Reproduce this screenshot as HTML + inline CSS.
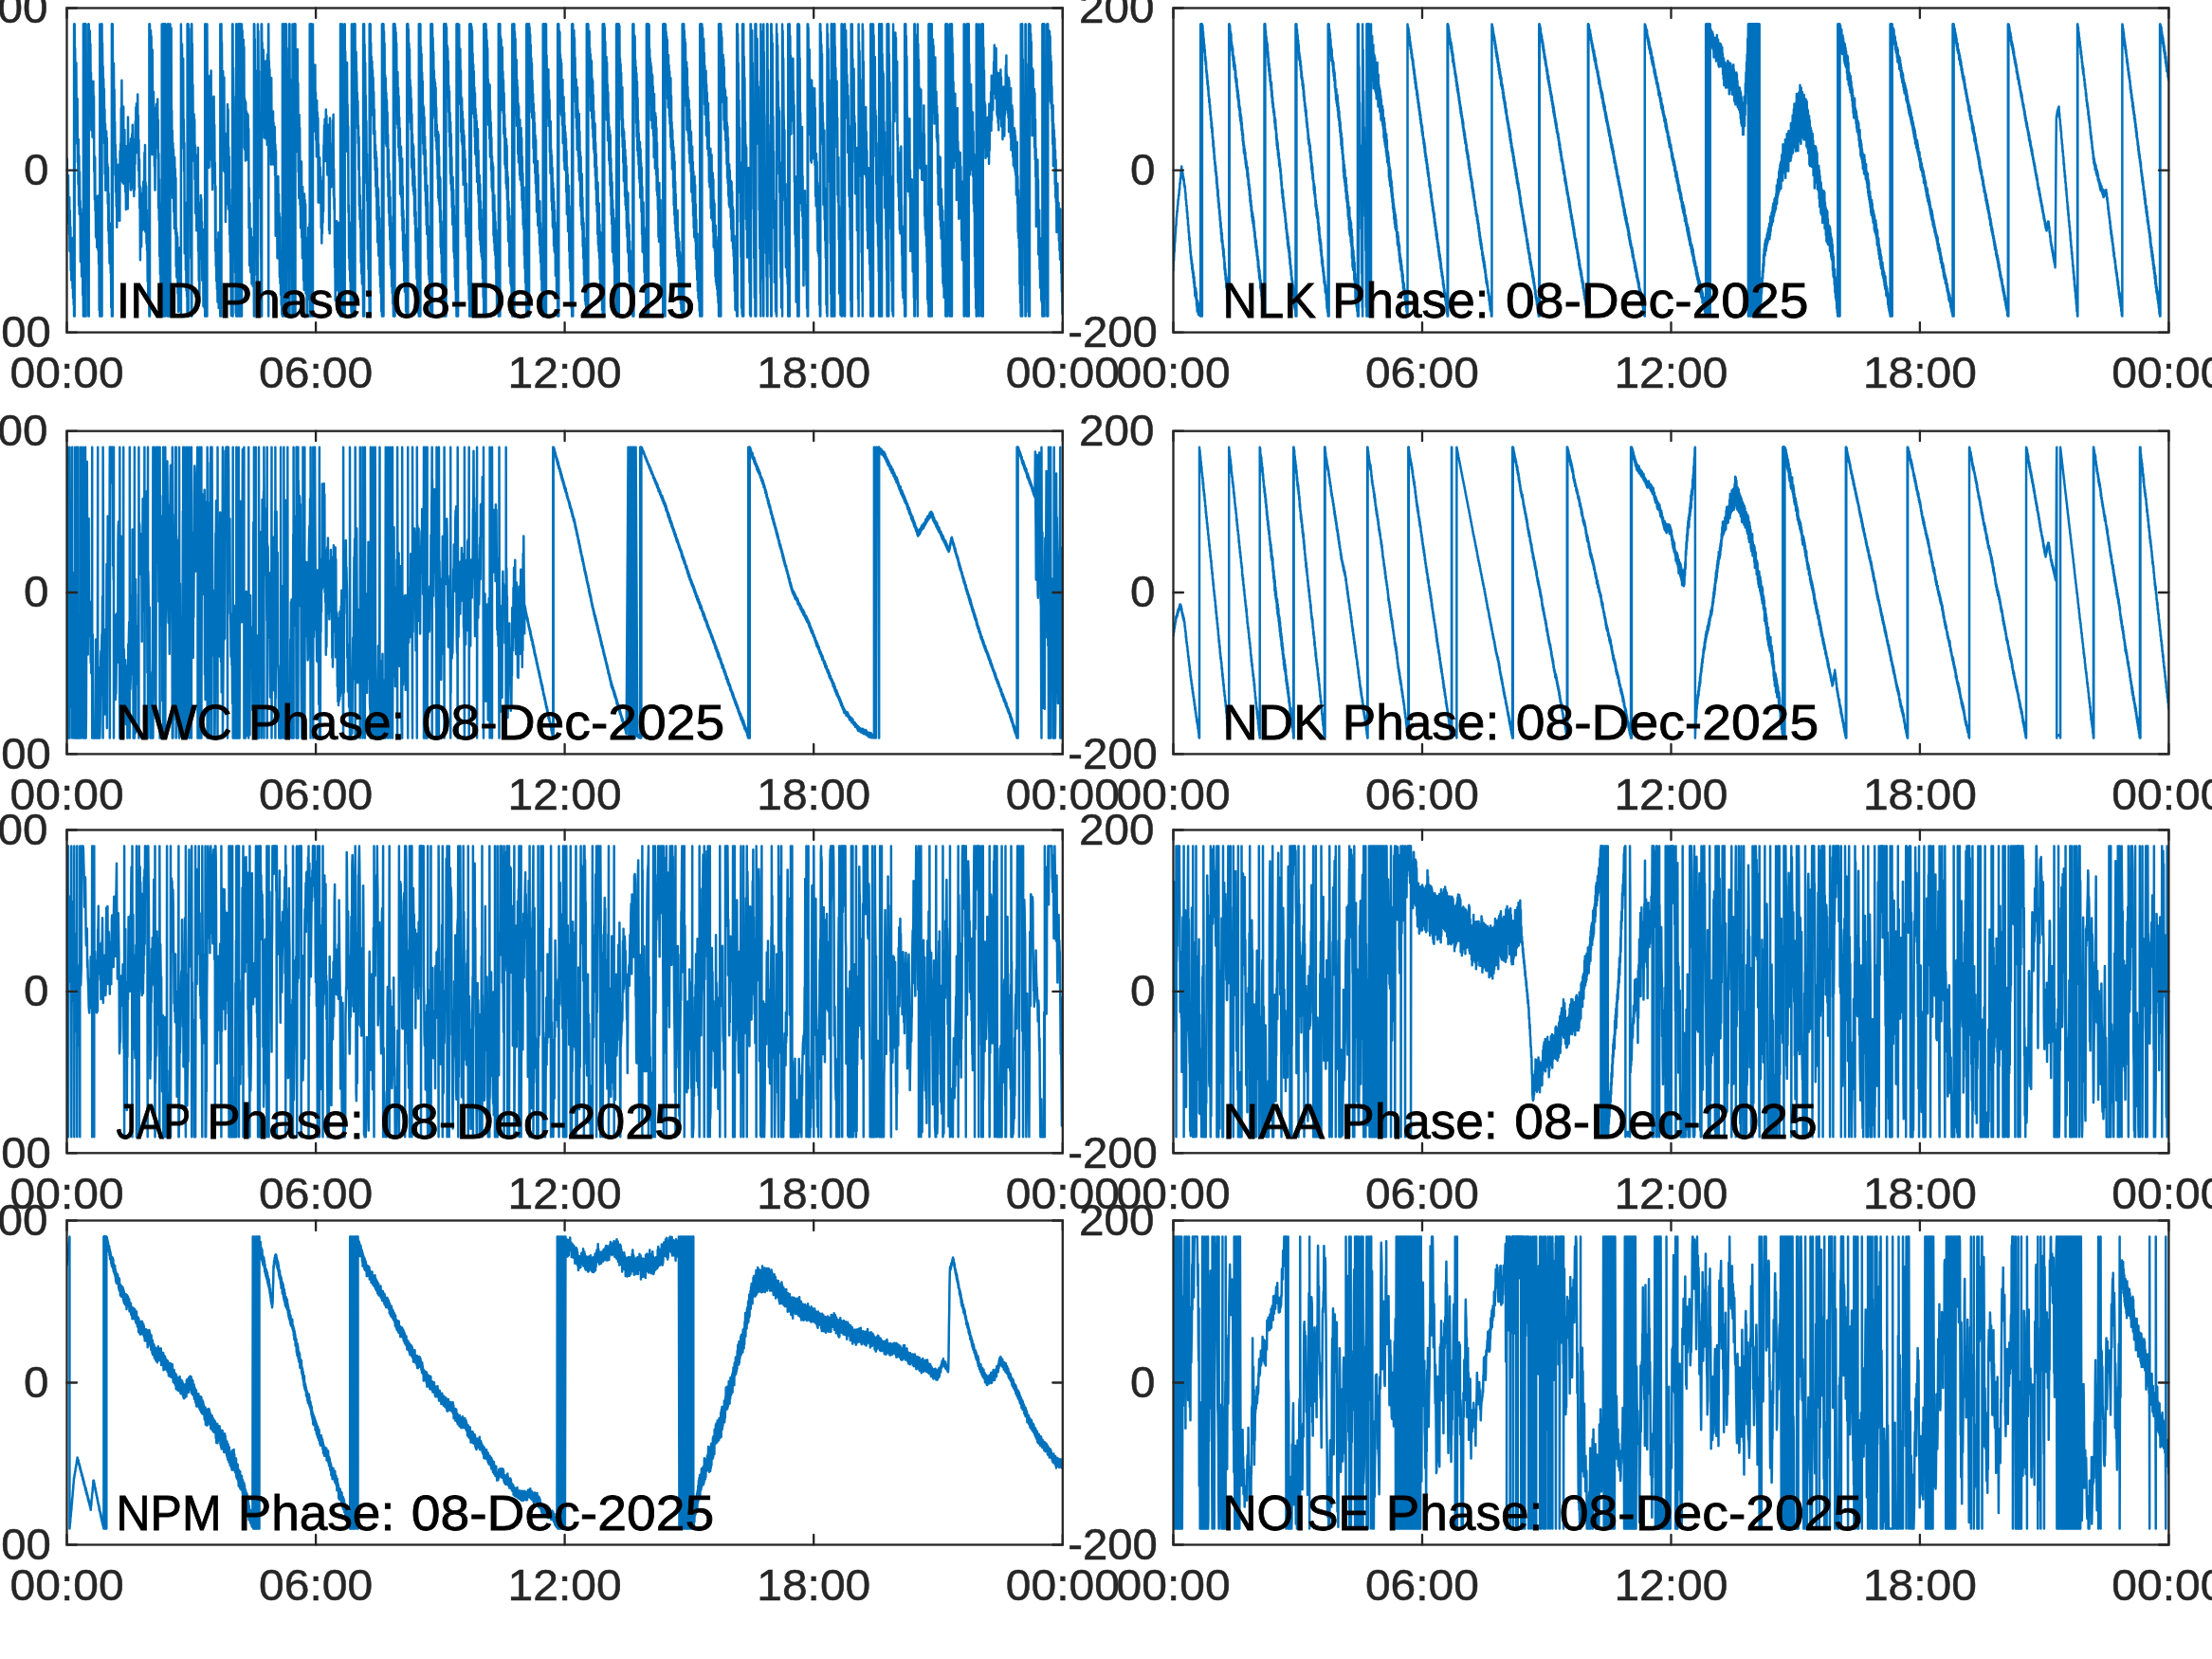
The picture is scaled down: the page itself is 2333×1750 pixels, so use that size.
<!DOCTYPE html>
<html><head><meta charset="utf-8"><title>VLF Phase 08-Dec-2025</title>
<style>
html,body{margin:0;padding:0;background:#fff;}
body{width:2333px;height:1750px;overflow:hidden;}
svg{display:block;font-family:"Liberation Sans", sans-serif;}
.ax{fill:none;stroke:#262626;stroke-width:2.3;stroke-linecap:square;stroke-linejoin:miter;}
.tk{fill:none;stroke:#262626;stroke-width:2.3;stroke-linecap:round;}
.d{fill:none;stroke:#0072bd;stroke-width:2.5;stroke-linejoin:round;stroke-linecap:round;}
.tl{fill:#262626;font-size:46.0px;stroke:#262626;stroke-width:0.5px;}
.lb{fill:#000;font-size:52.6px;stroke:#000;stroke-width:0.8px;}
</style></head><body>
<svg width="2333" height="1750" viewBox="0 0 2333 1750">
<rect x="0" y="0" width="2333" height="1750" fill="#fff"/>
<defs>
<filter id="g" filterUnits="userSpaceOnUse" x="0" y="0" width="2333" height="1750"><feOffset dx="0" dy="0"/></filter>
<clipPath id="c0"><rect x="70.5" y="8.5" width="1050.3" height="342.1"/></clipPath>
<clipPath id="c1"><rect x="1237.5" y="8.5" width="1049.9" height="342.1"/></clipPath>
<clipPath id="c2"><rect x="70.5" y="454.7" width="1050.3" height="340.7"/></clipPath>
<clipPath id="c3"><rect x="1237.5" y="454.7" width="1049.9" height="340.7"/></clipPath>
<clipPath id="c4"><rect x="70.5" y="875.5" width="1050.3" height="340.8"/></clipPath>
<clipPath id="c5"><rect x="1237.5" y="875.5" width="1049.9" height="340.8"/></clipPath>
<clipPath id="c6"><rect x="70.5" y="1287.5" width="1050.3" height="342"/></clipPath>
<clipPath id="c7"><rect x="1237.5" y="1287.5" width="1049.9" height="342"/></clipPath>
</defs>
<g id="ax-IND">
<path class="d" clip-path="url(#c0)" d="M70.5 204.9l.3-37.3 .3 40.6 .3-22.4 .3 39 .3-39.9 .3 51.1 .3-26.1 .3 37 .3-38.8 .3 56.6 .3-42.4 .3 43.4 .3-26.1 .3 45.8 .3-33.8 .3 43.9 .3-36.3 .3 36.7 .3-39.8 .3 48 .3-53 .3 63.3 .3-51.7 .3 58.8 .3-16.9 .1 28.9 0-307.9 .2 37.2 .2-37.2 0 307.9 .1-18.7 .1 18.7 0-307.9 .2 54.7 .3-29.2 .3 41.4 .3-25.1 .3 64.4 .3-65.6 .3 54.9 .3-17.2 .3 47.9 .3-47.7 .3 66.9 .3-22.9 .3 46.2 .3-47.2 .3 69.7 .3-52.5 .3 61.7 .3-44.5 .3 45 .3-14.5 .3 63.9 .3-55.6 .3 51.9 .3-47.2 .3 66.5 .3-50.9 .3 44.7 .3-45.1 .3 71.3 .3-33.7 .3 55.7 0-307.9 0 9.9 .1-9.9 0 307.9 .2-25.3 .2 25.3 0-307.9 .1 20.2 .1-20.2 0 307.9 .2-22.5 .1 22.5 0-307.9 .2 29.4 .2-29.4 0 307.9 .1-16.1 .1 16.1 0-307.9 .2 38.5 .2-38.5 0 307.9 .1-21.9 .1 21.9 0-307.9 .2 40.5 .2-40.5 0 307.9 .1-12.9 0 12.9 0-307.9 .3 75.2 .3-17 .3 68.2 .3 1.8 .3 64.3 .3-18.6 .3 75.6 .3-18.3 .3 76.7 0-307.9 0 12.7 .1-12.7 0 307.9 .2-19.3 .1 19.3 0-307.9 .2 45 .3-38.7 .3 55.9 .3-55.4 .3 60.2 .3-46.1 .3 65.1 .3-34.5 .3 60.1 .3-46.1 .3 44 .3-47.3 .3 56.8 .3-30.9 .3 31.3 .3-59.3 .3 53.4 .3-37.9 .3 79.8 .3-16.5 .3 46 .3-44.5 .3 56.3 .3-15.5 .3 43 .3-33 .3 34.8 .3-39.8 .3 49.2 .3-47.4 .3 47.2 .3-54.2 .3 57.3 .3-55.5 .3 69.8 .3-35.5 .3 84.5 .3-49.7 .3 56 0-307.9 0 9.4 0-9.4 0 307.9 .3-66.5 .3 47.5 .3-34.1 .3 24.1 .3-25.7 .3 54.7 0-307.9 0 9.7 .1-9.7 0 307.9 .2-30 .1 30 0-307.9 .2 41.7 .3-21.8 .3 43.5 .3-19.1 .3 42.5 .3-29.1 .3 45.2 .3-34.8 .3 57.5 .3-35.8 .3 68 .3-53 .3 70.4 .3-35.8 .3 20.8 .3-47.6 .3 56.2 .3-48.6 .3 52.1 .3-24.8 .3 42.2 .3-38.7 .3 66.8 .3-39.1 .3 52.6 .3-21.1 .3 41.6 .3-41.9 .3 43.1 .3-38 .3 47.1 .3-12.8 .3 49.3 .3-38.2 .3 47.5 0-307.9 0 6.6 .1-6.6 0 307.9 .2-21.7 .1 21.7 0-307.9 .2 29.7 .2-29.7 0 307.9 .1-9.3 0 9.3 0-307.9 .3 75.2 .3-21.5 .3 47.1 .3-59.7 .3 64.9 .3-37 .3 57.1 .3-23 .3 56 .3-31.6 .3 49.3 .3-35 .3 50.4 .3-23.9 .3 45.8 .3-47 .3 35.3 .3-52.8 .3 27.4 .3-28.9 .3 58.7 .3-34.4 .3 24.8 .3-43.9 .3 53.8 .3-73.5 .3 31.7 .3-38.8 .3 18.4 .3-56.6 .3 36.8 .3-65.9 .3 52.6 .3-1.1 .3 56.3 .3-65.7 .3 50.6 .3-65.1 .3 81.6 .3-25.1 .3-10.3 .3-21.5 .3 56.5 .3-22.6 .3 31.5 .3-27.3 .3 45.8 .3-56.6 .3 48.8 .3-59.3 .3 58.3 .3-47.1 .3 55.1 .3-96.7 .3 41 .3-11.4 .3 25 .3-21.7 .3 35.1 .3-40 .3 35.7 .3 1.6 .3 11.3 .3-53.8 .3 54.3 .3-31.1 .3 17.1 .3-45 .3 35.4 .3-45.2 .3 45.4 .3-19.4 .3 40.7 .3-51.3 .3 59.7 .3-54.3 .3 47.6 .3-42 .3 14.9 .3-44.5 .3 32 .3-47.3 .3 43.9 .3-48.2 .3 52 .3-49.9 .3 35.3 .3-47 .3 61.3 .3-38.8 .3 58.1 .3-32.2 .3 49.7 .3-29.3 .3 51.4 .3-23.4 .3 78 .3-64.9 .3 34.4 .3-38.9 .3 55.4 .3-56.1 .3 39.5 .3-18.2 .3 14.2 .3-41.3 .3 37.4 .3-43.9 .3 50.1 .3-51.2 .3 14.1 .3-43.7 .3 57.7 .3-65.9 .3 91.5 .3-51.8 .3 48.8 .3-44.8 .3 60.1 .3-35.3 .3 43.1 .3-14.8 .3 47.4 .3-45.4 .3 66.6 .3-67 .3 62.7 .3-33.3 .2 52.8 0-307.9 .1 25.2 .1-25.2 0 307.9 .2-27.6 .2 27.6 0-307.9 .1 27.1 .3-21.3 .3 25.7 .3-24.9 .3 34.2 .3-28.1 .3 56.8 .3-5.5 .3 73.5 .3-110.7 .3 91.1 .3-30.1 .3 27.5 .3-44.2 .3 66 .3-30.6 .3 43.3 .3-24.6 .3 49.8 .3-50.8 .3 17.4 .3-53.4 .3 33.8 .3-37.9 .3 45.8 .3-37.9 .3 28.7 .3-41.7 .3 52 .3-30.1 .3 92.8 .3-57.3 .3 70.6 .3-43.3 .3 80.9 .3-55.1 .3 74.1 .3-49.7 .3 61.3 .3-44.4 .3 55.2 .3-38.7 .3 60.6 0-307.9 0 3.5 0-3.5 0 307.9 .3-79.9 .3 69.9 .3-38.6 .2 48.6 0-307.9 .1 24.2 .1-24.2 0 307.9 .2-59.3 .3 59.3 0-307.9 0 9.1 .1-9.1 0 307.9 .2-30.8 .2 30.8 0-307.9 .1 24.4 .2-24.4 0 307.9 .1-24.3 .2 24.3 0-307.9 .1 16.1 .1-16.1 0 307.9 .2-32.2 .2 32.2 0-307.9 .1 28.4 .1-28.4 0 307.9 .2-52.4 .3 37.2 .3-47.1 .3 29 .3-29.3 .3 45 .3-30.6 .3 48.2 0-307.9 0 1.8 0-1.8 0 307.9 .3-12 .1 12 0-307.9 .2 28.5 .2-28.5 0 307.9 .1-24.8 .1 24.8 0-307.9 .2 25 .3-21.5 .3 53.1 .3-45.4 .3 44.4 .2-55.6 0 307.9 .1-22.3 .1 22.3 0-307.9 .2 72.8 .3-35.6 .3 16.3 .3-49.5 .3 113.4 .3-26.6 .3 87.8 .3-66.2 .3 70.7 .3-57.6 .3 55.7 .3-49 .3 65.8 .3-38.6 .3 56 .3-75.2 .3 52 .3-39.5 .3 68.5 .3-59.1 .3 93.3 .3-40 .3 51.5 .3-46.9 .3 36.2 .3-31.8 .3 59.6 .3-18.6 .3 37.8 .3-54.5 .3 49 .3-45.6 .3 49.2 .3-65.7 .3 51.2 .3-40.3 .3 53.9 .3-10 .1 17.5 0-307.9 .2 29 .3-7.5 .3 42.1 .3-42.8 .3 52.1 .3-34.3 .3 51.3 .3-53.7 .3 95 .3-30.7 .3 54.7 .3-30.1 .3 116.6 .3-51.7 .3 13.9 .3-15.7 .3 71 .3-29.8 .3 51.4 .3-24.5 .3 30.8 .3-23 .2 43.8 0-307.9 .1 40.2 .1-40.2 0 307.9 .2-46.8 .2 46.8 0-307.9 .1 20.7 .3-20.7 0 307.9 0-.3 0 .3 0-307.9 .3 43.2 .3-38.3 .3 53.2 .3-15.9 .3 90.4 .3-38.3 .3 99.5 .3-22.6 .3 75.6 .3-43.8 .3 104.9 0-307.9 0 4.3 .1-4.3 0 307.9 .2-17 .1 17 0-307.9 .2 63.3 .3-42.6 .3 113.7 .3-70.4 .3 66.7 .3-35 .3 48.1 .3-48.9 .3 29.5 .3-23.7 .3 62.8 .3-35.8 .3 71.8 .3-61.6 .3 54.2 .3-42.7 .3 68.2 .3-65 .3 61.2 .3-74 .3 54.4 .3-64.1 .3 109.2 .3-39 .3 70.2 .3-38.3 .3 61.7 .3-51.7 .3-21 .3-32.5 .3 34.8 .3-43.1 .3 28.3 .3-24.4 .3 63 .3-39 .3 61.8 .3-45.7 .3 43.3 .3-51.4 .3 81.2 .3-39.4 .3 20.6 .3-21.1 .3 41.9 .3-41.5 .2 49.9 0-307.9 .1 21.2 .3-21.2 0 307.9 0-4.1 0 4.1 0-307.9 .3 49.7 .3-37.7 .3 41.8 .3-53.8 0 307.9 0-2.2 0 2.2 0-307.9 .3 80.2 .3-80.2 0 307.9 0-6.5 0 6.5 0-307.9 .3 65.6 .3-12.7 .3 56.3 .3-39.5 .3 36.7 .3-37.8 .3 82.5 .3-96.3 .3 41.8 .3-37.8 .3 58.9 .3-52.7 .3 44.6 .3-60.6 .3 94.1 .3-34.4 .3 41.6 .3-3.1 .3 27.1 .3-46.6 .3 39.4 .3-90.1 .3 44.5 .3-45.3 .3 70.5 .3-40.6 .3 58.3 .3-18 .3 92.7 .3-68.1 .3 84.2 .3-28.2 .3 43.9 .3-43.2 .3 51.8 .3-15.6 .3 29.1 .3-46.4 .3 24 .3-50.9 .3 79.6 .3-78.2 .3 64.1 .3-46.5 .3 61 .3-6.2 .1 14.4 0-307.9 .2 59.4 .3-29.3 .3 40.6 .2-70.7 0 307.9 .1-15.5 .1 15.5 0-307.9 .2 53.3 .3-34.2 .3 69.9 .3-2.7 .3 38 .3-75 .3 72.9 .3-46.2 .3 78.6 .3-98.8 .3 98 .3-37.4 .3 40.3 .3-19.4 .3 71.2 .3-93 .3 61.9 .3-47 .3 59.3 .3-46.8 .3 27.6 .3-86.2 .3 44.1 .3-38.4 .3 105 .3-65.4 .3 48.5 .3-38.3 .3 81.9 .3-47.3 .3 65.9 .3-48.9 .3 82.6 .3-15.2 .3 48.4 .3-96.1 .3 73.1 .3-25.5 .3 49.2 0-307.9 0 5.3 0-5.3 0 307.9 .3-29.6 .1 29.6 0-307.9 .2 80.9 .3-35 .3 38.4 .3-8.2 .3 75.4 .3-25.2 .3 76.4 .3-7.5 .3 66.7 .3-43.2 .3 86.3 .3-40.5 .2 43.4 0-307.9 .1 14.2 .2-14.2 0 307.9 .1-10.5 0 10.5 0-307.9 .3 69 .3-40.1 .3 64.8 .3-68.5 .3 38 .3-63.2 0 307.9 0-1.2 0 1.2 0-307.9 .3 39.5 .2-39.5 0 307.9 .1-26 .1 26 0-307.9 .2 34.8 .3-31.9 .3 45.1 .2-48 0 307.9 .1-12.8 0 12.8 0-307.9 .3 68.2 .2-68.2 0 307.9 .1-26.2 .1 26.2 0-307.9 .2 61.5 .3-50.6 .3 42.1 .3-53 0 307.9 0-5.7 0 5.7 0-307.9 .3 49.9 .3-43.3 .3 44.1 .3-24.3 .3 32.2 .3-42.5 .3 44.7 .3-36.6 .3 106.3 .3-52.3 .3 54.5 .3-52 .3 63.1 .3-61.3 .3 51.5 .3-42.4 .3 42.3 .3-38.6 .3 47.6 .3-48.8 .3 41.8 .3-40.1 .3 43.1 .3-28.6 .3 104.5 .3-41.8 .3 81.3 .3-65.7 .3 62.2 .3-27.1 .3 38 .3-46.4 .3 16.3 .3-5 .3 47.2 .3-49.2 .3 33.6 .3-1.1 .3 19 .3-35.7 .3 34.1 .3-43.4 .3 76.8 0-307.9 0 7.8 .1-7.8 0 307.9 .2-30.3 .1 30.3 0-307.9 .2 37.7 .3-22.1 .3 66.4 .3-33.4 .3 85.5 .3-14.2 .3 91.4 .3-26.5 .3 79.9 .3-18.2 .3 53.8 .3-16.1 .1 23.7 0-307.9 .2 54 .3-46.8 .3 57.8 .3-15.5 .3 86.5 .3-41.4 .3 47.4 .3-9.9 .3 51.9 .3-27.7 .3 84.8 .3 7.3 .3 59.5 0-307.9 0 2.4 0-2.4 0 307.9 .3-32.5 .1 32.5 0-307.9 .2 44.2 .3-24.6 .3 91.5 .3-64.6 .3 41.2 .3-60.7 .3 48.7 .3-22.7 .3 66.7 .3-61.5 .3 30.1 .3-34.5 .3 53.6 .3-68.5 .3 82 .3-33.6 .3 27.5 .3-44.9 .3 57.3 .3-95.3 .3 57.9 .3-55.5 .3 5.3 .2-39.6 0 307.9 .1-9.7 0 9.7 0-307.9 .3 53.5 .3-14.8 .3 43.6 .3-34.8 .3 46.8 .3-.1 .3 44.9 .3-11.1 .3 20 .3-91.4 .3 55.1 .3-18.1 .3 48.2 .3-42.3 .3 43.1 .3-50.8 .3 56 .3-43.8 .3 44.1 .3-32.9 .3 27.3 .3-34.4 .3 51.4 .3-32.6 .3 96.2 .3-89.9 .3 70.9 .3-31.6 .3 50.7 .3-45.3 .3 68.8 .3-40.9 .3 31.4 .3-76.8 .3 62.9 .3-43.9 .3 68.2 .3-48.2 .3 67 .3-63.1 .3 70.1 .3-34.3 .3 46.4 .3-43.7 .3 54 .3-39.1 .3 49.3 .3-65.4 .3 67.3 0-307.9 0 6.2 .1-6.2 0 307.9 .2-20.7 .1 20.7 0-307.9 .2 44.3 .3-26.9 .3 48.1 .3-40.8 .3 15.1 .2-39.8 0 307.9 .1-10.4 .1 10.4 0-307.9 .2 42.9 .3-42.9 0 307.9 0-6.2 .1 6.2 0-307.9 .2 20 .1-20 0 307.9 .2-24.7 .1 24.7 0-307.9 .2 57.2 .3-57.2 0 307.9 0-1.4 0 1.4 0-307.9 .3 60.9 .3-35.4 .3 81.6 .3-26.6 .3 110.1 .3-47.5 .3 107.5 .3-29.7 .3 85.7 .3-40.5 .2 41.8 0-307.9 .1 12.1 .1-12.1 0 307.9 .2-31.1 .1 31.1 0-307.9 .2 73.5 .3-15.6 .3 61.1 .3-34.1 .3 88.1 .3-43.7 .3 75.2 .3-22.1 .3 97.8 .3 6.4 .1 21.3 0-307.9 .2 66.4 .3-55 .3 51.2 .3-61.2 .3 41.9 .2-43.3 0 307.9 .1-23.2 .1 23.2 0-307.9 .2 42 .2-42 0 307.9 .1-35 .2 35 0-307.9 .1 18.5 .1-18.5 0 307.9 .2-19.8 .1 19.8 0-307.9 .2 58.8 .3-27 .3 30.4 .3-22 .3 43 .3-21.3 .3 72.5 .3-107.9 .3 85.3 .3-49.7 .3 93.8 .3-15.9 .3 43.5 .3-88.2 .3 57 .3-43 .3 81.2 .3-14.6 .3 38.9 .3-51.6 .3 35.2 .3-53.6 .3 80.2 .3-49.9 .3 71.5 .3-75.3 .3 49.5 .3-31.8 .3 81.1 .3-75.5 .3 85.5 .3-101.2 .3 63.1 .3-56.5 .3 71.1 .3-66.8 .3 94 .3-48.3 .3 40.7 .3-27.5 .3 58.7 .3-63.7 .3 43.5 .3-61.7 .3 47.8 .3-59 .3 44.6 .3-26.9 .3 58.5 .3-80.1 .3 97.5 0-307.9 0 5.8 0-5.8 0 307.9 .3-63.9 .2 63.9 0-307.9 .1 21.5 .2-21.5 0 307.9 .1-15.6 .1 15.6 0-307.9 .2 30 .2-30 0 307.9 .1-10.5 .1 10.5 0-307.9 .2 20.7 .3-14.5 .3 53.2 .3-39.9 .3 37.1 .3-56.6 0 307.9 0-.9 0 .9 0-307.9 .3 98.7 .3-42.4 .3 56.2 .3-39.5 .3 36.3 .3-51.2 .3 42.7 .3-58 .3 70.9 .3-41.6 .3 49.9 .3-31.4 .3 49.1 .3-59.2 .3 43.5 .3-31.2 .3 46.8 .3-40.6 .3 88.8 .3-61 .3 60.6 .3-47 .3 33.1 .3-32.9 .3 47.5 .3-37.2 .3 27.5 .3-18.1 .3 54.6 .3-47 .3 62.9 .3-25.1 .3 15 .3-54 .3 42.4 .3-43.9 .3 32.1 .3-69.5 .3 2.5 .3-23.7 .3 20 .3-26.8 .3 44.6 .3-28.9 .3 16.5 .3-42 .3 50.1 .3-43.6 .3 32.8 .3-13.8 .3 43.5 .3-33.7 .3 12.6 .3-31.7 .3 36.2 .3 2.2 .3 72.6 .3-74.6 .3 78.1 .3-121.9 .3 74 .3-25.1 .3 22.8 .3-32 .3 32.9 .3-29.1 .3 16.2 .3-32.6 .3 31.5 .3-55.9 .3 37.9 .3-44.3 .3 85.8 .3-28.3 .3 42.5 .3-11.4 .3 72.7 .3-21.1 .3 56 .3-66.1 .3 23 .3-22.3 .3 23.7 .3-41.9 .3 63.6 .3-50.7 .3 60 .3-65.2 .3 41.3 .3-47.2 .3 80.1 .3-27.2 .3 30.9 .3-34.1 .3 20.5 .3-28.3 .2 56.5 0-307.9 .1 18.9 .1-18.9 0 307.9 .2-19.4 .1 19.4 0-307.9 .2 36.9 .3-36.9 0 307.9 0-1.6 0 1.6 0-307.9 .3 59.3 .3-42.2 .3 42.6 .3-59.7 0 307.9 0-1.9 0 1.9 0-307.9 .3 42 .3-30 .3 94.6 .3-72.8 .3 48.2 .3-69.7 .3 40 .2-52.3 0 307.9 .1-18 .1 18 0-307.9 .2 63.3 .3-34.7 .3 60 .3-22.9 .3 55.7 .3-33.3 .3 45.7 .3-93.4 .3 62.8 .3-18.5 .3 42.3 .3-19.4 .3 90.8 .3-7.4 .3 56 .3-38.1 .3 50.3 .3-28.7 .3 40.7 .3-20.7 .3 42 .3-30.5 .3 41.4 .3-23.3 .1 27.8 0-307.9 .2 48.8 .3-47.3 .3 44.6 .3-46.1 0 307.9 0-7.5 0 7.5 0-307.9 .3 44 .3-25.8 .3 26.7 .3-44.9 0 307.9 0-8.6 .1 8.6 0-307.9 .2 13.9 .1-13.9 0 307.9 .2-32.9 .2 32.9 0-307.9 .1 19.7 .2-19.7 0 307.9 .1-15.9 .1 15.9 0-307.9 .2 45.3 .3-7.1 .3 50.9 .3-60 .3 38.5 .3-17.1 .3 33.4 .3-11.5 .3 37.2 .3-28.6 .3 44.6 .3-18.8 .3 46.5 .3-34.3 .3 72.5 .3-30.7 .3 45 .3-25.4 .3 34 .3-18.4 .3 55.5 .3-31.5 .3 43.2 .3-39.4 .3 49.8 .3-43.3 .3 44.7 .3-13.7 .3 46.6 0-307.9 0 6 0-6 0 307.9 .3-32.3 .2 32.3 0-307.9 .1 32.1 .2-32.1 0 307.9 .1-19.4 .1 19.4 0-307.9 .2 46 .3-24.6 .3 65.7 .3-46.5 .3 62.8 .3-27.9 .3 70.4 .3-44.1 .3 66 .3-31 .3 49.6 .3-15.8 .3 67 .3-36.3 .3 57.1 .3-27.2 .3 56.4 .3-45.3 .3 65.6 0-307.9 0 12.2 .1-12.2 0 307.9 .2-33.6 .2 33.6 0-307.9 .1 29.9 .2-29.9 0 307.9 .1-16.2 .1 16.2 0-307.9 .2 57.6 .3-38 .3 50.2 .3-35.5 .3 46.8 .3-42 .3 56.6 .3-47.4 .3 43.7 .3-35.6 .3 58.9 .3-44.2 .3 44.1 .3-25.4 .3 51.7 .3-29.2 .3 41.6 .3-26.5 .3 43.7 .3-36.6 .3 47.6 .3-41.4 .3 65.4 .3-54.1 .3 78 .3-57.7 .3 44.1 .3-42.5 .3 70.2 .3-51.5 .3 51.3 .3-39.6 .3 60.4 .3-47.8 .3 60.1 .3-41.1 .3 48.1 .3-34.4 .3 53.2 .3-44.9 .3 50 0-307.9 0 3.6 0-3.6 0 307.9 .3-38.9 .2 38.9 0-307.9 .1 11.7 .1-11.7 0 307.9 .2-34.4 .2 34.4 0-307.9 .1 22.6 .2-22.6 0 307.9 .1-10.2 .1 10.2 0-307.9 .2 47.3 .3-39.6 .3 63.3 .3-50.8 .3 74.8 .3-41.4 .3 42.4 .3-39.1 .3 69.2 .3-53.6 .3 56.1 .3-48.8 .3 49.1 .3-36 .3 68.6 .3-45.4 .3 65.6 .3-49.6 .3 66.7 .3-41.5 .3 55.2 .3-47.2 .3 61.9 .3-44.9 .3 71.5 .3-51.2 .3 55 .3-47.2 .3 65.9 .3-40.7 .3 48.1 .3-45.5 .3 56.8 .3-34 .3 46.9 0-307.9 0 8.8 .1-8.8 0 307.9 .2-31.1 .2 31.1 0-307.9 .1 20.6 .2-20.6 0 307.9 .1-18.1 .1 18.1 0-307.9 .2 34.1 .2-34.1 0 307.9 .1-8.3 .1 8.3 0-307.9 .2 35.6 .3-31.9 .3 56.9 .3-52 .3 71.7 .3-60.3 .3 62.7 .3-27.8 .3 50.5 .3-55.1 .3 59.1 .3-42.3 .3 62.7 .3-53.9 .3 62.8 .3-40.5 .3 46.8 .3-35 .3 69.2 .3-50.7 .3 35.5 .3-34.6 .3 53.1 .3-29 .3 48.7 .3-60.6 .3 76 .3-46.5 .3 67.4 .3-42 .3 53.3 .3-44.5 .3 65.3 .3-43.2 .3 54.6 .3-59.8 .3 60.6 .3-36.1 .3 55.8 .3-48.3 .3 51.7 .3-28.4 .2 30.4 0-307.9 .1 13.3 .1-13.3 0 307.9 .2-29.8 .1 29.8 0-307.9 .2 30.4 .2-30.4 0 307.9 .1-16.3 .1 16.3 0-307.9 .2 58.7 .3-53.3 .3 60.1 .3-45.4 .3 50.6 .3-44.2 .3 67.1 .3-34.9 .3 45 .3-37.5 .3 45 .3-32.6 .3 72.2 .3-56 .3 58.4 .3-37.4 .3 54.3 .3-43.6 .3 49.5 .3-47.3 .3 51.2 .3-37.9 .3 60.4 .3-42.1 .3 50.8 .3-37.5 .3 55.5 .3-31 .3 59.1 .3-41.1 .3 52.4 .3-52.8 .3 67.3 .3-58.5 .3 62.6 .3-46.4 .3 64.2 .3-48.4 .2 51.4 0-307.9 .1 18.6 .2-18.6 0 307.9 .1-17.7 .1 17.7 0-307.9 .2 33.4 .2-33.4 0 307.9 .1-9.6 0 9.6 0-307.9 .3 52.5 .3-52.5 0 307.9 0-.1 0 .1 0-307.9 .3 75.8 .3-51.9 .3 49.1 .3-41.6 .3 72.6 .3-53 .3 52.7 .3-43.5 .3 65.8 .3-40.4 .3 51.3 .3-49.1 .3 49.6 .3-39.4 .3 60.1 .3-39.8 .3 57.5 .3-43.1 .3 58.5 .3-40.3 .3 61.1 .3-37 .3 46.3 .3-51.4 .3 50.9 .3-32.9 .3 59.7 .3-34.9 .3 51.4 .3-49.1 .3 54.1 .3-45 .3 72.2 .3-41.7 .3 45.7 .3-31.2 .2 38.8 0-307.9 .1 18.5 .1-18.5 0 307.9 .2-31.6 .2 31.6 0-307.9 .1 23.6 .1-23.6 0 307.9 .2-31.5 .1 31.5 0-307.9 .2 41.7 .3-41.7 0 307.9 0-4.2 0 4.2 0-307.9 .3 47.3 .3-32.7 .3 45.1 .3-30.5 .3 54.8 .3-35.2 .3 46.6 .3-37.2 .3 40.9 .3-37.5 .3 56.5 .3-51.2 .3 56.4 .3-35.5 .3 44.1 .3-26 .3 41.4 .3-34.1 .3 49.9 .3-49.4 .3 69.4 .3-66.6 .3 70.1 .3-47.1 .3 51.1 .3-29.6 .3 47.9 .3-46.3 .3 72.4 .3-38.4 .3 45.3 .3-33.9 .3 54 .3-42.1 .3 56.5 .3-40.5 .3 34.8 .3-24.9 .3 56.9 .3-35.5 .2 40.7 0-307.9 .1 12.4 .1-12.4 0 307.9 .2-41.6 .2 41.6 0-307.9 .1 18.4 .1-18.4 0 307.9 .2-36.5 .2 36.5 0-307.9 .1 25.1 .1-25.1 0 307.9 .2-30.2 .1 30.2 0-307.9 .2 40.2 .2-40.2 0 307.9 .1-10.2 0 10.2 0-307.9 .3 53.8 .3-50.6 .3 65.9 .3-46.7 .3 49.1 .3-46.3 .3 51.7 .3-37.9 .3 53.5 .3-27.7 .3 48.8 .3-42.9 .3 58.4 .3-35.8 .3 64.4 .3-54.9 .3 65.3 .3-52.3 .3 59.3 .3-35.2 .3 53.3 .3-31.6 .3 49.7 .3-50.2 .3 50 .3-36.7 .3 65.5 .3-48.2 .3 54.8 .3-44 .3 64.2 .3-43.2 .3 56.7 .3-47.6 .3 60.8 .3-42 .3 56.5 0-307.9 0 3.3 0-3.3 0 307.9 .3-40.5 .2 40.5 0-307.9 .1 18.3 .1-18.3 0 307.9 .2-30.3 .2 30.3 0-307.9 .1 29.1 .2-29.1 0 307.9 .1-23.1 .1 23.1 0-307.9 .2 40.1 .3-34.2 .3 45.1 .3-50.5 .3 63.8 .3-38 .3 57.6 .3-57.9 .3 55.4 .3-32.7 .3 65.2 .3-37.1 .3 46.8 .3-45.4 .3 48.8 .3-35.1 .3 62.3 .3-54.2 .3 69.1 .3-57.3 .3 51.6 .3-45.9 .3 52.2 .3-36.7 .3 54.3 .3-45.2 .3 68.3 .3-43 .3 56.2 .3-55.1 .3 54.3 .3-28.3 .3 43.9 .3-34.4 .3 54.3 .3-33.7 .3 50.4 .3-38.8 .3 54.3 .3-29.4 .2 46.8 0-307.9 .1 10.7 .1-10.7 0 307.9 .2-37.8 .3 34.9 .3-25.7 .2 28.6 0-307.9 .1 20.2 .2-20.2 0 307.9 .1-18.2 .1 18.2 0-307.9 .2 36.5 .3-33.9 .3 46.4 .3-42.2 .3 58.1 .3-33.9 .3 63 .3-51.5 .3 49.6 .3-42.4 .3 49 .3-32 .3 52 .3-46 .3 64.3 .3-47.9 .3 48.8 .3-42.6 .3 54.5 .3-47.3 .3 63.6 .3-52 .3 47.2 .3-50.8 .3 68.5 .3-45.9 .3 54.7 .3-25.4 .3 53.8 .3-56.7 .3 67.8 .3-58.6 .3 63.6 .3-45.7 .3 53.9 .3-45.1 .3 49.6 .3-39.4 .3 42.2 .3-25.5 .3 45.7 .3-42.1 .3 62.1 .3-46.6 .3 66.5 0-307.9 0 4.1 0-4.1 0 307.9 .3-47.8 .3 47.8 0-307.9 0 4.5 0-4.5 0 307.9 .3-33.4 .2 33.4 0-307.9 .1 16.3 .1-16.3 0 307.9 .2-26.7 .1 26.7 0-307.9 .2 29.2 .2-29.2 0 307.9 .1-21.3 .1 21.3 0-307.9 .2 49.4 .3-43.7 .3 38.8 .3-27.6 .3 49.1 .3-40.6 .3 65.8 .3-33 .3 48 .3-43.7 .3 42.6 .3-34.5 .3 50.2 .3-56.9 .3 76 .3-48.8 .3 42.1 .3-29.6 .3 50.5 .3-34.6 .3 52.9 .3-33 .3 36.8 .3-30.1 .3 51.3 .3-47.4 .3 72.7 .3-37.9 .3 45.3 .3-49.9 .3 58.6 .3-40.2 .3 44.7 .3-35 .3 49.9 .3-41.3 .3 60.4 .3-37.4 .3 60.5 .3-57.2 .3 47.8 .3-43.4 .3 47 .3-38 .2 51.3 0-307.9 .1 13.8 .1-13.8 0 307.9 .2-32.5 .2 32.5 0-307.9 .1 7.8 .1-7.8 0 307.9 .2-26.1 .1 26.1 0-307.9 .2 31.8 .2-31.8 0 307.9 .1-9.5 0 9.5 0-307.9 .3 55.6 .3-42.5 .3 48 .3-45.1 .3 54.1 .3-44.8 .3 65.1 .3-66.2 .3 53.5 .3-27.7 .3 44 .3-34.9 .3 56.2 .3-42.7 .3 47 .3-24.2 .3 52.6 .3-38 .3 42 .3-31.4 .3 47.6 .3-47.3 .3 52.3 .3-45.2 .3 57 .3-29.4 .3 51.1 .3-45.4 .3 67.6 .3-41.9 .3 41.2 .3-34.4 .3 61.4 .3-53.1 .3 49 .3-29.8 .3 52.2 .3-56.1 .3 58.7 .3-42.3 .3 67.1 .3-45.2 .3 52.2 0-307.9 0 8.4 0-8.4 0 307.9 .3-46.6 .3 41.8 .3-43.1 .2 47.9 0-307.9 .1 11.4 .1-11.4 0 307.9 .2-15.6 .1 15.6 0-307.9 .2 48.6 .3-48.6 0 307.9 0-7.1 0 7.1 0-307.9 .3 48.8 .3-40.7 .3 59.9 .3-52.8 .3 58.5 .3-37 .3 58.9 .3-58 .3 69.5 .3-48.2 .3 38.3 .3-30.7 .3 70.2 .3-53.4 .3 62.3 .3-58.9 .3 52.6 .3-33.6 .3 53.2 .3-58.2 .3 63.2 .3-54.6 .3 55.7 .3-55.5 .3 60.5 .3-50.2 .3 65.8 .3-45.7 .3 54.2 .3-36.6 .3 54.1 .3-30.6 .3 35.2 .3-44.3 .3 71.6 .3-38 .3 52.2 .3-43.6 .3 58.4 .3-51.5 .3 63.3 .3-32 .3 55.6 0-307.9 0 .2 0-.2 0 307.9 .3-40.5 .3 40.5 0-307.9 0 7.5 .1-7.5 0 307.9 .2-26.3 .2 26.3 0-307.9 .1 19 .1-19 0 307.9 .2-30 .2 30 0-307.9 .1 29 .2-29 0 307.9 .1-13 .1 13 0-307.9 .2 27.3 .2-27.3 0 307.9 .1-20.8 .1 20.8 0-307.9 .2 44.4 .3-41 .3 41.2 .3-33.6 .3 54.2 .3-43.4 .3 52.5 .3-38.6 .3 57.3 .3-51.7 .3 57 .3-38.8 .3 40.5 .3-26.4 .3 57 .3-46.7 .3 62.1 .3-53 .3 51.6 .3-40.2 .3 52.4 .3-39.5 .3 50.5 .3-45.8 .3 55.8 .3-30.4 .3 50.6 .3-47.9 .3 36.3 .3-42 .3 67.7 .3-53.4 .3 54.2 .3-24.9 .3 32.4 .3-31.1 .3 43.7 .3-46.3 .3 55.1 .3-32.3 .3 41.7 .3-34.4 .3 52.5 .3-51.4 .3 62.7 .3-38.9 .3 51.4 .3-35.6 .3 50.4 0-307.9 0 3.5 0-3.5 0 307.9 .3-42.6 .2 42.6 0-307.9 .1 22.5 .1-22.5 0 307.9 .2-28.6 .2 28.6 0-307.9 .1 28.1 .2-28.1 0 307.9 .1-24.8 .1 24.8 0-307.9 .2 27.3 .2-27.3 0 307.9 .1-14.2 .1 14.2 0-307.9 .2 32.6 .3-32.6 0 307.9 0-3.3 0 3.3 0-307.9 .3 45.8 .3-45.8 0 307.9 0-.3 0 .3 0-307.9 .3 70.4 .3-37.2 .3 54.7 .3-38.4 .3 42.4 .3-43.5 .3 50.2 .3-51 .3 59.7 .3-37.5 .3 37.9 .3-27.7 .3 55 .3-29.4 .3 51.6 .3-54.9 .3 48.2 .3-17.8 .3 54.3 .3-48.7 .3 57.9 .3-44.8 .3 62.1 .3-46.3 .3 48.5 .3-42.1 .3 60 .3-46.8 .3 52.7 .3-43.3 .3 45 .3-32.1 .3 56.1 .3-48.4 .3 48.2 .3-36.9 .3 58.9 .3-61 .3 63.9 .3-25.8 .2 43.8 0-307.9 .1 15.6 .1-15.6 0 307.9 .2-20.7 .1 20.7 0-307.9 .2 30.6 .2-30.6 0 307.9 .1-17 .1 17 0-307.9 .2 49.9 .3-43 .3 42.7 .3-41.2 .3 60.8 .3-37.4 .3 58.9 .3-53.8 .3 58 .3-53.8 .3 55.7 .3-33.2 .3 42.7 .3-47.8 .3 66.9 .3-37.1 .3 33.1 .3-44.7 .3 68.1 .3-51.3 .3 59.3 .3-45.4 .3 46.2 .3-39.6 .3 40.7 .3-34.1 .3 56.3 .3-43.3 .3 66.7 .3-49.7 .3 44.7 .3-36.6 .3 59.8 .3-46 .3 42.6 .3-45 .3 69.4 .3-47.7 .3 65.9 .3-46.7 .3 59.8 .3-26.8 .3 50.7 .3-56.2 .3 60.6 .3-42.3 .2 51.1 0-307.9 .1 12 .1-12 0 307.9 .2-18.8 .1 18.8 0-307.9 .2 32.2 .2-32.2 0 307.9 .1-16.9 .1 16.9 0-307.9 .2 39.4 .3-32.8 .3 36 .3-36.3 .3 54.7 .3-46.3 .3 49.1 .3-28.7 .3 46.8 .3-24.8 .3 41.4 .3-40.1 .3 51.6 .3-40.2 .3 62.5 .3-65.6 .3 48.9 .3-25.2 .3 48.9 .3-43.7 .3 60 .3-61.2 .3 69.8 .3-50.7 .3 52.2 .3-31.1 .3 57.2 .3-52.2 .3 57.2 .3-30.6 .3 45.4 .3-53.8 .3 58.7 .3-33.5 .3 51.5 .3-30 .3 42.3 .3-37.3 .3 54.8 .3-38.8 .3 52.2 .3-43.7 .3 57.8 .3-52.5 .3 56.3 .3-42.3 .3 51.5 .3-30.8 .2 33.9 0-307.9 .1 21 .2-21 0 307.9 .1-19.5 .1 19.5 0-307.9 .2 26.9 .2-26.9 0 307.9 .1-15.1 .1 15.1 0-307.9 .2 45 .3-45 0 307.9 0-5.3 0 5.3 0-307.9 .3 40.3 .3-30.5 .3 49.2 .3-51.8 .3 53.9 .3-35.6 .3 50 .3-43.8 .3 59.5 .3-53.5 .3 48.7 .3-47.2 .3 59.9 .3-41.9 .3 52.8 .3-50 .3 59.1 .3-44.4 .3 57 .3-40.1 .3 43.8 .3-31.5 .3 46.6 .3-45.5 .3 55.1 .3-35.2 .3 49.3 .3-37.3 .3 53.3 .3-39.5 .3 47.3 .3-19.7 .3 43.2 .3-54.6 .3 65.6 .3-35.5 .3 42.3 .3-50.3 .3 57.7 .3-35.5 .3 57.5 .3-49.6 .3 57.4 .3-56.3 .3 61.9 .3-52.4 .3 59.6 .3-38.2 .3 50.2 .3-39.9 .3 46.5 0-307.9 0 5.4 0-5.4 0 307.9 .3-32.3 .2 32.3 0-307.9 .1 15.1 .1-15.1 0 307.9 .2-32.4 .2 32.4 0-307.9 .1 24.9 .2-24.9 0 307.9 .1-10 .1 10 0-307.9 .2 35.7 .3-32.1 .3 52.5 .3-37.7 .3 57.5 .3-38.6 .3 46.2 .3-49.1 .3 66.4 .3-60.5 .3 59.6 .3-36.2 .3 59 .3-51.1 .3 50.1 .3-27.1 .3 49.1 .3-35.6 .3 39.5 .3-35.5 .3 57.9 .3-53.2 .3 64.1 .3-39.5 .3 59.8 .3-43.7 .3 53.1 .3-43.9 .3 73.5 .3-54.5 .3 53.4 .3-43.8 .3 55.1 .3-46.1 .3 49.3 .3-46 .3 68.6 .3-53.5 .3 59.8 .3-46.7 .3 48.8 .3-31.2 .3 54.5 0-307.9 0 5.8 0-5.8 0 307.9 .3-30.3 .2 30.3 0-307.9 .1 13.9 .1-13.9 0 307.9 .2-31.8 .2 31.8 0-307.9 .1 24 .2-24 0 307.9 .1-15.9 .1 15.9 0-307.9 .2 49.4 .3-49.4 0 307.9 0-8.1 .1 8.1 0-307.9 .2 38.8 .3-38.8 0 307.9 0-3.8 0 3.8 0-307.9 .3 53.5 .3-51.5 .3 67.6 .3-33.7 .3 51.1 .3-45.1 .3 46.5 .3-37 .3 49.5 .3-31.7 .3 49 .3-51.9 .3 63 .3-29.1 .3 45.9 .3-35.4 .3 54.5 .3-51.9 .3 52.8 .3-43.1 .3 58.3 .3-49.2 .3 58.6 .3-50.6 .3 55.9 .3-46.6 .3 66.1 .3-40 .3 48.4 .3-32.5 .3 48.6 .3-62 .3 63.6 .3-32.5 .3 51.8 .3-49.6 .3 60.3 .3-42.6 .3 40.1 .3-30.3 .3 46.7 .3-30.9 .3 48.3 .3-49.6 .3 40.8 .3-43.9 .3 56 .3-35.7 .2 37.4 0-307.9 .1 20.5 .2-20.5 0 307.9 .1-20.1 .1 20.1 0-307.9 .2 30.2 .3-30.2 0 307.9 0-3.1 0 3.1 0-307.9 .3 61 .3-49.7 .3 58.1 .3-56.4 .3 55.2 .3-30.3 .3 40.8 .3-33.3 .3 58.8 .3-52.6 .3 67.1 .3-58.2 .3 72.9 .3-55.5 .3 61.1 .3-37.4 .3 46.3 .3-32.4 .3 47.2 .3-37.3 .3 41.5 .3-42.7 .3 58.6 .3-50.9 .3 50.9 .3-36.9 .3 52.1 .3-46.6 .3 70.1 .3-50 .3 68.5 .3-46.5 .3 39.3 .3-44.8 .3 53.8 .3-27.6 .3 47.1 .3-44.7 .3 56 .3-40.3 .3 47.7 .3-43.6 .3 61.2 .3-42.9 .3 53.2 0-307.9 0 4.7 0-4.7 0 307.9 .3-42.6 .2 42.6 0-307.9 .1 11.3 .1-11.3 0 307.9 .2-19.1 .1 19.1 0-307.9 .2 33.9 .2-33.9 0 307.9 .1-13.3 .1 13.3 0-307.9 .2 37.5 .2-37.5 0 307.9 .1-9.6 0 9.6 0-307.9 .3 55.8 .3-55.1 .3 61.7 .3-36.3 .3 52.8 .3-42.7 .3 47.9 .3-43.1 .3 60.1 .3-56.2 .3 43.4 .3-35.8 .3 57.2 .3-55.5 .3 50 .3-38.6 .3 51.7 .3-38.9 .3 61.9 .3-66.9 .3 50.8 .3-26.8 .3 54.5 .3-58.2 .3 57.5 .3-53.6 .3 61.1 .3-49.2 .3 66.1 .3-50.7 .3 55.8 .3-28.5 .3 43.5 .3-27.9 .3 56.5 .3-47.5 .3 52.7 .3-62 .3 51.5 .3-24.5 .3 32.4 .3-41.5 .3 69.4 .3-39.8 .3 65.7 .3-45.4 .3 49.8 .3-57.8 .3 59.8 .3-34.4 .3 55.2 0-307.9 0 307.9 .3-56.2 .3 56.2 0-307.9 0 3.8 0-3.8 0 307.9 .3-47.2 .2 47.2 0-307.9 .1 11.6 .1-11.6 0 307.9 .2-31 .2 31 0-307.9 .1 28.2 .2-28.2 0 307.9 .1-13.6 .1 13.6 0-307.9 .2 31.5 .3-31.3 .3 40.9 .3-32.9 .3 41.4 .3-36.5 .3 49.9 .3-46.7 .3 62.4 .3-38.4 .3 47.4 .3-55.3 .3 55.9 .3-45 .3 53.6 .3-47.2 .3 55.3 .3-47.7 .3 61.5 .3-62.2 .3 73.2 .3-54.1 .3 56.7 .3-29 .3 49.2 .3-41.5 .3 41.1 .3-29.2 .3 49 .3-42.4 .3 61.2 .3-54 .3 64.4 .3-56.5 .3 65.6 .3-44.1 .3 51.7 .3-38.6 .3 46.1 .3-27.7 .3 38.6 .3-35.8 .3 43.8 .3-48 .3 53.9 .3-30.9 .3 36.1 .3-29.5 .3 60.4 .3-56.9 .3 41 .3-30 .3 42 .3-39 .3 50.9 .3-47.3 .3 54.5 .3-55 .3 55.3 .3-49.1 .3 55.2 0-307.9 0 10.2 0-10.2 0 307.9 .3-52.5 .2 52.5 0-307.9 .1 19.4 .1-19.4 0 307.9 .2-29.4 .1 29.4 0-307.9 .2 36.9 .2-36.9 0 307.9 .1-11.1 .1 11.1 0-307.9 .2 47.8 .3-40.8 .3 57.1 .3-48.8 .3 65 .3-60.6 .3 51.9 .3-24.8 .3 39.6 .3-46.5 .3 71.4 .3-65 .3 65.8 .3-46.3 .3 49.3 .3-37.2 .3 44.7 .3-42.1 .3 55.9 .3-46.5 .3 56 .3-44.6 .3 45.5 .3-34.3 .3 43 .3-41.6 .3 62.9 .3-48.5 .3 43 .3-42.2 .3 58 .3-41.9 .3 56.7 .3-46.7 .3 59.8 .3-52.8 .3 62.4 .3-64.2 .3 51.6 .3-42.3 .3 59.3 .3-39.1 .3 57.6 .3-41.5 .3 52.5 .3-26.7 .3 37.7 .3-48.7 .3 60.7 .3-34 .3 41.5 .3-35.3 .3 38.5 .3-35 .3 44.9 .3-42.2 .3 48 0-307.9 0 4.8 0-4.8 0 307.9 .3-26.3 .2 26.3 0-307.9 .1 23 .1-23 0 307.9 .2-30.7 .1 30.7 0-307.9 .2 35.5 .3-35.5 0 307.9 0-7 0 7 0-307.9 .3 51 .3-51 0 307.9 0-.5 0 .5 0-307.9 .3 57.3 .3-53.3 .3 45.3 .3-29.9 .3 39.4 .3-43.7 .3 50.3 .3-34.9 .3 53.8 .3-40.3 .3 51.2 .3-44.8 .3 39.8 .3-41 .3 67.9 .3-53.7 .3 48.9 .3-40.1 .3 59.1 .3-45.5 .3 40 .3-42.6 .3 55.7 .3-35.8 .3 63.5 .3-34.6 .3 39.6 .3-35.4 .3 34.6 .3-39.7 .3 63.1 .3-52.3 .3 62.5 .3-66.7 .3 59.9 .3-40.9 .3 50.4 .3-50.1 .3 62 .3-55.3 .3 71.5 .3-49.9 .3 47.3 .3-43.4 .3 49.9 .3-23.8 .3 50.7 .3-53.8 .3 59.7 .3-47.6 .3 51.2 .3-38.3 .3 42.2 .3-51.2 .3 57.9 .3-34.5 .3 42.1 .3-43.6 .3 57.8 0-307.9 0 7.9 0-7.9 0 307.9 .3-47.3 .3 47.3 0-307.9 0 8.2 .1-8.2 0 307.9 .2-36.4 .2 36.4 0-307.9 .1 20.9 .1-20.9 0 307.9 .2-32 .2 32 0-307.9 .1 27.6 .2-27.6 0 307.9 .1-9 .1 9 0-307.9 .2 42.2 .3-34.6 .3 42.6 .3-36.3 .3 63.1 .3-41.2 .3 46.1 .3-49.8 .3 44.5 .3-39.8 .3 64.3 .3-55.6 .3 65.2 .3-43.2 .3 45.1 .3-43 .3 52.9 .3-44.1 .3 55.3 .3-56.8 .3 70.7 .3-43.7 .3 58.3 .3-54.2 .3 59.8 .3-47.8 .3 61.1 .3-27.5 .3 36.8 .3-42.7 .3 45.1 .3-38.3 .3 38.5 .3-27 .3 37.7 .3-38.6 .3 51.1 .3-49.7 .3 61.9 .3-51.9 .3 49.6 .3-33.1 .3 43.7 .3-40.8 .3 48.4 .3-18.5 .3 37 .3-39.6 .3 58.2 .3-45.5 .3 65.2 .3-62.2 .3 54.5 .3-37.3 .3 46.2 .3-31.7 .2 37.3 0-307.9 .1 14.1 .1-14.1 0 307.9 .2-32.7 .2 32.7 0-307.9 .1 26.9 .3-17.3 .3 59.2 .3-27.3 .3 80.2 .3-41.5 .3 72.9 .3-43.6 .3 68.4 .3-32.5 .3 63.1 .3-16.7 .3 53.7 .3-15.4 .3 69.1 .3-48 .3 54.4 .3-23.2 .1 25.5 0-307.9 .2 61 .3-53.6 .3 18.3 .2-25.7 0 307.9 .1-7.3 0 7.3 0-307.9 .3 87.9 .3-53.5 .3 65.4 .3-43.1 .3 57.7 .3-11.6 .3 49.2 .3-25.1 .3 78.8 .3-75.8 .3 86.6 .3-63 .3 92.3 .3-64.4 .3 29.3 .3-20 .3 28.4 .3-67.7 .3 65.3 .3-4.1 .3 60 .3-48.4 .3 81.9 .3-31.9 .2 33.7 0-307.9 .1 23.4 .3-23.4 0 307.9 0-2.3 0 2.3 0-307.9 .3 71.9 .3-31 .3 16.4 .3-50.8 .3 80.5 .3-46.2 .3 63.5 .3-9.8 .3 100.5 .3-15.7 .3 67.4 .3-11.1 .3 52.9 .3-43 .3 62.4 0-307.9 0 11.3 .1-11.3 0 307.9 .2-25.2 .2 25.2 0-307.9 .1 20.8 .2-20.8 0 307.9 .1-11.7 0 11.7 0-307.9 .3 73.3 .3-48.3 .3 35.3 .3-45.2 .3 53.3 .3-8.5 .3 66 .3-60 .3 52.5 .3-21.8 .3 99.3 .3-14.9 .3 55.6 .3-40.5 .3 87.8 .3-38.1 .2 62.1 0-307.9 .1 19.7 .3-12.4 .3 82.6 .3-22.4 .3 78.9 .3-9.6 .3 72.2 .3-6.6 .3 65.3 .3 5.3 .1 34.9 0-307.9 .2 41.2 .3-11.7 .3 62.4 .3 6.4 .3 95.7 .3-42.6 .3 57.2 .3-53 .3 85.9 .3-51.6 .3 75.4 .3 1.5 .3 41.1 0-307.9 0 6.7 .1-6.7 0 307.9 .2-30.2 .1 30.2 0-307.9 .2 84.2 .3-35.9 .3 101.1 .3-43.2 .3 72.9 .3-53.4 .3 95.8 .3-17 .3 48.1 .3-46.3 .3 60.7 .3-28.3 .3 69.2 0-307.9 0 12.4 .1-12.4 0 307.9 .2-17.2 .1 17.2 0-307.9 .2 64.8 .3-54.1 .3 53.2 .3-43.8 .3 100.7 .3-23.4 .3 58.1 .3-21.3 .3 81.3 .3-29.5 .3 86.3 .3-63.1 .3 63.5 .3-26.7 .3 56.9 .3-52.4 .3 55.4 .3-27.4 .1 29.4 0-307.9 .2 78.8 .3-68.9 .3 63.5 .3-51 .3 66.4 .3-28.5 .3 64.7 .3-37.4 .3 70.4 .3-66.5 .3 85.8 .3-31.7 .3 94.3 .3-22.3 .3 49.6 .3-39 .3 70.8 .3-33.4 .3 32.6 .3-30.4 .1 40.1 0-307.9 .2 41.5 .3-34.7 .3 52.2 .3-22.9 .3 57.1 .3 9.5 .3 78.6 .3-70 .3 74.5 .3-12.6 .3 38.9 .3-43.8 .3 88.2 .3-72.5 .3 52.9 .3-44.4 .3 73.3 .3-43 .3 51.1 .3-16.9 .3 50.9 0-307.9 0 .9 0-.9 0 307.9 .3-59.8 .3 56.9 .3-45.6 .2 48.5 0-307.9 .1 30.1 .3-30.1 0 307.9 0-2.2 0 2.2 0-307.9 .3 69.7 .3-57.2 .3 66.7 .3-45.8 .3 82.4 .3-60.5 .3 43.8 .3-63 .3 65.5 .3-54.8 .3 42.8 .3-53.4 .3 51 .3-16.6 .3 44.9 .3-30.4 .3 81.3 .3-3 .3 58.2 .3-61.2 .3 74.1 .3-42.8 .3 101.1 .3-76.3 .3 76.5 .3-76.9 .3 59.1 .3 17.2 .1 15.5 0-307.9 .2 29 .3-19 .3 23.9 .1-33.9 0 307.9 .2-34 .2 34 0-307.9 .1 32.4 .3-31.4 .3 54.1 .3-19.1 .3 73.1 .3-15.4 .3 53.3 .3-16.6 .3 58.8 .3-43.8 .3 51.3 .3-88.2 .3 93.9 .3-42.1 .3 65.7 .3-48.9 .3 98.5 .3-70.2 .3 53.7 .3-63.7 .3 35.9 .3-55.6 .3 56.7 .3-34.5 .3 57.8 .3-65.3 .3 84.5 .3-43.6 .3 68.4 .3-50.5 .3 58.7 0-307.9 0 4.5 0-4.5 0 307.9 .3-39.4 .2 39.4 0-307.9 .1 13.2 .3-9.6 .3 65.2 .3-13.7 .3 38.7 .3-67.1 .3 75.9 .3-44.6 .3 58.6 .3-46.3 .3 73.8 .3-51.4 .3 53.1 .3-86.7 .3 45.7 .3-38.4 .3 75.3 .3-55.9 .3 55.2 .3-45.6 .3 46 .3-58.1 .3 58.3 .3-73.9 .3 81 .3-60.4 .3 93.2 .3-43 .3 53.1 .3-55.2 .3 36.5 .3-27.7 .3 63 .3-41.2 .3 72.1 .3-37.7 .3 40 .3-70.7 .3 74.3 .3-16.7 .3 67.7 .3-66.7 .3 78.6 0-307.9 0 9.2 .1-9.2 0 307.9 .2-25.3 .1 25.3 0-307.9 .2 37.6 .3-29.2 .3 45.7 .3-32.5 .3 75.3 .3-65.6 .3 90.7 .3-39.1 .3 43.7 .3-22.7 .3 86.6 .3-77.7 .3 65.4 .3-66.4 .3 94.1 .3-33.1 .3 55.4 .3-30.1 .3 48.5 .3-26.9 .3 75.9 .3-40.3 .3 49.7 .3-19.8 .1 22.7 0-307.9 .2 55.7 .3-45.7 .3 50.7 .3-34.7 .3 57.9 .3-25.3 .3 92.8 .3-51.2 .3 66.5 .3-20.9 .3 85.3 .3-21.1 .3 74.3 .3-48.3 .2 71.9 0-307.9 .1 15.3 .1-15.3 0 307.9 .2-69.5 .3 69.5 0-307.9 0 13.1 .2-13.1 0 307.9 .1-9.9 0 9.9 0-307.9 .3 73.3 .3-62.5 .3 63 .3-52.5 .3 15.9 .2-37.2 0 307.9 .1-25.1 .1 25.1 0-307.9 .2 26.3 .2-26.3 0 307.9 .1-14.6 .1 14.6 0-307.9 .2 34.8 .3-10.8 .3 58.2 .3-36.1 .3 58.5 .3-26.9 .3 30.5 .3-48.4 .3 70.2 .3-31.3 .3 81.1 .3-37.1 .3 45 .3-47.2 .3 86.4 .3-35.1 .3 92.1 .3-46.9 .3 30.1 .3-19.8 .3 59.3 .3-25.4 .3 21.3 .3-37.2 .2 42.6 0-307.9 .1 22 .2-22 0 307.9 .1-21.7 .1 21.7 0-307.9 .2 40.1 .3-35.6 .3 65.9 .3 1.5 .3 86 .3 11.1 .3 69.7 .3-3.5 .2 72.7 0-307.9 .1 30.4 .2-30.4 0 307.9 .1-21.3 .1 21.3 0-307.9 .2 69 .3-49.8 .3 43.7 .3-56.6 .3 60.9 .3-41 .3 48.6 .3-21.3 .3 45.8 .3-35.8 .3 71.8 .3-59.9 .3 50.5 .3-18.7 .3 74.3 .3-47.5 .3 58.5 .3-44 .3 78.7 .3-37.4 .3 101.4 .3-.4 .1 17.1 0-307.9 .2 40.7 .3-38.4 .3 31.5 .3-33.8 0 307.9 0-1 0 1 0-307.9 .3 57.1 .3-20.3 .3 81.5 .3-64.5 .3 44.8 .3-51.6 .3 74.4 .3-24.7 .3 48.6 .3-41 .3 74.3 .3-45.8 .3 43.9 .3-41.8 .3 33.9 .3-38.5 .3 87 .3-69.9 .3 58 .3-15.6 .3 100.4 .3-37.6 .2 55.3 0-307.9 .1 29.8 .3-11.2 .3 61.5 .3-51.9 .3 55 .3-24.8 .3 100.4 .3-58.9 .3 60.4 .3-6.7 .3 87.1 .3-35.1 .3 76.5 .3-26.7 .2 52.5 0-307.9 .1 12.2 .3-6 .3 79.2 .3-46 .3 74.2 .3-13.9 .3 58.1 .3-57.4 .3 47.3 .3-40.3 .3 50.5 .3-70.5 .3 74 .3-48 .3 80 .3-60.3 .3 84.5 .3-40.2 .3 58.7 .3-61.9 .3 42.2 .3-64.7 .3 80.5 .3-49.9 .3 70.5 .3-42.6 .3 59.5 .3-52.5 .3 90.7 0-307.9 0 9.6 .1-9.6 0 307.9 .2-41.8 .2 41.8 0-307.9 .1 11.7 .1-11.7 0 307.9 .2-52.2 .3 34.1 .3-49.9 .3 44.2 .3-17.7 .2 41.5 0-307.9 .1 17.3 .3-17.3 0 307.9 0-2.1 0 2.1 0-307.9 .3 24.6 .3-12.9 .3 94.7 .3-53.9 .3 39.1 .3-57.2 .3 71 .3-14.7 .3 48.8 .3-42.9 .3 71.8 .3-43.3 .3 82.7 .3-49.8 .3 52.5 .3-29 .3 52.4 .3-59.8 .3 86.9 .3-29.3 .2 76.2 0-307.9 .1 19.8 .2-19.8 0 307.9 .1-16.1 .1 16.1 0-307.9 .2 53.8 .3-53.8 0 307.9 0-3.1 0 3.1 0-307.9 .3 79.3 .3-65.7 .3 3.4 .3-17 0 307.9 0-3.1 0 3.1 0-307.9 .3 45.4 .2-45.4 0 307.9 .1-12 .1 12 0-307.9 .2 43.9 .3-12.6 .3 46.5 .3-28.4 .3 33.3 .3-30.2 .3 79.1 .3-28.6 .3 56.4 .3-45.7 .3 79.9 .3-56.5 .3 33 .3-8.4 .3 64.6 .3-39.8 .3 72.7 .3-16.2 .2 64.9 0-307.9 .1 18.6 .1-18.6 0 307.9 .2-48.8 .3 28.3 .3-22.7 .2 43.2 0-307.9 .1 23.3 .1-23.3 0 307.9 .2-38.7 .1 38.7 0-307.9 .2 49 .3-17.3 .3 62.8 .3-33 .3 44.9 .3-3.5 .3 87.7 .3-30.5 .3 55.8 .3-13 .3 67.9 .3-41.2 .3 73.1 .3-32.8 .3 36.6 .3-19.7 .1 21.1 0-307.9 .2 26.9 .3 3.6 .3 47.1 .3-41.8 .3 66.6 .3-85.9 .3 53 .3-60.7 .3 43.1 .3-37.6 .3 78.2 .3-38.9 .3 36.2 .3-50.6 .3 83.2 .3-5.6 .3 49.8 .3-36.3 .3 51.7 .3-46.6 .3 60.9 .3-41.2 .3 61.4 .3-40.2 .3 44.3 .3-47.8 .3 41.4 .3-85.4 .3 60.9 .3 2.1 .3 51.6 .3-7.9 .3 45.3 .3-35.8 .3 43.3 .3-74.9 .3 72.8 .3-35.6 .3 44.3 .3-44.3 .2 57.3 0-307.9 .1 16.4 .2-16.4 0 307.9 .1-5.4 .1 5.4 0-307.9 .2 24.9 .2-24.9 0 307.9 .1-23.4 .1 23.4 0-307.9 .2 78.6 .3-66.1 .3 70.7 .3-49.4 .3 65.8 .3-3.3 .3 59.9 .3-47.6 .3 67.7 .3-56 .3 36.8 .3-34.3 .3 12 .3-35.1 .3 82.1 .3-28 .3 85.5 .3-30.8 .3 23.2 .3-53.1 .3 47.5 .3-62.4 .3 56.9 .3 1.1 .3 39.3 .3-50.8 .3 49.8 .3-24.3 .3 52.7 .3-23.3 .2 42.8 0-307.9 .1 16.5 .1-16.5 0 307.9 .2-24.8 .1 24.8 0-307.9 .2 47.2 .3-36.2 .3 95.8 .3-40.6 .3 58 .3 28.3 .3 69.7 .3-26.1 .3 94.3 .3-.7 .1 18.2 0-307.9 .2 69 .3-48.1 .3 60.7 .3-44.2 .3 76.3 .3-47.4 .3 57.9 .3-29.9 .3 57.7 .3-51.1 .3 26.6 .3-58.5 .3 81.3 .3-29.2 .3 42.8 .3-39.3 .3 35.9 .3-45.7 .3 49.6 .3-46.5 .3 42.5 .3-74.7 .3 78.4 .3-48 .3 86 .3-21.1 .3 35.7 .3-35 .3 40.7 .3-73.2 .3 84.6 .3-41.1 .3 58.1 .3-44.4 .3 83.7 .3-68.3 .3 73.2 .3-42.8 .3 55.7 0-307.9 0 5.9 .1-5.9 0 307.9 .2-7.5 0 7.5 0-307.9 .3 48.4 .3-37 .3 45.5 .2-56.9 0 307.9 .1-25.3 .1 25.3 0-307.9 .2 36.2 .3-31.6 .3 32 .2-36.6 0 307.9 .1-21.4 .1 21.4 0-307.9 .2 42.9 .3-42.9 0 307.9 0-6.1 0 6.1 0-307.9 .3 93.7 .3-68.4 .3 55 .3-64.3 .3 74.1 .3-67.7 .3 64.4 .3-52.2 .3 70.4 .3-68.2 .3 40.3 .3-42.3 .3 65.4 .3-26.7 .3 26.7 .3-29 .3 48.8 .3-33.7 .3 37.7 .3-28.7 .3 62.3 .3-41.2 .3 73.8 .3-38.3 .3 37.9 .3-50.6 .3 44 .3-36.8 .3 59.6 .3-65.6 .3 72.8 .3-23.4 .3 36.2 .3-52 .3 47.4 .3-29.6 .3 63.8 .3-59.1 .3 76.6 .3-64.6 .3 68.2 .3-44.7 .3 56.1 .3-60.7 .3 54.3 .3-24.4 .3 25.5 .3-30.3 .2 55.4 0-307.9 .1 12.5 .1-12.5 0 307.9 .2-22.5 .1 22.5 0-307.9 .2 47.4 .2-47.4 0 307.9 .1-35.7 .2 35.7 0-307.9 .1 33.7 .2-33.7 0 307.9 .1-9.4 .1 9.4 0-307.9 .2 34.8 .3-14.3 .3 87.4 .3-18.7 .3 99.3 .3-22.8 .3 118.1 .3 3.5 .3 20.6 0-307.9 0 2.2 0-2.2 0 307.9 .3-55.3 .3-2.6 .3-21.9 .3 79.8 0-307.9 0 7.1 .1-7.1 0 307.9 .2-33.6 .1 33.6 0-307.9 .2 55.5 .2-55.5 0 307.9 .1-46.1 .2 46.1 0-307.9 .1 32.2 .3-18.1 .3 67.3 .3-50.2 .3 91.2 .3-61.4 .3 90.5 .3-58.6 .3 29 .3-33.5 .3 28.1 .3-43.4 .3 62.1 .3-42.9 .3 52.4 .3-47.7 .3 88.3 .3-75.2 .3 46.5 .3-68.1 .3 83.7 .3-48.4 .3 52.2 .3-42.5 .3 71.7 .3-69.1 .3 51.3 .3-50.6 .3 50.6 .3-52 .3 54.1 .3-39.4 .3 55 .3-5.7 .3 28.8 .3-62.4 .3 82.9 .3-73.4 .3 54.9 .3-42.4 .3 60 .3-27.7 .3 87.8 0-307.9 0 2.8 0-2.8 0 307.9 .3-48.5 .3 48.5 0-307.9 0 9 0-9 0 307.9 .3-55 .3 35.2 .3-68.1 .3 48.9 .3 12.8 .3 25.5 .3-50.2 .3 50.9 0-307.9 0 .5 0-.5 0 307.9 .3-42.3 .2 42.3 0-307.9 .1 32.9 .2-32.9 0 307.9 .1-20.3 .1 20.3 0-307.9 .2 24.1 .1-24.1 0 307.9 .2-45.4 .2 45.4 0-307.9 .1 23.5 .2-23.5 0 307.9 .1-12.7 0 12.7 0-307.9 .3 91.9 .3-49.8 .3 62.2 .3-26.2 .3 80.5 .3-47.6 .3 38.3 .3-85.8 .3 50.1 .3-21.7 .3 54.8 .3-40.9 .3 47.8 .3-60.6 .3 67.4 .3-47.2 .3 76 .3-52.4 .3 60.8 .3-58.3 .3 105.7 .3-28 .3 60.8 .3-55.2 .3 77.1 .3-19.4 .2 27.6 0-307.9 .1 7.3 .3-7.3 0 307.9 0-.2 0 .2 0-307.9 .3 108.4 .3-33.9 .3 81.8 .3-30.2 .3 100.8 .3-46.5 .3 83.4 .3 1.4 .1 42.7 0-307.9 .2 48.8 .3-42.5 .3 60.6 .3 11.8 .3 60.7 .3-9.8 .3 81.7 .3 1.2 .3 95.4 0-307.9 0 3.6 .1-3.6 0 307.9 .2-17.6 .3 16.7 .3-45.9 .2 46.8 0-307.9 .1 23.4 .2-23.4 0 307.9 .1-9.3 0 9.3 0-307.9 .3 48.2 .3-23.6 .3 52.1 .3-28.1 .3 73.3 .3-39.9 .3 47.9 .3-45.1 .3 56.3 .3-42.8 .3 35 .3-34.2 .3 40.2 .3-29 .3 20.2 .3-32.2 .3 40.7 .3-41 .3 36.9 .3-29.2 .3 41.4 .3-63.2 .3 49.2 .3-36 .3 13.2 .3-18.9 .3 18.9 .3-38.6 .3 40.5 .3-58 .3 47.3 .3-33 .3 22 .3-30.6 .3 30.4 .3-34.6 .3 16.5 .3-32.3 .3 33.2 .3-51.1 .3 47.6 .3-38.1 .3 31.5 .3-28.1 .3 43.5 .3-53.2 .3 50.1 .3-24.6 .3 44.8 .3-44.6 .3 47.1 .3-26.2 .3 32.3 .3-39.4 .3 47 .3-50 .3 37.2 .3-47.4 .3 45.9 .3-34.4 .3 36.2 .3-51.4 .3 49.5 .3-41.2 .3 51.2 .3-16.3 .3 17.7 .3-35.8 .3 48.4 .3-48.6 .3 32.8 .3-39.7 .3 33.5 .3-29 .3 47.7 .3-30.1 .3 8.4 .3-29.9 .3 23.7 .3-46.4 .3 40.7 .3-51.5 .3 45.3 .3-24.8 .3 31 .3-26.2 .3 35.4 .3-35.4 .3 40.2 .3-41.9 .3 57 .3-53.8 .3 37.5 .3-19.5 .3 32 .3-28.1 .3 37.9 .3-52.2 .3 65.4 .3-38 .3 26.2 .3-35.3 .3 36.3 .3-31.8 .3 49.9 .3-27.4 .3 36.3 .3-23 .3 12.9 .3-29.1 .3 41.9 .3-39.4 .3 43 .3-37.4 .3 41.3 .3-20.7 .3 41.5 .3-45 .3 37.9 .3-48.5 .3 64.9 .3-28.8 .3 58.8 .3-44.4 .3 50.7 .3-41.9 .3 51.8 .3-26.1 .3 64.6 .3-26.9 .3 46.7 .3-53.4 .3 67.6 0-307.9 0 4.9 0-4.9 0 307.9 .3-58.3 .3 30.3 .3-30.2 .3 58.2 0-307.9 0 1.6 .1-1.6 0 307.9 .2-4.7 0 4.7 0-307.9 .3 74.1 .3-37.3 .3 65.4 .3-19.7 .3 59.5 .3-25.7 .3 78.8 .3 7.7 .3 72.5 .3-41.3 .3 73.9 0-307.9 0 2.1 0-2.1 0 307.9 .3-10.8 0 10.8 0-307.9 .3 63.3 .3-21.5 .3 91.2 .3-16.8 .3 72.3 .3-22.1 .3 94.6 .3-20.5 .3 62.9 .3-36.1 .2 40.6 0-307.9 .1 19 .2-19 0 307.9 .1-11.6 .1 11.6 0-307.9 .2 38.6 .2-38.6 0 307.9 .1-8.8 0 8.8 0-307.9 .3 52 .3-51.4 .3 57.8 .3-48.5 .3 68.1 .3-59.3 .3 75.5 .3-42.2 .3 65.5 .3-70.9 .3 27.1 .3-25.2 .3 51.5 .3-21.9 .3 38.8 .3-48.6 .3 61.3 .3-56.9 .3 69.8 .3-42 .3 60.5 .3-29.8 .3 82.1 .3-45.5 .3 34.7 .3-36.1 .3 19.6 .3-43 .3 59.2 .3-38.1 .3 78.7 .3-44.8 .3 43.6 .3-45.8 .3 62.7 .3-28.8 .3 48.1 .3-52.2 .3 50.4 .3-38.3 .3 53.5 .3-53.7 .3 56.2 .3-24.4 .2 38.6 0-307.9 .1 16.8 .1-16.8 0 307.9 .2-23.8 .1 23.8 0-307.9 .2 24.5 .1-24.5 0 307.9 .2-25.8 .1 25.8 0-307.9 .2 26 .2-26 0 307.9 .1-21.5 .1 21.5 0-307.9 .2 43.6 .3-43.6 0 307.9 0-6.2 0 6.2 0-307.9 .3 71.7 .3-17.3 .3 70.7 .3-13.1 .3 78.6 .3 10.1 .3 88.1 .3-35.8 .3 54.9 0-307.9 0 4.7 .1-4.7 0 307.9 .2-17.6 .1 17.6 0-307.9 .2 29.9 .2-29.9 0 307.9 .1-20.7 .1 20.7 0-307.9 .2 22.1 .3-15.6 .3 48.3 .3-36.1 .3 48.6 .3-60 .3 49.8 .3-44.4 .3 68.6 .3-48.1 .3 50.4 .3-43.9 .3 49.1 .3-23.5 .3 37.1 .3-3.5 .3 27.6 .3-41.2 .3 64 .3-44.1 .3 16.5 .3-9.8 .3 37.3 .3-28.7 .3 48.5 .3-36.1 .3 50.1 .3-40.2 .3 44.7 .3-2.1 .3 34.1 .3-45.1 .3 32.7 .3-39.1 .3 43.1 .3-23.5 .3 27.1 .3-26.2 .3 39.9 .3-27.2 .3 37.5 .3-35.3 .3 44.7 .3-53.2 .3 52.6 .3-16.1 .3 30.9 .3-18.7 .3 38.8 .3-30.5 .3 53.8 .3-9.8"/>
<rect class="ax" x="70.5" y="8.5" width="1050.3" height="342.1"/>
<path class="tk" d="M333.1 350.6v-10.5M333.1 8.5v10.5M595.6 350.6v-10.5M595.6 8.5v10.5M858.2 350.6v-10.5M858.2 8.5v10.5M70.5 179.6h10.5M1120.8 179.6h-10.5M70.5 8.5h10.5M70.5 350.6h10.5M1120.8 8.5h-10.5M1120.8 350.6h-10.5M70.5 8.5v10.5M70.5 350.6v-10.5M1120.8 8.5v10.5M1120.8 350.6v-10.5"/>
</g>
<g id="ax-NLK">
<path class="d" clip-path="url(#c1)" d="M1237.5 284.9l.3-9.2 .3-.9 .3-8.4 .3-1.2 .3-9.6 .3 .1 .3-7.8 .3-1.8 .3-7.9 .3-.1 .3-8.4 .3-1 .3-6.3 .3 1.1 .3-6.5 .3-.7 .3-5.9 .3 .3 .3-5.2 .3 .8 .3-6.9 .3 1 .3-7.2 .3 .4 .3-5.9 .3 1.4 .3-7.9 .3 2 .3-7.8 .3 5.1 .3-1.6 .3 4.4 .3-1.2 .3 5.4 .3-1.6 .3 4.6 .3-2 .3 6.8 .3-1.5 .3 4 .3-1.5 .3 6.5 .3 .3 .3 7.8 .3-.6 .3 6.7 .3-.5 .3 7.7 .3-1.6 .3 8.2 .3-1.1 .3 8.2 .3-.6 .3 8.2 .3-1.1 .3 8.9 .3-2.6 .3 8.1 .3-1.1 .3 9.3 .3-2 .3 8.1 .3-2.5 .3 7.8 .3-3.6 .3 9.4 .3-5.4 .3 9 .3-3.3 .3 8.5 .3-5.4 .3 10.9 .3-6.6 .3 11.3 .3-5.8 .3 14.2 .3-8.4 .3 10 .3-8.9 .3 11.1 .3-7.2 .3 14.6 .3-6.7 .3 12.3 .3-11.5 .3 12.2 .3-9.8 .3 12.4 .3-10.4 .3 10 .3-9.6 .3 11.1 .3-6.3 .3 6.1 .3-7.2 .2 8.1 0-307.9 .1 2.2 .1-2.2 0 307.9 .2-6 .2 6 0-307.9 .1 3 .1-3 0 307.9 .2-5.4 .2 5.4 0-307.9 .1 3.3 .1-3.3 0 307.9 .2-5.1 .1 5.1 0-307.9 .2 5.4 .3-4 .3 10.2 .3-3.7 .3 8.8 .3-2 .3 10.7 .3-4.1 .3 8.5 .3-2.8 .3 11.4 .3-4 .3 8.2 .3-3.3 .3 11.3 .3-1.9 .3 7.6 .3-3.2 .3 10.5 .3-3.9 .3 9.4 .3-3.4 .3 10.2 .3-1.5 .3 7.9 .3-3.3 .3 9.2 .3-3.1 .3 10.3 .3-3.5 .3 9.5 .3-2.9 .3 10.9 .3-6.1 .3 10.8 .3-4.9 .3 11.4 .3-1.9 .3 10.4 .3-6 .3 11.7 .3-4.3 .3 11.8 .3-3.5 .3 9.4 .3-2.8 .3 9.9 .3-5.6 .3 9.3 .3-3.1 .3 12.2 .3-7.1 .3 12.6 .3-3.9 .3 11.3 .3-6.5 .3 13.3 .3-4.8 .3 10.9 .3-5 .3 11.2 .3-3.8 .3 10.9 .3-4.1 .3 11.1 .3-5 .3 12.5 .3-5.9 .3 13.4 .3-8.9 .3 10.8 .3-3.2 .3 9.6 .3-3.8 .3 11 .3-7.6 .3 10.6 .3-2.7 .3 13.6 .3-6.6 .3 12.2 .3-6.1 .3 11.4 .3-6 .3 14.1 .3-10.6 .3 12.8 .3-1.6 .3 12.7 .3-7.4 .3 13.2 .3-4.8 .3 10.7 .3-4 .2 9.3 0-307.9 .1 3.8 .2-3.8 0 307.9 .1-3.2 .1 3.2 0-307.9 .2 8.1 .3-6.5 .3 12.8 .3-6.6 .3 10.8 .3-8.5 .3 12.6 .3-3.9 .3 8.7 .3-4.9 .3 10.4 .3-7.6 .3 12.6 .3-4.8 .3 11.1 .3-9.6 .3 12.8 .3-7.4 .3 8.2 .3-5.2 .3 14.1 .3-8.4 .3 12.4 .3-4.8 .3 9.8 .3-8.2 .3 13.2 .3-5.3 .3 11.5 .3-7.7 .3 11 .3-6.4 .3 13.2 .3-7.7 .3 10.6 .3-4 .3 11.3 .3-9 .3 13.5 .3-7.4 .3 11.1 .3-7.7 .3 13.7 .3-8.1 .3 12.9 .3-5.6 .3 12.3 .3-7.9 .3 12.3 .3-4.2 .3 11.8 .3-7.4 .3 9.1 .3-5.4 .3 10.5 .3-7.1 .3 12.3 .3-5.8 .3 9.6 .3-6.5 .3 8.9 .3-3.7 .3 10.8 .3-9.5 .3 11.9 .3-5.6 .3 12.4 .3-6.2 .3 10.3 .3-4.8 .3 11.1 .3-7.1 .3 14.2 .3-7.3 .3 11.6 .3-5.9 .3 11.3 .3-5.5 .3 11.6 .3-5.8 .3 9.6 .3-7.4 .3 10.5 .3-6.6 .3 10.7 .3-7.1 .3 11.6 .3-3.9 .3 9.8 .3-5.7 .3 11.8 .3-5 .3 9.9 .3-7.3 .3 11.5 .3-5.7 .3 10.3 .3-5.9 .3 10.4 .3-4.2 .3 12 .3-8 .3 12.3 .3-5 .3 11.5 .3-8.2 .3 10.7 .3-4.8 .3 13.4 .3-8.8 .3 11.2 .3-6.1 .3 11.8 .3-8 .3 12.4 .3-7.1 .3 11 .3-7.8 .3 10.8 .3-4 .3 11 .3-6.9 .3 9.8 0-307.9 0 .9 .1-.9 0 307.9 .2-2 .1 2 0-307.9 .2 6.8 .2-6.8 0 307.9 .1-2.4 0 2.4 0-307.9 .3 13 .3-6.2 .3 11.2 .3-4.5 .3 11.8 .3-6.9 .3 12 .3-9.4 .3 13.9 .3-5.8 .3 14.5 .3-7.7 .3 13.4 .3-7.6 .3 12.6 .3-7.5 .3 13.2 .3-6.6 .3 10.9 .3-3.3 .3 9 .3-8.9 .3 15.6 .3-6.6 .3 12.9 .3-5.8 .3 10.4 .3-4.5 .3 9.5 .3-3.9 .3 7.5 .3-4.3 .3 11.6 .3-5.3 .3 11.3 .3-8.8 .3 11.2 .3-3.1 .3 12.3 .3-5.7 .3 12.6 .3-6.2 .3 10.4 .3-7 .3 13.2 .3-6.1 .3 9.3 .3-5.6 .3 13.1 .3-6.8 .3 8.6 .3-4.3 .3 8.9 .3-3.3 .3 11.4 .3-4.9 .3 11.5 .3-4.1 .3 12.3 .3-4.8 .3 9.7 .3-7.9 .3 12 .3-4.5 .3 11.3 .3-6 .3 9.8 .3-3.3 .3 7.8 .3-4.6 .3 10.9 .3-3.9 .3 10.9 .3-5.7 .3 9.7 .3-3.4 .3 10 .3-5.6 .3 12.4 .3-9 .3 12.4 .3-6.2 .3 9.6 .3-5.4 .3 11.9 .3-6.9 .3 13.6 .3-6 .3 10.5 .3-3.2 .3 10.4 .3-5.1 .3 10.1 .3-2.8 .3 8.2 .3-4.3 .3 10.1 .3-5.7 .3 10 .3-5.7 .3 12.2 .3-6.3 .3 13.2 .3-6.1 .3 8.5 .3-1.4 .3 8.1 0-307.9 0 .3 0-.3 0 307.9 .3-3.5 .1 3.5 0-307.9 .2 5.8 .3-5.8 0 307.9 0-.1 0 .1 0-307.9 .3 10.7 .3-5.3 .3 12.4 .3-6.4 .3 8.7 .3-3.2 .3 11.2 .3-5.9 .3 14.7 .3-6.7 .3 8.4 .3-4.4 .3 9.6 .3-5.1 .3 10.1 .3-4.9 .3 12.5 .3-6.4 .3 8.6 .3-2.6 .3 8.6 .3-4.9 .3 8.7 .3-5 .3 12.7 .3-6.3 .3 10.8 .3-4 .3 9.8 .3-3.2 .3 8.9 .3-4.8 .3 9.2 .3-5.7 .3 12.9 .3-4.7 .3 9.7 .3-4.6 .3 9.3 .3-2.9 .3 11.4 .3-5.4 .3 9.5 .3-4.9 .3 7.2 .3-3.1 .3 9.6 .3-6.8 .3 12.8 .3-6.5 .3 11.3 .3-6 .3 13.3 .3-6.1 .3 10.5 .3-7.2 .3 13.2 .3-5.3 .3 8.2 .3-1.6 .3 10.5 .3-6.8 .3 10.7 .3-7.6 .3 11.7 .3-4 .3 12.9 .3-6.4 .3 9.8 .3-4.9 .3 11 .3-6.8 .3 9.7 .3-6.1 .3 11.1 .3-6.7 .3 14.5 .3-7.3 .3 12 .3-7.9 .3 15 .3-6.6 .3 9.5 .3-4.9 .3 12.3 .3-8.9 .3 13.6 .3-5.5 .3 13.5 .3-6.5 .3 10.2 .3-6.9 .3 12.4 .3-4.7 .3 8.8 .3-4.5 .3 11.7 .3-6.3 .3 8.7 .3-3.8 .3 11.3 .3-7.3 .3 9.1 .3-4.8 .3 11.8 .3-2.7 .3 11 .3-8.8 .3 12.7 .3-7.3 .3 11.8 0-307.9 0 .6 0-.6 0 307.9 .3-4.6 .1 4.6 0-307.9 .2 7.7 .3-7.7 0 307.9 0-.2 0 .2 0-307.9 .3 12.5 .3-7 .3 11.3 .3-7.1 .3 14.6 .3-8.4 .3 15.6 .3-7.6 .3 14.4 .3-11.8 .3 12.6 .3-4.2 .3 8.2 .3-4.7 .3 11.7 .3-9.8 .3 14.6 .3-7.1 .3 11.6 .3-8.4 .3 16.1 .3-8.7 .3 13.1 .3-3.6 .3 11.8 .3-11.3 .3 14.7 .3-7.6 .3 11.2 .3-12.1 .3 16.5 .3-8.4 .3 15.4 .3-11 .3 14.3 .3-9.4 .3 15.5 .3-8.5 .3 14.5 .3-10.1 .3 15.6 .3-7.3 .3 15.6 .3-12.4 .3 16.4 .3-11.1 .3 16.3 .3-6.9 .3 13.2 .3-5.2 .3 18 .3-12 .3 18.8 .3-14.1 .3 17.8 .3-13.3 .3 17.9 .3-8.3 .3 14.5 .3-14.9 .3 21.9 .3-14.4 .3 17.7 .3-10.5 .3 16.7 .3-12.3 .3 21.3 .3-15.1 .3 18.7 .3-12.9 .3 23.8 .3-24.1 .3 29.1 .3-18.1 .3 19.9 .3-16.8 .3 22.9 .3-20.4 .3 24.4 .3-17.5 .3 30.3 .3-22.5 .3 31.8 .3-20.4 .3 23.7 .3-20.6 .3 18.2 .3-11.2 .3 24.1 .3-18.4 .3 22.8 .3-11.1 .3 25.8 .3-20.3 .3 26.7 .3-23.4 .3 26.3 .3-22.6 .3 27.1 .3-24.8 .3 30.1 0-307.9 0 3.6 0-3.6 0 307.9 .3-19.5 .2 19.5 0-307.9 .1 5.5 .1-5.5 0 307.9 .2-7.6 0 7.6 0-307.9 .3 50.5 .3-5.5 .3 48.3 .3-10.4 .3 53.1 .3-8.7 .3 49.1 .3-15 .3 54.6 .3-13 .3 60.2 .3-11.8 .3 47.2 .3-8.6 .1 17.9 0-307.9 .2 40 .3-13 .3 45.4 .3-1.9 .3 48.5 .3-10 .3 52.6 .3-4.9 .3 45.6 .3-6.2 .3 42.7 .3-7.6 .3 67.2 .3-16.9 .2 26.4 0-307.9 .1 19.2 .2-19.2 0 307.9 .1-14 .1 14 0-307.9 .2 25.8 .2-25.8 0 307.9 .1-17.1 .1 17.1 0-307.9 .2 28.6 .2-28.6 0 307.9 .1-8.9 .1 8.9 0-307.9 .2 34.2 .3-34.2 0 307.9 0-2.4 0 2.4 0-307.9 .3 44.8 .3-44.8 0 307.9 0-.5 0 .5 0-307.9 .3 39.8 .3-33.4 .3 33 .3-26.1 .3 39.4 .3-52.7 0 307.9 0-307.9 .3 54.1 .3-41.9 .3 35.9 .3-35.6 .3 39.2 .3-27.4 .3 35 .3-37.7 .3 46 .3-36.1 .3 33.4 .3-31.9 .3 32.7 .3-30 .3 34.8 .3-30.4 .3 32.7 .3-24.3 .3 30.2 .3-29.2 .3 28.4 .3-37.4 .3 29.4 .3-15.5 .3 32.4 .3-33.7 .3 30.7 .3-19.5 .3 20.7 .3-17.7 .3 24.8 .3-22.3 .3 20 .3-14.3 .3 25.5 .3-21.8 .3 20.7 .3-12.2 .3 15.1 .3-16.7 .3 20.6 .3-16.7 .3 20.3 .3-10.6 .3 19.8 .3-20.6 .3 24.2 .3-19.1 .3 23.2 .3-16.9 .3 19.6 .3-14.7 .3 20 .3-19.3 .3 23.6 .3-17.3 .3 23.5 .3-12.4 .3 12.1 .3-10.2 .3 14.5 .3-9.9 .3 21.6 .3-14.6 .3 18.1 .3-13.8 .3 19.3 .3-16.5 .3 17.4 .3-9.3 .3 15 .3-11.5 .3 16.9 .3-10.8 .3 15.7 .3-8.7 .3 15.9 .3-10.2 .3 13.8 .3-8.3 .3 15.7 .3-11.4 .3 16.3 .3-12 .3 16.5 .3-13.7 .3 15.4 .3-10.6 .3 12.6 .3-6.2 .3 12.2 .3-5.4 .3 13.4 .3-13.2 .3 13.9 .3-9.7 .3 14.7 .3-8 .3 13.6 .3-10.4 .3 16.9 .3-7.9 .3 10.6 .3-6.9 .3 12.9 .3-9.9 .3 10.8 .3-5.5 .3 12.2 .3-6.7 .3 12.3 .3-8.4 .3 14.4 .3-6.7 .3 10 .3-7.9 .3 11.3 .3-5.8 .3 10.9 .3-5.8 .3 10.5 .3-5 .3 8.7 .3-4.4 .3 8.8 .3-3.1 .3 7.9 .3-3 .1 3.2 0-307.9 .2 4.8 .3-2.4 .3 8.2 .3-5.9 .3 8.7 .3-4.2 .3 7.6 .3-3.5 .3 9.5 .3-4.4 .3 8.3 .3-4.5 .3 8.4 .3-3.9 .3 8.9 .3-4.4 .3 6.8 .3-2.4 .3 7.5 .3-5.5 .3 10.5 .3-3.9 .3 8.1 .3-4.6 .3 9.7 .3-4.2 .3 8.8 .3-5.2 .3 10.2 .3-6 .3 8 .3-2.7 .3 8.5 .3-4.9 .3 8.7 .3-5.2 .3 9.5 .3-3.7 .3 8.5 .3-4.7 .3 8 .3-3.7 .3 8.3 .3-3.8 .3 8.9 .3-5.4 .3 9.6 .3-4.5 .3 7.6 .3-2.8 .3 8.6 .3-6.3 .3 9.6 .3-3.8 .3 8.1 .3-2.2 .3 7 .3-4.6 .3 8.4 .3-4.8 .3 10.2 .3-6.3 .3 10.4 .3-3.3 .3 8 .3-5.1 .3 8 .3-4.2 .3 9.7 .3-5.2 .3 9.6 .3-5.6 .3 9 .3-4 .3 8.3 .3-2.5 .3 8.7 .3-4.3 .3 6.2 .3-3.4 .3 8.9 .3-3.2 .3 7.4 .3-4.5 .3 9.9 .3-4 .3 7.5 .3-3.8 .3 8.8 .3-4.1 .3 7.3 .3-3 .3 7.2 .3-4.6 .3 10.5 .3-4.6 .3 8.2 .3-4 .3 7.7 .3-3.5 .3 9.5 .3-5.3 .3 8.9 .3-5.6 .3 9.4 .3-3.2 .3 8.1 .3-4.4 .3 8.6 .3-5.1 .3 10.1 .3-4.9 .3 8.7 .3-5.4 .3 8.2 .3-4.3 .3 10.8 .3-5.6 .3 9.1 .3-3.1 .3 7.7 .3-4.3 .3 6.7 .3-2.4 .3 9.1 .3-4.4 .3 7.3 .3-3 .3 9.3 .3-4.3 .3 7.8 .3-4.3 .3 8.2 .3-4.8 .3 9 .3-5 .3 8.5 .3-2.5 .3 8.7 .3-3.8 .2 6.4 0-307.9 .1 1.6 .1-1.6 0 307.9 .2-3.1 .1 3.1 0-307.9 .2 4.4 .3-2.8 .3 7.3 .3-3.3 .3 8.1 .3-4 .3 6.7 .3-1.9 .3 7.1 .3-3.4 .3 7.7 .3-6.3 .3 10 .3-6.2 .3 9.4 .3-4.2 .3 10.7 .3-7.9 .3 9.4 .3-4 .3 7.9 .3-3.8 .3 6.7 .3-2.2 .3 7.5 .3-3.4 .3 6.4 .3-3.3 .3 8.1 .3-5.2 .3 9.5 .3-4.2 .3 8.8 .3-5.8 .3 8.6 .3-4.6 .3 8.4 .3-3.8 .3 8.1 .3-3.8 .3 7.3 .3-3.1 .3 8.2 .3-4.2 .3 8.9 .3-5.8 .3 8.9 .3-4.6 .3 7.2 .3-3.1 .3 8.2 .3-4.6 .3 8.8 .3-5.8 .3 9.9 .3-2.7 .3 7.1 .3-5.2 .3 8.9 .3-5.6 .3 9.9 .3-4.3 .3 5.8 .3-2.8 .3 9.5 .3-6.1 .3 9.2 .3-4.4 .3 8.5 .3-5.4 .3 7.9 .3-4.7 .3 10.7 .3-5.5 .3 9.1 .3-5.5 .3 9.5 .3-4.9 .3 8.4 .3-4 .3 7.9 .3-3.6 .3 6.1 .3-3.3 .3 9.4 .3-6 .3 9.2 .3-3.8 .3 7.8 .3-5.1 .3 8.1 .3-3.4 .3 7.6 .3-2.1 .3 6.4 .3-4.2 .3 8.3 .3-3 .3 7.5 .3-3.7 .3 6.2 .3-2.2 .3 6.8 .3-5.3 .3 8.5 .3-3.4 .3 8.3 .3-5.1 .3 9 .3-4.5 .3 9.2 .3-4.6 .3 9.4 .3-4.7 .3 8.4 .3-5 .3 9.3 .3-5.7 .3 7.2 .3-2.8 .3 8.4 .3-3.5 .3 8.1 .3-4.7 .3 7.3 .3-4.4 .3 9.3 .3-6.1 .3 8.4 .3-4.4 .3 8.3 .3-3.4 .3 8.8 .3-3.7 .3 8.9 .3-4.5 .3 6.5 .3-3.9 .3 6.5 .3-2 .3 8.3 .3-3.8 .3 6.1 .3-2.2 .3 8 .3-4.8 .3 9.3 .3-6.2 .3 11.2 .3-6.2 .3 7.5 .3-3.4 .3 8.8 .3-4.6 .2 4.6 0-307.9 .1 4.4 .3-4 .3 6.3 .3-3.3 .3 7.5 .3-3.3 .3 7 .3-3.5 .3 6.3 .3-3.4 .3 7.1 .3-3.1 .3 7.3 .3-4 .3 8.6 .3-5.2 .3 8.8 .3-4.5 .3 7.7 .3-4.8 .3 8.4 .3-4.7 .3 8.8 .3-4.2 .3 8.2 .3-5.7 .3 9.6 .3-5.3 .3 9 .3-5.6 .3 7.5 .3-3.4 .3 9.5 .3-7.6 .3 9.4 .3-3.5 .3 6.1 .3-3.9 .3 8.3 .3-4.7 .3 10.1 .3-6.1 .3 8.6 .3-4.6 .3 8 .3-3.6 .3 7.6 .3-5.7 .3 10.1 .3-4.4 .3 6.7 .3-4.5 .3 9.5 .3-3.4 .3 6.8 .3-4.2 .3 7.2 .3-3.6 .3 7.5 .3-4.1 .3 7.6 .3-3.6 .3 8.3 .3-6.3 .3 10.4 .3-7 .3 10 .3-4.1 .3 8.6 .3-4.5 .3 8.1 .3-4 .3 6.4 .3-3.9 .3 7.6 .3-3.9 .3 8.5 .3-4.9 .3 7.7 .3-4.1 .3 8.6 .3-4.5 .3 7.9 .3-4.2 .3 8.3 .3-6.1 .3 9.1 .3-4.9 .3 10.3 .3-5.8 .3 7.7 .3-3.9 .3 7.7 .3-5.3 .3 7.7 .3-3 .3 7 .3-3.9 .3 8.5 .3-3.7 .3 9 .3-6.2 .3 9.1 .3-3.6 .3 6.9 .3-3.6 .3 6.7 .3-3.6 .3 7.8 .3-3 .3 6.1 .3-3.9 .3 8.5 .3-3.7 .3 7.3 .3-4.6 .3 8.7 .3-5.7 .3 8 .3-4.8 .3 7.9 .3-2.3 .3 7.4 .3-2.8 .3 6.7 .3-5 .3 9.1 .3-5.3 .3 8.9 .3-4.6 .3 7.1 .3-2.3 .3 6.7 .3-5.6 .3 9.8 .3-3.9 .3 6.6 .3-3.8 .3 8.1 .3-4.4 .3 7.1 .3-3.8 .3 8.7 .3-5.6 .3 8.4 .3-4.2 .3 7.8 .3-4.8 .3 7.8 .3-3.1 .3 6.9 .3-2.6 .3 7.8 .3-4.2 .3 8.4 .3-3.5 .3 6 .3-3.1 .3 7.7 .3-3.8 .3 7.1 .3-3.4 .3 8.8 .3-4.3 .3 7.7 .3-4.3 .2 4.3 0-307.9 .1 2.3 .2-2.3 0 307.9 .1-2.1 .1 2.1 0-307.9 .2 6.7 .3-5.1 .3 7.6 .3-4.9 .3 9.4 .3-4.1 .3 7.2 .3-4.8 .3 7.3 .3-3.2 .3 7.4 .3-4.6 .3 8.6 .3-4.9 .3 7.5 .3-3.5 .3 8.7 .3-4.1 .3 6.6 .3-3.6 .3 7.9 .3-4.6 .3 7.1 .3-2.6 .3 7.4 .3-4 .3 7.4 .3-4.6 .3 9.1 .3-3.9 .3 7.2 .3-5.7 .3 8.8 .3-3.5 .3 6.5 .3-3.4 .3 7.4 .3-3.9 .3 7.1 .3-3 .3 6.3 .3-3.5 .3 7.4 .3-5 .3 8.3 .3-3.4 .3 7 .3-4 .3 8.9 .3-5.6 .3 8.6 .3-4.8 .3 7.5 .3-3.4 .3 7.9 .3-4.3 .3 7.5 .3-4.4 .3 8 .3-5 .3 8.9 .3-4 .3 5.7 .3-1.9 .3 5.7 .3-3.8 .3 7.2 .3-3.1 .3 8 .3-3.7 .3 7.4 .3-4.8 .3 8.6 .3-3.5 .3 6.8 .3-4.3 .3 9.5 .3-4.7 .3 6.3 .3-2.5 .3 5.4 .3-3 .3 8.2 .3-4.5 .3 8.3 .3-4 .3 5.8 .3-3.7 .3 9.9 .3-4.8 .3 7.4 .3-4.8 .3 7.7 .3-3.9 .3 8.2 .3-4.2 .3 7.8 .3-4.1 .3 6.2 .3-3 .3 7.6 .3-3.8 .3 7 .3-4.6 .3 8.8 .3-5.4 .3 8.3 .3-4.1 .3 7.1 .3-2.7 .3 7.8 .3-4 .3 6.7 .3-4.3 .3 8.2 .3-4.4 .3 7.6 .3-4.3 .3 8.1 .3-4 .3 8 .3-4.9 .3 8.8 .3-4.4 .3 6.9 .3-2 .3 5.7 .3-4.8 .3 9 .3-4.9 .3 7 .3-3.3 .3 7.4 .3-3.6 .3 8.1 .3-5.1 .3 7.5 .3-3.7 .3 9.1 .3-5.3 .3 8.6 .3-4.6 .3 7.1 .3-2.7 .3 7.1 .3-5.2 .3 8.1 .3-4.9 .3 9.2 .3-4.6 .3 7.1 .3-3.9 .3 8.3 .3-5.5 .3 8.9 .3-3 .3 7 .3-4.4 .3 8.4 .3-5.1 .3 7.5 .3-3.8 .3 7.6 .3-4.3 .3 7.4 .3-3.9 .3 7.1 .3-2.7 .3 6.2 .3-1.7 .2 3.9 0-307.9 .1 1.1 .1-1.1 0 307.9 .2-1.9 .1 1.9 0-307.9 .2 5.3 .3-4.7 .3 7.8 .3-2.7 .3 6.1 .3-5.6 .3 8.1 .3-3.8 .3 6.3 .3-2.9 .3 6.5 .3-2.8 .3 6.2 .3-3.4 .3 6.9 .3-4.3 .3 7.1 .3-3.6 .3 7.1 .3-5.8 .3 9.7 .3-5.4 .3 7.3 .3-4.5 .3 7.8 .3-5.9 .3 9.2 .3-3.6 .3 5.4 .3-3 .3 6.2 .3-2.3 .3 5.8 .3-4.7 .3 8 .3-3.3 .3 8.1 .3-5.8 .3 6.8 .3-4.2 .3 7.6 .3-2.5 .3 6.4 .3-3.7 .3 6.4 .3-3.6 .3 7.3 .3-5.7 .3 7.2 .3-4.9 .3 9.4 .3-4.8 .3 8.4 .3-4.9 .3 7.6 .3-4.9 .3 7 .3-5 .3 8.7 .3-3.7 .3 7.2 .3-5.2 .3 8.3 .3-5.1 .3 7.2 .3-3.4 .3 6.4 .3-3.9 .3 7.3 .3-4 .3 7.3 .3-4.4 .3 7.9 .3-5.7 .3 7.3 .3-2.6 .3 7 .3-4.4 .3 7.5 .3-5.3 .3 9.1 .3-4.6 .3 6.7 .3-5 .3 7.7 .3-4.5 .3 7.2 .3-4.3 .3 8 .3-3.4 .3 7.9 .3-5.3 .3 5.7 .3-2.3 .3 7.5 .3-5 .3 6.9 .3-3.7 .3 7.4 .3-4.5 .3 8 .3-3.4 .3 5.3 .3-2.5 .3 6 .3-5.3 .3 8.7 .3-3.5 .3 6 .3-3.8 .3 7.1 .3-3.6 .3 7.1 .3-4.4 .3 7.7 .3-5.5 .3 7.5 .3-2.9 .3 6.4 .3-4.7 .3 8.8 .3-4.2 .3 6.2 .3-3.9 .3 8.3 .3-4.6 .3 7.9 .3-5.9 .3 9.4 .3-5.3 .3 7.7 .3-5.3 .3 8.2 .3-6 .3 8.3 .3-3.6 .3 6.1 .3-4.3 .3 7.5 .3-4.4 .3 9.1 .3-5.7 .3 8.9 .3-5.5 .3 8.7 .3-4.6 .3 8.1 .3-4.6 .3 6.4 .3-3.4 .3 6 .3-2.5 .3 6.1 .3-5 .3 9.2 .3-5.8 .3 6.9 .3-2.9 .3 6.5 .3-2.4 .3 5.5 .3-3 .3 7.4 .3-5.5 .3 8.4 .3-5.1 .3 6.5 .3-3.5 .3 8.4 .3-5.4 .3 7.3 .3-3.8 .3 6.8 .3-3.6 .3 6.6 .3-3.7 .3 7 .3-4.9 .3 8.3 .3-2.7 .3 5.9 .3-4.3 .3 6.6 .3-4.4 .3 7.3 .3-3.9 .3 6.5 .3-3.2 .3 6.4 .3-3 .3 6.1 .3-2.3 .3 6.5 .3-4.5 .3 7.2 .3-3.9 .3 6.4 .3-3 .1 3.3 0-307.9 .2 4 .3-3.6 .3 6.5 .3-4.2 .3 6.1 .3-3.6 .3 7.1 .3-5.9 .3 8.4 .3-3.1 .3 6.3 .3-4.2 .3 7.9 .3-5.6 .3 8.9 .3-6.4 .3 8.5 .3-4.5 .3 8.1 .3-5.7 .3 6.7 .3-4.7 .3 9.3 .3-6.4 .3 9.7 .3-5.6 .3 8 .3-7.1 .3 8.8 .3-4.8 .3 6.9 .3-3.8 .3 8.7 .3-4.1 .3 6.5 .3-5.3 .3 8.4 .3-5 .3 6.8 .3-3.1 .3 7.1 .3-5.8 .3 7.5 .3-2.7 .3 5.7 .3-4.7 .3 7.7 .3-4.8 .3 9.8 .3-5.7 .3 6 .3-3.9 .3 7.1 .3-5.7 .3 9.2 .3-3.9 .3 7.3 .3-7.1 .3 10.7 .3-5.6 .3 7.1 .3-5.2 .3 8 .3-6.2 .3 9 .3-4.4 .3 6.8 .3-3.2 .3 7.1 .3-5.2 .3 6.8 .3-4.4 .3 8.7 .3-7.7 .3 10.2 .3-5.8 .3 8.7 .3-5.7 .3 6.9 .3-2.4 .3 7.2 .3-5.7 .3 8.6 .3-4.2 .3 7.6 .3-6.9 .3 10.5 .3-6.8 .3 7 .3-3.3 .3 6 .3-4.9 .3 7.6 .3-3.8 .3 9.1 .3-5.3 .3 8 .3-6.2 .3 7.8 .3-3.5 .3 7.3 .3-5.6 .3 6.7 .3-4.6 .3 9.2 .3-5.8 .3 7.7 .3-4.9 .3 9.8 .3-5.8 .3 7.2 .3-6.9 .3 10.2 .3-6.8 .3 8.7 .3-4.9 .3 8.1 .3-5.2 .3 10.3 .3-6.7 .3 7.5 .3-6.1 .3 8.8 .3-4.8 .3 9.1 .3-6.5 .3 8.2 .3-6.3 .3 8.7 .3-4.7 .3 9.4 .3-4.6 .3 7.2 .3-7.2 .3 10.3 .3-7.5 .3 9.4 .3-7.7 .3 10.1 .3-6.7 .3 11.9 .3-6.7 .3 6.1 .3-5 .3 9.6 .3-6.6 .3 8.6 .3-4.2 .3 8.5 .3-6.3 .3 9.3 .3-7.1 .3 10 .3-8.2 .3 11 .3-7.3 .3 9.7 .3-5.8 .3 9.7 .3-6.9 .3 7.5 .3-3.7 .3 7.1 .3-3.6 .3 6.8 .3-7 .3 9.9 .3-6.8 .3 8.5 .3-6.7 .3 11.4 .3-6.3 .3 8.6 .3-5.9 .3 8.7 .3-5.3 .3 7 .3-4.7 .3 7.9 .3-3.7 .3 8 .3-7.8 .3 10.1 .3-5.4 .3 8 .3-6 .3 8 .3-4.9 .3 8.5 .3-6.2 .3 9.1 .3-6.8 .3 8.3 .3-6.5 .3 11.2 .3-8.9 .3 10.4 .3-9.5 .3 12.4 .3-8 .3 9.5 .3-7.4 .3 12.1 .3-10 .3 10.4 .3-4.8 .3 7.8 .3-7.6 .3 9.1 .3-10.4 .3 14.5 .3-8.4 .3 12.6 .3-10.9 .3 11.8 0-307.9 0 1 0-1 0 307.9 .3-10.6 .2 10.6 0-307.9 .1 4.3 .1-4.3 0 307.9 .2-5.1 .2 5.1 0-307.9 .1 4.7 .2-4.7 0 307.9 .1-4 .1 4 0-307.9 .2 8.1 .2-8.1 0 307.9 .1-2.8 .1 2.8 0-307.9 .2 5.7 .2-5.7 0 307.9 .1-4.6 .1 4.6 0-307.9 .2 10.3 .3-10.3 0 307.9 0-1.6 0 1.6 0-307.9 .3 8.4 .3-8.4 0 307.9 0-.6 0 .6 0-307.9 .3 14.1 .3-14.1 0 307.9 0-.1 0 .1 0-307.9 .3 15 .3-9.5 .3 13.1 .3-12 .3 16.2 .3-12.4 .3 13 .3-15.3 .3 17.4 .3-15.1 .3 16.7 .3-7.4 .3 15.3 .3-16.9 .3 14 .3-18 .3 17.5 .3-14.4 .3 15.4 .3-13.6 .3 19.9 .3-22 .3 14.7 .3-20.3 .3 23 .3-18.3 .3 21.1 .3-20.9 .3 27 .3-19.6 .3 21.3 .3-19.9 .3 11.7 .3-16.5 .3 13.3 .3-9.5 .3 18.7 .3-21.5 .3 23.5 .3-19.2 .3 16.8 .3-18.1 .3 19.8 .3-12.8 .3 21.4 .3-16.7 .3 22 .3-22 .3 28.4 .3-22.5 .3 21.5 .3-23.3 .3 23.7 .3-18.2 .3 21.5 .3-23.5 .3 19.2 .3-18.3 .3 22.3 .3-25.2 .3 25.2 .3-28.4 .3 22 .3-19.1 .3 25.9 .3-27 .3 33.5 .3-29.8 .3 18.2 .3-18.9 .3 24.6 .3-26.3 .3 23.2 .3-17.6 .3 22.3 .3-24 .3 28.5 .3-25.5 .3 18.4 .3-22.7 .3 25.4 .3-26.8 .3 32.2 .3-26.6 .3 33 .3-29.1 .3 26.7 .3-24.3 .3 30.2 .3-22.7 .3 19.8 .3-30.8 .3 24.9 .3-23.3 .3 32.2 .3-24.9 .3 27.6 .3-21.5 .3 16.9 .3-15.8 .3 22.7 .3-22.3 .3 20.4 .3-20.9 .3 26.5 .3-23.2 .3 29.1 .3-27.1 .3 32.2 .3-27.5 .3 30 .3-22.5 .3 22.1 .3-18.4 .3 28.3 .3-33.8 .3 33.8 .3-33.7 .3 17.2 .3-23.9 .3 31.3 .3-29.2 .3 17.5 .3-33.1 .3 21.3 .3-33 .3 20.8 .3-31.5 .3 18 .3-26.6 .3 17.6 .3-33.7 .3 28.4 .3-43.9 0 307.9 0-307.9 .3 24.8 .2-24.8 0 307.9 .1-8.9 .1 8.9 0-307.9 .2 10.7 .1-10.7 0 307.9 .2-15.7 .2 15.7 0-307.9 .1 12.3 .1-12.3 0 307.9 .2-16.4 .2 16.4 0-307.9 .1 6.9 .1-6.9 0 307.9 .2-20.9 .1 20.9 0-307.9 .2 21 .2-21 0 307.9 .1-9.2 .1 9.2 0-307.9 .2 15.1 .1-15.1 0 307.9 .2-21.2 .2 21.2 0-307.9 .1 15.5 .1-15.5 0 307.9 .2-21.4 .2 21.4 0-307.9 .1 15.7 .2-15.7 0 307.9 .1-15.6 .1 15.6 0-307.9 .2 16.4 .1-16.4 0 307.9 .2-17 .2 17 0-307.9 .1 16.4 .2-16.4 0 307.9 .1-12.9 .1 12.9 0-307.9 .2 18.3 .2-18.3 0 307.9 .1-17.1 .1 17.1 0-307.9 .2 19.3 .2-19.3 0 307.9 .1-15.6 .1 15.6 0-307.9 .2 18.8 .2-18.8 0 307.9 .1-10.7 .1 10.7 0-307.9 .2 15.3 .1-15.3 0 307.9 .2-17.6 .1 17.6 0-307.9 .2 22 .2-22 0 307.9 .1-11.3 .1 11.3 0-307.9 .2 13.9 .2-13.9 0 307.9 .1-13.2 .1 13.2 0-307.9 .2 16.3 .2-16.3 0 307.9 .1-7.8 .1 7.8 0-307.9 .2 16.4 .2-16.4 0 307.9 .1-11.8 .1 11.8 0-307.9 .2 16.2 .1-16.2 0 307.9 .2-19.5 .2 19.5 0-307.9 .1 5.8 .1-5.8 0 307.9 .2-15.5 .3 14.1 .3-19.1 .3 12.4 .3-17.4 .3 10.2 .3-15.6 .3 6.9 .3-16.6 .3 10.7 .3-17.9 .3 8.1 .3-15.6 .3 8.9 .3-18.5 .3 11.9 .3-17.9 .3 6.3 .3-11.7 .3 12.4 .3-15.6 .3 11 .3-13 .3 11.9 .3-12.3 .3 7.8 .3-12.2 .3 9.7 .3-11.6 .3 9.6 .3-13.1 .3 9.2 .3-10.9 .3 8.7 .3-12.7 .3 16.1 .3-16.7 .3 12.8 .3-20 .3 15.5 .3-14.1 .3 8.9 .3-14.1 .3 12.7 .3-13.6 .3 10.6 .3-16 .3 15.5 .3-19.2 .3 14.2 .3-13.4 .3 11.6 .3-16.7 .3 13.8 .3-15.3 .3 13.2 .3-13.5 .3 12.1 .3-15.8 .3 9.5 .3-18.7 .3 19.6 .3-19 .3 12.2 .3-18.8 .3 16.3 .3-16.9 .3 14.5 .3-22.1 .3 20.2 .3-23.2 .3 15.4 .3-20 .3 20.9 .3-23.2 .3 27.6 .3-29 .3 16.8 .3-23.5 .3 25.9 .3-26.4 .3 27.7 .3-38.2 .3 29.5 .3-28.4 .3 28.9 .3-25.6 .3 22.1 .3-24 .3 21.4 .3-29 .3 40.5 .3-34.8 .3 26.1 .3-28.2 .3 29.4 .3-38.9 .3 28 .3-23.1 .3 24.2 .3-30 .3 40.1 .3-42.4 .3 29.6 .3-28.2 .3 30.4 .3-28.9 .3 23.4 .3-20.8 .3 26 .3-39.7 .3 36.7 .3-31.6 .3 26 .3-31.5 .3 32.4 .3-40.5 .3 39.7 .3-35.3 .3 26.2 .3-36.7 .3 40 .3-45.7 .3 44.4 .3-39.6 .3 37.1 .3-37.7 .3 45.6 .3-50.9 .3 43.3 .3-52.8 .3 46 .3-33.5 .3 45.8 .3-45.3 .3 47.3 .3-40.8 .3 30.8 .3-51.8 .3 50.3 .3-38.2 .3 30.4 .3-50.3 .3 55.1 .3-50.8 .3 57.7 .3-59.3 .3 52.6 .3-43.4 .3 30.2 .3-34.8 .3 39.5 .3-34.6 .3 42.6 .3-39.3 .3 41.8 .3-47 .3 47.4 .3-38.1 .3 33.6 .3-31.9 .3 27.6 .3-34.1 .3 35.6 .3-34.2 .3 48.6 .3-47.3 .3 43.1 .3-35.1 .3 41.8 .3-40.3 .3 45 .3-31.2 .3 25.8 .3-34.1 .3 51.4 .3-46.5 .3 48 .3-40.9 .3 34 .3-32.9 .3 33.7 .3-30.9 .3 37.6 .3-29.2 .3 26.8 .3-32.2 .3 34.2 .3-27 .3 36.7 .3-31.4 .3 30.9 .3-28.7 .3 42.8 .3-35.1 .3 28.7 .3-38 .3 38.4 .3-37.1 .3 36.3 .3-32.3 .3 26.7 .3-24.6 .3 37.9 .3-25.7 .3 25 .3-23.8 .3 26.6 .3-26.5 .3 34.5 .3-29.7 .3 38.1 .3-32.5 .3 31.5 .3-25.5 .3 33.1 .3-31.6 .3 33.3 .3-27.4 .3 21 .3-18.8 .3 33.8 .3-29.9 .3 28.1 .3-31.6 .3 30.1 .3-30 .3 31.4 .3-29.9 .3 38 .3-27.5 .3 25.4 .3-20.6 .3 29.5 .3-27.4 .3 34.1 .3-32.5 .3 26.6 .3-25.8 .3 33.9 .3-25.8 .3 27.1 .3-20.8 .3 18.3 .3-17.4 .3 20.6 .3-20 .3 26 .3-23.9 .3 24.3 .3-18.7 .3 24 .3-20.3 .3 23 .3-20.6 .3 22.1 .3-16.7 .3 27 .3-17.6 .3 24.2 .3-20.6 .3 22 .3-9.7 .3 17.3 .3-16.6 .3 24.5 .3-16.6 .3 22.1 .3-15.7 .3 18.8 .3-16.1 .3 24.5 .3-14.1 .3 18.3 .3-8.3 .2 12.1 0-307.9 .1 9 .1-9 0 307.9 .2-11.9 .2 11.9 0-307.9 .1 7.5 .2-7.5 0 307.9 .1-6.4 .1 6.4 0-307.9 .2 12.7 .2-12.7 0 307.9 .1-5.1 .1 5.1 0-307.9 .2 16 .3-16 0 307.9 0-.3 0 .3 0-307.9 .3 18.7 .3-17.1 .3 15.4 .3-11.6 .3 19.4 .3-19.1 .3 24.1 .3-15.2 .3 16.9 .3-19.9 .3 18.2 .3-15 .3 13.9 .3-9.5 .3 18.9 .3-18.1 .3 20.8 .3-19.4 .3 21.4 .3-18 .3 20.2 .3-16.6 .3 15.5 .3-11 .3 18.5 .3-18.5 .3 25.5 .3-23.9 .3 19.6 .3-13.4 .3 23.3 .3-13.6 .3 14.5 .3-13.3 .3 17.1 .3-14.6 .3 17.9 .3-17.4 .3 16.5 .3-10.7 .3 15.4 .3-10 .3 14.9 .3-12 .3 18.1 .3-11.9 .3 18.6 .3-12.3 .3 17.5 .3-18.5 .3 18.3 .3-20.3 .3 18.8 .3-8.7 .3 11.4 .3-9.4 .3 14.2 .3-12 .3 17 .3-12.3 .3 16.3 .3-12.4 .3 11.7 .3-10.1 .3 14.4 .3-12.5 .3 18.3 .3-9.5 .3 15.3 .3-17.3 .3 19.3 .3-9.9 .3 17.5 .3-15.4 .3 17.6 .3-14 .3 15.8 .3-10.7 .3 14.3 .3-10.2 .3 16.7 .3-12.3 .3 12.1 .3-9.7 .3 14.5 .3-19 .3 20.4 .3-15.2 .3 15.4 .3-6.2 .3 10.6 .3-15.5 .3 16.6 .3-9 .3 12.6 .3-6.8 .3 11.7 .3-15.3 .3 20.6 .3-13.9 .3 17.3 .3-14.3 .3 17.9 .3-8.8 .3 12.1 .3-11.8 .3 16.6 .3-10.8 .3 16.3 .3-12.8 .3 15.8 .3-16 .3 14.7 .3-11.1 .3 15.5 .3-9.1 .3 13.7 .3-12.3 .3 12.9 .3-9.6 .3 16.4 .3-14.1 .3 16.3 .3-10.2 .3 11.8 .3-13.7 .3 15.7 .3-11.6 .3 15.1 .3-10 .3 16.9 .3-15.5 .3 16.2 .3-8.4 .3 13.6 .3-12.9 .3 16.9 .3-10 .3 14.6 .3-11.1 .3 9.6 .3-7.5 .3 15.7 .3-11 .3 14.3 .3-12 .3 13 .3-7.1 .3 12.3 .3-12.2 .3 14 .3-8.7 .3 11.3 .3-7.8 .3 10.9 .3-9 .3 13.5 .3-10 .3 13.4 .3-13 .3 14.2 .3-7.9 .3 14 .3-10 .3 9.6 .3-7.2 .3 10 .3-5.5 .3 12.2 .3-9.7 .3 13.3 .3-10.1 .3 13.4 .3-9.9 .3 12.2 .3-10.2 .3 13.6 0-307.9 0 .7 0-.7 0 307.9 .3-10 .2 10 0-307.9 .1 3 .1-3 0 307.9 .2-5.6 .2 5.6 0-307.9 .1 4.9 .1-4.9 0 307.9 .2-5.4 .1 5.4 0-307.9 .2 8.2 .3-8.2 0 307.9 0-.6 0 .6 0-307.9 .3 12.3 .3-8.5 .3 9.3 .3-8.9 .3 12 .3-10.1 .3 13.9 .3-8.3 .3 10 .3-8.4 .3 13.1 .3-8.5 .3 11.3 .3-9.4 .3 10.8 .3-6.1 .3 10.3 .3-10.1 .3 15 .3-12.6 .3 12.5 .3-7 .3 8.8 .3-7.5 .3 13.3 .3-12.4 .3 11.2 .3-8.4 .3 11.7 .3-7.4 .3 12.7 .3-9 .3 11.6 .3-7.9 .3 11.8 .3-9.9 .3 10.9 .3-9.1 .3 12.8 .3-7.5 .3 11 .3-7.7 .3 11 .3-10.7 .3 9.8 .3-7.1 .3 10.3 .3-7.5 .3 12.4 .3-10.2 .3 12 .3-8.1 .3 9.9 .3-7.1 .3 10.9 .3-7.1 .3 10.3 .3-7.2 .3 10.4 .3-8.3 .3 10.6 .3-8.6 .3 10.4 .3-7.4 .3 10.4 .3-7.5 .3 10.7 .3-7.2 .3 9.2 .3-7.4 .3 9.7 .3-6.4 .3 10 .3-7.5 .3 10.9 .3-7.6 .3 11.2 .3-8.9 .3 11.3 .3-9.1 .3 13.7 .3-9.7 .3 9.3 .3-4.3 .3 9 .3-8.4 .3 10 .3-8.7 .3 11.3 .3-7.4 .3 10.3 .3-6.6 .3 9 .3-5.1 .3 8.4 .3-8 .3 10.1 .3-3.8 .3 9.3 .3-8.9 .3 11.9 .3-7.9 .3 6.9 .3-5.4 .3 8.8 .3-4.6 .3 8.5 .3-6.7 .3 7.9 .3-6 .3 12.1 .3-8.4 .3 9.1 .3-6.4 .3 8.6 .3-5.6 .3 9.5 .3-7.2 .3 10.2 .3-5 .3 9 .3-8.6 .3 10.7 .3-8.6 .3 11.9 .3-7 .3 8.6 .3-6.9 .3 9.3 .3-5.8 .3 8.6 .3-6.1 .3 9.6 .3-5.6 .3 9.1 .3-6 .3 8.7 .3-7.5 .3 10.6 .3-8.6 .3 10.3 .3-6.6 .3 10.7 .3-6.1 .3 7.8 .3-6.3 .3 8.3 .3-4.7 .3 8.5 .3-5.2 .3 6.9 .3-4.5 .3 7.4 .3-4.3 .3 6.3 .3-4 .3 7.4 .3-5.9 .3 9 .3-6.9 .3 11.2 .3-5.4 .3 7.9 .3-7 .3 8 .3-4.5 .3 7.6 .3-6 .3 10.4 .3-6.3 .3 10.1 .3-6.7 .3 7.3 .3-5.1 .3 9.5 .3-5.2 .3 6.6 .3-5.7 .3 9.1 .3-6.6 .3 11.1 .3-7.4 .3 9.9 .3-5.7 .3 6.4 .3-4.4 .3 8.6 .3-6.2 .3 7.2 .3-4.9 .3 8.1 .3-4.1 .3 8 .3-6.7 .3 8.6 .3-4.2 .3 7.5 .3-4.7 .3 8.8 .3-6.8 .3 8.6 .3-6.8 .3 7.4 .3-4.4 .3 9.3 .3-5.9 .3 8.1 .3-5.1 .3 8.2 .3-5.6 .3 8.1 .3-5.9 .2 8.2 0-307.9 .1 1.8 .1-1.8 0 307.9 .2-5 .2 5 0-307.9 .1 2.5 .2-2.5 0 307.9 .1-2 .1 2 0-307.9 .2 8 .3-5.3 .3 7.2 .3-4.8 .3 8 .3-4.6 .3 8.1 .3-5.4 .3 8.8 .3-5.4 .3 8.7 .3-3.6 .3 7.6 .3-7 .3 9.8 .3-4.3 .3 5 .3-3.2 .3 9.5 .3-6.4 .3 7.3 .3-4.8 .3 9.2 .3-5.2 .3 6.9 .3-4.7 .3 8.9 .3-4.2 .3 7.3 .3-4.5 .3 8.4 .3-4.3 .3 6.9 .3-3.7 .3 6.1 .3-5 .3 8.4 .3-5 .3 8.8 .3-4.8 .3 7.4 .3-3 .3 6.6 .3-4.6 .3 7.2 .3-3.5 .3 7.7 .3-4.3 .3 6.7 .3-3.6 .3 6.6 .3-3.4 .3 8.7 .3-5.8 .3 7.1 .3-5.8 .3 9.8 .3-5.5 .3 9 .3-3.8 .3 5.2 .3-4.7 .3 7.5 .3-3 .3 9.2 .3-6.8 .3 9.4 .3-6.6 .3 8.8 .3-6.7 .3 8.6 .3-4.1 .3 9.8 .3-7.4 .3 8.9 .3-5.5 .3 8.4 .3-5.5 .3 10.1 .3-5.3 .3 7.1 .3-5 .3 7.9 .3-3.6 .3 7.1 .3-4.9 .3 8.1 .3-3.7 .3 7.8 .3-6.3 .3 10.3 .3-6.6 .3 9.6 .3-4.3 .3 7.1 .3-4.3 .3 5.8 .3-3.7 .3 7.7 .3-2.8 .3 5.3 .3-3.8 .3 8.6 .3-5.5 .3 7.5 .3-3 .3 7.9 .3-5 .3 5.7 .3-2.4 .3 7 .3-4.3 .3 8 .3-6 .3 8.2 .3-3.8 .3 7.1 .3-5.3 .3 8.7 .3-4.9 .3 7.2 .3-4.6 .3 7.2 .3-2.8 .3 7.6 .3-5 .3 7 .3-2.7 .3 8.2 .3-6.4 .3 7.4 .3-3.6 .3 8.4 .3-4.4 .3 6.8 .3-4.5 .3 7.3 .3-3.8 .3 6.8 .3-3 .3 6.1 .3-3 .3 7.1 .3-4.2 .3 8.5 .3-5.7 .3 6.3 .3-2.5 .3 7.5 .3-4.9 .3 7.3 .3-3.3 .3 5.9 .3-4.2 .3 7.5 .3-4.3 .3 8.5 .3-5.1 .3 7.6 .3-4.6 .3 6.9 .3-2.5 .3 7.8 .3-4.5 .3 6.7 .3-3.3 .3 6.2 .3-3.1 .3 6 .3-4.5 .3 7.9 .3-2.3 .3 6.3 .3-4.8 .3 7.5 .3-4.5 .3 7.3 .3-4 .3 7.9 .3-4.5 .3 6.9 .3-4.1 .3 7.9 .3-2.6 .3 5.9 .3-3.8 .3 6.1 .3-2.8 .3 7.6 .3-4.9 .3 5.8 0-307.9 0 .2 0-.2 0 307.9 .3-4.4 .2 4.4 0-307.9 .1 3.2 .3-2.7 .3 7.3 .3-4.9 .3 8.8 .3-4.5 .3 7.3 .3-5 .3 8.3 .3-4.6 .3 8.3 .3-3.7 .3 5.7 .3-3.6 .3 6.7 .3-4.3 .3 8 .3-4.6 .3 7.4 .3-4.2 .3 7.8 .3-2.6 .3 6.3 .3-4.2 .3 6.8 .3-3.6 .3 5.9 .3-3 .3 8.1 .3-4.2 .3 6.7 .3-2.8 .3 7.5 .3-4.8 .3 6 .3-2.7 .3 6.4 .3-3.5 .3 5.8 .3-1.1 .3 5.2 .3-3 .3 6.3 .3-2.4 .3 6.3 .3-4 .3 6.1 .3-3.7 .3 7.2 .3-2.2 .3 5.5 .3-1.8 .3 4.9 .3-3.3 .3 6.3 .3-1.8 .3 6 .3-3.7 .3 7.6 .3-3.2 .3 6 .3-2.8 .3 6.3 .3-3.1 .3 6.3 .3-4.3 .3 6.5 .3-2.2 .3 5.4 .3-2.2 .3 5.8 .3-3.5 .3 7.8 .3-5.1 .3 7 .3-2.6 .3 6.6 .3-4.5 .3 6.6 .3-2.1 .3 5.7 .3-2.9 .3 6.4 .3-4.5 .3 6.7 .3-1.9 .3 5.3 .3-1.7 .3 4.8 .3-1.8 .3 5.1 .3-2.4 .3 6 .3-3 .3 6.4 .3-2.2 .3 5.4 .3-2.2 .3 5.7 .3-3.3 .3 5.7 .3-2.4 .3 6.5 .3-1.6 .3 5.8 .3-2.2 .3 3.8 .3-2.4 .3 6.9 .3-3.1 .3 5.6 .3-2.8 .3 6.8 .3-2.9 .3 5.5 .3-2.7 .3 6.1 .3-2.5 .3 5.4 .3-3.1 .3 6.5 .3-2.3 .3 4.9 .3-1.6 .3 5.9 .3-2.8 .3 4.7 .3-1.6 .3 5.7 .3-2.9 .3 6 .3-2.4 .3 4.8 .3-2.1 .3 3.2 .3-4.7 .3 2.3 .3-5.4 .3 3.7 .3-5.8 .3 2.5 .3-2.1 .3 5.5 .3-.5 .3 6.2 .3-.7 .3 5.9 .3-2 .3 7.2 .3-1.3 .3 4.9 .3-1.6 .3 5.4 .3-2.4 .3 5.7 .3-2.1 .3 5.4 .3-2.5 .3 6.1 .3-3.3 .3 6.4 .3-2.4 .3 5.3 .3-1.8 .3 4.8 .3-35.1 .3-42.4 .3-49.6 .3-29.1 .3-4.4 .3 1.8 .3-5.7 .3 4.2 .3-6.1 .3 2.5 .3-4.9 .3 3.2 .3-4.2 .3 7.3 .3-.2 .3 6.2 .3 .4 .3 6.6 .3-.4 .3 6.5 .3-.4 .3 7.9 .3 .3 .3 6 .3-.2 .3 7.8 .3-1.5 .3 7.1 .3-.4 .3 8.2 .3-1.6 .3 8.6 .3-1 .3 7.6 .3-2.1 .3 7.9 .3-.4 .3 8.1 .3-2.3 .3 8 .3 .3 .3 6.5 .3 0 .3 7.9 .3-3.4 .3 9.7 .3-1.8 .3 8.4 .3-1 .3 6.8 .3-1.6 .3 8.4 .3-1.8 .3 9.5 .3-1.5 .3 7.8 .3-.7 .3 8 .3-2.2 .3 7.7 .3 .2 .3 7.4 .3-1.3 .3 8.5 .3-2.2 .3 8.9 .3-2.6 .3 9.3 .3-.7 .3 6.7 .3-1.3 .3 7.8 .3-.4 .3 7.6 .3-1.4 .3 8.3 .3-1.1 .3 6.4 0-307.9 0 1.3 .2-1.3 0 307.9 .1-1 0 1 0-307.9 .3 7 .3-3.7 .3 8.7 .3-3.4 .3 6.7 .3-1.3 .3 7.9 .3-3.6 .3 6.3 .3-1 .3 7.7 .3-3.1 .3 7.1 .3-1.8 .3 7.1 .3-1.5 .3 7.4 .3-2.6 .3 8 .3-5.6 .3 7.9 .3-1 .3 6.1 .3-1.7 .3 7.8 .3-2.6 .3 6.1 .3-.5 .3 7.2 .3-2.9 .3 8.3 .3-1.8 .3 7.2 .3-3.8 .3 6.7 .3-2.4 .3 8.4 .3-3.4 .3 8.5 .3-3.4 .3 6.8 .3-2.3 .3 7.5 .3-.9 .3 8.3 .3-2.8 .3 7.5 .3-3.3 .3 7.8 .3-2.1 .3 7.8 .3-1.9 .3 6.8 .3-2.5 .3 8.7 .3-3.4 .3 7.9 .3-5.1 .3 6.7 .3-3.3 .3 8.1 .3-5.6 .3 6 .3-4.8 .3 8.3 .3-4.9 .3 6.7 .3-4.8 .3 6.2 .3-4.2 .3 7.7 .3-4.7 .3 6.4 .3-2.5 .3 4.4 .3-3.3 .3 6.3 .3-3.7 .3 6.7 .3-5.5 .3 7.4 .3-5.4 .3 4.8 .3-3.9 .3 6.2 .3-3.7 .3 5.4 .3-4.6 .3 6.3 .3-4.9 .3 6.9 .3-7.4 .3 6.2 .3-4.6 .3 3.3 .3-4.8 .3 4.1 .3-4.4 .3 5.2 .3-5.5 .3 6.4 .3-2.6 .3 6.7 .3-2.2 .3 6.2 .3-1.1 .3 7.4 .3-2.3 .3 7.4 .3-2.3 .3 6.2 .3-1.5 .3 7.2 .3-2.4 .3 8.1 .3-2.8 .3 8.3 .3-3.9 .3 7.9 .3-3.3 .3 7.4 .3-3.5 .3 7 .3-1.6 .3 8.1 .3-3.8 .3 9 .3-4 .3 6.8 .3-1.3 .3 5.6 .3-2.8 .3 9 .3-3 .3 7.3 .3-3.3 .3 6.5 .3-2.9 .3 8.3 .3-2.8 .3 7.4 .3-4.2 .3 7.8 .3-2 .3 8.4 .3-3.6 .3 7.4 .3-5.2 .3 9.4 .3-2.9 .3 6.9 .3-4.1 .3 9.1 .3-3.3 .3 8 .3-3.4 .2 4.2 0-307.9 .1 2.2 .3-1.4 .3 6.6 .3-2.7 .3 6.4 .3-2.5 .3 7.5 .3-1.5 .3 7.9 .3-4.1 .3 7.7 .3-3.7 .3 8.3 .3-3.8 .3 7.1 .3-1.6 .3 8 .3-3.6 .3 7 .3-2.9 .3 7.9 .3-2.6 .3 7.6 .3-3.4 .3 6.9 .3-2.8 .3 6.6 .3-1.8 .3 9.4 .3-3.7 .3 7.4 .3-3 .3 8.1 .3-3.5 .3 7 .3-2.6 .3 8.7 .3-5 .3 8.4 .3-3.9 .3 8.3 .3-2.9 .3 7.9 .3-4.6 .3 8.3 .3-3.8 .3 8.7 .3-3.4 .3 8.5 .3-4.2 .3 9.4 .3-4.8 .3 8.1 .3-1.7 .3 7.1 .3-3 .3 8.6 .3-4.1 .3 8.7 .3-3.6 .3 7.3 .3-3.5 .3 8 .3-3 .3 7.1 .3-4.1 .3 10.3 .3-2.6 .3 6.8 .3-3.1 .3 8.7 .3-4.3 .3 7.6 .3-3.6 .3 9.2 .3-2.9 .3 7.5 .3-4.1 .3 9.4 .3-4.9 .3 9.5 .3-5.5 .3 10 .3-3 .3 8.2 .3-6.7 .3 9.9 .3-4.8 .3 10.6 .3-5 .3 8.1 .3-3.8 .3 8.4 .3-3.6 .3 7.6 .3-3.2 .3 7.9 .3-4.6 .3 11.3 .3-6.5 .3 11 .3-3.7 .3 8 .3-4.9 .3 10.2 .3-6 .3 9.3 .3-5.4 .3 10.3 .3-5.3 .3 10.2 .3-4.8 .3 9.3 .3-6.4 .3 11.7 .3-5.8 .3 11.5 .3-8.5 .3 12.7 .3-4.6 .3 9.4 .3-5.6 .3 7.8 .3-3.9 .3 9.4 .3-7.4 .3 10.9 .3-4.3 .3 9.2 .3-3.8 .3 9.8 .3-6.7 .3 9.6 0-307.9 0 .1 0-.1 0 307.9 .3-4.7 .1 4.7 0-307.9 .2 5.2 .3-3.6 .3 9.8 .3-8.3 .3 8.5 .3-3.8 .3 9.4 .3-5.2 .3 8.4 .3-5.9 .3 9 .3-4.9 .3 9.4 .3-5.4 .3 8.5 .3-4 .3 8.8 .3-5.9 .3 10.8 .3-6.5 .3 10.3 .3-4.9 .3 9.9 .3-7.3 .3 7.4 .3-2.9 .3 8.6 .3-4 .3 7.3 .3-4.7"/>
<rect class="ax" x="1237.5" y="8.5" width="1049.9" height="342.1"/>
<path class="tk" d="M1500 350.6v-10.5M1500 8.5v10.5M1762.5 350.6v-10.5M1762.5 8.5v10.5M2024.9 350.6v-10.5M2024.9 8.5v10.5M1237.5 179.6h10.5M2287.4 179.6h-10.5M1237.5 8.5h10.5M1237.5 350.6h10.5M2287.4 8.5h-10.5M2287.4 350.6h-10.5M1237.5 8.5v10.5M1237.5 350.6v-10.5M2287.4 8.5v10.5M2287.4 350.6v-10.5"/>
</g>
<g id="ax-NWC">
<path class="d" clip-path="url(#c2)" d="M70.5 552.2l.3 82.9 .3 143.3 0-306.7 .3 125.4 .3 15.4 .3 6 .3 159.9 .3-51.1 .3-40.4 .3-81.8 .3 173.3 0-306.7 .3 274.7 .3-104.9 .3 4.6 .3-11.9 .3 21.7 .3-100.9 .3 50.2 .3 8 .3-141.5 0 306.7 .3-142.4 .3-32.3 .3 61.9 .3-52.7 .3 104.1 .3 7.9 .3 53.5 .3 0 .3 0 .3 0 0-306.7 .3 306.7 .3 0 .3 0 .3 0 .3-70.4 .3 70.4 0-306.7 .3 306.7 .3 0 .3 0 .3 0 .3 0 0-306.7 .3 306.7 .3 0 .3 0 .3 0 .3 0 .3-25 .3 25 .3-42.3 .3 42.3 0-306.7 .3 298.3 .3-7.2 .3-86.4 .3-77 .3 73.7 .3-11.9 .3 29.8 .3 87.4 0-306.7 .3 244.6 .3 17 .3-99.6 .3 123.1 .3 17 .3 4.6 .3-54.4 .3-252.3 0 306.7 .3 0 .3 0 .3-23.8 .3-96.5 .3-165.4 .3-5.6 .3 84.7 .3 55.1 .3 63.7 .3-93 .3 13.8 .3-64.3 .3 107.6 .3 16.1 .3-36.3 .3 20.2 .3 4.9 .3 6.4 .3 33.2 .3-49.8 .3 60.9 .3-52.4 .3 32.7 .3-218.9 0 306.7 .3-71.7 .3-37.2 .3 96.1 .3 12.8 .3-12.7 .3 12.7 .3-3.5 .3 3.5 .3 0 .3 0 .3-6.2 .3-31.1 .3-66.7 .3 104 .3-25.3 .3-3.6 .3-28.2 .3 38.2 .3-61.2 .3-226.6 0 306.7 .3-26.6 .3-47.9 .3 59.6 .3-54.7 .3 69.6 .3 0 .3 0 .3-12.7 .3-36 .3-34.5 .3-8.4 .3 46.1 .3-45 .3-18.6 .3 19.1 .3-59.2 .3 13.8 .3 135.4 0-306.7 .3 81.4 .3 148.3 .3 27.1 .3-13.3 .3-33.6 .3 71.9 .3-89.3 .3 15.8 .3-11.3 .3 49.2 .3-29 .3 27.5 .3-121.4 .3 172.9 .3-63.5 .3-72.5 .3-87.5 .3 39.6 .3 5.3 .3 29.1 .3-48.2 .3 40.8 .3-42.1 .3-97.2 0 306.7 .3-306.7 .3 0 .3 37.9 .3-37.9 .3 0 .3 0 .3 0 .3 0 .3 0 .3 0 .3 125.1 .3-53.5 .3 68.2 .3-139.8 0 306.7 .3-123.9 .3 80.3 .3-86 .3 62 .3-43.2 .3 70.4 .3-9 .3 2.9 .3-34.2 .3-50.1 .3 27.3 .3-6.8 .3-10.3 .3 40.9 .3-126.9 .3-17 .3-4.6 .3 28.1 .3 62.4 .3 49.6 .3 88.1 0-306.7 .3 179.4 .3 48.2 .3-27.4 .3-76.5 .3-29.7 .3 117.3 .3-72.1 .3 152.2 .3-100.2 .3 44.3 .3 21.7 .3 49.3 .3-306.5 0 306.7 .3-67.5 .3-26 .3 23.2 .3 20.3 .3-29.1 .3 45.9 .3-49 .3 45.3 .3 22.6 .3-24.4 .3-37.4 .3 10.8 .3 31.9 .3 33.4 .3 0 .3-2.9 .3-95.9 .3 29.7 .3-37.3 .3-15.7 .3 32.6 .3 89.5 0-306.7 .3 201.4 .3 54.2 .3-11 .3-88.3 .3 .6 .3 35.6 .3 46.8 .3-46.3 .3 46.3 .3-152.6 .3 48.8 .3 83.6 .3 87.6 .3-63.3 .3 23 .3-46 .3-220.4 0 306.7 .3-90.5 .3 3.9 .3 81.6 .3-162.5 .3 68.2 .3 26.3 .3 16.1 .3-32.5 .3 29 .3-31.2 .3-8.5 .3-18.1 .3 102.9 .3-136.4 .3 151.7 0-306.7 .3 120.7 .3-40.6 .3 3.4 .3 37.9 .3 12.7 .3-35.7 .3 22.8 .3-29.4 .3 39.2 .3-6.9 .3 81 .3-100.2 .3 33.7 .3-84.3 .3 38.8 .3 45.7 .3 34.3 .3-23.5 .3 9.8 .3-159.4 0 306.7 .3-139.9 .3-72.8 .3 25.9 .3 34.2 .3 4.2 .3-8.4 .3-103 .3 61.8 .3-.6 .3 129.7 .3-54.6 .3-183.2 0 306.7 .3-175.9 .3 15.1 .3 64.2 .3-11.8 .3 45.7 .3-75.1 .3 101.6 .3-33.2 .3 69.4 .3-2.8 .3 2.8 .3 0 .3 0 .3 0 .3 0 .3-52.2 .3-29.3 .3-225.2 0 306.7 .3-88.1 .3-79.4 .3-35 .3 13.6 .3-117.8 .3 133 .3 36.9 .3 48.5 .3 47.2 .3 6.9 .3-163.8 .3 14.4 .3-123.1 .3 0 .3 0 .3 0 .3 0 .3 33.4 .3 37.9 .3 91.4 .3-100.1 .3 83.8 .3-98 .3 258.3 0-306.7 .3 162.4 .3-111.1 .3 136.2 .3-35.4 .3 9.8 .3-89.3 .3 11.6 .3 9.7 .3 173.6 .3-11.5 .3-11.3 .3 62 0-306.7 .3 199.7 .3 56.9 .3-99.1 .3 1.5 .3-13.4 .3 133.3 .3-278.9 0 306.7 .3-114.1 .3-29.7 .3-28.3 .3 28.7 .3-96.7 .3 56.9 .3-108.7 .3 45.3 .3 .4 .3 108 .3 16.9 .3-77.5 .3 30 .3 23.1 .3 57.1 .3-49 .3-91.9 .3-44.4 .3-13.8 .3 28.5 .3 33.3 .3 1.6 .3 8.5 .3 17.4 .3 198.4 0-306.7 .3 271.5 .3 35.2 .3-61.6 .3 42.7 .3-25.3 .3-13.3 .3-131.3 .3-7.8 .3-39 .3 20 .3-91.1 .3 110.8 .3-110.8 0 306.7 .3-213 .3 54 .3-49.7 .3 75.7 .3 19.7 .3-20 .3-14.5 .3 113.5 .3 9 .3 19.3 .3 6 0-306.7 .3 183.8 .3 37.3 .3-77.1 .3 78.1 .3-1.8 .3 73.7 .3-97 .3 44.1 .3 36 .3-42.1 .3-29.7 .3-30 .3-107.8 .3 239.2 0-306.7 .3 14.8 .3-2 .3 28.6 .3 4.6 .3-46 0 306.7 .3-275.7 .3 47.4 .3 102.9 .3-20.5 .3 52.7 .3-80.3 .3 78.2 .3-211.4 0 306.7 .3-108.7 .3-21.3 .3-84.8 .3-57.2 .3 5.2 .3 95.2 .3 .1 .3-135.2 0 306.7 .3-95.2 .3-15 .3 3.9 .3-7.5 .3 14.5 .3-17.2 .3 77 .3 39.5 0-306.7 .3 207.3 .3-72.2 .3-45.1 .3 31 .3 40.1 .3 60.9 .3-88.2 .3 45.6 .3-61.2 .3-63.7 .3-34.6 .3 13.8 .3 40.5 .3 56.9 .3-4.6 .3-22.2 .3-24.8 .3-24 .3 30.6 .3-57.4 .3-28.7 .3 0 0 306.7 .3-232.4 .3 82.7 .3 149.7 .3-9.6 .3-3.2 .3-16.6 .3 29.4 .3 0 0-306.7 .3 300.5 .3-66.6 .3 5.9 .3 49.8 .3-289.6 0 306.7 .3-148.6 .3-26.4 .3 15.6 .3 8.1 .3-105.7 .3 44.6 .3 22 .3-4.9 .3-7.8 .3 5.1 .3-63.6 .3 194.6 .3-44.1 .3 70.8 .3-128.5 .3-79.8 .3 117.8 .3-13.3 .3-39.6 .3 53.7 .3-176.7 0 306.7 .3-201.5 .3 38.6 .3-85.1 .3 169.1 .3 8.3 .3 70.6 .3-65.7 .3-66.5 .3-93.4 .3-64.5 .3 3.1 .3-19.7 .3 0 .3 0 .3 306.7 0-306.7 .3 0 .3 80.3 .3 54.1 .3 85.2 .3-55.6 .3 38.9 .3-51.9 .3 62.6 .3-11.1 .3 104.2 .3 0 .3-28.3 .3-107.3 .3-80.1 .3 7.6 .3-42 .3 71.8 .3 41.9 .3 10.2 .3-3.6 .3 129.8 0-306.7 .3 181.6 .3-58.3 .3-24.7 .3 76.1 .3-39.1 .3 55 .3 30.2 .3-72.1 .3-79.8 .3 54.1 .3-19.4 .3 122.8 .3-44.8 .3 76.9 .3-124.7 .3 56.4 .3-65.2 .3-125 0 306.7 .3-35.5 .3-40.3 .3-43.1 .3 12.7 .3 2.6 .3-108.6 .3 107.2 .3-117 .3-80.7 .3 39.4 .3-30.3 .3-13.1 .3 0 .3 0 .3 6.4 .3-6.4 .3 306.7 0-306.7 .3 0 .3 0 .3 0 .3 23.3 .3 88.5 .3-10.6 .3 51.3 .3-76.9 .3 99.9 .3-.1 .3 10.8 .3 34.7 .3 .4 .3-14.5 .3 23.3 .3-2.2 .3 42.3 .3-27.2 .3-243 0 306.7 .3-85.3 .3-29.3 .3-2.2 .3-22.9 .3 57.5 .3 82.2 .3-29.9 .3-28.7 .3 3.1 .3-14.7 .3 40.3 .3 29.9 0-306.7 .3 252.4 .3 25.2 .3 2.8 .3 26.3 .3 0 .3-6.6 .3-121.1 .3-179 0 306.7 .3 0 .3 0 .3 0 .3-122.4 .3-72.4 .3-34.9 .3-20 .3 77.3 .3-66.7 .3 2 .3 115 .3-63.2 .3-28.5 .3-90.6 .3 74.1 .3-58.3 .3 52.4 .3 67.9 .3-138.4 0 306.7 .3-78.6 .3 56.9 .3 21.7 .3-60.8 .3 60.8 .3-65.2 .3 40.6 .3-129.9 .3 60.3 .3 43.3 .3 48.5 .3-42.6 .3-47.2 .3-39.5 .3 25.2 .3 106.5 0-306.7 .3 178.5 .3 40.1 .3 71.2 .3 13.8 .3-59.7 .3-87.6 .3 41.8 .3 34.3 .3-42.5 .3 8.2 .3 12.5 .3-17.8 .3-2.5 .3 86.9 .3-1.5 .3-24.7 .3-171.6 .3 62.4 .3 164.9 0-306.7 .3 167.7 .3 72.4 .3-89 .3 58.1 .3 15.4 .3-224.6 0 306.7 .3-32.2 .3-17.9 .3 21.5 .3 28.6 .3 0 .3-63.5 .3-18.8 .3-25.9 .3 34.9 .3 31.6 .3 41.7 0-306.7 .3 191.5 .3-79.9 .3 38 .3-60.3 .3 38.3 .3 5.5 .3 57.5 .3 6.7 .3 109.4 .3-50.6 .3-96.1 .3-104.7 .3 29.4 .3 .2 .3 1.7 .3-17.4 .3-22.7 .3 260.2 0-306.7 .3 57.8 .3 71.8 .3-34.7 .3-17.8 .3 4.7 .3 21.2 .3 31.7 .3-69.9 .3 76.4 .3 41.6 .3-182.8 0 306.7 .3-205.2 .3 45.5 .3-42.3 .3 32.1 .3 36.7 .3 22.6 .3-63.9 .3 69.2 .3-22.6 .3 57.2 .3 27.9 .3-25.3 .3-44.7 .3-59.7 .3 56 .3-190.2 0 306.7 .3-89.1 .3-15.6 .3 37.2 .3-108.3 .3 3.3 .3-39.2 .3 79.6 .3 63.6 .3 18.7 .3-4.2 .3-62.4 .3-122.4 .3 238.8 0-306.7 .3 265 .3-50.1 .3-121.6 .3-25.4 .3 55 .3-4.8 .3 101.6 .3-108.5 .3 118.1 .3 .8 .3 6 .3 39.2 .3 31.4 .3-22.5 .3 22.5 .3 0 .3 0 .3 0 .3 0 0-306.7 .3 306.7 .3 0 .3 0 .3-40.6 .3-22.5 .3-54.7 .3-9.6 .3-33.1 .3 48.9 .3-37.8 .3 149.4 0-306.7 .3 222.4 .3 44 .3 40.3 .3-115.1 .3-27.9 .3-107.6 .3 13.8 .3 52.9 .3 75.1 .3-93.3 .3 145.4 .3 36.1 .3 20.6 0-306.7 .3 306.7 .3 0 .3 0 .3-27.6 .3 27.6 .3 0 .3 0 .3 0 .3-42.7 .3-61.3 .3 14.1 .3-53.2 .3 16.8 .3-19.7 .3 146 .3 0 .3-58.7 .3 20.9 .3-87.2 .3-89.8 .3 214.8 0-306.7 .3 158.7 .3 29 .3-20.6 .3-86.5 .3 38.8 .3-3.2 .3 37.4 .3-80.7 .3 95.5 .3 138.3 0-306.7 .3 88.9 .3-88.9 .3 0 .3 20.9 .3 9.2 .3-30.1 0 306.7 .3-271.6 .3 21 .3-4.8 .3 22.6 .3-22.6 .3 1.7 .3 114.4 .3-107 .3 88.8 .3-24.8 .3 117.6 .3 40.3 .3 24.4 .3-41.2 .3 41.2 .3-14.4 .3 14.4 0-306.7 .3 223.2 .3-17.7 .3-47.2 .3 76.4 .3 6.3 .3-241 0 306.7 .3-119.7 .3-50.3 .3 22.2 .3 13.1 .3-50.6 .3 77.9 .3-25 .3 18.8 .3-71.4 .3 72.4 .3 30.6 .3-2.2 .3-42.6 .3 40.2 .3-113.1 .3-13.4 .3-10.5 .3 70.8 .3-99.4 .3 70.2 .3 182 0-306.7 .3 119.4 .3-20.2 .3 89.2 .3-7 .3-26.2 .3-20.2 .3 12.2 .3 14 .3 145.5 0-306.7 .3 189.3 .3 11.1 .3-71.1 .3 63.6 .3-192.9 .3 0 .3 80.8 .3 47.5 .3 38.4 .3 19.4 .3-.7 .3 17.6 .3 22.6 .3-95.1 .3-.6 .3 33.5 .3 63.5 .3-23.9 .3 0 .3 68.3 .3-2.7 .3-268.6 0 306.7 .3-58.9 .3-6 .3 64.9 .3-130.4 .3 18.7 .3-77.3 .3 56 .3-55.7 .3 32.1 .3-111.3 .3 45.3 .3-30.4 .3 30.1 .3-18.7 .3 82.1 .3-108.9 .3 48.8 .3-37.4 .3 103.4 .3-45.1 .3 55.8 .3-29.8 .3 85 .3-64.1 .3 55.8 .3-53.2 .3-6.5 .3-45.4 .3 55.8 .3-65.5 .3 79.7 .3-55.8 .3 48.6 .3-26.1 .3 39.2 .3-24.5 .3 16.6 .3-33.5 .3 13.7 .3-45.4 .3 33 .3-25.6 .3 39.7 .3 8 .3 58.6 .3-63.8 .3 73.6 .3-71.2 .3 34.3 .3-91.5 .3 29.9 .3-6.5 .3 41.7 .3-45.5 .3 54.2 .3-71.6 .3 115.8 .3-103.2 .3 97.7 .3-42.4 .3 25.4 .3-23.7 .3 77.2 .3-72.4 .3 88.1 .3-76.3 .3 80.4 .3-14.4 .3 10.2 .3-52.7 .3 50.6 .3-92.7 .3 89.3 .3-85.9 .3 60.6 .3-69.6 .3 91.1 .3-107.8 .3 88.1 .3-63.2 .3 58.6 .3-12.4 .3 51.2 .3 33.4 0-306.7 .3 232.4 .3 26.4 .3-87.3 .3 4.4 .3-48.7 .3 31.3 .3-41.9 .3 26.5 .3-44.9 .3 41.2 .3-12.6 .3 14.8 .3 11 .3 69.8 .3-7.8 .3 42.9 .3-47.1 .3 48.3 .3-35.4 .3 50.8 .3-65.9 .3 8 .3 90.5 0-306.7 .3 222.7 .3 43.1 .3 15.8 .3 25.1 .3-60.8 .3 40.4 .3 14.4 .3 1.3 .3-42.7 .3-37.2 .3-21.1 .3 43.3 .3-39.7 .3-42.8 .3-45.7 .3 16.4 .3-35.7 .3 40.8 .3 169.1 0-306.7 .3 96.4 .3 45.1 .3-46.8 .3 30.1 .3-39.3 .3 69.2 .3 37.2 .3 56.6 .3-9.4 .3 9.1 .3-70.4 .3 65 .3-71.8 .3 49.2 .3-27.1 .3 25.3 .3 88.3 0-306.7 .3 191.8 .3 9.8 .3-25.1 .3 35.7 .3-91.5 .3 41.9 .3 12.7 .3 34 .3 97.4 0-306.7 .3 150.4 .3 112.2 .3-79.5 .3 44 .3-61.2 .3 30.9 .3-60.8 .3 170.7 0-306.7 .3 151.8 .3 32.2 .3 41.7 .3 27.6 .3-10.3 .3-88.2 .3 104.3 .3-58.7 .3-30.1 .3 15.2 .3-.3 .3-85.2 .3 59.9 .3 21.1 .3 63.2 .3-30.1 .3 54.7 .3 7.4 .3 .7 .3 29.8 0-306.7 .3 195.6 .3 15.2 .3 35.6 .3-24.8 .3-87.8 .3 30.4 .3-27.8 .3 170.3 0-306.7 .3 145 .3-62.3 .3 51.9 .3 18 .3 112.7 .3-49.4 .3 47 .3 43.8 0-306.7 .3 228.6 .3 39.2 .3 1 .3 37.9 .3-8.2 .3 8.2 .3-20.6 .3 20.6 .3-36.2 .3-29.1 .3-31.8 .3 28.2 .3-16.8 .3 49.1 .3 1.9 .3-272 0 306.7 .3 0 .3 0 .3 0 .3-2.3 .3 2.3 .3-81.3 .3 64.3 .3 1.2 .3-14.5 .3-58.3 .3 88.6 .3-13.9 .3 13.9 .3-60.8 .3 36.8 .3 8.6 .3-40.8 .3 34 .3 22.2 .3-73.8 .3-232.9 0 306.7 .3-47.9 .3-8.3 .3-32.7 .3-53 .3 62.5 .3-73.6 .3 41.7 .3-195.4 0 306.7 .3-161.8 .3 64.5 .3-112.4 .3 90.5 .3-42.3 .3 27.6 .3 1 .3-173.8 0 306.7 .3-24.8 .3-50.2 .3-74 .3 10.3 .3 23.4 .3-86.5 .3 154 .3-258.9 0 306.7 .3-63.3 .3-1.4 .3-50.4 .3-31.2 .3-75.8 .3 95.8 .3-32.7 .3 44.9 .3-31.1 .3 90.7 .3-31 .3-12.4 .3-47.8 .3 43.2 .3-85.4 .3 80 .3 107.9 0-306.7 .3 130.5 .3 21.6 .3-22.5 .3 40.3 .3-58.2 .3 113.4 .3-49.3 .3 55.3 .3-39 .3 8.4 .3-2.6 .3-5.7 .3-67 .3 151.5 .3 20 .3 10 .3 0 0-306.7 .3 248.6 .3-16.6 .3 18.5 .3-8.2 .3-66 .3 64.6 .3-83.7 .3 70 .3-23.9 .3 13.2 .3-60.1 .3 99.6 .3-70.7 .3 27.4 .3-47.1 .3 75.3 .3-57.6 .3 28.1 .3-56.1 .3 151.4 0-306.7 .3 197.5 .3-9.3 .3 17.8 .3-58.1 .3 11.8 .3 .6 .3 40.3 .3-26.9 .3 15.9 .3-77.1 .3 42.5 .3-19 .3 28.5 .3-32.1 .3 60.5 .3 113.8 0-306.7 .3 103.7 .3 91.2 .3-55 .3 28.1 .3-53.5 .3 18.8 .3-47.6 .3 57.7 .3-53.6 .3 59.4 .3 25.4 .3 40 .3-73.4 .3 39.9 .3-41.6 .3 167.2 0-306.7 .3 146.5 .3-64 .3 68.4 .3-40.5 .3 16.6 .3-41.1 .3 97.2 .3-51 .3 38.9 .3-54.6 .3 80.4 .3-62.7 .3-4.7 .3-24.6 .3-.5 .3-16.1 .3 44.4 .3-67.3 .3 49.1 .3-45.5 .3 86.1 .3-8.4 .3 4.3 .3-150.9 0 306.7 .3-191.8 .3 12.7 .3-1.5 .3 87.3 .3-76.1 .3-137.3 0 306.7 .3-48.7 .3-39.3 .3-20.3 .3-55.5 .3 19.7 .3-162.6 0 306.7 .3-137.3 .3 33.3 .3-50.4 .3 1.5 .3-3.6 .3 44.7 .3-9.4 .3 8.4 .3-47.1 .3 19.9 .3-6.1 .3 5.1 .3-73 .3 44.5 .3-67.7 .3-19.7 .3-49.8 0 306.7 .3-272.1 .3 72.2 .3 7.8 .3 42.4 .3-58 .3 24.2 .3-62 .3 34.3 .3-51.1 .3 74.8 .3-49.5 .3 61.8 .3 1.2 .3 36.5 .3 1 .3 136.5 0-306.7 .3 225.1 .3-43.3 .3 3.1 .3-20.9 .3 7.6 .3-30.8 .3 13.2 .3 152.7 0-306.7 .3 122.9 .3-2.6 .3 27.5 .3 25.1 .3 2 .3 63.5 .3-57.2 .3 64.1 .3-52.3 .3 25.7 .3-80.1 .3 20.6 .3-65.1 .3 46.9 .3-41.7 .3 21.4 .3 26.6 .3-.9 .3 160.3 0-306.7 .3 85.5 .3 56.2 .3-62 .3 44.1 .3-17.1 .3 37.6 .3-34.2 .3 24.9 .3-59.4 .3 18 .3 47.9 .3 27.5 .3-33.2 .3 74.9 .3-16.7 .3 8.2 .3-45.7 .3-9 .3-7.7 .3 51.7 .3 26.6 .3 88.6 0-306.7 .3 259 .3-77.1 .3 35.5 .3-3.9 .3 9.2 .3-62.7 .3 57.5 .3-23.5 .3-31 .3-34.3 .3 15.4 .3-41.4 .3 36.7 .3-15.2 .3 27.7 .3-33.7 .3-42 .3-9.4 .3 6.1 .3-10.3 .3 112.6 .3 29.8 .3 11.9 .3-65.7 .3 155.5 0-306.7 .3 141.5 .3 13 .3 45.6 .3-43.2 .3 5 .3-11 .3-10.1 .3-19.7 .3 54.7 .3-53.7 .3 40.8 .3-29 .3-1.3 .3-26.3 .3 45.6 .3-32.5 .3-1.3 .3-5.6 .3 49.9 .3-25.2 .3 52.8 .3 .9 .3 17.6 .3 98.2 0-306.7 .3 201.1 .3-32.6 .3-2.6 .3 42.1 .3-68.5 .3-17.8 .3-2.7 .3 45.2 .3-35.4 .3 64.4 .3-93.7 .3 44.1 .3-46.4 .3 30.9 .3 10.8 .3-138.9 0 306.7 .3-134 .3 17.8 .3-7.1 .3-39.7 .3 65.8 .3-75.3 .3 24.5 .3-40 .3 22.1 .3 18.1 .3-23.3 .3 2.7 .3-18.5 .3-54.7 .3 4.5 .3-65.6 .3 65.6 .3-16.2 .3 49.3 .3 51.4 .3 45.1 .3-42.9 .3-36.4 .3 5.5 .3 2.7 .3-58.6 .3 59.8 .3-129.3 0 306.7 .3-204 .3 34.1 .3 2.8 .3 40.4 .3-60.9 .3 37.9 .3 8.7 .3-16 .3-30.3 .3 15.9 .3-39.9 .3 43.9 .3-78.7 .3-.4 .3 15.8 .3-3.7 .3 21.8 .3-2.3 .3-60.6 .3 34.9 .3 13.4 .3 97.3 .3 129.9 0-306.7 .3 226.9 .3 31.5 .3-46.7 .3 40.7 .3-97.6 .3 91.8 .3-34.5 .3 55.9 .3-37.9 .3 11.6 .3-53.3 .3 1.4 .3-24.1 .3 38.3 .3-13.4 .3 97.2 .3-75 .3 13.1 .3-66.4 .3 10.1 .3 8.3 .3 128.8 0-306.7 .3 160.3 .3-13.3 .3 36.5 .3-31.2 .3-19.1 .3 2.4 .3 15.2 .3 155.9 0-306.7 .3 131.4 .3 1.3 .3-30.7 .3 23.2 .3-20.3 .3-35.8 .3-2.7 .3 65.1 .3-27.7 .3 16 .3-21.9 .3 43.4 .3-80.8 .3 49.9 .3-44.3 .3 49.8 .3 1.2 .3 75.5 .3-40.8 .3 46.3 .3-42.7 .3 54.4 .3-70.9 .3 54.8 .3 113 0-306.7 .3 200.6 .3 27.8 .3 49.8 .3 1.2 .3-111.8 .3 6.6 .3-2.9 .3 50.1 .3 14 .3 29 .3-85.1 .3-26.6 .3-21.6 .3 26.2 .3-13 .3 12.7 .3-4.4 .3 16.9 .3-18.2 .3 55.2 .3-.7 .3-49.5 .3-10.5 .3 160.9 0-306.7 .3 196.9 .3-69.1 .3 35.8 .3-6 .3 84.2 .3 43.5 .3-21.2 .3-12.5 .3-40.3 .3 .9 .3 32.4 .3-58.7 .3 56 .3-27.6 .3-2.8 .3 15 .3 51.5 .3-28.5 .3 23.5 .3-44.7 .3 12.8 .3-71.8 .3 35.6 .3-.7 .3 10 .3-66 .3 25.8 .3-46.9 .3 20.5 .3 2 .3 26.3 .3-56.9 .3 81.7 .3-7.8 .3 25.3 .3-21.1 .3-54.4 .3 26.6 .3 21.2 .3-34.5 .3 86.2 .3-28.6 .3 29.7 .3-36.7 .3-32.2 .3-27.3 .3 43.7 .3-31.1 .3 58.4 .3-55.4 .3-3.5 .3-30.1 .3 28.1 .3-.4 .3 31.8 .3-18.3 .3 61.7 .3-72.7 .3 55 .3-102 .3 26.7 .3-45.1 .3 45.7 .3 15.8 .3 41.1 .1-27.1 .3-2 .3 5.7 .3-3.2 .3 5.2 .3-1.6 .3 4.4 .3-1.7 .3 4.7 .3-1.7 .3 4.3 .3-2.6 .3 5.2 .3-1.6 .3 4.7 .3-1.7 .3 4.2 .3-1.7 .3 4.3 .3-2 .3 5.1 .3-3 .3 5.9 .3-2 .3 5.2 .3-2.7 .3 4 .3-1.9 .3 5.5 .3-3.1 .3 5.7 .3-2.1 .3 4.3 .3-2.4 .3 6.1 .3-2.4 .3 5 .3-1.9 .3 4.1 .3-2 .3 4.4 .3-1.7 .3 5.3 .3-1.6 .3 4 .3-1.8 .3 4.7 .3-1.7 .3 4.1 .3-1.3 .3 4.1 .3-1.8 .3 4.8 .3-2.7 .3 5.1 .3-1.5 .3 4.6 .3-1.8 .3 4.8 .3-2.4 .3 4.7 .3-2 .3 5.4 .3-3.5 .3 4.9 .3-1.8 .3 6 .3-1.9 .3 3.6 .3-1.5 .3 4.6 .3-2 .3 4.5 .3-1.8 .3 4.9 .3-1.9 .3 5 .3-1.9 .3 4.1 .3-2.3 .3 5 .3-1.9 .3 5.3 .3-2.5 .3 5.6 .3-1.8 .3 3.9 .3-2.6 .3 4.4 .3-.3 .3 4.5 .3-2.8 .3 4.3 .3-1.4 .3 4.5 .3-1.5 .3 4.6 .3-1.9 .3 4.1 .3-1.7 .3 4.5 0-306.7 0 .1 0-.1 0 306.7 .3-2.4 .1 2.4 0-306.7 .2 3.3 .3-2.8 .3 4.1 .3-2.4 .3 4.8 .3-2.1 .3 3.5 .3-1.6 .3 3.9 .3-1.5 .3 4.3 .3-2.3 .3 4.4 .3-2.7 .3 5 .3-3.2 .3 5 .3-3.1 .3 5.6 .3-2.3 .3 3.1 .3-1.2 .3 4.1 .3-2.6 .3 4.9 .3-2.7 .3 4.7 .3-2.5 .3 4.9 .3-2.9 .3 5.2 .3-2.4 .3 4 .3-2.1 .3 4.4 .3-2.8 .3 5.1 .3-2.8 .3 5 .3-2.3 .3 4.3 .3-2.7 .3 4.6 .3-3.5 .3 4.6 .3-1 .3 4.1 .3-2.8 .3 4.8 .3-1.6 .3 3.4 .3-1.4 .3 3.1 .3-.9 .3 3.3 .3-2 .3 4.6 .3-2.9 .3 5.2 .3-2.3 .3 3.3 .3-1.1 .3 3.9 .3-2.4 .3 4.4 .3-2.2 .3 5.2 .3-2.5 .3 3.6 .3-1.4 .3 4.5 .3-2.4 .3 3.9 .3-2.3 .3 4.6 .3-1.9 .3 5.3 .3-2 .3 4.4 .3-1.9 .3 4.6 .3-2.2 .3 5.4 .3-2.1 .3 4.2 .3-1.9 .3 4.7 .3-1.1 .3 4.4 .3-2.4 .3 4.8 .3-1.7 .3 4.9 .3-2.4 .3 6 .3-2.4 .3 4.6 .3-2.1 .3 4.6 .3-1 .3 4.7 .3-3 .3 5.1 .3-2.5 .3 5.1 .3-1.6 .3 4.4 .3-1.7 .3 5.4 .3-2.2 .3 4.4 .3-1.7 .3 4.5 .3-2.4 .3 5 .3-2 .3 5.4 .3-2.8 .3 5 .3-1.1 .3 3.8 .3-1.8 .3 4.4 .3-1.9 .3 6 .3-3.1 .3 5.8 .3-2.4 .3 4.5 .3-2.3 .3 4.7 .3-2.1 .3 5.6 .3-2.2 .3 4.8 .3-1.6 .3 4.7 .3-2.1 .3 4.2 .3-1.3 .3 4 .3-2 .3 4.9 .3-2.1 .3 4.2 .3-1.7 .3 4.6 .3-3.2 .3 5.4 .3-2.7 .3 5.1 .3-2.7 .3 4.9 .3-2.1 .3 5 .3-2.7 .3 5.1 .3-2.4 .3 4.6 .3-1.8 .3 4.1 .3-1.5 .3 4 .3-2.2 .3 5 .3-2.7 .3 5.5 .3-2.4 .3 4.9 .3-2.8 .3 4.9 .3-1.6 .3 3.4 .3-2.3 .3 5.4 .3-2.1 .3 4.6 .3-2.1 .3 4.3 .3-1.7 .3 4.4 .3-1.9 .3 4.2 .3-2.4 .3 4.5 .3-1.3 .3 4 .3-1.9 .3 4.4 .3-2.3 .3 4.5 .3-1.8 .3 5.6 .3-2.9 .3 4.3 .3-1.5 .3 4.2 .3-2.3 .3 4.7 .3-2.1 .3 4.5 .3-1.6 .3 5.1 .3-3.2 .3 5.1 .3-3.1 .3 4.5 .3-2.1 .3 3.9 .3-2.6 .3 4 .3-1.6 .3 4.3 .3-3.2 .3 5.3 .3-3.3 .3 5.3 .3-3.1 .3 4.1 .3-2 .3 4.5 .3-2.6 .3 5.5 .3-3.4 .3 3.6 .3-1.5 .3 4 .3-2.2 .3 4.5 .3-3.1 .3 5.5 .3-2.6 .3 4.3 .3-2.8 .3 4.6 .3-2.2 .3 3.6 .3-1.4 .3 3.7 .3-1.7 .3 4.4 .3-2.5 .3 3.7 .3-2.3 .3 4.2 .3-2.2 .3 4.9 .3-3.6 .3 5.4 .3-2.2 .3 3.4 .3-3.2 .3 4.6 .3-1.3 .3 4.4 .3-3.3 .3 4.5 1.9-302.5 .8 306.7 .8-306.7 .8 306.7 .8-306.7 .8 306.7 .8-306.7 .8 306.7 .8-306.7 .8 306.7 .8-306.7 1.7 305 .3-1.7 .3 2.4 .3-1.4 .3 1.5 .3-2 .3 2.7 .3-2.1 .3 2 .3-1.1 .2 1.4 0-306.7 .1 .5 .1-.5 0 306.7 .2-1.4 .3 1.4 0-306.7 0 .2 .1-.2 0 306.7 .2-.8 .2 .8 0-306.7 .1 .5 .3-.3 .3 1.7 .3-.7 .3 2.4 .3-.7 .3 2.1 .3-.7 .3 2.4 .3-1.1 .3 2.3 .3-.6 .3 2.4 .3-.8 .3 2.5 .3-1.2 .3 2.4 .3-1 .3 2.9 .3-1 .3 2 .3-1.1 .3 2.9 .3-.9 .3 2.1 .3-.9 .3 2.6 .3-1.4 .3 3.1 .3-1.6 .3 2.9 .3-1.5 .3 3.1 .3-1.9 .3 3.2 .3-1.1 .3 2.8 .3-1.9 .3 2.6 .3-.7 .3 2.4 .3-1.1 .3 3.4 .3-1.8 .3 2.6 .3-1.4 .3 3.4 .3-1.9 .3 3 .3-1.7 .3 3.8 .3-2.2 .3 3 .3-1.9 .3 3.6 .3-2.3 .3 4.1 .3-2.9 .3 3.9 .3-1.2 .3 3.8 .3-3.1 .3 3.4 .3-1.4 .3 3.2 .3-2.6 .3 4.2 .3-2.3 .3 3.5 .3-1.3 .3 3.1 .3-2.4 .3 3.5 .3-3 .3 4.9 .3-3.1 .3 4.2 .3-2.3 .3 4.6 .3-3 .3 3.4 .3-2 .3 4.3 .3-3 .3 4.1 .3-2.8 .3 5.6 .3-3.7 .3 5.2 .3-2.9 .3 3.8 .3-1.9 .3 4.3 .3-2.4 .3 4.6 .3-3.5 .3 4.7 .3-2.9 .3 4.9 .3-2.8 .3 5.1 .3-3.7 .3 4.7 .3-2.2 .3 3.7 .3-2.5 .3 4.9 .3-3.4 .3 4.6 .3-2.3 .3 4 .3-1.8 .3 3.5 .3-2.4 .3 4.1 .3-2.5 .3 4.5 .3-2.6 .3 4.6 .3-2.6 .3 3.7 .3-2.5 .3 4.6 .3-1.9 .3 4 .3-2.2 .3 3.8 .3-2.9 .3 3.5 .3-1.5 .3 4 .3-1.7 .3 3.8 .3-2.6 .3 4 .3-2.1 .3 3.6 .3-1.7 .3 3 .3-1.8 .3 3.8 .3-2.3 .3 5.4 .3-3.3 .3 4.6 .3-2.4 .3 4.1 .3-2.6 .3 4.2 .3-2.9 .3 4.9 .3-2.6 .3 4 .3-2.8 .3 3.8 .3-1.4 .3 4.2 .3-2.2 .3 3.7 .3-3.2 .3 4.3 .3-1.5 .3 4.9 .3-3.2 .3 3.7 .3-2.3 .3 5.1 .3-2.8 .3 4.1 .3-2.7 .3 4.8 .3-2.6 .3 2.8 .3-1 .3 4.1 .3-2.9 .3 4.1 .3-2.3 .3 4.4 .3-2.6 .3 3.2 .3-2 .3 3.8 .3-2.3 .3 4 .3-2.6 .3 4.6 .3-2.7 .3 4 .3-2.4 .3 4.1 .3-2 .3 4.4 .3-3 .3 4 .3-1.9 .3 4 .3-3.5 .3 4.8 .3-2.4 .3 4.1 .3-3.4 .3 4.4 .3-2.2 .3 3.7 .3-2.9 .3 5.7 .3-3.5 .3 4.4 .3-3.3 .3 4.2 .3-2.6 .3 4.3 .3-2.1 .3 3.3 .3-.9 .3 3.8 .3-3.3 .3 4.7 .3-3.3 .3 4.2 .3-2.7 .3 5.3 .3-3.3 .3 4.3 .3-2.5 .3 3.7 .3-1.9 .3 3.4 .3-2.7 .3 4.9 .3-3 .3 4.7 .3-2.6 .3 4.3 .3-2.6 .3 3.7 .3-2.1 .3 3.7 .3-1.6 .3 3.3 .3-2.7 .3 3.7 .3-1.9 .3 4.2 .3-2.1 .3 3.9 .3-2.7 .3 4.1 .3-2.5 .3 3.8 .3-2.5 .3 4.4 .3-2.4 .3 3.9 .3-2.3 .3 3.7 .3-2.4 .3 4.1 .3-2.1 .3 4.7 .3-2.8 .3 3.6 .3-2.7 .3 4.8 .3-2.2 .3 3.4 .3-2.5 .3 4.9 .3-2.4 .3 4.5 .3-4 .3 4.7 .3-3 .3 4.6 .3-1.9 .3 2.9 .3-1.7 .3 3.9 .3-2.9 .3 4.6 .3-2.3 .3 3.6 .3-1.5 .3 4.6 .3-3.2 .3 4 .3-3.3 .3 4.1 .3-1.4 .3 4.2 .3-2.4 .3 3.4 .3-2.5 .3 4.6 .3-2.7 .3 4 .3-2.3 .3 5.2 .3-2.4 .3 2.7 .3-2.5 .3 4.9 .3-2.6 .3 4.4 .3-3.4 .3 5 .3-2.2 .3 3.6 .3-1.9 .3 2.9 .3-2.2 .3 5.2 .3-3.5 .3 4.6 .3-1.9 .3 3.3 .3-1.8 .3 3.6 .3-1.7 .3 3.7 .3-3.2 .3 4.3 .3-2.4 .3 4.6 .3-2.5 .3 3.8 .3-1.6 .3 3.6 .3-3.1 .3 4.7 .3-2.2 .3 4.2 .3-3.5 .3 4.2 .3-1.9 .3 4.3 .3-2.9 .3 3.6 .3-2.3 .3 4.6 .3-2.4 .3 4.2 .3-2.3 .3 3.9 .3-2.5 .3 4 .3-2.4 .3 3.8 .3-3.2 .3 5.5 .3-3.2 .3 4.3 .3-3.1 .3 4.5 .3-3.5 .3 5.1 .3-3.1 .3 5 .3-4.5 .3 5.2 .3-2.5 .3 5.3 .3-3.5 .3 4.6 .3-2.9 .3 3.6 .3-2.5 .3 4.3 .3-2.4 .3 3 .3-1.3 .3 4.2 .3-3.3 .3 5.2 .3-2.7 .3 4 0-306.7 0 .2 0-.2 0 306.7 .3-3.7 .3 3.7 0-306.7 0 .7 .1-.7 0 306.7 .2-3.1 .1 3.1 0-306.7 .2 3.4 .3-3.4 0 306.7 0-.7 0 .7 0-306.7 .3 4 .3-3.2 .3 5.5 .3-3.5 .3 4.1 .3-1.7 .3 3.5 .3-2.8 .3 5.5 .3-4.9 .3 5.9 .3-2.6 .3 2.7 .3-1.7 .3 4.3 .3-3.9 .3 5.7 .3-3.4 .3 4.5 .3-2.1 .3 3.8 .3-2.6 .3 3.9 .3-2.8 .3 5 .3-3.2 .3 4.8 .3-4.1 .3 5.3 .3-3.3 .3 4.3 .3-2.9 .3 4.1 .3-2.3 .3 3.3 .3-2.2 .3 4.9 .3-2.2 .3 2.7 .3-1.1 .3 3.9 .3-3.1 .3 4.1 .3-2.2 .3 4.3 .3-3.5 .3 4.6 .3-2.4 .3 5.3 .3-2.9 .3 3.1 .3-1.6 .3 4.3 .3-1.6 .3 4.5 .3-3.1 .3 4.1 .3-1.9 .3 5.3 .3-2.6 .3 3.8 .3-.7 .3 3.9 .3-2.4 .3 5 .3-3.4 .3 5.6 .3-2.7 .3 4.7 .3-2.6 .3 3.8 .3-2.3 .3 5.8 .3-2.3 .3 4.4 .3-2.8 .3 4.1 .3-1.5 .3 4.8 .3-2.5 .3 4.3 .3-2.1 .3 4.4 .3-3.1 .3 5.3 .3-2.1 .3 3.8 .3-2.4 .3 4.4 .3-1.4 .3 3.9 .3-2.2 .3 4.7 .3-2.5 .3 5 .3-2.8 .3 4.9 .3-3.1 .3 4.9 .3-2.2 .3 4.4 .3-1.5 .3 4.5 .3-2.7 .3 5 .3-1.9 .3 4.1 .3-3.4 .3 4.7 .3-1.7 .3 4.1 .3-2 .3 4.3 .3-2.3 .3 5 .3-2.5 .3 5.1 .3-3.1 .3 5.3 .3-2.7 .3 4.7 .3-2.4 .3 4.9 .3-2.2 .3 3.9 .3-1.6 .3 3.5 .3-2.4 .3 4.9 .3-1.7 .3 3.6 .3-1.9 .3 3.9 .3-1.4 .3 4.4 .3-2.4 .3 4.4 .3-2.1 .3 4.5 .3-2.7 .3 5.1 .3-1.7 .3 4.2 .3-3.1 .3 4.8 .3-2.3 .3 4.4 .3-2.2 .3 4.2 .3-2 .3 4 .3-2.7 .3 3.3 .3-2.9 .3 4.3 .3-3.1 .3 4.6 .3-3.2 .3 4.8 .3-3.5 .3 4.5 .3-3.2 .3 3.4 .3-1.7 .3 2.8 .3-2.6 .3 3.9 .3-3.3 .3 5.7 .3-3.5 .3 4 .3-1.9 .3 3 .3-2.5 .3 3.4 .3-2.4 .3 4.3 .3-2.5 .3 4 .3-3.7 .3 4.2 .3-2.4 .3 4 .3-2.7 .3 3.9 .3-3.4 .3 3.6 .3-2.9 .3 5.1 .3-3.4 .3 3.5 .3-2.6 .3 4.4 .3-1.6 .3 2.8 .3-2.7 .3 3.9 .3-3.4 .3 4.6 .3-3.3 .3 4.7 .3-3.2 .3 3.7 .3-2.6 .3 4 .3-2.6 .3 4 .3-2.6 .3 4.7 .3-3.7 .3 4.5 .3-2.2 .3 4 .3-2.3 .3 4.3 .3-3.3 .3 4.7 .3-2 .3 3.1 .3-3.1 .3 4 .3-2.5 .3 4.4 .3-1.6 .3 2.7 .3-2.1 .3 3.7 .3-1.5 .3 3.4 .3-2.8 .3 4.5 .3-1.6 .3 3.3 .3-3.1 .3 5.3 .3-3.6 .3 4.5 .3-3.3 .3 4.5 .3-2.2 .3 3.4 .3-2.5 .3 4.1 .3-2.7 .3 4.6 .3-2.2 .3 4 .3-2.5 .3 3.5 .3-2.6 .3 4.4 .3-2.6 .3 3.3 .3-2.2 .3 4.8 .3-3.6 .3 3.9 .3-1.7 .3 3.2 .3-1.1 .3 3.4 .3-2.9 .3 4 .3-2.8 .3 5.3 .3-3.6 .3 4.2 .3-2.2 .3 3.7 .3-2.9 .3 4.1 .3-1.4 .3 3.5 .3-2.6 .3 3.7 .3-3 .3 4.2 .3-2.3 .3 4.7 .3-3.6 .3 5 .3-2.6 .3 3.6 .3-2.9 .3 4 .3-1.6 .3 3 .3-2.2 .3 3.7 .3-2.4 .3 3.7 .3-2.1 .3 4.7 .3-3.7 .3 4.2 .3-3.1 .3 4.9 .3-2.4 .3 4.3 .3-3.6 .3 5.1 .3-2.2 .3 3.3 .3-2.9 .3 5 .3-4 .3 5.1 .3-3 .3 3.7 .3-2.3 .3 3.6 .3-1.8 .3 3.1 .3-2.3 .3 4.1 .3-2.7 .3 4 .3-2.4 .3 4.1 .3-2.7 .3 4.7 .3-3.1 .3 3.7 .3-2.5 .3 4.1 .3-1.7 .3 3.5 .3-2.8 .3 3.7 .3-1.6 .3 4.1 .3-3.6 .3 4.3 .3-3 .3 2.6 .3-1.5 .3 2.6 .3-2.1 .3 4.1 .3-3.2 .3 2.4 .3-2.5 .3 3.5 .3-3.6 .3 4.5 .3-2.8 .3 3.1 .3-1.8 .3 3.5 .3-2.4 .3 4 .3-2.9 .3 2.7 .3-2.9 .3 3.9 .3-2.9 .3 3.3 .3-3.2 .3 4.8 .3-3.7 .3 3.2 .3-3.1 .3 3.7 .3-1.5 .3 3.2 .3-2.7 .3 3.6 .3-3.1 .3 3.3 .3-2.9 .3 4.4 .3-3.3 .3 3.3 .3-2.7 .3 3.1 .3-2.2 .3 3.6 .3-2.9 .3 4 .3-3.5 .3 4.6 .3-3.4 .3 3.8 .3-3.9 .3 3.4 .3-2.3 .3 3.3 .3-3.3 .3 2.8 .3-2.7 .3 4.2 .3-3.5 .3 2.7 .3-2.9 .3 3.2 .3-3.3 .3 4.2 .3-3.2 .3 4 .3-4.3 .3 4.6 .3-3.8 .3 3.1 .3-2.6 .3 3.6 .3-2.9 .3 2.6 .3-4.1 .3 4.6 .3-3.7 .3 4.4 .3-3.2 .3 3.5 .3-3 .3 3.5 .3-2.6 .3 3.7 .3-3.5 .3 3.5 .3-4.4 .3 4.2 .3-2.8 .3 3.6 .3-3.2 .3 2.5 .3-3.9 .3 4.9 .3-3.5 .3 3.6 .3-2.9 .3 2.3 .3-2.4 .3 3 .3-2.5 .3 2.1 .3-1.5 .3 2.1 0-306.7 0 .1 1-.1 .9 306.7 .9-306.7 1.5 2.4 .3-2.3 .3 4 .2-4.1 0 306.7 .1-1 .1 1 0-306.7 .2 4.6 .3-3.5 .3 5.3 .3-3.8 .3 3.4 .3-4.2 .3 3.6 .3-3.4 .3 5.4 .3-4.2 .3 4.7 .3-3.8 .3 3.8 .3-3.2 .3 4.1 .3-3.9 .3 4.9 .3-4.7 .3 4.4 .3-2.8 .3 5 .3-4.2 .3 4.6 .3-2.4 .3 4.5 .3-3.5 .3 4.4 .3-3.3 .3 5 .3-3.5 .3 5.1 .3-4.4 .3 5.2 .3-3.5 .3 4.6 .3-3.6 .3 4 .3-2.2 .3 4.8 .3-3.4 .3 4.2 .3-4.1 .3 5.3 .3-4.3 .3 6 .3-3.8 .3 3.9 .3-3.9 .3 5.1 .3-3.5 .3 5.4 .3-3.6 .3 4.1 .3-3.4 .3 4.8 .3-2.9 .3 4.8 .3-3.5 .3 3.9 .3-2.3 .3 4.8 .3-5.1 .3 5.4 .3-3.6 .3 5.1 .3-3.2 .3 5.1 .3-3.4 .3 4.9 .3-2.6 .3 4.5 .3-2.9 .3 4 .3-3.7 .3 5 .3-4.5 .3 6.8 .3-3.4 .3 4 .3-3.8 .3 5.5 .3-4.5 .3 4.9 .3-2.7 .3 4.7 .3-3.7 .3 4.4 .3-2.8 .3 5.3 .3-4.2 .3 5.2 .3-3.3 .3 4.7 .3-3.3 .3 3.6 .3-1.9 .3 3.6 .3-1.9 .3 4.2 .3-3.6 .3 5.5 .3-3.3 .3 3.6 .3-2.2 .3 5 .3-3.9 .3 5.6 .3-3.9 .3 4.8 .3-2.8 .3 4.1 .3-2.1 .3 4.8 .3-3.9 .3 5.2 .3-3.2 .3 4.9 .3-4.8 .3 5.5 .3-2.8 .3 4.7 .3-3.3 .3 5.5 .3-3.4 .3 4.7 .3-4.1 .3 5.1 .3-2.5 .3 4.3 .3-2.6 .3 4.5 .3-3.5 .3 4.9 .3-3.1 .3 5.4 .3-4.7 .3 6.1 .3-4.8 .3 4.2 .3-5.1 .3 3.3 .3-4.5 .3 4.8 .3-4.7 .3 3.7 .3-4.9 .3 3 .3-4.2 .3 3.3 .3-5.1 .3 3.9 .3-3.6 .3 3.2 .3-4.6 .3 4.3 .3-4.6 .3 3.9 .3-5.3 .3 3.7 .3-3.9 .3 2.5 .3-3.6 .3 3.2 .3-5.3 .3 4 .3-4.7 .3 3.2 .3-3.8 .3 3.3 .3-5.2 .3 4.3 .3-4.8 .3 2.6 .3-3.3 .3 3.7 .3-4 .3 2.7 .3-4.7 .3 4.6 .3-5.7 .3 3 .3-2.9 .3 3.6 .3-4.5 .3 5.3 .3-2.9 .3 3.7 .3-4.2 .3 5.9 .3-4.3 .3 6 .3-3.6 .3 4.9 .3-4.1 .3 5.1 .3-2.8 .3 3.8 .3-3.1 .3 4.3 .3-3.7 .3 5.5 .3-3.8 .3 4 .3-4.2 .3 6.3 .3-3.7 .3 4.4 .3-3.1 .3 4.4 .3-3.6 .3 4.9 .3-4.1 .3 4.7 .3-2.4 .3 3.4 .3-1.8 .3 3.4 .3-3.4 .3 5 .3-2.9 .3 4.4 .3-3.4 .3 5 .3-3.7 .3 3.6 .3-3.1 .3 4.7 .3-2.2 .3 3.9 .3-2.9 .3 3.7 .3-3.1 .3 4.4 .3-3.5 .3 4.7 .3-3 .3 4.5 .3-3.2 .3 4.6 .3-2.8 .3 4.3 .3-3.1 .3 3.1 .3-2.5 .3 4.7 .3-3.4 .3 2.3 .3-4.4 .3 1.8 .3-4.6 .3 1.5 .3-4.8 .3 2.4 .3-5.2 .3 2.3 .3-3.2 .3 4 .3-2.2 .3 3.9 .3-1.4 .3 3.8 .3-2.1 .3 3.8 .3-2.1 .3 4.4 .3-1.6 .3 4.3 .3-3 .3 4.5 .3-1.8 .3 3.8 .3-1.4 .3 4 .3-2.3 .3 3.5 .3-1.8 .3 3.9 .3-2.3 .3 4.7 .3-1.4 .3 4.4 .3-2.9 .3 4.6 .3-2.4 .3 5.1 .3-2.8 .3 3.9 .3-2.1 .3 3.9 .3-1.3 .3 3.6 .3-2.3 .3 4.6 .3-1.7 .3 3.8 .3-2 .3 4.4 .3-2.7 .3 4.8 .3-2.9 .3 4.5 .3-2.6 .3 4.3 .3-1.8 .3 4.4 .3-3.3 .3 5.4 .3-2.1 .3 4.1 .3-2.9 .3 4.8 .3-2.5 .3 3.7 .3-1.4 .3 4 .3-3.2 .3 5.2 .3-2.9 .3 4.9 .3-3.1 .3 5.4 .3-4.2 .3 5.4 .3-2.4 .3 4.6 .3-2.3 .3 4.6 .3-2.7 .3 4.7 .3-2.5 .3 4 .3-2.9 .3 5.2 .3-2.8 .3 4.8 .3-3 .3 5 .3-3.3 .3 4.8 .3-2.4 .3 4 .3-2.7 .3 5.9 .3-3.4 .3 4.9 .3-2.3 .3 4.5 .3-2.5 .3 3.4 .3-2.1 .3 4.9 .3-3.1 .3 4.3 .3-1.9 .3 3.6 .3-2.3 .3 4.9 .3-2.5 .3 4.5 .3-2.6 .3 3.8 .3-2.9 .3 4.6 .3-1.9 .3 3.7 .3-3 .3 4.5 .3-2.6 .3 4.3 .3-1.8 .3 3.7 .3-2.4 .3 3.8 .3-3 .3 4.9 .3-2.4 .3 3.7 .3-2 .3 2.9 .3-1.8 .3 3.8 .3-2.4 .3 4.1 .3-2.6 .3 4.4 .3-2.5 .3 4.2 .3-2.5 .3 3.8 .3-2.2 .3 4.7 .3-3.4 .3 3.6 .3-1.3 .3 4.2 .3-2.6 .3 3.6 .3-2.2 .3 4 .3-1.6 .3 3.5 .3-1.6 .3 2.6 .3-1.8 .3 4.1 .3-1.9 .3 3.8 .3-3.1 .3 4.7 .3-2.9 .3 4.7 .3-2.2 .3 3.3 .3-1.2 .3 3.1 .3-2.7 .3 4.6 .3-2.6 .3 2.9 .3-2 .3 4.6 .3-2.4 .3 3.3 .3-1.3 .3 3.3 .3-1.6 .3 3.6 .3-2.8 .3 3.9 .3-2.6 .3 5.2 .3-2.5 .3 4 .3-2.4 .3 3.5 .3-2.9 .3 4.5 .3-2.5 .3 5 .3-3.2 .3 4.3 .3-2.9 .3 3.4 .3-2 .3 4.3 .3-1.9 .3 3.9 .3-3.7 .3 4.8 .3-1.6 .3 3.2 .3-2.1 .3 4.2 .3-2.9 .3 4.3 .3-2.7 .3 4 .3-1.8 .3 3 .3-1.7 .3 4.3 .3-3.4 .3 5.1 .3-2.4 .3 4.3 .3-2.8 .3 4.6 .3-3.2 .3 4.3 .3-1.7 .3 4.3 .3-2.1 .3 4 .3-2.9 .3 5.1 .3-3.6 .3 5.4 .3-3.3 .3 4.8 .3-2.7 .3 4.3 .3-2.8 .3 4.7 .3-2.5 .3 4.3 0-306.7 0 .4 0-.4 0 306.7 .3-3.3 .2 3.3 0-306.7 .1 2.1 .2-2.1 0 306.7 .1-1.5 .1 1.5 0-306.7 .2 3.6 .3-3.2 .3 5.1 .3-3 .3 4.1 .3-2.5 .3 4.3 .3-3 .3 4 .3-2.3 .3 4.3 .3-2.1 .3 4 .3-3 .3 5.9 .3-3 .3 4.4 .3-3.3 .3 4.7 .3-3.6 .3 5 .3-3 .3 5 .3-3.2 .3 4.9 .3-2.4 .3 3.8 .3-3.4 .3 4.7 .3-3.4 .3 5.2 .3-2.1 .3 5.2 .3-4.2 .3 4.3 .3-3.2 .3 5.7 .3-3.5 .3 4.5 .3-2.6 .3 4.9 .3-3.4 .3 4.8 .3-3 .3 4.3 .3-2.6 .3 4.1 .3-2.4 .3 4.1 .3-2.3 .3 4.6 .3-2.7 .3 4.1 .3-3.4 .3 5.7 .3-3.8 .3 5.1 .3-3.4 .3 4.9 .3-2.3 .4-45.2 .3 49.9 .3 30.2 .3 54.8 .3-130.7 .3 65.4 .3-66.1 .3 31.8 .3 75.6 .3 39.2 .3 4.1 .3-83.4 .3-4.9 .3 25.6 .3-90.4 .3 57.2 .3 .3 .3 63.6 .3-.1 .3 36.3 .3 4 .3 92.1 .3 47.4 0-306.7 .3 134.3 .3-22.3 .3-22.3 .3 98.7 .3-1.1 .3 87.7 .3-44.2 .3 35.6 .3-88.3 .3 24.3 .3 73.7 .3-151.7 .3-28.7 .3 77.6 .3-68 .3-10.8 .3-69.1 .3 63.8 .3 20.6 .3 91 .3-99.7 .3 5.4 .3 102.9 .3-68.3 .3 165.6 0-306.7 .3 242 .3-64.8 .3 129.5 .3 0 .3 0 .3 0 .3 0 0-306.7 .3 188 .3-29.7 .3 33.6 .3-11.4 .3-28.2 .3-13.3 .3 30.8 .3 49.9 .3 87 .3 0 .3 0 .3-306.7 0 306.7 .3 0 .3-7.1 .3-.3 .3 7.4 .3-20.8 .3-161.7 .3 96.3 .3-192.8 .3 164.1 .3-117.7 .3 58.6 .3-1.6 .3 117.2 .3 22 .3-100.6 .3-53.9 .3 106.8 .3 18.9 .3-123.5 .3-22.1 .3-31.1 .3-64.8 0 306.7 .3-194.2 .3 60.8 .3-53.4 .3-13.9 .3 167 .3 33.7 .3-54.8 .3-59.8"/>
<rect class="ax" x="70.5" y="454.7" width="1050.3" height="340.7"/>
<path class="tk" d="M333.1 795.4v-10.5M333.1 454.7v10.5M595.6 795.4v-10.5M595.6 454.7v10.5M858.2 795.4v-10.5M858.2 454.7v10.5M70.5 625h10.5M1120.8 625h-10.5M70.5 454.7h10.5M70.5 795.4h10.5M1120.8 454.7h-10.5M1120.8 795.4h-10.5M70.5 454.7v10.5M70.5 795.4v-10.5M1120.8 454.7v10.5M1120.8 795.4v-10.5"/>
</g>
<g id="ax-NDK">
<path class="d" clip-path="url(#c3)" d="M1237.6 670.6l.3-5.2 .3 1.6 .3-5.1 .3 .9 .3-4.9 .3 1.4 .3-3.5 .3 .3 .3-5.7 .3 2.1 .3-3 .3 1.5 .3-3.9 .3 2.3 .3-5.1 .3 2.5 .3-3.7 .3 2.1 .3-3.5 .3 1.4 .3-3.6 .3 2 .3-4.1 .3 1.9 .3-1.6 .3 4.3 .3-2.8 .3 4.8 .3-2.3 .3 5.2 .3-1.4 .3 4.1 .3-2.1 .3 4.7 .3-2.4 .3 4.5 .3-2.1 .3 4.2 .3-.9 .3 6 .3-.6 .3 5.6 .3-.9 .3 7.2 .3-1.6 .3 6.7 .3-.9 .3 4.9 .3-.4 .3 5.6 .3 0 .3 6.1 .3-1.2 .3 5.8 .3-.5 .3 5.4 .3-.8 .3 6.6 .3-1.1 .3 6.1 .3-.6 .3 5 .3-.9 .3 5.2 .3-1.1 .3 5.5 .3-1.1 .3 5.7 .3-1.6 .3 5.4 .3-.9 .3 5.3 .3-1.6 .3 6.1 .3-1.8 .3 6.7 .3-2.5 .3 6 .3-1.3 .3 5.5 .3-.9 .3 5.7 .3-2.8 .3 5.8 .3-.9 .3 4.9 .3-1 .3 5.3 .3-.8 .3 6.2 .3-2.6 .1 3 0-306.7 .2 4.5 .3-1.2 .3 7.2 .3-1.4 .3 7.6 .3-1.6 .3 6.4 .3-1 .3 6.6 .3 0 .3 5.7 .3-.9 .3 7.9 .3-2.4 .3 8.5 .3-1.1 .3 6.7 .3-2.5 .3 7.4 .3-1.1 .3 7.5 .3-1 .3 8 .3-1.7 .3 7 .3-1.5 .3 7.5 .3-1.4 .3 6.7 .3-1.6 .3 7.5 .3-.5 .3 6.3 .3-.7 .3 7.3 .3-2.2 .3 7.6 .3-1.5 .3 7.3 .3-1.6 .3 6.6 .3-1.3 .3 8.3 .3-1.3 .3 7.1 .3-1.7 .3 7.7 .3-.7 .3 7.1 .3-2.3 .3 8.2 .3-1.1 .3 6 .3-.5 .3 5.8 .3-.9 .3 7.8 .3-1.9 .3 8.2 .3-1.9 .3 7.8 .3-1.8 .3 7.2 .3-1 .3 6.4 .3-.9 .3 7.6 .3-.1 .3 7 .3-2 .3 7.5 .3-1.7 .3 8.5 .3-1.2 .3 6.8 .3-2.1 .3 6 .3-.8 .3 7.8 .3-2 .3 8.4 .3-2 .3 7 .3-1.4 .3 7.2 .3-1.6 .3 8 .3-1.6 .3 6 .3-.6 .3 6 .3-.7 .3 6.5 .3 0 .3 6.6 .3-.3 .3 6.5 .3-1 .3 8.5 .3-.6 .3 7.4 .3-.3 .3 5 .3-1 .1 2.2 0-306.7 .2 5.8 .3-2.3 .3 7.6 .3-1.7 .3 5.7 .3-1.7 .3 6.5 .3-1 .3 8.5 .3-.9 .3 5.1 .3-.3 .3 6.6 .3-1.5 .3 5.8 .3-1.4 .3 8.2 .3-1.7 .3 6.5 .3-1.1 .3 6.8 .3 .8 .3 5.2 .3-1.9 .3 6.5 .3-.4 .3 8 .3-2.2 .3 7.5 .3-1.7 .3 6.9 .3-.6 .3 5.5 .3-.8 .3 8.3 .3-2.1 .3 7.4 .3-1.2 .3 7.4 .3-1.9 .3 6.4 .3-1.2 .3 7.2 .3-1.1 .3 5.8 .3-1.6 .3 9.7 .3-1 .3 6.2 .3-2.4 .3 7.6 .3-.9 .3 6.8 .3-1.7 .3 6.5 .3-.2 .3 6.6 .3-1.7 .3 6.9 .3-1.4 .3 7 .3-3.1 .3 9 .3-1 .3 7.4 .3-1.1 .3 6 .3-1.3 .3 6.2 .3-.6 .3 6.7 .3-.2 .3 5.6 .3-1.5 .3 6.8 .3-.9 .3 8.4 .3-1.2 .3 7.3 .3-2.7 .3 7.6 .3-2.2 .3 6.1 .3 .2 .3 6.4 .3-2.3 .3 7 .3-2 .3 7.7 .3-2.3 .3 8.4 .3-.2 .3 7.2 .3-1.8 .3 7.2 .3-1.5 .3 7.5 .3-1.6 .3 7.4 .3-3.9 .3 8.2 .3-1.9 .3 7.8 .3-.3 .3 6.5 .3-.6 .3 5.5 .3-.9 .2 4 0-306.7 .1 2.5 .3-1.5 .3 8.6 .3-1.5 .3 5.6 .3-2.9 .3 7 .3-1.2 .3 9.3 .3-4.7 .3 8.9 .3-2.1 .3 7.4 .3-.8 .3 7.9 .3-1.8 .3 7.2 .3-4.1 .3 8.9 .3-3.2 .3 9.2 .3-4.4 .3 9.5 .3-2.7 .3 10.5 .3-4.5 .3 9.3 .3-3 .3 9.2 .3-4.8 .3 9.7 .3-4.3 .3 8.5 .3-3.5 .3 9.9 .3-2.8 .3 8.3 .3-3.7 .3 10.2 .3-7.3 .3 13.7 .3-8.2 .3 10.9 .3-4.3 .3 9.2 .3-7.1 .3 14.3 .3-4.8 .3 12.1 .3-8.2 .3 12.1 .3-6.1 .3 15.2 .3-11 .3 16 .3-8.7 .3 12.2 .3-7.7 .3 11.2 .3-4.6 .3 11.5 .3-9.8 .3 15.3 .3-10.1 .3 13.2 .3-9.1 .3 13.8 .3-6.7 .3 11.9 .3-9.4 .3 14.9 .3-10.2 .3 15.4 .3-9 .3 12.5 .3-6.8 .3 13 .3-9.2 .3 13.2 .3-6.8 .3 11.9 .3-7.1 .3 11.9 .3-4.7 .3 11.1 .3-7.3 .3 11.8 .3-9.5 .3 11.8 .3-6.6 .3 10.2 .3-5.8 .3 12.7 .3-5.7 .3 9.5 .3-5.6 .3 9.8 .3-5.8 .3 10.6 .3-6.4 .3 9.8 .3-4.6 .3 10.6 .3-5.2 .3 8.8 .3-3.8 .3 9.7 .3-3.1 .3 6.1 .3-6.7 .3 11.5 .3-3.9 .3 7.6 .3-3.3 .3 9.2 .3-3.8 .3 8.2 .3-1.9 .3 8.1 0-306.7 0 .9 .1-.9 0 306.7 .2-3.5 .1 3.5 0-306.7 .2 7.8 .3-4.8 .3 10.7 .3-4 .3 7.4 .3-2.6 .3 9.5 .3-4.8 .3 8.3 .3-2.8 .3 10 .3-3.2 .3 9.6 .3-3.6 .3 7.5 .3-4.8 .3 9.1 .3-2.4 .3 8 .3-2.7 .3 11.3 .3-4 .3 8.3 .3-.6 .3 8.6 .3-4.7 .3 8.2 .3-3.1 .3 8.6 .3-2.9 .3 8.9 .3-2.9 .3 7.4 .3-3.9 .3 9.5 .3-2.8 .3 9.7 .3-3.7 .3 9.1 .3-.8 .3 7.3 .3-2.4 .3 9.1 .3-4.7 .3 9.5 .3-3.7 .3 8 .3-.6 .3 6.9 .3-1.6 .3 7.4 .3-1.9 .3 6.7 .3-2.7 .3 8.8 .3-2.1 .3 6.6 .3-1 .3 7.6 .3-3.4 .3 9 .3-.9 .3 6.9 .3-2.3 .3 5.8 .3-3.1 .3 9.2 .3-1.3 .3 7.9 .3-2.7 .3 6.9 .3-2 .3 9.3 .3-3.6 .3 8.3 .3-1.9 .3 8.7 .3-3.7 .3 9 .3-1.9 .3 6.5 .3-2.4 .3 6.5 .3-1.5 .3 8.6 .3-2.8 .3 7.3 .3-2.6 .3 7.7 .3-1.3 .3 7.3 .3-.5 .3 7 .3-1.7 .3 6.4 .3-1 .3 7.3 .3-1.5 .3 8.7 .3-1.3 .3 7.4 .3-2.2 .3 7.6 .3-.3 .3 5.6 .3 .4 .3 5.3 .3-1 .2 3.4 0-306.7 .1 2.6 .2-2.6 0 306.7 .1-.8 0 .8 0-306.7 .3 6.9 .3-1.5 .3 6 .3-.9 .3 5.6 .3-2.9 .3 5.8 .3-1.4 .3 5.7 .3-2.8 .3 4.8 .3-1.8 .3 6.7 .3-2.2 .3 5.1 .3-.5 .3 5.8 .3-1.7 .3 4.8 .3-1.2 .3 6.6 .3-1.5 .3 5.9 .3-2.3 .3 4.7 .3-1.2 .3 4.9 .3-1.5 .3 5.4 .3-1.8 .3 6.3 .3-2.1 .3 7.1 .3-3.2 .3 6.7 .3-2.8 .3 6.6 .3-2.8 .3 6.2 .3-2.5 .3 7.4 .3-2.3 .3 5.2 .3-2.2 .3 6.7 .3-2.5 .3 6.5 .3-3 .3 7.3 .3-2.5 .3 6.1 .3-1.7 .3 4.5 .3-.3 .3 5.9 .3-2.6 .3 6.4 .3-2.6 .3 4.8 .3-.9 .3 4.3 .3-2 .3 4.4 .3-1.7 .3 5.5 .3-3.3 .3 5.4 .3-1.9 .3 4.6 .3-3 .3 5 .3-.8 .3 5.4 .3-2.2 .3 5.9 .3-.5 .3 5.9 .3-2.5 .3 7.4 .3-2.9 .3 6.3 .3-1.2 .3 5.9 .3-2.2 .3 5.8 .3-1.4 .3 6.2 .3-1.3 .3 4.9 .3-1.2 .3 6.2 .3-1.7 .3 6.3 .3-1.7 .3 6.7 .3-1.2 .3 5.6 .3-2.6 .3 6.7 .3-1.6 .3 6 .3-1.5 .3 6.1 .3-1.9 .3 6 .3-2.2 .3 7.4 .3-2.6 .3 6.9 .3-1.9 .3 5 .3-.8 .3 6.3 .3-2.7 .3 6.5 .3-.9 .3 6.5 .3-2.9 .3 7.5 .3-1.8 .3 5.4 .3-1.2 .3 7 .3-1.6 .3 5.6 .3-2.7 .3 7.3 .3-2.7 .3 5.8 .3-1.3 .3 5.8 .3-2.6 .3 6.1 .3-1.5 .3 8 .3-2.1 .3 5.4 .3-2.3 .3 5.9 .3-2.7 .3 6.1 .3-1.4 .3 4.8 .3-1 .3 6.6 .3-1.5 .3 6 .3-.3 .2 4.1 0-306.7 .1 2.1 .2-2.1 0 306.7 .1-.8 0 .8 0-306.7 .3 6.1 .3-1.9 .3 5.9 .3-1.1 .3 6.1 .3-1.3 .3 5 .3-1.5 .3 5.8 .3-4.3 .3 6 .3-.7 .3 7 .3-1 .3 7.1 .3-2.5 .3 5.6 .3-.9 .3 4.3 .3-.9 .3 5 .3-1.2 .3 6.7 .3-3.4 .3 7.3 .3-2.9 .3 7.2 .3-1.3 .3 6.2 .3-2.5 .3 6.5 .3-3.4 .3 6.5 .3-2.2 .3 6 .3-2 .3 6.4 .3-2.6 .3 8.1 .3-2.7 .3 5.6 .3-2.5 .3 5.9 .3-2.1 .3 5.9 .3-.7 .3 5.7 .3-3.1 .3 6.3 .3-2.2 .3 6.6 .3-.9 .3 6.9 .3-.6 .3 4.3 .3-1 .3 6.6 .3-1.9 .3 5.2 .3-1.6 .3 7.1 .3-3 .3 7.4 .3-2.1 .3 5.9 .3-1.2 .3 4.9 .3-1.2 .3 5.5 .3-.8 .3 5.4 .3 .6 .3 6.6 .3-2.1 .3 5 .3-1.9 .3 5.9 .3-2.1 .3 7.7 .3-3.1 .3 7.3 .3-2.9 .3 6.4 .3-2 .3 5.6 .3-3.2 .3 7.5 .3-2.3 .3 5.9 .3-1.1 .3 4.8 .3-.1 .3 4.8 .3-1.1 .3 6.8 .3-2.4 .3 5.3 .3-2.8 .3 6.7 .3-3.9 .3 7.6 .3-2.7 .3 7.7 .3-1.9 .3 6.9 .3-1.1 .3 5.7 .3-1.7 .3 5.6 .3-2.3 .3 6.1 .3-2.7 .3 7 .3-2.4 .3 6.6 .3-3.4 .3 5.2 .3-1.6 .3 7.1 .3-1.9 .3 5.6 .3-2.3 .3 6.3 .3-1.6 .3 6 .3-1.8 .3 5 .3-.9 .3 5.2 .3 .7 .3 5.4 .3-1.7 .3 5.6 .3-1.1 .3 7 .3-1.3 .3 6.4 .3-2.5 .3 6 .3-2.4 .3 7.4 .3-2.7 .2 3.9 0-306.7 .1 1.6 .2-1.6 0 306.7 .1-1.3 .1 1.3 0-306.7 .2 6.1 .3-2.1 .3 5 .3-1.2 .3 6.3 .3-2.2 .3 4.3 .3-1.6 .3 5.2 .3-2.3 .3 5.7 .3-1.8 .3 6.1 .3-2.7 .3 7.2 .3-1.4 .3 5.4 .3-2.1 .3 5.9 .3-3.2 .3 6.2 .3-1.2 .3 7 .3-2.2 .3 6.8 .3-1.8 .3 6.6 .3-1.6 .3 6.4 .3-2.4 .3 6.5 .3-4.1 .3 7.3 .3-2.5 .3 6.5 .3-1.3 .3 5.5 .3-2.9 .3 7.5 .3-3.6 .3 5.5 .3-1.7 .3 6.9 .3-1.2 .3 5.1 .3-1.6 .3 6.5 .3-2.8 .3 6.8 .3-1.4 .3 5.8 .3-2.4 .3 6.1 .3-2.4 .3 6 .3-1.8 .3 6.2 .3-1.4 .3 5.4 .3-.7 .3 5.3 .3-1.4 .3 5.8 .3-2.6 .3 5.5 .3-1.7 .3 7.1 .3-2.9 .3 6 .3-2.9 .3 7.1 .3-1.4 .3 5.6 .3-3.1 .3 6.5 .3-2.2 .3 6.4 .3-3.2 .3 6.5 .3-2 .3 7.2 .3-2.9 .3 6.3 .3-1.4 .3 5.1 .3-1.1 .3 5.6 .3-2 .3 5.7 .3-1.4 .3 5.1 .3-.8 .3 4.7 .3-1.7 .3 6.6 .3-2.6 .3 7.4 .3-3.1 .3 7.8 .3-3.2 .3 7 .3-2.5 .3 5.7 .3-2.2 .3 6.6 .3-2.2 .3 5 .3-1.5 .3 6.8 .3-2.6 .3 7.1 .3-2.6 .3 6.7 .3-2.8 .3 6.6 .3-3.1 .3 5.9 .3-1 .3 5.4 .3-1.6 .3 6.7 .3-2.9 .3 7.7 .3-3.3 .3 6.4 .3-2.5 .3 6.8 .3-2.1 .3 4.9 .3-1 .3 6.9 .3-2.7 .3 6.1 .3-2.3 .3 5.2 .3-1.1 .3 5.5 .3-1.4 .3 5.8 .3-1.7 .3 6.2 .3-2.2 .3 6.1 .3-2.5 .3 7.2 .3-2.1 .3 5.9 .3-1.9 .3 5.5 .3-2.1 .2 3 0-306.7 .1 1.5 .2-1.5 0 306.7 .1-.5 .3-.7 .3-1.9 .3 .3 .3-.3 .3 .3 .3-.2 .3 .4 .3-.5 .3 .5 .3-.4 .3 .3 .3-.5 .3 .5 .3-.5 .3 .5 .3 1.3 .2 1.4 0-306.7 .1 .7 .3 1.2 .3 2 .3 1 .3 2.1 .3 1.1 .3 2 .3 1.1 .3 1.8 .3 1.2 .3 2 .3 .8 .3 2.4 .3 .9 .3 2.1 .3 1 .3 2.3 .3 .8 .3 2.3 .3 .7 .3 2.3 .3 1.1 .3 2.2 .3 .5 .3 2.5 .3 .6 .3 2.3 .3 .7 .3 2.4 .3 .7 .3 2.7 .3 .7 .3 2.5 .3 .5 .3 2.3 .3 .8 .3 2.7 .3 .3 .3 2.5 .3 .6 .3 2.8 .3 .4 .3 2.2 .3 .5 .3 3.1 .3 0 .3 3.1 .3 .5 .3 2.6 .3 .3 .3 3 .3 .1 .3 3.3 .3 .4 .3 2.3 .3 .4 .3 3.3 .3 .2 .3 2.9 .3 .1 .3 2.5 .3 .1 .3 3.2 .3-.4 .3 3.1 .3 .2 .3 3.4 .3-.2 .3 3.2 .3-.6 .3 3.4 .3-.3 .3 3.8 .3 0 .3 3.3 .3-.6 .3 4 .3-.7 .3 3.2 .3-.6 .3 3.5 .3-.7 .3 3.6 .3-.1 .3 3.4 .3-.1 .3 2.9 .3-.3 .3 3.6 .3-.3 .3 3.3 .3 .1 .3 3.7 .3-1.4 .3 3.6 .3-.6 .3 3.7 .3-.8 .3 4.1 .3-.9 .3 4.1 .3-.8 .3 4.2 .3-.7 .3 4.1 .3-1.2 .3 4.1 .3-.4 .3 4.6 .3-1.4 .3 3.4 .3-.7 .3 3.4 .3-.3 .3 4.5 .3-.9 .3 3.3 .3-.6 .3 4.3 .3-.8 .3 3.7 .3-1.1 .3 4.8 .3-1.6 .3 4.1 .3-.5 .3 4 .3-1.1 .3 4.4 .3-1.3 .3 3.5 .3-.5 .3 3.9 .3-1.6 .3 5 .3-.9 .3 4.8 .3-1.8 .3 4.6 .3-1.4 .3 3.9 .3-1.3 .3 3.8 .3-1.5 .3 4.1 .3-2.4 .3 4.8 .3-1.2 .3 5.4 .3-2.9 .3 5.8 .3-1.8 .3 5.8 .3-1.4 .3 4.4 .3-1.7 .3 5.2 .3-2 .3 4.7 .3-2.4 .3 5.5 .3-1.6 .3 5 .3-1.3 .3 5.2 .3-2.7 .3 6 .3-2.6 .3 5.6 .3-2 .3 3.7 .3-1.2 .3 5.4 .3-1.9 .3 4.4 .3-1.5 .3 4.4 .3-1.4 .3 5 .3-.9 .3 4.6 .3-2.4 .3 4.9 .3-2 .3 6 .3-3 .3 6 .3-2.8 .3 5.9 .3-2.2 .3 5.4 .3-2.2 .3 5.7 .3-3.1 .3 5.7 .3-2.9 .2 5.3 0-306.7 .1 1.4 .1-1.4 0 306.7 .2-3.3 .2 3.3 0-306.7 .1 3.3 .3-2.6 .3 7.2 .3-3.6 .3 5.7 .3-3.2 .3 5.8 .3-2.1 .3 4.9 .3-2.7 .3 4.8 .3-2.1 .3 5.3 .3-1.6 .3 5.4 .3-3.9 .3 7.2 .3-2.7 .3 5 .3-2.2 .3 7.1 .3-3.3 .3 6.1 .3-1.8 .3 5.7 .3-2 .3 6.5 .3-2.5 .3 5.1 .3-2 .3 5.3 .3-2.5 .3 4.1 .3-3.3 .3 5.6 .3-1.5 .3 6.3 .3-2.5 .3 5.4 .3-1.8 .3 4.5 .3-2.2 .3 5.9 .3-2 .3 4.3 .3-2.1 .3 6 .3-2.6 .3 5.6 .3-2.8 .3 6.8 .3-2.6 .3 6.4 .3-1.8 .3 4.8 .3-2.5 .3 6.4 .3-4 .3 4.1 .3-.6 .3 6 .3-2.2 .3 4.8 .3-1.3 .3 5 .3-3.2 .3 7.7 .3-3.3 .3 4.9 .3-1.3 .3 6.3 .3-3.5 .3 5.7 .3-2.7 .3 5.7 .3-2.4 .3 5.7 .3-3.5 .3 6.3 .3-2.5 .3 4.7 .3-1.9 .3 6.4 .3-3.7 .3 6.7 .3-1 .3 4.8 .3-2.8 .3 5.8 .3-3.3 .3 5.5 .3-2 .3 4.6 .3-1.8 .3 5.2 .3-2.9 .3 7.1 .3-3.6 .3 5.3 .3-2.2 .3 5.5 .3-2.2 .3 7.4 .3-1.9 .3 5.6 .3-2.8 .3 5.1 .3-2.9 .3 6.2 .3-2.5 .3 5.2 .3-1.9 .3 4.8 .3-1.4 .3 4.8 .3-2.7 .3 5.9 .3-2.6 .3 7.3 .3-2.8 .3 4.7 .3-2.1 .3 6 .3-1.7 .3 5.5 .3-2.9 .3 6.1 .3-2.5 .3 4.7 .3-1.7 .3 4.7 .3-3 .3 5.5 .3-1.7 .3 6.4 .3-2.8 .3 5.9 .3-1.7 .3 4.5 .3-1.7 .3 5.4 .3-2.8 .3 6.8 .3-1.8 .3 5.6 .3-1.9 .3 3.9 .3-1.8 .3 6.1 .3-3.3 .3 4.4 .3-3.5 .3 5.7 .3-2.7 .3 5.9 .3-2.1 .3 5.4 .3-2.4 .3 5.2 .3-2.5 .3 5 .3-2.1 .3 6 .3-2.6 .3 6.1 .3-2.8 .3 6.3 .3-2 .3 5 .3-2.1 .3 5.9 .3-4.2 .3 7.2 .3-2.8 .3 6 .3-1.2 .3 5.4 .3-3.1 .3 4.7 .3-2 .3 6.6 .3-2.9 .3 4.2 .3-1.8 .3 5.9 .3-2.6 .3 6.7 .3-3.8 .3 5.7 .3-1.4 .2 4.9 0-306.7 .1 1.7 .2-1.7 0 306.7 .1-.8 .1 .8 0-306.7 .2 3.8 .3-1.8 .3 6.4 .3-4.4 .3 6.4 .3-2.9 .3 4.7 .3-3.3 .3 6.8 .3-3.3 .3 6.6 .3-4.6 .3 5.5 .3-3.3 .3 6.9 .3-4.4 .3 6.7 .3-3.5 .3 4.8 .3-2 .3 7.9 .3-3.3 .3 5.8 .3-2.1 .3 4.3 .3-3 .3 6.6 .3-3.1 .3 3.7 .3-1.4 .3 5.5 .3-2.8 .3 4.4 .3-2.5 .3 4.7 .3-1.9 .3 5.6 .3-1.8 .3 3.2 .3-3.1 .3 5.8 .3-2.8 .3 7.2 .3-3.8 .3 4.6 .3-2.7 .3 5 .3-1.9 .3 6.6 .3-4.4 .3 6.8 .3-3.6 .3 4.5 .3-.4 .3 5.8 .3-3.2 .3 5.1 .3-3.6 .3 5.8 .3-4.2 .3 5.1 .3-2.1 .3 5 .3-2.3 .3 6.9 .3-3.3 .3 6.5 .3-2.3 .3 6 .3-4.8 .3 6.6 .3-4.2 .3 5 .3-1.2 .3 6.1 .3-3.8 .3 6 .3-2.4 .3 6.8 .3-3.9 .3 6.4 .3-3 .3 5.2 .3-3.8 .3 4.7 .3-2.6 .3 5.8 .3-3.1 .3 5.4 .3-3.3 .3 5.2 .3-1.9 .3 5 .3-2.6 .3 4.7 .3-1.6 .3 5.1 .3-1.7 .3 4.9 .3-3.4 .3 5.2 .3-2 .3 6.7 .3-3.2 .3 4.4 .3-3.8 .3 7.1 .3-3 .3 4.3 .3-2.3 .3 6.2 .3-3.4 .3 3.8 .3-1.2 .3 5 .3-3 .3 4.7 .3-3 .3 7.2 .3-2.4 .3 5.8 .3-3.3 .3 5.5 .3-4.3 .3 6.5 .3-1.1 .3 4.3 .3-1.1 .3 4.5 .3-2.5 .3 5.6 .3-1.7 .3 4.4 .3-2.5 .3 7.2 .3-3.2 .3 6.4 .3-3.8 .3 5.8 .3-3.5 .3 4.5 .3-2.3 .3 6.7 .3-3.1 .3 4 .3-2 .3 5.8 .3-3.6 .3 6.2 .3-4.1 .3 5.5 .3-3.9 .3 6.8 .3-2.3 .3 5.8 .3-3.5 .3 6.5 .3-1.9 .3 4.9 .3-2 .3 6.3 .3-4.3 .3 5.7 .3-2.6 .3 4.8 .3-2.9 .3 4.9 .3-2.9 .3 6.1 .3-2.9 .3 6.7 .3-2.7 .3 5.4 .3-3.5 .3 4.7 .3-2.4 .3 5.2 .3-2.9 .3 4.1 .3-2 .3 7 .3-3.5 .3 5.6 .3-2.3 .3 3.7 .3-1.9 .3 5.7 .3-2.5 .3 5.4 .3-4.4 .3 5.5 .3-2.5 .3 5.7 .3-3.3 .3 7.1 .3-4.7 .3 5.8 .3-2.6 .3 6.6 .3-3.2 .3 5.3 .3-1.6 .3 5.6 .3-3.8 .3 5.6 .3-3.7 .3 5.6 .3-.9 .3 6.1 .3-3.4 .3 6.1 .3-2.1 .3 4.3 .3-2.6 .3 5.7 .3-2.8 .3 5.6 .3-3.5 .3 6.8 .3-5.1 .3 6.9 .3-2.6 .3 5.4 0-306.7 0 .4 0-.4 0 306.7 .3-2.5 .1 2.5 0-306.7 .2 3.1 .3-3.1 0 306.7 0-.5 0 .5 0-306.7 .3 4.7 .3-3.3 .3 5.7 .3-3.6 .3 6 .3-3.8 .3 6.2 .3-3.3 .3 4.8 .3-3.4 .3 6.1 .3-3.6 .3 6.4 .3-4.6 .3 6.2 .3-4.3 .3 7.3 .3-5.2 .3 5 .3-4.8 .3 6.6 .3-5.9 .3 6.1 .3-4.9 .3 6.6 .3-6.6 .3 6.3 .3-3.5 .3 5.1 .3-4.7 .3 5.5 .3-4.7 .3 6.1 .3-5.2 .3 5.2 .3-4.8 .3 5.9 .3-4.4 .3 5.3 .3-3.3 .3 4.8 .3-5.7 .3 6 .3-3 .3 4.8 .3-3.7 .3 3.5 .3-2.9 .3 5.6 .3-4.4 .3 5.5 .3-3.4 .3 5.1 .3-2.8 .3 4.2 .3-6.7 .3 4.4 .3-3.6 .3 4.6 .3-5.7 .3 5.7 .3-3.5 .3 5.4 .3-4.4 .3 4.8 .3-4.7 .3 6.5 .3-5.4 .3 6.2 .3-5.6 .3 6.4 .3-5.5 .3 7.6 .3-5 .3 4.2 .3-5.2 .3 6.9 .3-3.4 .3 6.4 .3-4.8 .3 7 .3-3.9 .3 6.5 .3-6 .3 6.8 .3-5 .3 5.4 .3-3.4 .3 7.1 .3-5.5 .3 7.6 .3-6.4 .3 5.2 .3-4.9 .3 7.5 .3-5.8 .3 6 .3-5.8 .3 8.1 .3-4.5 .3 8.3 .3-5.6 .3 6.6 .3-6.8 .3 5.5 .3-2.6 .3 7 .3-3.4 .3 6.4 .3-5.7 .3 7.4 .3-1.3 .3 4.1 .3-3.6 .3 5.7 .3-8.3 .3 9.7 .3-7.8 .3 6.5 .3-5.7 .3 8.7 .3-5.4 .3 6.4 .3-7.7 .3 5.8 .3-7.4 .3 6.2 .3-5.8 .3 6.3 .3-6.3 .3 7.3 .3-6.9 .3 9.3 .3-9 .3 8.3 .3-6.1 .3 7.2 .3-5.1 .3 7.3 .3-5.6 .3 9.9 .3-4.9 .3 9.2 .3-6.4 .3 9.7 .3-7.8 .3 9.4 .3-5.1 .3 8.3 .3-10 .3 9.8 .3-2.5 .3 6.4 .3-4.7 .3 10.2 .3-7.5 .3 8 .3-9.3 .3 11.5 .3-10.2 .3 11.5 .3-9.3 .3 11.9 .3-8 .3 14.6 .3-14.1 .3 10.1 .3-7.4 .3 11.7 .3-11.2 .3 13.9 .3-12.5 .3 14.5 .3-11.2 .3 13.7 .3-9.6 .3 14.7 .3-16 .3 14.5 .3-10.9 .3 10 .3-12.5 .3 15.8 .3-14.1 .3 12.5 .3-17.1 .3 7.6 .3-14 .3 6.8 .3-18.9 .3 4.9 .3-14.1 .3 7 .3-15 .3 6.8 .3-14.5 .3 8.8 .3-15.2 .3 7.4 .3-11.7 .3 10.8 .3-14 .3 6 .3-12.6 .3 8.4 .3-13 .3 8.5 .3-17 .3 13.5 .3-18 .3 9.5 .3-12 .3 6.5 .3-16 .3 9.6 .3-14.8 .3 6.7 .3-15.4 .3 1.6 .3-11.3 .3 1.8 .3-11.7 .3 0 0-.8 0 306.7 .3-9.5 .3-1.4 .3-11.2 .3 1.1 .3-10.9 .3 1.4 .3-9.4 .3 4.1 .3-9.6 .3 3.6 .3-7.7 .3 5.1 .3-9.6 .3 4.2 .3-9.1 .3 4.5 .3-9.8 .3 6.5 .3-10.1 .3 2.1 .3-7.7 .3 4 .3-9.2 .3 4.5 .3-9.3 .3 4.1 .3-7.6 .3 2.7 .3-9.5 .3 4.6 .3-6.9 .3 4 .3-9.1 .3 6.3 .3-9.5 .3 3.9 .3-8.4 .3 5.4 .3-8.7 .3 5.7 .3-6.6 .3 3.6 .3-8.2 .3 6.1 .3-7.2 .3 5 .3-8.3 .3 5.5 .3-8.9 .3 6.4 .3-8 .3 3.4 .3-6.2 .3 3 .3-7.4 .3 5.3 .3-6.5 .3 5 .3-8 .3 4.8 .3-9.7 .3 3.8 .3-8.6 .3 5.2 .3-10.8 .3 5.4 .3-9.7 .3 6.9 .3-11.2 .3 6 .3-11.7 .3 4.9 .3-11.3 .3 8.7 .3-11.1 .3 7.7 .3-13.5 .3 8 .3-12.6 .3 7.4 .3-11 .3 7.3 .3-13 .3 8.6 .3-7.8 .3 6 .3-11.3 .3 8.2 .3-12.1 .3 7.2 .3-10.8 .3 6.4 .3-13.4 .3 6.6 .3-13.3 .3 9.7 .3-15.5 .3 14.1 .3-14 .3 12.9 .3-13.3 .3 11.4 .3-11.6 .3 6.8 .3-10.8 .3 13.2 .3-14.1 .3 13 .3-19.2 .3 11.6 .3-15.6 .3 14 .3-10.6 .3 13.5 .3-12.8 .3 12.4 .3-16.7 .3 12.1 .3-13.1 .3 12.1 .3-18.3 .3 19 .3-25.4 .3 21.4 .3-20.6 .3 18.9 .3-13.9 .3 10.6 .3-20.1 .3 21.7 .3-18 .3 15.1 .3-20.1 .3 21.6 .3-19.4 .3 19.5 .3-22.8 .3 21.1 .3-25.6 .3 19.1 .3-26.7 .3 27.1 .3-26 .3 26.7 .3-23.5 .3 26.5 .3-19.5 .3 23.3 .3-23.5 .3 19.6 .3-16.7 .3 22.3 .3-22.8 .3 23.6 .3-19.9 .3 21.1 .3-18.9 .3 17 .3-16 .3 21.3 .3-19.4 .3 20.1 .3-18.7 .3 24 .3-21.5 .3 17.7 .3-16.8 .3 21.3 .3-19.7 .3 18.4 .3-12.7 .3 16.3 .3-19.9 .3 18.8 .3-16.1 .3 20.2 .3-12 .3 11.9 .3-16.3 .3 14.9 .3-13.1 .3 18.7 .3-14.9 .3 17.2 .3-19.3 .3 18 .3-16.1 .3 22.7 .3-18.1 .3 21.6 .3-20.5 .3 15 .3-11 .3 14.3 .3-10.8 .3 19.7 .3-13.8 .3 17 .3-18.8 .3 18.8 .3-18.2 .3 22.8 .3-14.3 .3 14.6 .3-11.7 .3 11.7 .3-11.2 .3 17.6 .3-15.7 .3 21.9 .3-17.7 .3 14.5 .3-13 .3 16.7 .3-7.8 .3 14.2 .3-14.7 .3 12.5 .3-9.8 .3 17.5 .3-9 .3 13.4 .3-12.6 .3 15.9 .3-16.5 .3 17 .3-12.3 .3 15.9 .3-14.4 .3 16.9 .3-12.8 .3 15.5 .3-10.1 .3 14.3 .3-14.1 .3 17.7 .3-15.5 .3 15.9 .3-8.9 .3 14.2 .3-12.2 .3 14.1 .3-10.3 .3 21.5 .3-13.2 .3 11.9 .3-12.3 .3 17.4 .3-11.1 .3 14.3 .3-10.6 .3 16.9 .3-11.4 .3 17.2 .3-12 .3 14.4 .3-14.5 .3 18.7 .3-12.7 .3 14.9 .3-11.3 .3 14.2 .3-13.5 .3 14.7 .3-15.1 .3 17 .3-8.5 .3 12.3 .3-11.5 .3 18.2 .3-12.9 .3 15.7 .3-13.1 .3 16.4 .3-8.5 .3 16.2 .3-11.6 .3 16.3 .3-9 .3 14.6 .3-13.8 .3 11.5 .3-9.7 .3 18.6 .3-15.3 .3 13.3 .3-10.7 .3 17.8 .3-13.4 .3 12.2 .3-9.6 .3 11.7 .3-6.7 .3 14.4 .3-13.4 .3 15.9 .3-10.7 .3 15.2 .3-6.5 .3 15.1 .3-15.4 .3 19.4 .3-14 .3 19.8 .3-10.7 .3 15.1 .3-12.2 .3 16.9 0-306.7 0 2.6 .1-2.6 0 306.7 .2-11.3 .2 11.3 0-306.7 .1 6.2 .1-6.2 0 306.7 .2-8.6 .2 8.6 0-306.7 .1 7.2 .2-7.2 0 306.7 .1-3.2 .1 3.2 0-306.7 .2 11.6 .3-11.6 0 306.7 0-.6 0 .6 0-306.7 .3 12.6 .3-11.2 .3 15.7 .3-14.3 .3 12.4 .3-8.8 .3 13.2 .3-10.8 .3 13.4 .3-10 .3 12.3 .3-10.4 .3 12.1 .3-8.6 .3 14.6 .3-7.9 .3 11.4 .3-12.8 .3 13.7 .3-9.5 .3 14.8 .3-10.4 .3 12.4 .3-11.6 .3 10.3 .3-10.9 .3 15.3 .3-7.4 .3 10.1 .3-9.4 .3 12.9 .3-9.3 .3 13.8 .3-8.4 .3 11.1 .3-7.3 .3 8 .3-6.8 .3 12.6 .3-9.3 .3 8.2 .3-4.6 .3 11.3 .3-9 .3 13 .3-10.2 .3 11.4 .3-4.4 .3 7.4 .3-5.2 .3 7 .3-5.3 .3 8.9 .3-7.2 .3 8.9 .3-7.2 .3 9.6 .3-5.7 .3 8.1 .3-4.9 .3 10.7 .3-5.6 .3 9.6 .3-8.9 .3 9.7 .3-8.4 .3 8.8 .3-5.7 .3 9.4 .3-6.4 .3 9.9 .3-6.5 .3 10.7 .3-6.4 .3 8.4 .3-7.1 .3 10.5 .3-4 .3 8.2 .3-3.7 .3 7.5 .3-5.7 .3 6.5 .3-4.1 .3 9.5 .3-6.7 .3 6.7 .3-2.9 .3 8.3 .3-4.8 .3 7.9 .3-4.9 .3 7.3 .3-4.6 .3 7.4 .3-5.6 .3 7.7 .3-4.8 .3 7.6 .3-4.5 .3 7.7 .3-4.8 .3 8.8 .3-5.9 .3 9.9 .3-4.7 .3 6.3 .3-3.4 .3 7.2 .3-5.6 .3 8.5 .3-4.9 .3 7.6 .3-4.3 .3 5 .3-3.6 .3 7.9 .3-3.2 .3 4.4 .3-3.9 .3 9.8 .3-5.1 .3 5.2 .3-2.8 .3 7.1 .3-4.4 .3 7.4 .3-4 .3 7.5 .3-3.8 .3 5.6 .3-2.6 .3 6.1 .3-3.1 .3 6.7 .3-4.9 .3 6.9 .3-3.5 .3 6.7 .3-4.1 .3 5.5 .3-2.4 .3 6.5 .3-3.4 .3 5.5 .3-3.3 .3 6.2 .3-2 .3 4.4 .3-2.8 .3 7.2 .3-3.9 .3 6 .3-3.3 .3 5.8 .3-1.7 .3 4.8 .3-2.7 .3 4.9 .3-1.7 .3 5 .3-2.4 .3 5.6 .3-1.7 .3 3.8 .3-2.1 .3 5.5 .3-3.1 .3 2.2 .3-6.1 .3 2 .3-5 .3 2 .3-5.1 .3 2.6 .3-6.1 .3 5.7 .3-2.3 .3 6.5 .3-1.6 .3 6.9 .3-1.7 .3 7.5 .3-1.9 .3 5.1 .3-1.9 .3 5.7 .3-1.7 .3 4.4 .3-.9 .3 4.2 .3-2.7 .3 6.9 .3-1.8 .3 4.1 .3-2.3 .3 7.1 .3-4.2 .3 6.6 .3-2.3 .3 4.9 .3-2.3 .3 5.9 .3-1.6 .3 4.3 .3-1.4 .3 5.3 .3-2.9 .3 6.4 .3-3.3 .3 5.9 .3-2.4 .3 5.3 .3-1 .2 3.1 0-306.7 .1 1.1 .1-1.1 0 306.7 .2-1.2 .1 1.2 0-306.7 .2 4.5 .3-3.1 .3 6.4 .3-2.7 .3 5.4 .3-2.7 .3 4.5 .3-1.9 .3 5.4 .3-2.7 .3 4.1 .3-1.5 .3 4.7 .3-2 .3 5.6 .3-1.7 .3 5.2 .3-2.5 .3 4.3 .3-1.3 .3 4.9 .3-2.9 .3 5.2 .3-2.4 .3 6.1 .3-3.7 .3 5.6 .3-2.2 .3 5.4 .3-1.9 .3 3.9 .3-2.3 .3 5.7 .3-2.2 .3 4.9 .3-2.2 .3 5 .3-2.2 .3 5.1 .3-2.4 .3 4.3 .3-1.3 .3 4.1 .3-1.4 .3 5.2 .3-2.7 .3 5.8 .3-1.9 .3 5 .3-2.9 .3 4.9 .3-2.7 .3 6.5 .3-3.4 .3 5.5 .3-2.3 .3 5.8 .3-3.1 .3 6.2 .3-2.5 .3 4.8 .3-2.9 .3 5.6 .3-1.7 .3 4.3 .3-2.7 .3 5.4 .3-1.5 .3 5 .3-2.7 .3 5.3 .3-2.3 .3 4.9 .3-1.5 .3 4.7 .3-3.3 .3 5.1 .3-2.5 .3 6.3 .3-2.5 .3 4.8 .3-2.9 .3 4.9 .3-2.7 .3 5.6 .3-2 .3 4.5 .3-3.5 .3 6.9 .3-3.4 .3 6.1 .3-1.8 .3 4.9 .3-3.1 .3 6.3 .3-3.7 .3 7.4 .3-3.3 .3 4.9 .3-2.3 .3 4.9 .3-2.9 .3 6.2 .3-3.1 .3 6.6 .3-2.3 .3 5.7 .3-2.4 .3 5.7 .3-3.4 .3 6 .3-3.5 .3 5.1 .3-2 .3 4.8 .3-2.5 .3 4.7 .3-1.5 .3 5 .3-2.2 .3 5.1 .3-3 .3 6.4 .3-2.8 .3 4.9 .3-2.5 .3 5.7 .3-3.7 .3 6.5 .3-2.9 .3 4.8 .3-2.4 .3 5 .3-2.3 .3 6.4 .3-3.6 .3 5.5 .3-2.9 .3 6 .3-3.7 .3 5.7 .3-2.2 .3 5.7 .3-1.8 .3 4.5 .3-2.9 .3 5.3 .3-1.5 .3 4.3 .3-3.5 .3 6.5 .3-2.9 .3 6 .3-3.5 .3 6.1 .3-2.2 .3 6.1 .3-3.4 .3 4.7 .3-1.8 .3 5.6 .3-2.4 .3 4.5 .3-2.2 .3 6.1 .3-3.7 .3 6.3 .3-3.4 .3 4.8 .3-1.5 .3 5 .3-2.6 .3 5.7 .3-1.9 .3 5.3 .3-2.5 .3 5.4 .3-2.7 .3 5.6 .3-3.3 .3 5.2 .3-3.3 .3 6.1 .3-3.6 .3 5.6 .3-2.9 .3 7 .3-1.3 .3 4.2 .3-3 .3 7.1 .3-3.3 .3 4.4 .3-2 .3 5.5 .3-4.5 .3 6.4 .3-3.1 .3 5.6 .3-2.7 .3 5 .3-3.3 .3 7.5 .3-2.1 .3 4.7 .3-.6 .3 5.2 .3-3 .3 4.7 .3-1.6 .3 5.3 .3-2.1 .3 4.7 .3-3.1 .3 5.4 0-306.7 0 .7 .1-.7 0 306.7 .2-2.4 .1 2.4 0-306.7 .2 3.2 .3-2.3 .3 5.1 .3-1.8 .3 5.3 .3-4.6 .3 6.1 .3-2.8 .3 6.1 .3-1.8 .3 4.5 .3-4 .3 6.4 .3-3.9 .3 6.5 .3-3.6 .3 5.3 .3-1.8 .3 4.4 .3-.8 .3 4.7 .3-2.5 .3 5.3 .3-3.1 .3 6.1 .3-3.1 .3 5 .3-2.5 .3 6.4 .3-3 .3 6 .3-3 .3 5 .3-1.7 .3 5.1 .3-3.4 .3 5.4 .3-3.4 .3 7 .3-2.4 .3 4.9 .3-2.8 .3 5.3 .3-2.9 .3 5.9 .3-2.2 .3 6 .3-1.7 .3 5.1 .3-2.7 .3 5.8 .3-1.2 .3 4.3 .3-3.5 .3 7 .3-4.2 .3 6 .3-3.6 .3 6.4 .3-2.7 .3 4.5 .3-1.8 .3 5.6 .3-3.2 .3 5.5 .3-2.1 .3 4.9 .3-3.3 .3 5.3 .3-2.4 .3 5.6 .3-3.9 .3 6.4 .3-2.9 .3 5.3 .3-1.5 .3 6.9 .3-3.4 .3 4.8 .3-3.3 .3 5.4 .3-2.4 .3 6 .3-2.4 .3 5.5 .3-2.1 .3 5.4 .3-3.8 .3 6.7 .3-1.6 .3 4.7 .3-4.3 .3 6.2 .3-4.1 .3 5.6 .3-.9 .3 6.2 .3-3.3 .3 6.2 .3-2.5 .3 5.4 .3-3.9 .3 5.3 .3-.8 .3 4.3 .3-4 .3 7.2 .3-2.3 .3 4.6 .3-3.6 .3 5.3 .3-2.9 .3 6.2 .3-3.7 .3 6.6 .3-4.1 .3 5.8 .3-2.8 .3 4.4 .3-1.7 .3 6.2 .3-4.3 .3 6.5 .3-2.5 .3 6.6 .3-3.2 .3 5.9 .3-2.3 .3 6.3 .3-2.4 .3 5.3 .3-3.2 .3 6.4 .3-3.7 .3 5.1 .3-2.8 .3 4.9 .3 .6 .3 3.8 .3-3.4 .3 6.3 .3-2.2 .3 4.3 .3-2 .3 4.4 .3-1.9 .3 5.7 .3-5.2 .3 6.2 .3-.6 .3 5.1 .3-2.4 .3 4.8 .3-1.5 .3 4.3 .3-.9 .3 4.6 .3-2.9 .3 4.7 .3-3.3 .3 6.5 .3-3 .3 6 .3-2.5 .3 5.1 .3-2.4 .3 5.2 .3-3 .3 8 .3-4.1 .3 5.7 .3-2.9 .3 6.2 .3-1.7 .3 4.3 .3-2.4 .3 4.8 .3-3.5 .3 6.5 .3-3.1 .3 5.5 .3-3.5 .3 6.3 .3-2.4 .3 5.9 .3-2.3 .3 4.3 .3-1.4 .3 5.7 .3-3.3 .3 5.8 .3-3.7 .3 6.2 .3-4.4 .3 6.3 .3-3.7 .3 6.3 .3-2.7 .3 5.9 .3-1.9 .3 6.1 .3-2.4 .3 5.5 .3-2 .3 4.6 .3-3.3 .3 4.7 .3-1.5 .3 4.7 .3-2.9 .3 5.8 .3-2.9 .3 4.2 .3-1.9 .3 5.5 .3-3 .2 4.2 0-306.7 .1 2 .3-1.5 .3 6.2 .3-2.5 .3 5.1 .3-3.8 .3 6.2 .3-2.2 .3 4.9 .3-2 .3 6.5 .3-2.3 .3 5.8 .3-2.8 .3 4.6 .3-3.1 .3 5.1 .3-1 .3 3.4 .3-1.3 .3 4.8 .3-1.6 .3 5.3 .3-2.4 .3 4.8 .3-2 .3 6.1 .3-3.2 .3 6.7 .3-2 .3 4.4 .3-1.1 .3 5.6 .3-2.1 .3 4.1 .3-2.2 .3 4.9 .3-2.3 .3 6.4 .3-3.2 .3 5.9 .3-1.7 .3 6.5 .3-3.3 .3 5.9 .3-2.9 .3 6.4 .3-3.8 .3 6.2 .3-1.8 .3 6 .3-2.5 .3 4.2 .3-2.8 .3 6.3 .3-3.5 .3 5.8 .3-3.1 .3 6 .3-1.3 .3 5.6 .3-4.3 .3 6.6 .3-3.5 .3 6.6 .3-3.3 .3 6.9 .3-1.8 .3 3.5 .3-3 .3 4.7 .3-2.2 .3 5.3 .3-2.7 .3 4.4 .3-1.3 .3 5.4 .3-2.8 .3 6.3 .3-4.3 .3 6.3 .3-3 .3 6.8 .3-1.6 .3 5.7 .3-4.3 .3 6.6 .3-1.8 .3 4.1 .3-1.9 .3 6.7 .3-1.9 .3 6.1 .3-2.1 .3 4.7 .3-2.2 .3 5.6 .3-2.9 .3 5.4 .3-2.7 .3 6.1 .3-4.6 .3 5 .3-2.2 .3 5.8 .3-3.2 .3 5.9 .3-3.1 .3 5.5 .3-2.2 .3 6.7 .3-2.7 .3 5.7 .3-2.8 .3 4.4 .3-2.5 .3 6.5 .3-2 .3 6.4 .3-3.2 .3 6.8 .3-3.6 .3 5.5 .3-2.3 .3 5.9 .3-2.9 .3 5.2 .3-1.7 .3 4.7 .3-1.2 .3 6.6 .3-2.8 .3 4.6 .3-2 .3 4.4 .3-2.7 .3 5.7 .3-1.1 .3 4.8 .3-2.4 .3 5.2 .3-2.7 .3 6.5 .3-2.7 .3 5.6 .3-2.8 .3 4.3 .3-2.2 .3 5 .3-1.8 .3 6.3 .3-3 .3 6.1 .3-1.4 .3 4.8 .3-2.4 .3 5 .3-3.3 .3 6.6 .3-2.2 .3 4.3 .3-2 .3 5.6 .3-2.5 .3 5.6 .3-2.7 .3 5.3 .3-3.4 .3 5.6 .3-1.7 .3 4.3 .3-1.6 .3 4.9 .3-2.4 .3 5.9 .3-1.5 .3 4.1 .3-2.1 .3 6.3 .3-3.2 .3 5 .3-1.6 .3 5.3 .3-3.2 .3 5.3 .3-2.8 .3 6.5 .3-2 .3 6.5 .3-2.7 .3 5.3 .3-3.1 .3 6 .3-.6 .3 4.4 .3-2 .3 4.9 .3-3.2 .3 6.7 .3-2.1 .2 2.9 0-306.7 .1 2.6 .3-1.9 .3 4.8 .3-2.7 .3 5.4 .3-1.6 .3 6 .3-3.3 .3 7.8 .3-2.1 .3 5.8 .3-4.4 .3 6.9 .3-2.9 .3 6.1 .3-2.1 .3 4.9 .3-2.9 .3 6.1 .3-2.4 .3 6.2 .3-3 .3 5.3 .3-1.9 .3 5.4 .3-2.6 .3 6.6 .3-2.7 .3 5.2 .3-2.2 .3 6.6 .3-2.3 .3 5.3 .3-2.4 .3 6.1 .3-2.2 .3 5 .3-2.2 .3 6.4 .3-3.3 .3 5.4 .3-.9 .3 4.5 .3-2.1 .3 5.9 .3-1.9 .3 5.9 .3-2.3 .3 6.2 .3-2.6 .3 5.9 .3-1.5 .3 4.2 .3-1.1 .3 4.5 .3-.6 .3 3.9 .3-2.1 .3 5 .3-1.8 .3 6.6 .3-2.5 .3 5 .3-2.5 .3 6.4 .3-2.7 .3 5.6 .3-1.7 .3 3.7 .3-5.2 .3 2.5 .3-4.6 .3 2 .3-5.8 .3 2.7 .3-4.6 .3 2.5 .3-4.5 .3 2.5 .3-2.2 .3 6 .3-2.2 .3 6.8 .3-2.4 .3 5 .3-.6 .3 5.2 .3-1.3 .3 3.8 .3-2.2 .3 5.6 .3-3.1 .3 4.4 .3-1.5 .3 4.3 .3-2.4 .3 5.2 .3-2.7 .3 5 .3-3.2 .3 5.6 .3-3.5 .3 6.6 .3-3.7 .3 4.8 .3-29.4 .3-82.7 .3-28.5 0 306.7 0-1.8 .3-1 .3-.3 .3 .5 .3-.5 .3 .3 .3-.3 .3 .5 .3-.5 .3 .5 .3-.5 .3 .4 .3 1.3 .2 1.4 0-306.7 .1 1.1 .3 2.2 .3 3.1 .3 2.2 .3 3.2 .3 2 .3 3.1 .3 2.1 .3 3 .3 2.1 .3 3.5 .3 1.9 .3 3.4 .3 1.6 .3 3.7 .3 1.6 .3 4 .3 1.6 .3 3.5 .3 1.3 .3 3.7 .3 1.8 .3 3.6 .3 1.5 .3 4.1 .3 1.5 .3 3.7 .3 1.4 .3 3.6 .3 1.7 .3 4.1 .3 .9 .3 4 .3 1.1 .3 4.2 .3 .8 .3 4.3 .3 1 .3 4 .3 1.5 .3 3.7 .3 1 .3 4.5 .3 .6 .3 4.3 .3 1 .3 4.9 .3 .2 .3 4.6 .3 1 .3 4.8 .3 1.1 .3 4.7 .3 .2 .3 4.4 .3 .8 .3 4.5 .3 .4 .3 5.4 .3-1 .3 5.1 .3 .5 .3 5.4 .3 .7 .3 4.7 .3-.4 .3 5.6 .3 .1 .3 5.9 .3-.2 .3 4.6 .3-.4 .3 5.9 .3-.1 .3 5.3 .3-.6 .3 5.9 .3-.3 .3 4.9 .3 .4 .3 5.2 .3 .3 .3 6.1 .3-1.1 .3 5 .3-.5 .3 6 .3 .3 .3 6 .3-.8 .3 5.3 .3-1.4 .3 5.8 .3 .6 .3 5.8 .3-1.3 .3 5.4 .3-.2 .3 5.5 .3-.1 .3 6.2 .3-1.1 .3 6.2 .3-1.4 .3 6.5 .3-1.5 .3 7.8 .3-1.1 .3 7.4 .3-2.7 .3 7 .3-1.2 .3 5.2 .3-1.8 .3 7.5 .3-.4 .3 5.4 0-306.7 0 .4 .2-.4 0 306.7 .1-.2 0 .2 0-306.7 .3 5.7 .3-2.1 .3 6.7 .3-3.3 .3 5.4 .3-3.3 .3 7.4 .3-1.7 .3 4.9 .3-1.2 .3 6.9 .3-2.8 .3 5.7 .3-1.6 .3 5.3 .3-2.4 .3 7.3 .3-3.4 .3 6.4 .3-3.2 .3 5.4 .3-2.7 .3 6.7 .3-2.4 .3 7.7 .3-3.3 .3 6.5 .3-1.6 .3 5.8 .3-2.1 .3 5.9 .3-2.4 .3 5 .3-1 .3 5.2 .3-2.1 .3 6 .3-2.3 .3 6.5 .3-4.7 .3 5.6 .3-1.2 .3 5 .3-.1 .3 4.6 .3-2.9 .3 6.9 .3-3.8 .3 6.9 .3-1.3 .3 6.1 .3-2.8 .3 6.5 .3-2.4 .3 5.5 .3-1.6 .3 6.5 .3-1.5 .3 5.7 .3-2.6 .3 5.1 .3-2.3 .3 7.8 .3-3.6 .3 5.5 .3-.9 .3 5 .3-4 .3 7.9 .3-3.3 .3 6.8 .3-2.3 .3 7.5 .3-4.8 .3 7.4 .3-3.8 .3 6.8 .3-3 .3 6.9 .3-3.1 .3 7.9 .3-4.5 .3 7.4 .3-4.2 .3 6.6 .3-2.8 .3 6.9 .3-4.4 .3 7.7 .3-2.9 .3 6.8 .3-3.4 .3 8.7 .3-1.3 .3 6.2 .3-3.4 .3 6.9 .3-3.2 .3 7.4 .3-2.1 .3 5.5 .3-3.9 .3 7.2 .3-3 .3 7.8 .3-3.4 .3 5.9 .3-1 .3 6 .3-2.6 .3 8.8 .3-4.7 .3 6.7 .3-3.6 .3 6 .3-2.8 .3 6.3 .3-2.2 .3 7 .3-2.7 .3 5.6 .3-3.6 .3 6.9 .3-2 .3 5.3 .3-1.8 .3 6.7 .3-3 .3 7.3 .3-2.4 .3 5.6 .3-2.2 .3 7.2 .3-3.3 .3 7.7 .3-5 .3 7.6 .3-3.6 .3 8 .3-3.8 .3 5.7 .3-3.2 .3 6.2 .3-1.7 .3 5.9 .3-3.1 .3 6.5 .3-3.5 .3 7.1 .3-2.8 .3 7 .3-2.6 .3 6.8 .3-4.8 .3 8.1 .3-4.3 .3 8.1 .3-4.3 .3 8.7 .3-2.5 .3 6.4 .3-2.9 .1 3.6 0-306.7 .2 3.9 .3-3.9 0 306.7 0-.1 0 .1 0-306.7 .3 9.5 .3-2.1 .3 7.6 .3-1.9 .3 5.5 .3-1.8 .3 7.6 .3-2 .3 8.2 .3-2.3 .3 8.9 .3-4.1 .3 8.8 .3-.7 .3 6.2 .3-2.6 .3 7.1 .3-3.2 .3 6.4 .3-1.1 .3 7.4 .3-1.6 .3 8.4 .3-2.7 .3 7.5 .3-1.8 .3 6.7 .3-1.8 .3 8.6 .3-2.2 .3 6.4 .3-.5 .3 7.8 .3-2.2 .3 7.2 .3-3.4 .3 7.1 .3-1.2 .3 6.4 .3-.6 .3 7 .3-1.1 .3 7.9 .3-2.8 .3 6.1 .3-1.5 .3 7.6 .3-.6 .3 7.1 .3-.5 .3 7.2 .3-2.6 .3 6.9 .3-3.2 .3 8.1 .3-1.8 .3 7.6 .3-.4 .3 6 .3-2.4 .3 7.8 .3-1.1 .3 5.8 .3-1.1 .3 7.7 .3-1.5 .3 5.6 .3-.2 .3 6.5 .3-.8 .3 6.8 .3-1.4 .3 6.6 .3-1.5 .3 6.1 .3-1.4 .3 7.6 .3-1.1 .3 7 .3-2.1 .3 7.7 .3-1.4 .3 6.9 .3-1.2 .3 5.9 .3-1.3 .3 6.9 .3-1.6 .3 6.6 .3-1.2 .3 7.2 .3-1.4 .3 6.6 .3-1 .3 6.7 .3-1.4 .3 6 .3-.4 .3 6.7 .3-1.2"/>
<rect class="ax" x="1237.5" y="454.7" width="1049.9" height="340.7"/>
<path class="tk" d="M1500 795.4v-10.5M1500 454.7v10.5M1762.5 795.4v-10.5M1762.5 454.7v10.5M2024.9 795.4v-10.5M2024.9 454.7v10.5M1237.5 625h10.5M2287.4 625h-10.5M1237.5 454.7h10.5M1237.5 795.4h10.5M2287.4 454.7h-10.5M2287.4 795.4h-10.5M1237.5 454.7v10.5M1237.5 795.4v-10.5M2287.4 454.7v10.5M2287.4 795.4v-10.5"/>
</g>
<g id="ax-JAP">
<path class="d" clip-path="url(#c4)" d="M70.5 1106.3l.3 35 .3-61.1 .3-3.5 .3-74.6 .3-109.6 0 306.8 .3-127.2 .3-51.4 .3-75.1 .3 41.4 .3-36 .3 38.2 .3 46 .3 .3 .3-14.1 .3 10.5 .3-139.4 0 306.8 .3-128.8 .3-49.8 .3 3.6 .3-73.3 .3 33.3 .3 5.2 .3 64.3 .3-37.3 .3 39.4 .3-163.4 0 306.8 .3-129.7 .3 18.5 .3-10.2 .3-86.3 .3 19.7 .3 27.3 .3-36 .3-18.1 .3 61.5 .3-153.5 0 306.8 .3-159.9 .3 3.9 .3 59.3 .3-7.4 .3 2.7 .3-78.9 .3 30.8 .3 5.9 .3-38.6 .3 182.2 0-306.8 .3 143.2 .3 .3 .3 3.2 .3-10.5 .3-10 .3-116.9 .3-9.3 .3 0 .3 0 .3 0 .3 0 .3 3.3 .3 13 .3 10 .3 14.5 .3 23.5 .3 .2 .3-21.3 .3-10.3 .3 26 .3 33.7 .3 12.2 .3-11.8 .3 1.6 .3-7.5 .3 40.6 .3-7.8 .3 17.4 .3 6.8 .3 7.3 .3 16.6 .3 4.3 .3 3.7 .3-9.7 .3-26 .3 30.1 .3-20.4 .3-33.3 .3 16.7 .3 26.5 .3-42.3 .3 48.2 .3-165.8 0 306.8 .3-159.5 .3 27.8 .3-5.6 .3 20.8 .3-19.6 .3 34.9 .3 101.2 0-306.8 .3 143.9 .3 28.7 .3-61.4 .3 14.5 .3-4.6 .3 24.9 .3-7.1 .3 36.3 .3 .6 .3-15.1 .3 13.7 .3-.5 .3-86 .3 3.2 .3-27.8 .3 62.5 .3 5.9 .3 3 .3-9.2 .3-14 .3-8.6 .3 38.3 .3-15.7 .3 35.9 .3-39 .3 12.5 .3-33.9 .3 14.3 .3-39.5 .3 43.8 .3 6.6 .3 39 .3-46 .3 12.6 .3 3.2 .3 10.2 .3-29.9 .3 .3 .3 1.8 .3 40 .3-6 .3-54.6 .3-31.8 .3 69.7 .3-52.7 .3 29.9 .3-48.4 .3 46 .3 36.1 .3-23.1 .3-32.3 .3 2.7 .3 21.7 .3 13.9 .3 27.6 .3-38.7 .3-15.3 .3 37.5 .3 .5 .3 5.7 .3-34.2 .3-34.4 .3-4.2 .3 13.5 .3 41.1 .3-.1 .3-30.2 .3 30.1 .3-59.3 .3-14.9 .3 22.3 .3-12.5 .3-1.2 .3 54.4 .3-51 .3-11.9 .3 1.1 .3-14.7 .3-21.4 .3 60.6 .3-8.7 .3 69.7 .3-45.1 .3-13.2 .3-10.9 .3 19.9 .3 22.1 .3 42.5 .3 63.5 .3-5.4 .3-12.7 .3 6 .3-14.9 .3-42.2 .3 19.6 .3-32.4 .3 24 .3-18.7 .3 16.4 .3-15.8 .3-17.8 .3 20.3 .3 7.3 .3 61.3 .3-39.9 .3 133 0-306.8 .3 193.4 .3-34.7 .3-2.1 .3-69 .3 105.1 .3 1.2 .3 27.7 .3-58.8 .3 115.8 .3-77.3 .3 21.3 .3-79.3 .3 18.5 .3-43.1 .3-44 .3 29.5 .3 40.4 .3 3.1 .3 5.5 .3-58.6 .3 30.3 .3-52.3 .3 22.8 .3-46.9 .3-26.4 .3 16.4 .3 103.1 .3 165.2 0-306.8 .3 190.9 .3-35.4 .3-83.2 .3 112.8 .3-70.1 .3 49.6 .3-49.3 .3 99.4 .3-4.4 .3 13.2 .3-59.6 .3-8.6 .3-50.9 .3 40.5 .3 161.9 0-306.8 .3 132.2 .3 29 .3-135.6 .3 103.2 .3-3.4 .3 43.7 .3-37.6 .3 40.1 .3 135.2 0-306.8 .3 89.5 .3-50.7 .3-17 .3 28.9 .3-12.4 .3 26.9 .3 15.1 .3 67.2 .3 5.6 .3 4.4 .3-14.2 .3-.3 .3-92.8 .3 105.1 .3-25 .3 3.9 .3-101.4 .3 82.1 .3-89.9 .3 78.2 .3-103.2 .3 0 .3 0 .3 26.3 .3-18.6 .3 46.3 .3-38.5 .3 33.5 .3-6.1 .3 263.9 0-306.8 .3 0 .3 0 .3 29 .3 32.8 .3 55.9 .3 43.7 .3 47.1 .3-49.5 .3 85.9 .3-34.8 .3 15.7 .3-81 .3 20.1 .3-56.3 .3 38.9 .3-26.4 .3-24.7 .3 4.2 .3 44.7 .3-5.1 .3-46.4 .3-58.5 .3 37.4 .3-17.4 .3 153.9 .3 97.6 0-306.8 .3 249.8 .3-15 .3-26.9 .3 9.4 .3 4 .3-13.4 .3-117.8 .3 98.6 .3-45.4 .3-16.9 .3-29.2 .3 52.6 .3-29.8 .3 48.5 .3-54.6 .3 192.9 0-306.8 .3 116.1 .3-11.5 .3-1 .3 24.1 .3 22.8 .3-12.6 .3 71.2 .3-24.6 .3 74.3 .3-12.8 .3-11.7 .3-55.6 .3 128.1 .3-38.8 .3 38.8 .3 0 .3-7.2 .3-107.3 .3 23.9 .3-35.8 .3 18.5 .3 106.9 .3 1 .3 0 .3 0 .3-306.8 0 306.8 .3-1.6 .3-44 .3 10.9 .3 34.7 .3 0 .3 0 .3-39.8 .3 39.1 .3-69.4 .3 56.4 .3-81.5 .3 48.6 .3-260.2 0 306.8 .3-103.1 .3-84.3 .3-85.5 .3 6.1 .3-2.6 .3 32.9 .3-16.3 .3-7.9 .3 18 .3 46.8 .3 2.2 .3 52.9 .3-47.2 .3 55.8 .3-15.9 .3 27.1 .3-71.8 .3 64 .3-11.2 .3-13.6 .3 41.7 .3 69.3 .3-31 .3-14.2 .3-17 .3-4.1 .3-49.3 .3-148.6 0 306.8 .3 0 .3-26.1 .3-37.8 .3-77.2 .3 52.4 .3-18.4 .3-47.9 .3 4.3 .3-18.7 .3-5.7 .3 30.9 .3-84.9 .3 68 .3-30.6 .3 75.2 .3-72.8 .3 115.3 .3-4.4 .3-3.1 .3-88 .3-17.3 .3-43.9 .3 131.9 .3 61.5 .3 37.3 0-306.8 .3 170.6 .3-19.6 .3 33.9 .3-40.7 .3 129.6 .3-28.8 .3-14 .3-95.8 .3 91.8 .3-114.2 .3-31.5 .3-77.6 .3 80.5 .3 .6 .3 42.1 .3-64.7 .3 9.9 .3 11.8 .3 37.7 .3-32.4 .3 217.6 0-306.8 .3 204.1 .3-60.2 .3 63.5 .3-24.1 .3 43.5 .3 23 .3 12.7 .3-39.6 .3 83.9 .3-14.6 .3 14.6 .3-102.7 .3-204.1 0 306.8 .3-134.3 .3-89.9 .3 37.4 .3-9.1 .3 34.7 .3-112.4 .3 63.7 .3-72.6 .3 89.4 .3-23.4 .3 12.6 .3-102.9 .3 112.6 .3-35.2 .3-6.6 .3 70.2 .3 16.7 .3-20.7 .3 44.4 .3-55.3 .3 30.7 .3 35.6 .3 10.6 .3 103.8 0-306.8 .3 80.9 .3 51.3 .3 1.9 .3 2.8 .3 11.5 .3-33.3 .3 23.8 .3 69 .3-23.2 .3 6.3 .3-191 0 306.8 .3-99.7 .3 99.7 .3-54.9 .3 7 .3-98.3 .3-33.7 .3-52.8 .3-21.9 .3-52.2 .3 2.1 .3 30.7 .3 64 .3-18 .3-15.2 .3-23 .3 72.2 .3-92.4 .3-5.1 .3-15.3 .3 8.8 .3 .7 .3 82.1 .3-59.4 .3 51.4 .3 4.8 .3 14.4 .3-79.7 .3 26.7 .3-46 .3 55.2 .3-49.3 .3 109.7 .3-40.1 .3-79.3 0 306.8 .3-270 .3-36.8 .3 14.1 .3 52.6 .3 104.4 .3 45.9 .3 12.3 .3-38 .3-10.7 .3-45.9 .3-18.5 .3 23.7 .3 54.1 .3-16.6 .3-6.6 .3-10.4 .3-39.6 .3-17.8 .3 125.9 .3-44.1 .3-11.5 .3 133.5 0-306.8 .3 102.4 .3 92.9 .3-117.8 .3 13.9 .3-46.2 .3 126.7 .3-90 .3 49.8 .3 11.4 .3-43.1 .3-54.3 .3 59.1 .3-36.9 .3 125.4 .3-70 .3 19.3 .3-6.3 .3 26.1 .3-11.5 .3 9.4 .3-89.8 .3 71.2 .3-31.1 .3 65.8 .3-87.1 .3 90 .3 127.5 0-306.8 .3 121.6 .3 74.2 .3-53.1 .3-26.8 .3-115.9 0 306.8 .3-107.6 .3 55.4 .3 19 .3 33.2 .3-26.3 .3 26.3 .3-306.8 0 306.8 .3 0 .3 0 .3-34.9 .3 34.9 .3-14.7 .3 14.7 .3-28.8 .3 28.8 .3-63 .3 24.6 .3-123.6 .3 24.2 .3-69.5 .3 207.3 0-306.8 .3 140.9 .3-87.6 .3-10.1 .3-43.2 .3 8.4 .3-8.4 .3 49.7 .3 39.2 .3 217.9 0-306.8 .3 181.2 .3-39.7 .3 73.9 .3-54.8 .3 90.4 .3-59.8 .3 39.1 .3-44.3 .3 22.4 .3-54.2 .3 8.7 .3-119 .3 15.8 .3 41.4 .3-101.1 0 306.8 .3-230.7 .3-46 .3-2.2 .3-15.7 .3 38 .3-19.4 .3 102 .3-87.5 .3-7.9 .3-25.8 .3 30.9 .3 80.1 .3-20.5 .3 17.4 .3-52.6 .3-38.6 .3 143 .3 2.9 .3 29.6 .3 8.7 .3 31.6 .3-3.7 .3 66.4 0-306.8 .3 219.9 .3-28.8 .3 66.9 .3-21.4 .3-29.3 .3-140.1 .3-29.9 .3-8.5 .3 98 .3 18.4 .3 15.4 .3 6.1 .3-17.6 .3-6.4 .3-19 .3 13.8 .3 21.6 .3-16.6 .3-7.3 .3-11.4 .3-59.7 .3-64.1 .3 19.5 .3-11.7 .3 168.3 .3-24.4 .3 49.8 .3-80.7 .3 186 0-306.8 .3 211.7 .3-17.3 .3-25.2 .3 11.5 .3-78 .3-102.7 0 306.8 .3-294.4 .3 58.5 .3-70.9 .3 94.6 .3-64.2 .3 45 .3-27.3 .3 50.3 .3-47.2 .3 42.6 .3-16.7 .3 134.8 .3-87.6 .3 150.8 .3-21.8 .3-6.7 .3-147.4 .3 122.1 .3-85.8 .3 35.8 .3-73.2 .3 1.7 .3 67.5 .3 83.8 .3-251.1 0 306.8 .3-118.2 .3-42.3 .3-33 .3 28.5 .3-97.6 .3 85.7 .3-129.9 0 306.8 .3-213.3 .3 6 .3-51.3 .3 67.9 .3 2.5 .3 26.2 .3-1.7 .3 23.2 .3 5.3 .3 45.5 .3-106.7 .3-27.1 .3-83.3 .3 0 .3 0 .3 0 .3 0 .3 29.3 .3-29.3 .3 0 .3 0 .3 16.9 .3-16.9 .3 0 .3 0 .3 47.2 .3-3.4 .3 263 0-306.8 .3 94.7 .3 8 .3-1.9 .3 13.2 .3-5.7 .3-.1 .3-12.5 .3-38.9 .3 20.1 .3-50.9 .3 74 .3 61.3 .3 25 .3-106.1 .3 59.1 .3-41 .3 56 .3-.2 .3-36.3 .3-11 .3-37.2 .3 27.4 .3-23.5 .3 6.7 .3 25.6 .3-49.1 .3 31.5 .3-55.5 .3 101.3 .3-51.9 .3-82.1 0 306.8 .3-205.2 .3-81.7 .3 82 .3-35.7 .3 25.9 .3 44.6 .3 86.5 .3-58.4 .3 79.9 .3-3.2 .3-82.8 .3-114.1 .3 48.1 .3 16.9 .3 103.4 .3-45.7 .3 2.7 .3 111.3 .3 25.5 .3-91 .3 49.9 .3-55.1 .3 31.1 .3-79.8 .3 41.8 .3 103.1 0-306.8 .3 214.4 .3-7.3 .3 60.7 .3-19.1 .3-28.5 .3-17.6 .3-61.5 .3-13.6 .3-7.1 .3 9.1 .3-12.7 .3 22.3 .3-137.9 .3-1.2 0 306.8 .3-192 .3 28.8 .3-14.5 .3-30.8 .3 41 .3-85.9 .3-20.6 .3-32.8 .3 3.7 .3-1.6 .3 55.9 .3-58 .3 .5 .3-.5 .3 306.8 0-306.8 .3 187.8 .3-35.3 .3 44.8 .3-58 .3 84.9 .3 22.8 .3-30.6 .3-100.9 .3 68.2 .3-19 .3 59.4 .3-129.3 .3-28.4 .3 14.8 .3-15.1 .3-27.2 .3 51.5 .3-59 .3-4.1 .3 3.2 .3 49.6 .3-27.1 .3 13.9 .3-54.9 .3 23.7 .3-35.7 0 306.8 .3-235 .3 86.3 .3-139.9 .3 75.8 .3-37.1 .3 52.8 .3-51.5 .3 79.6 .3-42.9 .3-29.7 .3-31.4 .3 24.3 .3-32.6 .3 16.7 .3-42.2 .3 3.4 .3-3.4 .3 8 .3-8 .3 0 .3 0 .3 54.3 .3-38.3 .3 97.2 .3 30.2 .3-3.6 .3-43.6 .3 72.3 .3-14.3 .3 5.4 .3 147.2 0-306.8 .3 231.3 .3 57.6 .3-77.4 .3-76.3 .3-53.1 .3 105.5 .3 119.2 0-306.8 .3 159.7 .3 49.1 .3-24.1 .3 71.9 .3-68.6 .3 2.8 .3-101.6 .3 122.5 .3-128.4 .3 27.2 .3-45.4 .3 241.7 0-306.8 .3 169.2 .3-32.5 .3 30.3 .3-93.8 .3 0 .3-42.1 .3 77.4 .3-34.8 .3 81.9 .3-115.7 .3 101.3 .3-4.6 .3 46 .3-39.9 .3 96.4 .3 25.5 .3 42.2 .3 0 .3 0 .3-80.6 .3 80.6 .3-97.6 .3 40.9 .3-133.7 .3 89.9 .3-47.3 .3 30 .3 23.8 .3 59 .3 1.6 .3-49.6 .3-83 .3 33.2 .3-5 .3 34.8 .3-38.6 .3-43.1 .3 52.8 .3 4.5 .3-68 .3-56.5 .3-14.5 .3 87.7 .3-5.6 .3 29.1 .3-42.7 .3 47.3 .3-25.1 .3 15.9 .3-22.5 .3 25.8 .3-24.7 .3 32.2 .3-53.8 .3 57.3 .3-31.1 .3-73.1 .3 34.3 .3 32.6 .3 20.9 .3 33.2 .3 78 .3-37.5 .3-59.3 .3 82.1 .3-40.4 .3 73.4 .3 13 .3-11.4 .3-110.4 .3 58.5 .3 71.2 .3 11.5 .3 0 .3-22.1 .3 6.4 .3 15.7 .3-15.6 .3-4.1 .3-108.5 .3-11.4 .3-18.9 .3 2.6 .3-144.5 .3 18.6 .3 58 .3 65.8 .3-13.4 .3-66.7 .3 47.4 .3 25.7 .3 22.9 .3 30.8 .3 23.6 .3-11.5 .3-91.5 .3 46.7 .3 17.1 .3-49.9 .3-55.5 .3 81 .3-67.8 .3-67.8 .3-10.3 .3 19.4 .3 76.3 .3 63.9 .3-19.8 .3 25.2 .3-24.1 .3 4 .3-46.2 .3-77.1 .3-31.2 .3 49.5 .3 58.2 .3 152.4 .3 8.7 .3-55.6 .3 18.6 .3 18.3 .3-158.6 .3 55.6 .3 41.6 .3-157.9 .3 5.6 .3-23.2 .3-13.2 .3 17.7 .3 25.6 .3 98.8 .3-27.2 .3 75.9 .3-81.2 .3 21.7 .3 68.8 .3-63.6 .3-14.8 .3-14.3 .3 8.7 .3-6.3 .3-68 .3 41.2 .3 103.8 .3 117.6 .3-26.1 .3 28.5 .3-38.9 .3 38.9 .3 0 .3 0 .3-26.4 .3-4.4 .3-74.5 .3 10.4 .3 23.9 .3 20.2 .3 23.5 .3-28.3 .3 30.6 .3 18.3 .3-71.8 .3-73.5 .3-43.6 .3 49.9 .3-5.2 .3 40.3 .3 24.3 .3 15.5 .3-18.1 .3-.7 .3-81.4 .3-.8 .3 .3 .3 121.5 .3-54.4 .3-4.3 .3-111.5 .3 41.5 .3 178.7 0-306.8 .3 113.4 .3 23.6 .3-54.9 .3 54.6 .3-43.6 .3-14.9 .3-28 .3 2.3 .3-22 .3 53.6 .3-84.1 .3 35.3 .3 14.3 .3 139.3 .3-8.8 .3-8.7 .3-76.6 .3 76.6 .3-90.9 .3 36 .3 4.9 .3 51.1 .3-44.7 .3 68.3 .3 22.6 .3-15.6 .3-93.7 .3-39.8 .3-4.1 .3 128.1 .3-75.9 .3-117.7 0 306.8 .3-37.7 .3-56 .3 86.6 .3-40.4 .3 20.2 .3 17.5 .3 9.8 .3-1.9 .3 1.9 .3 0 .3 0 .3 0 .3-8.8 .3-58.1 .3-73.9 .3-17.5 .3 89.1 .3 33.1 .3-14.4 .3-37.5 .3-47 .3-171.8 0 306.8 .3-133.8 .3 57.1 .3-78 .3 43.6 .3 22 .3 21.9 .3-70.4 .3 71.2 .3 15 .3-9.9 .3-70.5 .3 9.1 .3 9.5 .3 47.7 .3-102.5 .3 79 .3-26.9 .3 39.4 .3 5.8 .3 70.7 .3 0 .3 0 .3 0 .3 0 .3 0 .3-31.7 .3-21.1 .3 27.8 .3-87.2 .3 32.2 .3-16.3 .3-6.6 .3 10 .3-213.9 0 306.8 .3-117.1 .3-81.2 .3-12 .3-59 .3 3.9 .3-1.5 .3 32.3 .3 4.8 .3 50 .3 14.9 .3 49.9 .3-37.7 .3 38.7 .3-88.5 .3 64.2 .3-109.3 .3-4.4 .3-5.4 .3 68 .3-63.1 .3-54.3 0 306.8 .3-261.5 .3-21.9 .3-23.4 .3 16 .3 72.5 .3 11.8 .3 49.2 .3 15.7 .3 43.3 .3-2.9 .3 24.3 .3-119.6 .3 144.8 .3-45.9 .3-9.7 .3-199.5 0 306.8 .3-206 .3 17 .3-104.7 .3 17.7 .3-30.8 .3 30.5 .3 92.8 .3-123.3 0 306.8 .3-157.4 .3-66.5 .3 41.2 .3-28.2 .3-51.3 .3 25.4 .3 37.5 .3-35.3 .3 51.3 .3-.6 .3 26.7 .3-61.5 .3 104 .3-59.7 .3-6.1 .3 18.8 .3-6.9 .3 13.4 .3-1.7 .3-57.6 .3 44.2 .3 15.2 .3 9.2 .3-80.9 .3 66.9 .3-67.7 .3 23.3 .3-102.5 .3 27.8 .3-27.8 .3 27.6 .3-27.6 0 306.8 .3-302.9 .3-3.9 .3 0 .3 0 .3 0 .3 0 .3 0 .3 0 .3 0 .3 145.6 .3 14.9 .3 38.4 .3 11.2 .3-5.8 .3-29.3 .3 81.8 .3 .2 .3-23.6 .3-3.2 .3 18.9 .3-81.3 .3 123.4 .3-18.6 .3 34.2 0-306.8 .3 281.2 .3-129.7 .3 80.7 .3-27.6 .3 13.5 .3-19.8 .3 108.5 .3 0 .3 0 .3-72 .3-234.8 0 306.8 .3-114.2 .3-14.4 .3 3.5 .3-10.2 .3 49.1 .3-92.2 .3 77 .3-18.9 .3 37.3 .3-12.1 .3-12.4 .3 9.7 .3 3.3 .3-38.4 .3 81.6 .3-129.1 .3 39.9 .3 15.2 .3-13.9 .3-55.5 .3 64.3 .3-3 .3-16.9 .3-42.5 .3-5.7 .3 48.1 .3 150.4 0-306.8 .3 49 .3 66.4 .3 106.8 .3-89.4 .3 68.3 .3-30.4 .3 59.4 .3-4.1 .3-54.9 .3 18.4 .3-7.3 .3-99 .3 63.1 .3 160.5 0-306.8 .3 138.8 .3 118.8 .3 3.3 .3-52.4 .3-47.3 .3 46.4 .3-12.3 .3-42.5 .3 8.6 .3 12.3 .3-55.2 .3 7.4 .3-112.6 .3 64.6 .3 24.8 .3-102.7 0 306.8 .3-88.9 .3 44.9 .3 3.2 .3-68.1 .3-58.2 .3-61.3 .3 228.4 0-306.8 .3 71.3 .3-25.2 .3 10.1 .3-33 .3 33.2 .3-12.8 .3 4.4 .3 8.6 .3 142.5 .3-8.1 .3 32.8 .3 53.7 .3 20.6 .3-32.3 .3-79.4 .3-13.3 .3 33.8 .3-64.2 .3 55.5 .3-26.9 .3-18.5 .3-58.9 .3 127.8 .3 3.4 .3 34.7 .3 7.5 .3-60.2 .3-72.9 .3-48.7 .3-6.9 .3-2.5 .3-76.1 0 306.8 .3-143.4 .3 80.2 .3-108.1 .3-27.5 .3-78.8 .3 74.2 .3-103.4 .3 69.1 .3 56.2 .3 29.4 .3 21.6 .3 88.5 .3-35.6 .3 35.1 .3-43.2 .3 22.1 .3-80.4 .3-162.8 0 306.8 .3-195.7 .3-41.5 .3 42.7 .3 62.4 .3 17.3 .3-35.6 .3 8.9 .3 17.3 .3 43 .3-40.7 .3 45.8 .3-106.6 .3 82.4 .3-96.4 .3 34.1 .3-67.4 .3 230 0-306.8 .3 206.3 .3-30.6 .3-4.6 .3-12.5 .3 71.6 .3-28.4 .3 25.1 .3 28.5 .3 42.9 .3-31.5 .3 23.5 .3-96.7 .3 44.2 .3-61.5 .3-8.1 .3-30.1 .3 168.7 0-306.8 .3 130.1 .3 29 .3-23.3 .3-82.8 .3 52.8 .3-87.5 .3 108.7 .3-40.6 .3 101.5 .3 4.5 .3 79.8 .3 3.8 .3 28.4 .3-84.2 .3 1.8 .3-77.6 .3 134 .3-115.8 .3 33.6 .3-6.3 .3 42.7 .3-55 .3 129.2 .3-110.4 .3 77.9 .3 19.7 .3 12.8 .3-115.7 .3 4.9 .3-79.8 .3 120.4 .3-236.6 0 306.8 .3-149.3 .3 31.9 .3-10.8 .3-2.6 .3 26 .3 33.3 .3-45.8 .3 78.7 .3-4.8 .3-110.5 .3-89.4 .3 116.2 .3-26.4 .3 61.9 .3-58.3 .3 36.7 .3-55.7 .3 39.3 .3 77.3 .3 44.5 .3 7.8 .3 0 .3 0 .3 0 .3 0 .3 0 0-306.8 .3 266.2 .3-39 .3-41.5 .3-3.1 .3 1.1 .3-50.8 .3 97.1 .3-47 .3 59.6 .3-23.1 .3 13.8 .3 28.6 .3 10 .3-117.8 .3 129.6 .3-103.8 .3 13.7 .3-1 .3 114.2 0-306.8 .3 306.8 .3 0 .3 0 .3 0 .3 0 .3-6 .3-25.7 .3-126 .3 157.7 0-306.8 .3 163.5 .3 11.6 .3 25.1 .3-108.5 .3 150.1 .3-132.1 .3-11.6 .3 4.4 .3 12.4 .3-114.9 .3 0 .3 0 .3 0 .3 0 .3 24 .3-14 .3 134 .3-31.4 .3 19.6 .3 21.4 .3 42.7 .3-79.1 .3-117.2 0 306.8 .3-238.7 .3-32.5 .3 95.6 .3-7.8 .3-20.9 .3-40.4 .3-22 .3-34 .3 24.7 .3-30.8 .3 0 .3 0 0 306.8 .3-304.5 .3 132.2 .3-.3 .3 28.9 .3-37.3 .3-125.8 0 306.8 .3-162.2 .3-55.2 .3 43.8 .3-111.2 .3 29.8 .3-28 .3 57.9 .3 2.3 .3 49.5 .3-9.7 .3-41.5 .3-18.8 .3 146.9 .3-79.1 .3 13.4 .3-71.1 .3 58.7 .3-132.3 0 306.8 .3-51.3 .3-19.9 .3-72.2 .3 7.4 .3 2 .3-17.1 .3-71.6 .3 127.7 .3-126.5 .3 107.6 .3-20 .3-114.7 .3 18.8 .3 46.6 .3-77.9 .3 21.5 .3-67.2 0 306.8 .3-143.2 .3 9.1 .3-106.5 .3-1.1 .3 79.5 .3 68.5 .3-213.1 0 306.8 .3-79.5 .3-25.7 .3-46.8 .3 43.7 .3-12.4 .3 28.3 .3-133.3 .3 29.2 .3-39.1 .3 67.5 .3-50.5 .3 9.5 .3-39.8 .3-14.6 .3-15.5 .3 56.2 .3-33.2 .3 21.7 .3 2.7 .3 41.8 .3 36.2 .3-20.4 .3 20.5 .3 90.3 .3-115.8 .3 6.1 .3-97.3 .3 41.5 .3 .5 .3 228.2 0-306.8 .3 198.6 .3 32.3 .3-27.8 .3 27.4 .3 46.3 .3-83.9 .3-25 .3-80.9 .3 32.3 .3-50.3 .3 2.1 .3-39.2 .3-31.9 0 306.8 .3-70.4 .3-71.8 .3-80.4 .3-18.9 .3 104.9 .3-39 .3 85.5 .3-14.9 .3 32.4 .3-29.7 .3 44.9 .3-6 .3 63.4 .3-51.1 .3 2.2 .3-35 .3 83.9 0-306.8 .3 212.2 .3-84.7 .3 37.4 .3 34.4 .3-22.7 .3-94.6 .3 25.8 .3-29.1 .3 12.7 .3-91.4 .3 79.3 .3-74.6 .3 57.5 .3 69.6 .3-45.1 .3-12.4 .3 232.5 0-306.8 .3 248.7 .3-52 .3 45.9 .3-39.9 .3 31.3 .3 18.4 .3 54.4 .3 0 .3-21.8 .3-56.5 .3-19 .3-49.8 .3 70.7 .3-70.9 .3 48.3 .3-93.8 .3 28.3 .3-19.5 .3 78.8 .3-77.8 .3 66.5 .3 8.7 .3-7.4 .3-104.4 .3 26.1 .3-20.9 .3 75.7 .3 138.7 0-306.8 .3 155 .3 102.3 .3-71.2 .3 49.5 .3-31 .3 25.4 .3-3.4 .3 80.2 .3-38.7 .3-19.6 .3-19.5 .3 37.3 .3-104.4 .3 39.7 .3-102.2 .3 13.4 .3 30.7 .3-2.9 .3 6.6 .3 29 .3-27.9 .3 35.3 .3-14.8 .3-13.2 .3 35.2 .3-9.7 .3-41 .3 166.7 0-306.8 .3 146.6 .3 19.8 .3-74.5 .3-53.4 .3 68.3 .3 7 .3-8.5 .3 6.1 .3-21.5 .3-17.6 .3 96.5 .3-57.5 .3 81.2 .3-.4 .3-192.1 0 306.8 .3-84.8 .3-57.8 .3 3.7 .3 20.5 .3-188.4 0 306.8 .3-32.4 .3-79.6 .3 37.2 .3-107.7 .3 24 .3 158.5 0-306.8 .3 117.5 .3 63.5 .3-29.8 .3-55.2 .3-12.2 .3 85.1 .3-65 .3 25.7 .3 49.1 .3 30.7 .3-34.1 .3 5.6 .3 11.5 .3 13.7 .3-206.1 0 306.8 .3-101.4 .3 82.1 .3-121.7 .3 139 .3-76.8 .3 9.8 .3-69.3 .3-88.7 .3 33.6 .3 66.2 .3-88.3 .3 91.2 .3-14.6 .3 43.5 .3-115.6 .3 42.1 .3 77.3 .3-22.1 .3-193.1 0 306.8 .3-36.8 .3-25.3 .3 2.5 .3 48.9 .3-66.3 .3 28.9 .3-77.4 .3 45.7 .3-99.1 .3 14.3 .3 132.8 .3 2.7 .3-87.6 .3 43.2 .3-86.3 .3-46.5 .3-100.5 .3 102.7 .3-29.9 .3 29.4 .3-24.4 .3-56.3 .3 7.9 .3 71.3 .3-40.4 .3 82 .3-93.2 .3-49.1 0 306.8 .3-229 .3-77.8 .3 43.3 .3-28.9 .3 47.7 .3-3.2 .3 124.5 .3-5.2 .3 51.5 .3-26.6 .3 39 .3-76.1 .3 53.6 .3-84.4 .3 98.7 .3-56.5 .3 114.7 .3-104.5 .3 58.1 .3 41.4 .3-32.6 .3-1.8 .3 54.1 .3 0 .3-46.1 .3 41.8 .3 4.3 .3-36.6 .3-10.5 .3-259.7 0 306.8 .3-99.5 .3-24.4 .3 8.4 .3 10.3 .3-89.2 .3-16.1 .3-2.1 .3 59.1 .3-70.6 .3 1.7 .3-54.5 .3 68.8 .3-35 .3-63.7 0 306.8 .3-192.4 .3 61.2 .3-16.8 .3-97.2 .3-34.3 .3-27.3 .3 49.5 .3-49.5 .3 60.3 .3-33.4 .3 22.5 .3 27 .3 49.6 .3 180.8 0-306.8 .3 57.5 .3 71.6 .3-16.5 .3 150.2 .3-84.3 .3 94 .3-29.1 .3 63.4 .3-63.9 .3-17.3 .3-132.2 .3 113 .3-120.3 .3-4 .3-27.5 .3 20.3 .3-9 .3 95.9 .3-41.9 .3 109 .3-34.8 .3 24.9 .3 2.3 .3 34.7 .3-53.6 .3-30.5 .3-78.9 .3 61.4 .3-154.4 0 306.8 .3-142.3 .3 27.2 .3 5.5 .3-24.1 .3-22.7 .3 77.5 .3-60.1 .3 96.4 .3-106.7 .3 3 .3-65.6 .3 85.5 .3 22.1 .3 46.4 .3-49.2 .3-3.3 .3-14.9 .3 75.5 .3-257 0 306.8 .3-147.7 .3 39.5 .3 21.2 .3 47.6 .3-76.5 .3 5.3 .3-60.9 .3 56.5 .3 29.1 .3-8.3 .3-42.5 .3 34.3 .3-62.8 .3 12.7 .3-50.1 .3 53.1 .3-9 .3 8.1 .3-75.7 .3 35.6 .3 133.7 .3 56.8 .3-94.7 .3-3.4 .3-8.1 .3-2.4 .3-32.6 .3 19.8 .3-3 .3-40.7 .3-41.4 .3 53.7 .3-66.7 .3 63.1 .3-10.7 .3-40.6 .3-3.8 .3 5.6 .3 39.6 .3-29.9 .3 34.4 .3-2 .3-8 .3 32.6 .3 15.7 .3-3.9 .3 60 .3-38.5 .3-57.3 .3-1.5 .3-2.6 .3-11.5 .3-3.1 .3 22.4 .3-34.9 .3-18.8 .3 1.8 .3 14.2 .3-37.7 .3-11.1 .3 43.9 .3 30.1 .3-83.7 .3 33.8 .3 28.6 .3-2.8 .3-10.2 .3 16.4 .3-35.9 .3 13.8 .3-63.8 .3 19.1 .3-20.6 .3 10.8 .3 37.8 .3 80.6 .3-2.2 .3 60.4 .3 11.8 .3-31 .3 31.3 .3-84.2 .3-108.3 .3-9 .3-12.4 .3 86.8 .3 115 .3 74.4 .3-57.6 .3-40.2 .3-78.7 .3 67.8 .3-52.8 .3 142.8 .3-72.6 .3 53.9 .3-95.9 .3 45.5 .3-203.5 0 306.8 .3-281.7 .3 100.7 .3 25.6 .3 53.6 .3-32 .3 39.5 .3-106.7 .3 131.6 .3-25.7 .3-24.4 .3-18.4 .3 47.2 .3-55.7 .3 77 .3-71 .3-52.1 .3-55.8 .3-15.6 .3-16.1 .3-4.2 .3-3.9 .3-18.7 0 306.8 .3-70.1 .3-98.6 .3 46.7 .3 19.4 .3 71.7 .3-53.3 .3 66.4 .3-49.9 .3 14.2 .3 24.3 .3 29.2 .3 0 .3 0 .3 0 .3 0 .3-55.3 .3-251.5 0 306.8 .3-85.7 .3-36.1 .3 27.5 .3-162.7 .3 59.7 .3 197.3 0-306.8 .3 151.8 .3 24.1 .3-93.1 .3 16.3 .3-32.6 .3 11.6 .3-38.7 .3 25.4 .3-34.3 .3 10.6 .3-41.1 .3 0 .3 41.9 .3 22.9 .3 13.7 .3 38.2 .3-116.7 .3 35.4 .3 10 .3 25.1 .3-45 .3-12.9 .3-12.6 .3 0 .3 0 .3 24.7 .3 47 .3 55.2 .3 44.3 .3 135.6 0-306.8 .3 203.5 .3-24 .3 38.3 .3-66.7 .3 37.6 .3-44.9 .3 4 .3-135.6 .3 145.3 .3 149.3 0-306.8 .3 135.6 .3-29.8 .3 2.3 .3 7.6 .3-87.7 .3 87.3 .3-37.3 .3 90.5 .3-25.5 .3 48 .3-77.5 .3-85.9 .3-27.6 .3 69.9 .3-5.3 .3-12.1 .3-13.8 .3 86.6 .3-125.3 .3 11.3 .3-11.3 .3 30 .3-18.7 .3 88.6 .3 16.7 .3-25.9 .3 60.5 .3 26.6 .3 24.8 .3 57.4 .3-154.9 .3-105.1 0 306.8 .3-84.6 .3-72.3 .3 83.9 .3-35.9 .3-7.9 .3-28.8 .3-49.9 .3-5.9 .3 52 .3-42.9 .3 99.7 .3-19.6 .3 89.8 .3-23 .3 35.2 .3-90.3 .3-23.7 .3-26 .3 5.9 .3-92.7 .3-2.3 .3-44.4 .3-23.1 .3 0 .3 132.8 .3-15 .3 11.8 .3-39.4 .3-51.8 .3 5.9 .3-44.3 0 306.8 .3-221.5 .3-1.5 .3 57 .3 13.7 .3 104.6 .3-4.7 .3-23.3 .3-64.4 .3 93 .3-57.1 .3 53 .3-91.7 .3 91.6 .3-35.1 .3-19.3 .3-9.1 .3-6.8 .3-55.3 .3 58.3 .3-11.7 .3 37.6 .3-70.4 .3 24.6 .3 66.6 .3 20.7 .3-12.4 .3 63.6 .3-306.8 0 306.8 .3-88.9 .3 88.9 .3-6.8 .3-3 .3-90.3 .3 57.3 .3-57.1 .3-22.1 .3-25.4 .3 56.3 .3-69.3 .3 44.3 .3-76.6 .3 59.3 .3-24 .3 98.3 .3-91.9 .3-58.1 .3 75.4 .3 81.3 .3-31.9 .3 40.3 .3-26.8 .3 7 .3 63.8 0-306.8 .3 166 .3 1 .3 6.2 .3 17.1 .3-45.5 .3 54.9 .3-41.3 .3-9.2 .3-104.2 .3 61.1 .3 23 .3-95.7 .3-24.3 .3 29.7 .3 10 .3 54.5 .3 203.5 0-306.8 .3 38.6 .3 102 .3-66.4 .3 21.5 .3-34.3 .3 31.1 .3-34.4 .3-12.2 .3-40.5 .3 60.8 .3 50.8 .3-50.5 .3 240.3 0-306.8 .3 85.9 .3 46.6 .3-23.3 .3 93 .3-7 .3 14.6 .3 97 0-306.8 .3 287.8 .3-6.9 .3-60.9 .3 33.9 .3-25.4 .3-77.3 .3-43.7 .3 52.9 .3-27.5 .3 61.9 .3 18.7 .3-50.1 .3 43.4 .3 9.5 .3-34.6 .3 25.9 .3 12 .3 35.5 .3-3.2 .3 2.8 .3-160.9 .3 89.1 .3-38.5 .3 54.6 .3 5.8 .3-8 .3-36.8 .3 57.8 .3 59.5 .3-3 .3-73.3 .3-38.2 .3 17.7 .3-38.3 .3 164.6 0-306.8 .3 126.4 .3 42.7 .3-32.1 .3-1.9 .3-22.2 .3 43.7 .3-16.4 .3 19.4 .3-54.3 .3 53.7 .3 40.1 .3 7.1 .3-20.7 .3 50.1 .3 .3 .3-13.7 .3 3.7 .3 5.9 .3 75 0-306.8 .3 67.1 .3 17.4 .3-84.5 .3 0 .3 0 .3 0 .3 0 .3 0 .3 45.4 .3 90.8 .3-58.8 .3 53.6 .3-15.7 .3 84.5 .3-89.8 .3 75.7 .3-72.6 .3-13.4 .3-4.5 .3 41.9 .3-6.8 .3 11.4 .3-36.5 .3 31 .3-17.8 .3 39.2 .3-157.6 0 306.8 .3-246.4 .3-24.1 .3 14.1 .3 70.7 .3 10.7 .3-131.8 0 306.8 .3-117.1 .3-80.3 .3 95.8 .3-13.4 .3-37 .3-80.1 .3 53 .3-70.8 .3 74.2 .3 13.3 .3 41.9 .3-9.3 .3 41.6 .3 20.5 .3-35.1 .3-92.5 .3 20.6 .3 27.4 .3 21.2 .3-67.5 .3-10 .3-103.2 0 306.8 .3-168 .3 33.9 .3-18.8 .3 64.8 .3-16.9 .3 69.5 .3-81.5 .3-15.1 .3-174.7 0 306.8 .3-207.2 .3 86.2 .3-1.4 .3 13.2 .3-70 .3 32.6 .3-25.2 .3-29 .3-51.1 .3 37.3 .3 2.2 .3-94.4 0 306.8 .3-247.1 .3-32.8 .3 32.7 .3 19.6 .3 80.9 .3-45 .3 61.3 .3-19.1 .3 53.8 .3-143.8 .3-3.6 .3 3.1 .3 81.7 .3-32.3 .3-11.6 .3 78.5 .3-66.9 .3 36.8 .3 3.2 .3-119.2 .3 54.6 .3-87.8 .3 90.3 .3-19.1 .3 62.1 .3 5.1 .3 34.8 .3-48.1 .3 78.8 .3-94.7 .3 10.4 .3-25.5 .3 208.9 0-306.8 .3 58.7 .3-8.6 .3 .7 .3-7.3 .3 97.9 .3-33.4 .3 2.8 .3-72.5 .3-14 .3 12.3 .3 190.1 .3-55.8 .3 4.7 .3 39.3 .3 90.7 .3-45.1 .3 46.3 .3-3.6 .3-303.2 0 306.8 .3 0 .3-93.2 .3 44.2 .3-34.6 .3-10 .3-49.3 .3 112.8 .3 30.1 .3 0 .3-16.9 .3-38.1 .3-76.8 .3-8.5 .3 22.1 .3 15.8 .3 4.6 .3-55.8 .3-41.2 .3 24 .3-10.6 .3 70.1 .3-95.4 .3 90.9 .3-39.8 .3 81.9 .3-10.5 .3 11.2 .3-27.4 .3 44.1 .3-45 .3-30 .3-28.7 .3-19.2 .3-42.9 .3 222.1 0-306.8 .3 135.7 .3-83.2 .3 70.8 .3 39.6 .3 60.3 .3-78.2 .3 55.8 .3-95.6 .3 107 .3 52 .3 42.6 .3-40.4 .3-70.3 .3 8.9 .3-15.4 .3-25.1 .3-1.6 .3-49 .3 47.4 .3-19.5 .3 118.3 .3-72.1 .3 81.5 .3 37.3 0-306.8 .3 214.8 .3 3.5 .3-60.3 .3-21.4 .3-104.1 .3 60.1 .3-25.9 .3 45.3 .3-34.2 .3-77.8 0 306.8 .3-135.9 .3-59.2 .3 119.8 .3 20.8 .3 54.5 .3-55.9 .3 55.9 .3-61.8 .3 44.3 .3-27 .3-53.2 .3-11.5 .3 22.6 .3-15.1 .3 26.2 .3-56 .3 32.1 .3-29.5 .3 22 .3-124.7 .3 1.6 .3-51.9 .3 60.1 .3-5 .3 2.5 .3-19.6 .3 21.8 .3-29.2 .3 122.5 .3-2.5 .3-35.1 .3-11.9 .3 178.3 0-306.8 .3 222.1 .3 3.8 .3-18.3 .3-92.8 .3-114.8 0 306.8 .3-79.9 .3 48.9 .3-35.2 .3 66.2 .3 0 .3 0 .3-50 .3-11.7 .3-.6 .3-20.3 .3 53.1 .3 29.5 .3 0 .3 0 .3-18.5 .3-14.4 .3-5.8 .3 16.4 .3 22.3 .3 0 .3-21.2 .3 2.9 .3 18.3 .3-82.3 .3 9.5 .3 17.3 .3 11.3 .3-.8 .3 39.9 .3-44 .3 30.9 .3 5.5 .3 12.7 .3-65 .3 21.5 .3-29.2 .3-14.6 .3-11.9 .3-2.3 .3-5.2 .3 19.2 .3-19.4 .3-6.4 .3-44.4 .3 9.2 .3-123.8 .3 3.3 .3 80.7 .3 77.9 .3-196.4 0 306.8 .3-168.8 .3 49.4 .3-8.3 .3-13.8 .3-85.7 .3 96.8 .3-176.4 0 306.8 .3-74.5 .3 10 .3 39.7 .3 24.8 .3 0 .3 0 .3-38 .3 28 .3-33 .3 13.1 .3-96.9 .3-64.1 .3-74.1 .3 43.6 .3-44.2 .3 93.8 .3-49.7 .3 100.7 .3 120.8 0-306.8 .3 84.1 .3 115.3 .3-49.4 .3-6.4 .3-13.7 .3 27.1 .3-101.6 .3 91.4 .3 27.9 .3 31.3 .3 60.7 .3-16.5 .3 46 .3-7.9 .3 2.3 .3 16.2 .3-112.3 .3 51.1 .3-61.7 .3-8.9 .3-55 .3 10.7 .3-32.1 .3 8.1 .3-99.8 .3-6.9 0 306.8 .3-295.5 .3 5.4 .3 179.1 .3-25.3 .3 14 .3-41.5 .3 76.4 .3-113.3 .3-41.6 .3 77.2 .3 17.6 .3-8.1 .3 76.5 .3-95.9 .3-6.2 .3-47.8 .3 67.4 .3-65.7 .3 40.9 .3-48.8 .3 100.1 .3-70.9 .3 5.6 .3 52.7 .3 14.8 .3-36.9 .3 23.5 .3-1.6 .3 44 .3-83.4 .3-96 .3-19.9 .3 62 .3-65.6 0 306.8 .3-246.8 .3-7 .3-53 .3 0 .3 0 .3 47 .3-47 .3 .6 .3-.6 .3 18.9 .3 66.8 .3 114.3 .3-28.5 .3-2.3 .3 54 .3 23.8 .3 10.8 .3 10 .3-43.1 .3 82.1 .3 0 .3 0 .3 0 .3-20.5 .3-25.7 .3-81.3 .3-67.8 .3-36.3 .3 16.5 .3-91.7 0 306.8 .3-96.4 .3-44.1 .3-21.9 .3-57.6 .3 33 .3-119.8 .3 0 .3 11.7 .3 64 .3 231.1 0-306.8 .3 38.3 .3 31.2 .3-69.5 .3 30.5 .3-18 .3-12.5 .3 0 .3 62.7 .3-62.7 .3 0 .3 0 .3 98 .3 8.8 .3 122.7 .3-25.8 .3 9.3 .3-39.3 .3-23.5 .3 27.1 .3 128.1 .3-4.6 .3 6 .3-26.8 .3 26.7 .3-28.9 .3-34.5 .3-111.1 .3 100.8 .3 56 .3 17.8 .3-44.4 .3 44.4 0-306.8 .3 306.8 .3-58.5 .3 42 .3-24.8 .3-265.5 0 306.8 .3 0 .3-41 .3 34.9 .3-129.5 .3-21.2 .3-25.2 .3 64.9 .3-23.1 .3 84.2 .3 16 .3 40 .3 0 0-306.8 .3 249.5 .3 50.9 .3-94.3 .3 24.3 .3-43.2 .3 14.9 .3-28.6 .3-33.2 .3-3.3 .3 52.5 .3-167.7 .3 27.8 .3 6.3 .3 89.6 .3-16.8 .3-10.3 .3-20.4 .3 95.8 .3-6.7 .3 37 .3-77.1 .3-33.7 .3 7.2 .3-59.4 .3 44.3 .3 201.4 0-306.8 .3 53.5 .3-30.3 .3-16.9 .3-6.3 .3 57.3 .3-24.1 .3 38.6 .3-21.7 .3-26.9 .3-23.2 .3 0 .3 0 .3 0 .3 0 .3 91.9 .3 5.5 .3-15.8 .3-42.1 .3 2.8 .3 29 .3 99.6 .3 30.8 .3 105.1 .3 0 .3-21.5 .3 21.5 .3 0 .3 0 .3 0 .3 0 .3 0 0-306.8 .3 293.3 .3-63.5 .3 77 .3-86.3 .3 26.3 .3-64 .3 1.8 .3-31.8 .3 154 0-306.8 .3 69.5 .3 28.6 .3 74.2 .3-56.4 .3 112.6 .3 22.4 .3 55.9 .3-73.3 .3 21.6 .3-49.7 .3 61.3 .3-44.4 .3 60.1 .3-27.1 .3 51.5 .3 0 .3 0 .3-306.8 0 306.8 .3 0 .3 0 .3-70.7 .3 57.3 .3-45.2 .3-248.2 0 306.8 .3-8.5 .3-59.6 .3 68.1 .3-62.2 .3 28.3 .3-25.4 .3 59.3 .3-60.6 .3-15.9 .3-63.1 .3-58 .3-41.6 .3 39.2 .3 68 .3 30.9 .3 13.5 .3-48.9 .3-42.5 .3-30.7 .3 42.2 .3-25.6 .3-81.6 .3 104.6 .3-74.1 .3 60.2 .3-36.6 .3 85 .3 6.8 .3-18.2 .3 9.4 .3 47.3 .3-7.4 .3 97.7 0-306.8 .3 205.4 .3-22.2 .3 4.1 .3 5.9 .3 35.1 .3-23.4 .3-89 .3 23.3 .3 73.6 .3-95.8 .3 22.5 .3 1.5 .3 48.9 .3-67.7 .3 65.3 .3-8.7 .3 75.1 .3-9.4 .3 54.3 .3-57.1 .3 19.5 .3-77.1 .3 23 .3-48.6 .3 51.8 .3-102.8 .3 56.5 .3-78.3 .3 83.2 .3-28.3 .3-19.1 .3-44.9 .3 29.3 .3-13.3 .3 35.6 .3 7.2 .3-1.1 .3 13.3 .3 29.9 .3-43.2 .3 3.6 .3-26.1 .3 14.7 .3 10.4 .3 49 .3-27.7 .3 39.3 .3-38.5 .3-20 .3 19 .3-31 .3-14.6 .3 16.2 .3 15.6 .3 13.8 .3 18.7 .3 58 .3-15.2 .3-14.7 .3-42.1 .3-38 .3-10.5 .3 27.8 .3 10.2 .3 26 .3 79.2 .3-22.9 .3-16.6 .3-24.6 .3-23.4 .3 36.1 .3-24.1 .3-2.9 .3-48.2 .3-27.3 .3-14.5 .3 38 .3-39.9 .3-50.3 .3 23.2 .3 58 .3 26.7 .3-25.1 .3 25 .3 13.5 .3-91 .3-30.7 .3-36.4 .3 36.6 .3-30.1 .3 80.9 .3-29.1 .3 27.8 .3 44.9 .3 20.4 .3-38.8 .3-112.6 0 306.8 .3-223.7 .3-19.2 .3 135.3 .3-26.1 .3 109.7 .3-96.9 .3 80 .3 40.9 0-306.8 .3 129.7 .3 66.8 .3 11.4 .3 93.8 .3-93.4 .3 49.9 .3-52.8 .3-58.6 .3-47.6 .3 62.4 .3 42.8 .3-35.1 .3-52.1 .3 71.8 .3 49.9 .3 19.1 .3-45.9 .3 54.3 .3-38.7 .3 64.5 .3-49.4 .3-64.6 .3-78.4 .3 71.4 .3-.8 .3 30.4 .3-131.7 .3 119.4 .3-47.7 .3 166 0-306.8 .3 178.1 .3-68.3 .3 59.6 .3-26.7 .3 14.3 .3-44.5 .3 39 .3 19.1 .3 29.2 .3-7.8 .3 46.1 .3 34.3 .3-60.2 .3-71.3 .3 16.3 .3-36.4 .3 100.3 .3-.3 .3 75.7 .3 3.9 .3 6.3 .3-107.7 .3 107.8 0-306.8 .3 296 .3-52.4 .3 11.5 .3 47.9 .3-14.7 .3-84 .3 36.3 .3-101.5 .3-20.8 .3-17.9 .3 61.3 .3-71.6 .3 67.3 .3-1.9 .3 1.7 .3 62.1 .3 50.4 .3-122.2 .3 124.7 .3 10 .3-28.4 .3 28.6 .3-17.5 .3-264.9 0 306.8 .3-42.2 .3 39 .3-.5 .3-48.4 .3-129.5 .3 35.5 .3-50.2 .3 49.6 .3-81.1 .3 45.7 .3-13.6 .3-46.2 .3-29.3 .3 61.5 .3-10.1 .3 18.9 .3 82.1 .3-6.1 .3-50.7 .3 164.5 .3-37.2 .3-35.6 .3-40.8 .3 69.1 .3-251.2 0 306.8 .3-38.5 .3 19.7 .3 3.7 .3 .3 .3-7.9 .3 11.1 .3-39.2 .3 50.8 .3-36.2 .3 36.2 .3-49.1 .3-30 .3-25 .3 6.2 .3 41.7 .3 15.1 .3-53.3 .3 40.8 .3-60 .3-12 .3-22.4 .3 71.4 .3-114 .3 75.9 .3 6.9 .3 8.7 .3-66 .3-26 .3-115.7 0 306.8 .3-229.8 .3-25.3 .3 20 .3 41.8 .3-11.1 .3 98.6 .3-23.7 .3 47 .3-10 .3 29.7 .3-94.3 .3 53.5 .3-54.4 .3-138.3 .3-10.5 .3 6.9 .3-6.9 .3 6 .3-6 .3 3.8 .3-3.8 .3 66.5 .3-55.4 .3 84.3 .3-25.9 .3 76.4 .3 160.9 0-306.8 .3 85.3 .3 19 .3 3 .3 70.8 .3-84.8 .3 16.3 .3-41.5 .3-52.2 .3 10.5 .3 15.6 .3 17.8 .3 61.4 .3-42 .3 74.8 .3-39 .3-3.4 .3 10 .3 40.2 .3-64.3 .3 86.5 .3-35 .3 70.8 .3-3.9 .3 20.6 .3-59.1 .3-77.3 .3-28 .3-39.6 .3-32.5 .3 57.5 .3 249.3 0-306.8 .3 46.9 .3 40.9 .3-58.1 .3 17.1 .3-3 .3-35.7 .3-8.1 .3 16.6 .3-16.6 .3 0 .3 0 .3 0 .3 0 .3 306.8 0-306.8 .3 0 .3 0 .3 31.9 .3 17.3 .3 37.8 .3 19.5 .3 62.3 .3-10.9 .3 51.9 .3-209.8 0 306.8 .3-180.5 .3 135.6 .3-51.6 .3 28.8 .3 67.7 0-306.8 .3 267.6 .3-24.8 .3-75.3 .3 14.1 .3 22.3 .3 12.7 .3-115.7 .3 52.1 .3-40 .3 80.9 .3 9.7 .3-19.1 .3-51.2 .3 3.4 .3-62.2 .3 56.5 .3-.5 .3-4.8 .3-13.4 .3 45.7 .3 28.2 .3 12.8 .3 107.8 0-306.8 .3 187.8 .3 30.7 .3-55.5 .3-73.7 .3-38.2 .3 2.5 .3 19.5 .3 109.2 .3-19.3 .3 45.1 .3-23.1 .3-67.5 .3-53.3 .3 21.5 .3-69.6 .3 39.4 .3-55.5 .3 306.8 0-306.8 .3 0 .3 57.7 .3 23.7 .3 3.2 .3 98.3 .3 31.5 .3 29 .3 63.4 0-306.8 .3 228.5 .3 41.9 .3-57 .3 88 .3-48.8 .3 54.2 .3 0 .3 0 .3 0 .3 0 .3-11.7 .3-49.1 .3-35.2 .3 96 .3-34 .3 34 .3-306.8 0 306.8 .3-146.8 .3 22.1 .3-36.1 .3 42.3 .3 15.3 .3 45.4 .3-75.2 .3 55.9 .3-87.4 .3-1.9 .3 96.2 .3 37.2 .3-273.8 0 306.8 .3 0 .3 0 .3-65.8 .3-61.5 .3-48.3 .3 61.9 .3-118.5 .3 102 .3-41.9 .3 98.5 .3-76.3 .3 60.9 .3-50.3 .3 42.4 .3-14.4 .3 41.7 .3-26.4 .3 45.1 .3-109.6 .3 160.5 0-306.8 .3 167.7 .3-45.6 .3 108.2 .3 31.5 .3 45 .3-66.4 .3 63.2 .3-10.4 .3-5.3 .3-24.5 .3 23.7 .3-84.6 .3 60.7 .3-82.8 .3-10.5 .3-13.3 .3 33.8 .3-59.7 .3 61.9 .3-65.4 .3-69.8 .3-57.4 .3 64.2 .3-12.4 .3 15.6 .3-51.9 .3 5.8 .3-21.3 0 306.8 .3-300.5 .3 .6 .3 18.8 .3 9.9 .3 5.2 .3-29.2 .3 7.6 .3-19.2 .3 25 .3 112.3 .3 57.6 .3-19.4 .3-30.2 .3 161.5 0-306.8 .3 215.6 .3-64 .3-24.1 .3-71 .3 8.7 .3 18.9 .3 15.6 .3 60.7 .3 29.1 .3 48.5 .3 68.8 .3-19.9 .3-41 .3-90.3 .3 66.5 .3-14.8 .3 37.7 .3-37.2 .3 49.1 .3-36 .3 85.9 .3-52.2 .3-102.2 .3-61.9 .3 59.5 .3 18.6 .3-117.8 .3 .3 .3 34.9 .3-16.2 .3 2.5 .3 1.5 .3-20.1 .3 5.7 .3 49.4 .3 20.2 .3 23.6 .3-5.8 .3 22.4 .3-18.1 .3 13.7 .3-30.3 .3-3.7 .3 1.8 .3-22.7 .3 21.6 .3 9.9 .3 8.9 .3-1.1 .3 12.5 .3 2.5 .3 20.7 .3-21.7 .3-.3 .3 5.4 .3 29.1 .3 18.6 .3-13 .3 48.6 .3 26.1 .3 29.1 .3 0 .3-1.6 .3-38.1 .3 39.7 .3-11.4 .3 11.4 .3 0 .3 0 .3-8.9 .3 8.9 .3 0 .3 0 .3-131.3 .3 2 .3 129.3 0-306.8 .3 154.7 .3 1.7 .3-17.3 .3 24.3 .3-2.5 .3 16 .3-25.8 .3-129 .3 18.8 .3-6.1 .3-12.3 .3-22.5 .3 20 .3 41.7 .3-61.7 .3 0 .3 0 .3 0 .3 0 .3 0 .3 0 .3 0 .3 0 .3 0 .3 0 .3 32.7 .3 3.3 .3 12.5 .3-3.1 .3-35.7 .3 38.1 .3 49.8 .3-21.6 .3 5.3 .3-81.3 .3 20.4 .3 43.7 .3-13.1 .3 12.9 .3 36.1 .3 0 .3-69 .3 45.8 .3 45.9 .3 21.3 .3-52.4 .3 29.8 .3-15.8 .3-33.1 .3 43.2 .3-16.4 .3 10.3 .3 2.7 .3 35.4 .3 26.7 .3 44.8 .3-9.8 .3 12.3 .3 29.3 .3 44 .3-47.1 .3-13.6 .3-75.2"/>
<rect class="ax" x="70.5" y="875.5" width="1050.3" height="340.8"/>
<path class="tk" d="M333.1 1216.3v-10.5M333.1 875.5v10.5M595.6 1216.3v-10.5M595.6 875.5v10.5M858.2 1216.3v-10.5M858.2 875.5v10.5M70.5 1045.9h10.5M1120.8 1045.9h-10.5M70.5 875.5h10.5M70.5 1216.3h10.5M1120.8 875.5h-10.5M1120.8 1216.3h-10.5M70.5 875.5v10.5M70.5 1216.3v-10.5M1120.8 875.5v10.5M1120.8 1216.3v-10.5"/>
</g>
<g id="ax-NAA">
<path class="d" clip-path="url(#c5)" d="M1237.5 948.2l.3 64.4 .3 57.9 .3-60 .3-79.9 .3 96.8 .3 25.6 .3 34.8 .3-62.2 .3 8.1 .3-141.2 0 306.8 .3-186.3 .3 1.1 .3-22.4 .3 6.3 .3-105.5 .3 41.5 .3 7.3 .3 10.9 .3-59.7 .3 52.4 .3-52.4 .3 47.8 .3 38.3 .3 89 .3-44.3 .3 23.3 .3-42.6 .3 69.5 .3-22.5 .3 79.8 .3-107.2 .3 25.7 .3-81.9 .3 18.6 .3 30.3 .3-3.7 .3-120.1 0 306.8 .3-215.5 .3 14.9 .3 2.1 .3 37.5 .3-78.1 .3 133 .3-43.5 .3 118.1 .3-104.6 .3 24.4 .3-.7 .3-80.3 .3-21.3 .3-52 .3-40.8 .3 98.5 .3-21.3 .3 121.7 .3 7.5 .3 22.7 .3 .8 .3 70.5 .3-3.7 .3 9 .3-139.7 .3 19.1 .3-93.3 .3-26.8 .3 9.3 .3 51.4 .3-36.3 .3 217.4 0-306.8 .3 198.7 .3 56.6 .3 51.5 .3 0 .3-70.7 .3-134.3 .3 148.4 .3-39 .3 79.5 .3-41.4 .3-249.3 0 306.8 .3-3.1 .3-127.9 .3 70.7 .3-124.1 .3 2.6 .3 37.5 .3 26 .3-72.2 .3 17.1 .3-35.1 .3 183.2 .3-103.8 .3 104.8 .3-52.7 .3 25.2 .3-41.1 .3 57.9 .3-15.1 .3 50.1 .3-14.4 .3-16 .3-138.4 .3 27.6 .3-39 .3 43.5 .3 136.7 0-306.8 .3 161.6 .3 38.2 .3 16.1 .3 90.9 .3-76.1 .3 50.5 .3 8.3 .3 17.3 .3-53.2 .3 17.7 .3-145.8 .3 14 .3-108.5 .3 42.7 .3-21.8 .3 43.5 .3-22.3 .3 70.5 .3 5.2 .3 99.2 .3 5.2 .3-29.4 .3-76 .3 91.8 .3 67.2 0-306.8 .3 243.8 .3 41 .3-95.6 .3-27.6 .3-157.9 .3 15.8 .3 60.3 .3 2.2 .3-79.1 .3 69.8 .3-72.7 .3 22.4 .3 3.9 .3-.2 .3 15.9 .3 33.3 .3-17.2 .3 46.9 .3-63 .3 63.7 .3-6.3 .3-99.4 0 306.8 .3-128 .3-16.8 .3 3.4 .3-41.2 .3 5.2 .3 177.4 0-306.8 .3 96.8 .3 113.2 .3-14.9 .3 103 .3-145.8 .3 97.6 .3-118.8 .3 111.2 .3-78.1 .3-14.6 .3-73.3 .3 81.3 .3-3.1 .3 152.3 .3-18.2 .3-288.6 0 306.8 .3-87.8 .3-103.1 .3-49.1 .3-28.4 .3 68.5 .3-5.5 .3 18.7 .3-69.5 .3 55 .3 9 .3 26.7 .3-79.3 .3 100 .3 .5 .3-50.6 .3-48.4 .3-7.4 .3-56.1 .3 27.1 .3-2.9 .3 120.2 .3-47.7 .3 28.3 .3-70.8 .3 38.4 .3-92.6 0 306.8 .3-104 .3 29.5 .3-100.1 .3 30.4 .3 .9 .3-17.9 .3-44.3 .3 7.5 .3-44.4 .3 242.4 0-306.8 .3 116 .3-29.9 .3 71.1 .3-37.3 .3 20.3 .3-100.1 .3 29.6 .3-43.3 .3 112.6 .3-.9 .3 77.8 .3-97.3 .3 84.2 .3-51.4 .3 105.7 .3-1.8 .3-255.3 0 306.8 .3 0 .3-43.9 .3 43.9 .3-36.7 .3 36.7 .3-68 .3 68 .3 0 .3-4.7 .3-62.3 .3 16.9 .3 50.1 0-306.8 .3 115.9 .3 72.9 .3-84.2 .3-13.1 .3-62.4 .3 5.7 .3 13.4 .3 68.5 .3-61.7 .3 70.5 .3-92.8 .3 103.4 .3-37.2 .3 75.5 .3 15 .3 62.5 .3-39.6 .3-18.3 .3-16.2 .3 102.9 .3-120.7 .3-4.6 .3 30.4 .3-36.5 .3 25.2 .3 59.4 .3-142 .3 93.9 .3-185.8 0 306.8 .3-172.4 .3 172.4 .3-58.5 .3-21.9 .3-123.6 .3-7.9 .3-16.6 .3 47.3 .3-16.3 .3 141.2 .3 24.4 .3 31.9 .3-65.7 .3-20.3 .3-53.9 .3 92.1 .3 47.8 .3 0 .3-27.7 .3 27.7 .3 0 .3 0 .3-153.3 .3 24.2 .3-67.5 .3 39.6 .3-33.9 .3 129.6 .3-59.5 .3 25.6 .3-97.8 .3 193 0-306.8 .3 203.2 .3-23.4 .3 90.1 .3-22.2 .3-34.9 .3-27.3 .3 91 .3-11.5 .3 41.8 .3-122.6 .3-48.9 .3-14.9 .3 109.6 .3 76.8 0-306.8 .3 222.6 .3 33.5 .3-86.5 .3 69.8 .3-18.4 .3 35.2 .3 50.4 .3-34.6 .3-82.9 .3 31.7 .3 62.8 .3 23.2 .3 0 .3 0 .3 0 .3 0 .3 0 .3 0 .3-59 .3 59 .3-52 .3 1.7 .3-170.7 .3-46.8 .3-23.1 .3 97 .3 28.9 .3 147.5 .3-78.7 .3-75.1 .3-40.4 .3 35.5 .3 26.8 .3-157.4 0 306.8 .3 0 .3 0 .3 0 .3-107.7 .3 66.4 .3-107 .3 87 .3-88.7 .3 27 .3-6.8 .3 91.9 .3-54.9 .3 7.2 .3-71.3 .3 21.2 .3-50.9 .3 62.4 .3-80.8 .3-49.1 .3-45.4 .3 100.3 .3-51.2 .3-23.5 .3 2.3 .3 96.7 .3-64.4 .3 89.3 .3-30.6 .3-8 .3 22.4 .3 166.2 0-306.8 .3 217 .3-125.8 .3 14.5 .3 2.5 .3 2.1 .3-45.1 .3 27.5 .3 51.7 .3 99.8 .3-93 .3 92.2 .3-70.4 .3 .7 .3 39.4 .3 45.5 .3-39.5 .3 13.5 .3-28.2 .3 30 .3-53.5 .3 63.1 .3-108.8 .3-26.1 .3-87.5 .3 129.7 .3 6 .3 61.5 .3-24.7 .3-16.2 .3-177.9 0 306.8 .3-211.9 .3 19.4 .3-37 .3 43.5 .3-12.5 .3 198.5 0-306.8 .3 210.5 .3-169.7 .3 40.6 .3-81.4 .3 30.1 .3-30.1 .3 3.2 .3-3.2 .3 0 .3 0 .3 0 .3 0 .3 20.3 .3-15.3 .3 56.2 .3 12.8 .3 165.6 .3-36.9 .3 12.6 .3-83.7 .3-19.1 .3-50.7 .3 52.9 .3-114.7 0 306.8 .3-260.7 .3 88.6 .3-73.2 .3 81 .3-41.3 .3 16.3 .3 51.6 .3 10.6 .3-63.9 .3 80.9 .3-55 .3-2.1 .3-17.3 .3 56.1 .3-53.9 .3-14.7 .3-25.7 .3 61.6 .3-83.9 .3 245 0-306.8 .3 185.3 .3-82.4 .3 113.3 .3-13.7 .3 .4 .3-55.3 .3 21.3 .3 31.7 .3 37.2 .3-78.5 .3 44.5 .3 37.7 .3 48.6 .3-96.4 .3-57 .3 30.3 .3 9 .3-32.9 .3 49.6 .3-65.9 .3 62.6 .3-7.2 .3-37.6 .3-54.6 .3 20.9 .3-69.7 .3 36.5 .3 20 .3-.4 .3 4.6 .3 74 .3-175.9 0 306.8 .3-125.4 .3 21.2 .3 11.3 .3 92.9 .3-77.2 .3 18.7 .3-1.7 .3 51.7 .3-298.3 0 306.8 .3-67 .3 19.1 .3 42.5 .3 5.4 .3-83.7 .3-42.1 .3 21 .3 68.1 .3 36.7 .3 0 .3 0 .3 0 .3-27.3 .3 13.7 .3-158.1 .3 25 .3-59.1 .3 65.9 .3 139.9 0-306.8 .3 96.2 .3 66.6 .3-67.3 .3 35.8 .3-34.4 .3-21.8 .3-21.5 .3 124 .3 48.6 .3-48.6 .3 37.1 .3-35 .3 5.4 .3-31.9 .3-13 .3 94.9 .3-76.3 .3 66.3 .3-104.7 .3 84 .3-7.9 .3 15.7 .3 13.7 .3-66.4 .3-35.1 .3-10.9 .3-31.5 .3-3.9 .3 228.7 0-306.8 .3 93.9 .3 53.9 .3 1.8 .3 23.5 .3 2.6 .3 27.6 .3 11.1 .3 92.4 .3-75.8 .3-37 .3-92.9 .3 30.6 .3-88.1 .3 92.1 .3-62.1 .3 .8 .3-27 .3-32 .3 14.3 .3 67 .3-85.8 .3 295.9 0-306.8 .3 125.6 .3 13.6 .3 9.7 .3 10.9 .3 50.9 .3 13.2 .3-5.6 .3 16.9 .3-77.7 .3-57.8 .3 99.5 .3 107.6 0-306.8 .3 149.7 .3 157.1 .3 0 .3-15.2 .3-77 .3 92.2 .3 0 .3-12.8 .3-73.8 .3 76.4 .3-81.6 .3 90 .3-35.8 .3-18.3 .3-99.5 .3 51.8 .3-7.1 .3 50.6 .3-12.5 .3-21.3 .3-8.7 .3-32 .3-55.8 .3-17.3 .3 62.2 .3 13.9 .3-110.8 .3 91.6 .3-59.9 .3 123.8 .3-89.8 .3-67.6 .3 29 .3-7.1 .3-60.1 .3 282.5 0-306.8 .3 34.2 .3-21.6 .3 83.4 .3-41.6 .3 39.2 .3-89.8 .3 33.6 .3-28.3 .3 10.5 .3 64.5 .3 48.2 .3 3.7 .3 170.8 .3 0 .3 0 .3-149.6 .3-157.2 0 306.8 .3-66.9 .3-92.3 .3 54.5 .3-80.1 .3 22.4 .3-84.3 .3 99.9 .3-27 .3 46.7 .3-50 .3 139.9 .3-103.1 .3-.2 .3 95.6 .3 31.9 .3-10.8 .3-25.2 .3-82.8 .3-90.7 .3 2.7 .3-11 .3-18.3 .3 193.3 .3-108 .3 60.9 .3-38.9 .3 29.3 .3-133.6 .3-30.4 .3 48.5 .3 79.6 .3 7.9 .3 140.5 0-306.8 .3 306.8 .3-62.7 .3 54.1 .3-43.1 .3 13 .3-58.1 .3 96.8 0-306.8 .3 199.7 .3-96.5 .3 48.3 .3 11.1 .3-21.3 .3 33.9 .3 119.3 .3-20.1 .3 .5 .3-16 .3-8.7 .3-250.2 .6 306.8 .6-306.8 .7 306.8 .6-306.8 .6 306.8 .6-306.8 .6 306.8 .7-306.8 .6 306.8 .6-306.8 .6 306.8 .6-306.8 .7 306.8 .6-306.8 .6 306.8 .6-306.8 .6 306.8 .7-306.8 .6 306.8 .6-306.8 .6 306.8 .6-306.8 .7 306.8 .6-306.8 .6 306.8 .6-306.8 .6 306.8 .7-306.8 .6 306.8 .6-306.8 .6 134.2 .3-63.7 .3 36.9 .3-72.4 .3 20.5 .3 23.7 .3 35 .3-11.4 .3 42.9 .3-34.1 .3 38.7 .3-19.8 .3 5.6 .3-136.1 0 306.8 .3-189 .3 26.3 .3-2.8 .3 63.8 .3-49.9 .3 29.8 .3-120.4 .3 27.8 .3-28.3 .3 13.6 .3-67.5 .3 64.8 .3-66.4 .3-8.6 0 306.8 .3-220 .3-85.4 .3 64 .3-65.4 .3 34.4 .3-18.8 .3 54.8 .3-58.9 .3 66.3 .3-76.9 .3 37.8 .3-22.5 .3 15.3 .3-22.1 .3 99.9 .3-19.5 .3 44.2 .3-73.9 .3 45 .3-55.9 .3-49.2 0 306.8 .3-279.4 .3-6.2 .3 70.8 .3-54.3 .3-5.3 .3-32.4 .3 78.4 .3-78.4 .3 53.5 .3 1.7 .3 22.7 .3-52 .3 30.2 .3-45 .3 295.7 0-306.8 .3 41.3 .3-20.2 .3 11.5 .3 8.6 .3 12.9 .3-49.1 .3 26.5 .3-31.5 .3 0 .3 0 .3 0 .3 0 .3 25.6 .3-25.6 .3 1.7 .3-1.7 .3 38.8 .3-38.8 .3 16.6 .3-16.6 0 306.8 .3-300.8 .7 47.2 .3-33.8 .3 40.5 .3-38.8 .3 44.5 .3-48.4 .3 32.3 .3-43.2 .3 45.1 .3-29.3 .3 38.3 .3-44.5 .3 39.1 .3-40.8 .3 48.5 .3-46.5 .3 36.7 .3-29.4 .3 49.5 .3-28.1 .3 39.9 .3-39.2 .3 39.1 .3-45.5 .3 46.4 .3-35.3 .3 42 .3-46.3 .3 44 .3-45.9 .3 44.4 .3-45.7 .3 33.4 .3-28.1 .3 28.2 .3-26.5 .3 39.1 .3-47.8 .3 36.1 .3-33.8 .3 33.3 .3-31.6 .3 34.6 .3-32.8 .3 37.6 .3-30.5 .3 33.9 .3-41.3 .3 35.1 .3-38.5 .3 47.6 .3-49 .3 47.7 .3-48.8 .3 33.9 .3-49.1 .3 49.1 .3-42.3 .3 43.1 .3-35 .3 34.5 .3-29.7 .3 44.8 .3-35.5 .3 39.7 .3-52.4 .3 44.7 .3-41.7 .3 38.7 .3-40.6 .3 41.7 .3-39.1 .3 46.6 .3-43.3 .3 49.1 .3-32.2 .3 36.4 .3-39 .3 40.2 .3-50.3 .3 34.5 .3-37.8 .3 43.9 .3-41.5 .3 33.7 .3-32.4 .3 39.3 .3-38.7 .3 31.7 .3-33.1 .3 46.1 .3-42.7 .3 41.2 .3-43.3 .3 42.7 .3-39.6 .3 33.2 .3-39.6 .3 47.4 .3-39 .3 32.8 .3-34.7 .3 44.7 .3-56 .3 48.6 .3-40.4 .3 22.1 .3-18 .3 24.6 .3-28.3 .3 31.8 .3-37.1 .3 35.1 .3-38.8 .3 42.3 .3-37.5 .3 34.7 .3-42 .3 46.9 .3-43.5 .3 39.9 .3-33.7 .3 29.4 .3-32.9 .3 46.3 .3-42.9 .3 36.9 .3-31 .3 45.3 .3-43.3 .3 41.1 .3-42.8 .3 32.9 .3-38.6 .3 49.4 .3-43 .3 33.4 .3-37.7 .3 48.8 .3-32.7 .3 31.7 .3-49.6 .3 47.5 .3-46 .3 31.1 .3-29.7 .3 41.8 .3-34.2 .3 38.1 .3-38.9 .3 47.8 .3-37.1 .3 33.2 .3-40.8 .3 38.9 .3-31.8 .3 30 .3-41.4 .3 38.1 .3-40.7 .3 41.4 .3-46.3 .3 44 .3-47.1 .3 46.6 .3-42.9 .3 44.3 .3-47.4 .3 48.6 .3-45.3 .3 41.1 .3-39.4 .3 55.1 .3-37.5 .3 29 .3-31.9 .3 44.1 .3-49.9 .3 46.9 .3-46.1 .3 42.3 .3-44.6 .3 37.8 .3-29 .3 28.4 .3-35.5 .3 41.1 .3-37.6 .3 44.5 .3-37.8 .3 32.1 .3-40.8 .3 32.5 .3-28.6 .3 35.9 .3-32.1 .3 29.7 .3-33.4 .3 31.9 .3-33.4 .3 33.9 .3-41.5 .3 48.4 .3-46.1 .3 48.8 .3-36.1 .3 32.3 .3-26.1 .3 29 .3-27.4 .3 34.8 .3-35.9 .3 41.9 .3-41.8 .3 34.6 .3-33.4 .3 24.6 .3-37.2 .3 35.8 .3-28.8 .3 41.2 .3-38.1 .3 39.9 .3-38.8 .3 37.3 .3-38 .3 46.7 .3-50 .3 46 .3-38.6 .3 26.6 .3-22.2 .3 29 .3-41.2 .3 35.2 .3-35 .3 37.9 .3-24.6 .3 33.2 .3-38.5 .3 28.7 .3-22.9 .3 32.9 .3-44.2 .3 37.6 .3-45.6 .3 41.3 .3-38.1 .3 56 .3-47.6 .3 43.3 .3-47.7 .3 43.3 .3-43.3 .3 46.3 .3-42.2 .3 36.8 .3-35.1 .3 34.6 .3-38.7 .3 47.9 .3-45.3 .3 36.3 .3-31.2 .3 41.1 .3-43 .3 37.4 .3-41.8 .3 43.6 .3-38.9 .3 37.9 .3-37.9 .3 49.4 .3-37.3 .3 36 .3-50.6 .3 46.8 .3-49.4 .3 39.1 .3-32.6 .3 46.2 .3-49.8 .3 49 .3-49.4 .3 53.3 .3-49.2 .3 41.6 .3-36.4 .3 38.5 .3-49.4 .3 45.2 .3-43.8 .3 32.2 .3-42 .3 40.5 .3-30.4 .3 39.1 .3-40.4 .3 29.1 .3-35.6 .3 37 .3-35.2 .3 34.1 .3-30.4 .3 45.4 .3-53 .3 31 .3-34 .3 38.1 .3-32.3 .3 35.5 .3-43.6 .3 32.9 .3-35.5 .3 48.6 .3-37.8 .3 40.1 .3-32.9 .3 24 .3-34.1 .3 43.4 .3-40.7 .3 28.2 .3-33 .3 46.4 .3-33.8 .3 29.9 .3-41.7 .3 38.4 .3-39.7 .3 48.1 .3-55.4 .3 38.8 .3-28.5 .3 41 .3-54.5 .3 39.8 .3-30.8 .3 25 .3-26.3 .3 27.9 .3-28.5 .3 30.9 .3-33.5 .3 46.1 .3-47.6 .3 44.3 .3-45.2 .3 44.4 .3-37.3 .3 49 .3-39.8 .3 42.8 .3-41.7 .3 29.4 .3-33.8 .3 45.7 .3-36.7 .3 30.7 .3-33.4 .3 30.9 .3-27.1 .3 20.8 .3-42.1 .3 33.4 .3-28.6 .3 42.8 .3-45.4 .3 31.4 .3-33.7 .3 39.6 .3-42.5 .3 36.5 .3-28.3 .3 25.8 .3-38.7 .3 45.3 .3-38.4 .3 25.7 .3-31.4 .3 38.3 .3-42 .3 35.3 .3-25.4 .3 34.3 .3-16.6 .3 16.3 .3-5.9 .3 8.8 .3-2.8 .3 11 .3-4.6 .3 10 .3-3.1 .3 9.2 .3-3.2 .3 8.6 .3-3.2 .3 10.6 .3-4.4 .3 8.6 .3-1.8 .3 8.4 .3-4.4 .3 10.2 .3-2.2 .3 8.1 .3-3.1 .3 9.9 .3-3.5 .3 8.4 .3-1 .3 12.3 .3-1.3 .3 11.5 .3-4.1 .3 12 .3 1.3 .3 10.5 .3-.5 .3 11 .3-.9 .3 18.5 .3 1.6 .3 19.8 .3 2.8 .3 4.2 .3-11.9 .3 10.5 .3-19.7 .3 14.8 .3-21.3 .3 17 .3-20.9 .3 19 .3-31 .3 31 .3-25.7 .3 22.7 .3-27.1 .3 33.4 .3-27.8 .3 25.5 .3-27.6 .3 20.4 .3-26.9 .3 22.9 .3-19.9 .3 24.1 .3-18.2 .3 27.9 .3-30.6 .3 20.9 .3-21.6 .3 23 .3-16.6 .3 17.7 .3-21.4 .3 21.2 .3-26.2 .3 14.8 .3-25.5 .3 21.7 .3-26.4 .3 25.2 .3-28.9 .3 28.2 .3-28.5 .3 28.5 .3-31.8 .3 34.4 .3-28.2 .3 17.4 .3-19.1 .3 20.3 .3-22.5 .3 27 .3-31.5 .3 27.8 .3-20.5 .3 21 .3-23.2 .3 37.4 .3-28.8 .3 21.8 .3-28.2 .3 22.9 .3-24.9 .3 18.5 .3-24.2 .3 24.6 .3-25.2 .3 28.5 .3-30.1 .3 35.3 .3-33.4 .3 24.6 .3-20.3 .3 19.1 .3-20.2 .3 18.3 .3-22.5 .3 18.4 .3-18.3 .3 22.6 .3-30.8 .3 32.9 .3-34.1 .3 23 .3-21.3 .3 33.2 .3-24.7 .3 25.8 .3-23.7 .3 21.1 .3-31.1 .3 30.2 .3-36 .3 29.9 .3-31.3 .3 27 .3-32.7 .3 38.7 .3-31.4 .3 22.7 .3-34 .3 24.3 .3-28.8 .3 25.3 .3-24.3 .3 21.3 .3-22.1 .3 24.6 .3-34.2 .3 40.2 .3-36.6 .3 36.1 .3-35.6 .3 34.7 .3-26.7 .3 34.6 .3-22 .3 19.6 .3-16.9 .3 23.6 .3-31 .3 30.2 .3-30.4 .3 27.9 .3-25.4 .3 23.5 .3-27.1 .3 27.9 .3-30 .3 21.2 .3-28.2 .3 24.3 .3-28.7 .3 30.9 .3-29.9 .3 15.5 .3-21.9 .3 24.3 .3-17.7 .3 30.5 .3-36.7 .3 29.3 .3-26.5 .3 27.5 .3-23.5 .3 20.8 .3-22.6 .3 28.3 .3-30.6 .3 35 .3-34.7 .3 23.4 .3-29 .3 30.9 .3-33 .3 35.4 .3-27.7 .3 29.6 .3-32.1 .3 31.1 .3-34 .3 34.9 .3-32.5 .3 30.2 .3-37.9 .3 30.6 .3-29.5 .3 26.3 .3-23.3 .3 23.7 .3-36.6 .3 24.3 .3-25.9 .3 22.3 .3-22.9 .3 26.4 .3-32.1 .3 24.1 .3-26.6 .3 25.7 .3-26.4 .3 16.2 .3-29.4 .3 21.1 .3-26.1 .3 30.8 .3-22.3 .3 19.2 .3-27.6 .3 25 .3-27.9 .3 23.5 .3-22.4 .3 16.5 .3-23.8 .3 23 .3-19.6 .3 23.4 .3-25.4 .3 16.5 .3-20.5 .3 12.3 .3-20.8 .3 25.2 .3-31.7 .3 20.2 .3-25.6 .3 18 .3-21.1 .3 23.3 .3-23.1 .3 17.6 .3-30.7 .3 27.8 .3-20.8 .3 17.3 .3-27.3 .3 14.9 .3-18.7 .3 18.8 .3-27.7 .3 21.4 .3-31.6 .3 20 .3-23.4 .3 23.9 .3-19.5 .3 14.2 .3-25.5 .3 20.4 .3-21.4 .3 18.3 .3-25.7 .3 18.6 .3-20.1 .3 15.7 .3-24.6 .3 14.8 .3-23.9 .3 17.2 .2-21.2 0 306.8 .1-4.7 .1 4.7 0-306.8 .2 11 .2-11 0 306.8 .1-8.4 .3-298.4 .6 306.8 .6-306.8 .7 306.8 .6-306.8 .6 306.8 .6-306.8 .6 306.8 .7-306.8 1.2 4.8 .1-4.8 0 306.8 .2-14.3 .3 10 .3-17.3 .3 7.9 .3-18.2 .3 10.3 .3-21.7 .3 14.6 .3-19.9 .3 12.1 .3-20.5 .3 12.1 .3-22.4 .3 12.3 .3-21.1 .3 12.9 .3-23.3 .3 9.3 .3-20.5 .3 13.1 .3-18.4 .3 11 .3-15.4 .3 14.1 .3-29 .3 14.5 .3-20.6 .3 10.3 .3-17.2 .3 20.4 .3-26.6 .3 15.1 .3-23.6 .3 8 .3-14.1 .3 10.9 .3-19.6 .3 7.8 .3-20.4 .3 14.9 .3-26 .3 17.6 .3-19.5 .3 6.4 .3-26.1 .3 14.9 .3-32.6 .3 8.4 .3-18.5 .3 10.1 .3-29.6 .3 16.4 .3-25.2 .3 11.7 .3-22.9 .3 7.8 .3-29.2 .3 10.8 .3-17.3 .3 10.5 .3-11.9 .3 2.4 .1-2.5 0 306.8 .2-5.3 .3 4.1 .3-4.3 .3 3.4 .3-2.9 .3 3.5 .3-3.4 .3 4 .3-4.3 .3 4.3 .3-3.7 .3 3.3 .3-3.1 .3 3.8 .3-3.1 .3 3.7 0-306.8 0 .4 .3 55.6 .3 182.7 .3-16.2 .3 9.2 .3-14.5 .3 8.8 .3-18.6 .3-6.9 .3-12.5 .3 14 .3-20.6 .3 6.4 .3-19.2 .3 17.7 .3-18.3 .3 8.4 .3-34.9 .3 29.1 .3-29 .3 24.5 .3-25.9 .3 20.4 .3-11.5 .3 24.4 .3-26.3 .3 32.9 .3-15.4 .3 42.9 .3-76 .3 49.6 .3-55.6 .3 23.7 .3-51 .3 18.7 .3-16.7 .3 18.6 .3-48.5 .3 88.2 .3-71.7 .3 18.4 .3-40.5 .3 53.9 .3-14.6 .3 23.3 .3-47.7 .3 31.7 .3 .3 .3 50.3 .3-36.5 .3-6.3 .3-58.1 .3 4.9 .3-50.8 .3 85.4 .3-10.9 .3 9.3 .3-42.7 .3 66.2 .3-20.3 .3 25.9 .3-55.8 .3 88.2 .3-68.1 .3-22.5 .3-10.1 .3 33.4 .3-9.8 .3 23 .3-18.7 .3 15 .3-34.5 .3 26.2 .3-22.4 .3 16.3 .3-35.1 .3 33.2 .3-28.7 .3-19.9 .2-37.8 0 306.8 .1-18.1 .2 18.1 0-306.8 .1 3.8 0-3.8 0 306.8 .3-45.5 .3 37.8 .3 2.2 .2 5.5 0-306.8 .1 5.2 .3 0 .3 79.7 .3-28.5 .3 14.4 .3-8.1 .3 13.1 .3-35.4 .3 38.8 .3-79.2 0 306.8 0-12.1 .4-201.2 .3-93.5 0 306.8 .3-166.7 .3-8.4 .3-41.8 .3-37.1 .3 109.9 .3-25.4 .3-59.2 .3-78.1 0 306.8 .3-244.8 .3 36.7 .3 36.6 .3 11.9 .3 13.3 .3-66.3 .3-8.8 .3 43 .3 10.9 .3 61.3 .3-51 .3 78.5 .3 23.1 .3-62.1 .3-11.1 .3 33.6 .3-38.3 .3 69 .3-7.3 .3-33.7 .3-52.3 .3 157.8 0-306.8 .3 103.4 .3 20.5 .3-33.4 .3 57.2 .3-20.3 .3 55 .3-182.4 0 306.8 .3-16.4 .3-27.7 .3 44.1 .3-30.6 .3-58.9 .3-13.6 .3 103.1 0-306.8 .3 137.2 .3-1.4 .3 69.8 .3-75.6 .3-31.9 .3-98.1 0 306.8 .3-306.8 .3 0 .3 0 .3 10.2 .3-10.2 .3 60.1 .3-60.1 .3 27.2 .3 11.8 .3-21.9 .3-16.2 .3 82.1 .3-31 .3 122.1 .3-74.3 .3 207 0-306.8 .3 122.9 .3-48.7 .3 50.3 .3-91.5 .3 38.7 .3-53.9 .3 121.5 .3-16 .3 115.6 .3-111.9 .3 101 .3-62.4 .3 2.4 .3-15.8 .3 96.8 .3 25.6 .3 32.2 .3 0 .3 0 .3-.6 .3 .6 .3-45.4 .3 37.2 .3 8.2 0-306.8 .3 296 .3 10.8 .3-74.2 .3 1.2 .3-36.5 .3 109.5 .3 0 .3 0 .3 0 .3 0 .3-93.3 .3 38.5 .3-79.7 .3 126.5 .3-46.8 .3 11.4 .3-128.2 .3 102.5 .3-60.3 .3 129.4 .3-112.5 .3 49.4 .3-57.4 .3 29.4 .3 91.1 0-306.8 .3 106.8 .3-5.8 .3-101 .3 52 .3-52 .3 12.2 .3 15.8 .3 46.5 .3-8.2 .3 141 .3 67.9 .3 21 .3 10.6 .3 0 .3 0 .3 0 0-306.8 .3 304.9 .3-41.2 .3-84.3 .3-29.4 .3 43.7 .3-97.4 .3 85.6 .3-170.6 .3 36.1 .3 1.8 .3 80.5 .3-18.9 .3 85 .3-132.2 .3 82.9 .3-83.4 .3 10.5 .3-44.8 .3 160.6 .3-26.9 .3 137.3 .3-37.1 .3 44.1 .3-104 .3-202.8 0 306.8 .3-96.6 .3-37.3 .3 63.2 .3-38.3 .3 59.1 .3-192.3 .3-55.3 .3-9.3 .3 39.3 .3-39.3 .3 110.7 .3-71.1 .3 72.3 .3 2.9 .3 49 .3 8.9 .3 58 .3-76.7 .3 126.8 .3-119.5 .3-4.1 .3-68.5 .3 132.9 .3-47.3 .3 124.8 .3 7.7 .3 0 .3-15.5 .3 15.5 0-306.8 .3 306.8 .3-68.1 .3 29.9 .3-100.8 .3 61.2 .3-74.6 .3 1.2 .3-13.8 .3 78.8 .3-79 .3 75.3 .3-65.2 .3-37.2 .3-58.2 .3 45.6 .3-54 .3 142.2 .3-64.1 .3 174.7 .3-39.8 .3-260.9 0 306.8 .3-58.9 .3-42.1 .3 32.4 .3-40.4 .3-34.1 .3-163.7 0 306.8 .3-280.9 .3 29.5 .3 13.6 .3 67.4 .3 170.4 0-306.8 .3 73.5 .3 14.7 .3-53.9 .3 106.4 .3-5.2 .3 67.3 .3-110.1 .3 93.8 .3-99.3 .3 56.9 .3-59.8 .3 15.9 .3-100.2 .3 56.7 .3-44.6 .3 63.3 .3-75.4 .3 59.3 .3 59.4 .3 188.1 0-306.8 .3 194 .3-40.1 .3 14.4 .3-86.8 .3 44.2 .3 28.7 .3 97.1 .3-60.5 .3 89 .3-120.9 .3 82.4 .3-101.7 .3 110.2 .3-108.7 .3-38.6 .3-56.7 .3 73.1 .3-61.7 .3 61.5 .3-58.4 .3 54 .3-63.4 .3 100.2 .3-86.9 .3-64.4 0 306.8 .3-73.7 .3-41.6 .3 60.1 .3-75.7 .3 70.5 .3-171.6 .3 69.6 .3 14.2 .3 91.9 .3-67.5 .3 11.5 .3-35.7 .3 77.1 .3-200.1 .3-35.8 0 306.8 .3-175.2 .3 4.7 .3 53.7 .3-108.4 .3 91.5 .3-75.4 .3-7.1 .3-42.6 .3 23.1 .3-71.1 .3 46.3 .3-3.3 .3 78 .3 2 .3 169.6 .3-76.1 .3 90.3 .3-40.5 .3-266.3 0 306.8 .3-55.2 .3-127.1 .3 80.7 .3-2.7 .3 81 .3-168.7 .3 63.6 .3-31.1 .3 159.5 0-306.8 .3 246.1 .3-54.7 .3 14.5 .3-31.2 .3 96.4 .3-9.5 .3 45.2 .3-112.8 .3 108.4 .3-177 .3 126.6 .3-9.7 .3-57.1 .3-97 .3 55.2 .3-123.2 .3 26.5 .3 36.4 .3 56.2 .3-43.9 .3 137.9 .3-22.6 .3-17.4 .3-64.7 .3 71.7 .3 92.3 .3 14.2 .3-85.8 .3 85.8 .3-26.2 .3 26.2 0-306.8 .3 296.2 .3-91.2 .3 65.9 .3-125.2 .3-35.2 .3-84.6 .3-2.2 .3-23.7 .3 0 .3 0 .3 0 .3 15.3 .3 100.4 .3-101.1 .3 72.6 .3-58.3 .3 91.1 .3-60 .3 110 .3-63.3 .3 32.8 .3-17.3 .3 173.5 .3-295.7 0 306.8 .3-146.2 .3 83.8 .3-45.9 .3 47.3 .3-53.7 .3 27.6 .3-64.7 .3 50.7 .3-107 .3 76.7 .3-47.2 .3 42.2 .3-11 .3 68.7 .3-76.7 .3 15.3 .3-57.9 .3 62.7 .3-171.5 0 306.8 .3-181.6 .3 37.9 .3-1.4 .3-33.6 .3-43.4 .3 120.7 .3-144.4 .3 35.3 .3 66.1 .3 94.2 .3 50.2 .3 0 .3 0 .3 0 .3 0 .3 0 .3-43.6 .3 43.6 .3-306.8 0 306.8 .3-1.7 .3 1.7 .3-41.3 .3-102.8 .3-37.8 .3 54.2 .3-1.6 .3 13.3 .3-6.8 .3 122.8 .3-65.8 .3 65.8 .3-39.7 .3 39.7 .3 0 .3 0 .3-50.6 .3 43.2 .3-102.9 .3-196.5 0 306.8 .3-1.6 .3-22.2 .3 23.8 .3-64.4 .3-37.4 .3-100.3 .3 14.1 .3-118.8 .3 68.8 .3 5.8 .3 61.1 .3 171.1 0-306.8 .3 146.3 .3 94.5 .3-136.4 .3 53.4 .3 17.8 .3-69.7 .3-29.5 .3 121 .3-54.2 .3 22.7 .3-34.1 .3 75.6 .3-75.1 .3 37.9 .3-65.5 .3 202.1 0-306.8 .3 103.3 .3-103.3 .3 69.2 .3-67.9 .3 .9 .3-2.2 .3 37.4 .3 5.7 .3 188.5 .3-18.3 .3 32.1 .3-83 .3 47.7 .3-42.7 .3-24.8 .3-50.6 .3-63.7 .3 12.1 .3 98.9 .3-45.4 .3 75.7 .3-89 .3 .7 .3 41.6 .3 31.5 .3-154.4 0 306.8 .3-281.2 .3-14.1 .3 44.2 .3 14.9 .3 30.5 .3 9.2 .3-40.6 .3 79.4 .3-10.9 .3 26.1 .3-64.6 .3 121.4 .3-51.5 .3 97.1 .3-77.9 .3 3.6 .3-41.1 .3 19.6 .3 135.9 0-306.8 .3 153.3 .3 62.2 .3-23.8 .3 2.1 .3-39.8 .3 28 .3-182 .3 33.8 .3 90.5 .3 95.1 .3-83.2 .3 62.7 .3-123.4 .3 57.1 .3 17.3 .3 6.2 .3-65.6 .3 114.3 .3 21.7 .3 20.1 .3-12.5 .3 72.7 .3-6.7 .3-7.8 .3-34.9 .3 15.3 .3-117.2 .3 71.9 .3-94.1 .3 173.5 0-306.8 .3 262.2 .3-125.1 .3 19.5 .3 8.9 .3 141.3 .3-53.6 .3 21.3 .3-119.8 .3-32.2 .3-78.4 .3-14.9 .3 34.2 .3 132.7 .3-91.3 .3 21.6 .3-63.3 .3 129.7 .3-146.8 .3 114.7 .3-82.2 .3 81.3 .3-92.2 .3-11.5 .3-56.1 .3 0 0 306.8 .3-306.8 .3 0 .3 11.3 .3-11.3 .3 63.1 .3-63.1 .3 50.4 .3-10.6 .3 48.1 .3 68.6 .3 92.2 .3-55.6 .3 29 .3-75 .3 63.3 .3-41.4 .3 62.8 .3-72.3 .3 8 .3-118.3 .3 87 .3-91.7 .3-44.5 0 306.8 .3-275 .3-27.4 .3 136.5 .3-32.3 .3 70.5 .3-108.4 .3 103.1 .3-57.8 .3-24.3 .3-91.7 .3 0 .3 0 .3 0 .3 0 0 306.8 .3-306.8 .3 0 .3 31.6 .3 29.3 .3-60.9 .3 68 .3-15.8 .3 86.5 .3-39.8 .3 57.8 .3-65.8 .3-28.8 .3 6.9 .3 60.6 .3-54.9 .3 90.6 .3-48.1 .3 82.8 .3-59.7 .3 31.4 .3-44 .3 58.9 .3-77.8 .3 53 .3-161.8 0 306.8 .3-267.2 .3 80 .3-47.4 .3 44.5 .3-66.9 .3-6.3 .3 36.1 .3-21.7 .3-46.2 .3 147.6 .3-159.3 0 306.8 .3-306.8 .3 156.1 .3-26.7 .3-58.4 .3 11.4 .3-23.7 .3-58.7 .3 24.4 .3 14.1 .3 15.2 .3-53.7 .3 26.1 .3-26.1 .3 0 .3 0 .3 4.7 .3-4.7 .3 39.6 .3-39.6 .3 79.5 .3-30.2 .3 6.7 .3-18.6 .3 111.1 .3-50.7 .3 57.4 .3-42.6 .3-112.6 0 306.8 .3-158.8 .3-33.6 .3 90.9 .3-73.8 .3 121.5 .3-53 .3 43.6 .3-108.4 .3-34.2 .3-12.8 .3 88.1 .3-99.8 .3 55.3 .3 175 0-306.8 .3 129.5 .3-13.2 .3-44.7 .3 53.2 .3-92.8 .3 83.2 .3-50.3 .3 119.2 .3-80.5 .3 123.1 .3-165.3 .3 3.9 .3-19.1 .3-46.2 0 306.8 .3-167.4 .3-43.7 .3 41.4 .3-13.1 .3 144.1 .3-44.7 .3 49.9 .3-15.5 .3 49 .3-22.7 .3-17.2 .3-59.7 .3 49.5 .3-37.9 .3 11.4 .3-68.9 .3 55.4 .3-37.4 .3 14.3 .3-71.9 .3 185.1 0-306.8 .3 79 .3-62.1 .3 146.1 .3-68.6 .3 83 .3-42.2 .3 32.5 .3-38 .3 49.9 .3-50.9 .3 17.3 .3-119.8 .3 112.8 .3-31.5 .3 91.8 .3-60.6 .3 89.8 .3 15.6 .3 24.2 .3-38.9 .3-.4 .3-102.9 .3 103.9 .3-30.5 .3 51.9 .3 25.3 .3 20.9 .3-146.5 .3-151.1 0 306.8 .3-92 .3-83.1 .3 86.9 .3-123.4 .3 84.6 .3-106.4 .3 113.4 .3-86.3 .3 67.7 .3 48.9 .3 89.7 .3-7.5 .3-22.4 .3-72.3 .3 43.9 .3-39.6 .3 97.9 0-306.8 .3 296.3 .3-137.9 .3 28.9 .3-69.5 .3 105 .3-150.5 .3 36.6 .3 34.4 .3 163.5 .3-65.4 .3 57.7 .3-34 .3 41.7 .3-45.5 .3-33.1 .3-45.8 .3 51.7 .3-.3 .3 60.5 .3-91 .3 46.6 .3-3.7 .3 60.6 0-306.8 .3 275 .3-77.4 .3-8.5 .3-55.8 .3 78.4 .3-85.6 .3 89.6 .3-20.7 .3 57.9 .3-109.2 .3-43.8 .3-61.9 .3 61.4 .3-40.6 .3-58.8 0 306.8 .3-191.6 .3-42.3 .3 62.9 .3-121.9 .3 56 .3-69.9 .3 0 .3 0 .3 6.6 .3-6.6 .3 27.4 .3-27.4 .3 96.5 .3-96.5 .3 4.3 .3-1.7 .3 42.4 .3-45 .3 96.5 .3-6 .3 50.9 .3-33.1 .3 81.2 .3-114 .3 231.3 0-306.8 .3 63.7 .3-63.7 .3 171.9 .3-58.5 .3-22.3 .3 21.9 .3 151.9 .3-62 .3 84.6 .3-42.7 .3 19.4 .3-4.2 .3 46.8 .3-2.8 .3-304 0 306.8 .3-76.6 .3-69 .3 65.6 .3-146.2 .3-6.7 .3-73.9 0 306.8 .3-259 .3 27.4 .3 30.7 .3 102.7 .3-70 .3-26.4 .3-54.7 .3 106.2 .3-8.7 .3 10.8 .3-21.5 .3 54.3 .3-108.7 .3 161 .3-99.2 .3 94.4 .3-92.8 .3 38 .3-10.8 .3 11 .3-191.5 0 306.8 .3-167.6 .3 2.7 .3-75.2 .3 95.1 .3-21 .3 16.2 .3-26 .3 50.9 .3-64.5 .3-20.7 .3 1 .3 77.3 .3-75.7 .3 47.2 .3-34.4 .3 53 .3-127.5 .3 109.4 .3 104.8 .3 36 .3-12 .3-72.3 .3-121.2 .3 65.4 .3-15.9 .3 62.6 .3-62.9 .3-131.5 0 306.8 .3-272.1 .3-34.7 .3 74.8 .3-73.4 .3 48.7 .3-19.1 .3 17.5 .3-21.1 .3 63.8 .3-65.4 .3 51 .3-76.8 .3 65.4 .3-60 .3 89.8 .3 211.6 0-306.8 .3 94.1 .3 11.9 .3-35.6 .3 153 .3 25 .3 58.4 .3-83 .3 83 .3-26.7 .3 19.3 .3-78.1 .3-82.2 .3-59.6 .3 21.8 .3-18.4 .3-17.6 .3-64 .3 59.3 .3-17.2 .3 24.4 .3-39.6 .3 66.2 .3-47.4 .3 76.6 .3-20.6 .3 76.7 .3-49.1 .3 124.8 .3-109 .3-146.4 0 306.8 .3-118.7 .3-8.4 .3 83.7 .3-44.8 .3-18.4 .3-74.1 .3 118.7 .3 12.4 .3 23.3 .3-82.7 .3 21 .3-43.9 .3 78.7 .3-2.5 .3 55.7 .3-17.3 .3 17.3 .3-306.8 0 306.8 .3 0 .3 0 .3-11.4 .3 11.4 .3-47.8 .3-41.7 .3-117.6 .3 67.2 .3-111.6 .3 59.9 .3 25.3 .3 36.1 .3-97.8 .3 47.3 .3-95.6 .3 56.7 .3-87.2 .3 64.7 .3-38.7 .3 64.8 .3 27.8 .3-118.6 0 306.8 .3-224 .3-82.8 .3 5.5 .3 20.3 .3 81.3 .3 37 .3 35.9 .3-171.2 .3 52.8 .3-61.6 .3 66.2 .3-7.6 .3-5.9 .3 24.4 .3 80.7 .3-33.3 .3 15 .3-109.6 .3 126.4 .3-26.5 .3 73.1 .3-10.6 .3 12.5 .3-39.6 .3 9.5 .3-84.9 .3 13.2 .3-55.3 .3 103.1 .3-24.8 .3 131.1 .3 49.7 0-306.8 .3 78.3 .3 14.7 .3-64.7 .3 110.3 .3-108.9 .3 155 .3-171.7 .3 3.7 .3-16.7 .3 109.3 .3-73.3 .3 52.6 .3-19.4 .3 93.1 .3-76.3 .3 77.5 .3-84.3 .3 171.8 .3 55.8 0-306.8 .3 124.1 .3 54.9 .3-46.4 .3 31.1 .3 20.4 .3 32.5 .3-43.9 .3 28.3 .3-49.6 .3 112.6 .3-60.8 .3-4.2 .3-46.9 .3 108.3 .3-113.6 .3 89.6 .3-43.9 .3 32.2 .3 11.8 .3-12.7 .3-.8 .3 32 .3 9.9 .3 41.9 .3 0 .3 0 .3-1.7 .3 1.7 .3 0 .3 0 .3 0 0-306.8 .3 291.8 .3 15 .3-148.7 .3 62.3 .3-30.8 .3 106.8 .3-169.7 .3 21.6 .3-27.9 .3 119.8 .3 7.8 .3 54.2 .3-74.9 .3 79.5 0-306.8 .3 306.8 .3 0 .3 0 .3-109 .3-23.6 .3 12 .3-186.2 0 306.8 .3-179.7 .3-50.2 .3 100.5 .3-118.5 .3 82.6 .3-83.5 .3 42.3 .3 4 .3 77.2 .3 8.8 .3-15.3 .3-47.1 .3 132.1 .3-47.6 .3 30.5 .3-119.3 .3 90.8 .3-123.6 .3 75 .3-108 .3 64.6 .3-117.2 .3 82.3 .3-6.1 .3 225.4 0-306.8 .3 209.9 .3-73.2 .3 73.6 .3-48.4 .3-161.9 0 306.8 .3-134.1 .3-172.7 .3 9.9 .3-9.9 .3 66.1 .3-53.3 .3 123.9 .3-55.3 .3 118 .3-86.5 .3 116.8 .3-30.2 .3 69.1 .3-49.3 .3 87.5 0-306.8 .3 279.2 .3-134.5 .3 57.1 .3-71.1 .3 37.6 .3-41.6 .3 91.4 .3-50.9 .3 55.5 .3-66 .3 125.7 .3-41 .3 22.7 .3-38.1 .3 66 .3-117.4 .3 60.2 .3-24.5 .3-67.2 .3-143.1 .3 35.4 .3 58.2 .3 88.8 .3-66.9 .3 88.1 .3-38.3 .3 39.2 .3-204.5 0 306.8 .3-19.4 .3 19.4 .3-55.7 .3 27.9 .3-95.9 .3 84.8 .3-50.4 .3 89.3 .3-2.9 .3 2.9 .3-38.1 .3 8.4 .3-107.2 .3 85.7 .3 24.9 .3-280.5 0 306.8 .3 0 .3-8.7 .3 8.7 .3-25.9 .3 25.9 .3-25 .3 25 .3 0 .3 0 .3-.7 .3 .7 .3-113.4 .3 97.3 .3-84.2 .3 30 .3-148.4 .3 111.1 .3-87.4 .3 46.7 .3 58.4 .3 1.1 .3-40.1 .3 128.9 0-306.8 .3 228.1 .3-96 .3 59.7 .3-92 .3-99.8 0 306.8 .3-191.2 .3-8.4 .3 121.1 .3-102 .3 85.8 .3-29.1 .3-27.3 .3 12 .3 11.8 .3-35.7 .3 57.2 .3-103.5 .3 57.5 .3-18.4 .3 80.7 .3-15.2 .3 104.7 .3-35 .3 21.8 .3-293.6 0 306.8 .3-199.2 .3 124.3 .3-39.2 .3-84.5 .3-44.9 .3 119 .3-73.2 .3 73.2 .3-89.5 .3 121.5 .3-66.8 .3 34.1 .3-91.1 .3 49.9 .3 166.4 0-306.8 .3 103.9 .3 176.3 .3-10.3 .3 36.9 .3-175.8 .3-7.3 .3 183.1 0-306.8 .3 221.6 .3 63.7 .3-99.8 .3 41 .3-76.9 .3 86.1 .3-22.2 .3 93.3 .3-36.2 .3 36.2 .3 0 .3-28.9 .3-277.9 0 306.8 .3-214 .3 146.9 .3-46.2 .3 37.3 .3-92.7 .3 25.8 .3-29.8 .3 12.5 .3-146.6 .3 0 .3 0 .3 0 .3 0 .3 10.4 .3 40 .3 31.6 .3-60.7 .3-9.4 .3-11.9 .3 83.2 .3-50.8 .3 76.6 .3 197.8 0-306.8 .3 0 .3 114.8 .3-105.1 .3 114.7 .3-108.9 .3-15.5 .3 0 .3 34.2 .3-34.2 .3 0 0 306.8 .3-306.8 .3 0 .3 0 .3 0 .3 0 .3 0 .3 0 0 306.8 .3-264.2 .3-25.7 .3 107.8 .3-109.7 .3 36.7 .3-51.7 .3 39.3 .3-39.3 .3 64 .3-64 .3 25 .3-10.7 .3 92.9 .3-41.6 .3 155.5 .3-29 .3 92.1 .3-58.2 .3 80.8 .3-94.6 .3 44.3 .3 19.6 .3 15.7 .3-11.8 .3-38.1 .3 12 .3-5 .3-36.4 .3 12.5 .3-39.4 .3-52.8 .3-1.1 .3 28.9 .3 .7 .3 17.9 .3 74.4 .3-6.9 .3 5.7 .3 3.9 .3-82.7 .3 2.5 .3-75.2 .3-31.1 .3 18 .3 26.3 .3-8.2 .3 25.8 .3-6.2 .3-51.5 .3 27 .3-7.9 .3-48.3 .3 9.5 .3 .9 .3 23.9 .3-33.6 .3-45.5 .3 0 .3 24.1 .3 13 .3 53.6 .3 7.6 .3 114.8 .3-58.3 .3-12.6 .3-56.7 .3-20.1 .3 25.6 .3 11.2 .3-69.1 .3-19.1 .3 1.5 .3-1.8 .3-2.1 .3 21.7 .3-1.9 .3 15.4 .3 24.9 .3 21.5 .3 .7 .3-55.8 .3 52.1 .3 14.2 .3 74.6 .3 25.3 .3 9.9 .3-15.5 .3-47 .3 10.3 .3 10.8 .3-.2 .3-19.4 .3 10.5 .3-19.5 .3 83.3 .3-49.3 .3 6.6 .3-9.8 .3 2.5 .3 30.1 .3-54 .3-33.6 .3-6.7 .3-34.6 .3 2.5 .3 54.4 .3 64.7 .3 6.6 .3 37.7 .3-68.4 .3 15.6 .3-43.8 .3-21.2 .3 13.7 .3 9.5 .3 8.6 .3 47.7 .3-65 .3 50.3 .3-191.6 0 306.8 .3-146.1 .3 97.4 .3-6.6 .3 55.3 .3-40.4 .3-10.8 .3-61.9 .3 31.7 .3 59.2 .3 22.2 .3-120.1 .3 106.1 .3-120.7 .3 108.5 .3 26.2 0-306.8 .3 306.8 .3 0 .3-10.4 .3-56.9 .3-125.8 .3 101.5 .3-86.5 .3-7 .3-56.3 .3 53.9 .3-76 .3 121.2 .3 26.2 .3-17 .3-144.1 .3 96.8 .3-69 .3 75.4 .3-109 .3 72.9 .3 4 .3-2.7 .3 21.5 .3 84.8 .3 102.5 0-306.8 .3 131 .3 57.4 .3 9.1 .3 86.4 .3-81.6 .3 1.9 .3 35.2 .3-5.8 .3-15.3 .3 28.8 .3-16.1 .3 8.6 .3-97.8 .3 79.6 .3-53.6 .3 139 0-306.8 .3 221.8 .3-12.7 .3 56.1 .3-54.1 .3 80.4 .3-291.5 0 306.8 .3-143.7 .3 143.7 .3-117 .3 72 .3-152.3 .3 37 .3 3.1 .3 1.7 .3-151.3 0 306.8 .3-112.5 .3 18.4 .3-108.1 .3 24 .3 4.2 .3 35 .3 139 0-306.8 .3 66 .3 52 .3-55.5 .3 54 .3 3.2 .3 25.5 .3-85.6 .3 22.2 .3-81.8 .3 306.8 0-306.8 .3 34.8 .3-34.8 .3 96 .3-59.5 .3 88 .3 14.9 .3 49.5 .3-18.6 .3 120.8 .3 15.7 .3-11.8 .3-98.1 .3-26.4 .3-95.3 .3 104.2 .3-35.7 .3 104.9 .3-100.9 .3 29.3 .3-6 .3 111.2 .3 7.5 .3-141.2 .3-61.1 .3 18 .3-21.2 .3 15.6 .3-28.8 .3-11.7 .3-10 .3-23.6 .3 7 .3 66 .3-45.2 .3 11.9 .3 72.7 .3 68.1 .3-20.6 .3 30.1 .3-80.2 .3 12.4 .3-4.5 .3-34.7 .3-32.8 .3 53.1 .3-35.9 .3 7.3 .3 56.2 .3 75.8 .3 38.2 .3-11.8 .3-54.1 .3-11.3 .3-25.2 .3-21.8 .3-23.8 .3 28.6 .3-64.5 .3-54.8 .3 100.2 .3 25.1 .3 28.9 .3-18.6 .3-36.1 .3 53.1 .3 5.2 .3 77.8 .3-57.8 .3-57 .3 14.8 .3-6.8 .3 2.7 .3-4.7 .3 20.9 .3 45.9 .3 25.7 .3-39.2 .3-66.9 .3 39.5 .3 9.4 .3 76 .3 10.2 .3-31.3 .3 2.8 .3 36 .3-13.8 .3-75.7 .3 9 .3-45.4 .3-35.4 .3 61 .3 87.8 .3-7.6 .3-65.4 .3 33.7 .3 70.9 .3 0 .3 0 .3 0 .3 0 .3 0 .3 0 .3 0 .3 0 .3 0 0-306.8 .3 306.8 .3-1.5 .3 1.5 .3-140.2 .3 61.5 .3-228.1 0 306.8 .3-104.4 .3 2.3 .3-16.6 .3 15.4 .3-4 .3 54.1 .3-57.6 .3 75.1 .3-28.5 .3 64.2 .3-79.3 .3 2.2 .3-116.4 .3 110.6 .3-88.9 .3-44.9 .3-74.3 .3 108.5 .3 57.6 .3 86.4 .3-100.7 .3-3.4 .3-59.5 .3 103.6 .3-208.3 0 306.8 .3-152.5 .3 56.3 .3-49.4 .3 54.3 .3-215.5 0 306.8 .3-187.9 .3 85.2 .3-68.1 .3 45.7 .3-71.3 .3 62.4 .3-18.6 .3 152.6 0-306.8 .3 30.4 .3 31.3 .3 42.1 .3-34.9 .3 133.7 .3 13.3 .3 16.1 .3-111.1 .3 69.1 .3-35.2 .3 82.4 .3-41.5 .3 71.7 .3-54.4 .3 17.5 .3-104.8 .3 47.5 .3-46.7 .3 10.7 .3-57.5 .3 77.5 .3-92.9 .3 73.9 .3 168.6 0-306.8 .3 120.3 .3 39.2 .3-15.5 .3 30.8 .3-92.6 .3 69.4 .3-127.5 .3 82.4 .3-106.5 .3 48.8 .3-21.4 .3 32.9 .3-60.3 .3 11.4 .3 17.4 .3 84.2 .3 34.3 .3 69.8 .3 10.5 .3 72.6 .3-44.4 .3 51 .3-25.6 .3 25.6 0-306.8 .3 271.8 .3-35.4 .3 11.9 .3-19.9 .3 46.1 .3-98.6 .3 60.6 .3-33.7 .3 64.7 .3-79 .3 106.8 .3 11.5 .3 0 .3-6.5 .3-4.5 .3-295.8 0 306.8 .3-129.3 .3 6.5 .3-62.9 .3 90.3 .3-104.7 .3-26.5 .3 37.7 .3 13.5 .3-131.4 0 306.8 .3-109 .3-7.3 .3-82.7 .3 53.7 .3-63.6 .3 39.5 .3-21.8 .3 40.6 .3-25.6 .3 38.3 .3-97.9 .3-71 0 306.8 .3-171.2 .3-31.9 .3 14 .3-55.5 .3-62.2 0 306.8 .3-261.9 .3-44.9 .3 100.1 .3-7.9 .3 8.9 .3 2.2 .3 104.3 .3-43.1 .3 43.8 .3-80 .3 48.3 .3-74.6 .3 17.9 .3 4.6 .3-43.8 .3 18.3 .3 28 .3-75 .3 59.1 .3-3.2 .3 7.1 .3 15.4 .3 84.6 .3-215 0 306.8 .3-32.5 .3-45.4 .3 44.5 .3 33.4 .3-29.9 .3-24.9 .3-76.2 .3 .3 .3-104.5 .3 19.9 .3 37 .3 35.2 .3-63.3 .3-14.9 .3-1.4 .3 63.1 .3-19 .3 108.3 .3-86.8 .3 8.4 .3-83.2 .3 63.8 .3-1.4 .3 28.3 .3-21.9 .3 53.6 .3-21.2 .3-176.1 0 306.8 .3-94 .3-39.9 .3-89 .3-78.9 .3 39.8 .3-25.6 .3 108.4 .3-6 .3 24 .3-28.9 .3 42.6 .3-65.4 .3 83.8 .3 21.6 .3 86.4 .3-91.5 .3 43.7 .3 68.9 0-306.8 .3 224.7 .3 23.1 .3-137.6 .3 111.7 .3-98.8 .3 24"/>
<rect class="ax" x="1237.5" y="875.5" width="1049.9" height="340.8"/>
<path class="tk" d="M1500 1216.3v-10.5M1500 875.5v10.5M1762.5 1216.3v-10.5M1762.5 875.5v10.5M2024.9 1216.3v-10.5M2024.9 875.5v10.5M1237.5 1045.9h10.5M2287.4 1045.9h-10.5M1237.5 875.5h10.5M1237.5 1216.3h10.5M2287.4 875.5h-10.5M2287.4 1216.3h-10.5M1237.5 875.5v10.5M1237.5 1216.3v-10.5M2287.4 875.5v10.5M2287.4 1216.3v-10.5"/>
</g>
<g id="ax-NPM">
<path class="d" clip-path="url(#c6)" d="M70.5 1334.7l.3-4.3 .3-1.8 .3-4.3 .3-1.7 .3-4.3 .3-1.9 .3-4.5 .3-1.9 .3-4.2 .2-1.2 0 307.8 .1-.4 .3-4.3 .3-1.8 .3-5.1 .3-1.6 .3-4.8 .3-1.3 .3-5.2 .3-1.9 .3-5.4 .3-1.6 .3-5.4 .3-1.8 .3-5.9 .3-1.8 .3-5.3 .3 .2 .3-3.7 .3 .5 .3-3.8 .3-.2 .3-3.8 .3 .5 .3-3.4 .3-.7 .3-3.6 .3 .5 .3-3.9 .3 3.1 .3-1.3 .3 3.4 .3-1.9 .3 3.9 .3-1.2 .3 3.1 .3-1.2 .3 4.2 .3-1.9 .3 3.9 .3-1.3 .3 3.3 .3-.8 .3 3.8 .3-1.9 .3 3.3 .3-.9 .3 3.8 .3-1.7 .3 3.7 .3-1.6 .3 4.4 .3-1.8 .3 3.3 .3-.8 .3 3.5 .3-1.1 .3 3.5 .3-2.4 .3 4.9 .3-2 .3 4.2 .3-1.9 .3 3.5 .3-1.5 .3 4.4 .3-1.5 .3 3.7 .3-1.5 .3 3.4 .3-1.5 .3 4 .3-1.3 .3 3.7 .3-1.5 .3 3.9 .3-4.6 .3-.6 .3-6.1 .3-1 .3-4.9 .3-.9 .3-5.9 .3-.8 .3-6.3 .3 1.4 .3-1.4 .3 4.4 .3-1.3 .3 4.3 .3-.9 .3 4 .3-1.6 .3 4 .3-.9 .3 4 .3-.9 .3 3.7 .3-1.1 .3 4.1 .3-.6 .3 3.4 .3-.2 .3 2.9 .3-1 .3 4.8 .3-1.6 .3 3.6 .3-.6 .3 3.6 .3-1.8 .3 4.7 .3-2.2 .3 5 .3-2.1 .3 4.4 .3-2.5 .3 5.2 .3-1.5 .3 3.6 .3-1.9 .2 3.7 0-307.8 .1 .9 .1-.9 0 307.8 .2-1 .2 1 0-307.8 .1 .8 .2-.8 0 307.8 .1-.5 .1 .5 0-307.8 .2 .7 .1-.7 0 307.8 .2-.9 .2 .9 0-307.8 .1 .6 .1-.6 0 307.8 .2-.7 .2 .7 0-307.8 .1 .4 .1-.4 0 307.8 .2-.6 .1 .6 0-307.8 .2 .8 .3-.3 .3 3.9 .3-1 .3 4.6 .3-2.2 .3 6.1 .3-2.4 .3 6.4 .3-5.9 .3 9.7 .3-6.4 .3 10.3 .3-7.8 .3 8.2 .3-5.2 .3 9.4 .3-6.3 .3 9.3 .3-9.8 .3 8.6 .3-7.8 .3 11.1 .3-9.3 .3 12.3 .3-7.5 .3 9.1 .3-7.2 .3 8.6 .3-8.8 .3 11.4 .3-6.9 .3 11.7 .3-9.4 .3 11.4 .3-9.1 .3 9.8 .3-10.2 .3 9.9 .3-8.9 .3 9.5 .3-5.4 .3 9.8 .3-10.6 .3 12.9 .3-11.4 .3 12.3 .3-6.1 .3 10.7 .3-11.3 .3 11.6 .3-10.2 .3 11.1 .3-10.9 .3 10.3 .3-9.6 .3 10.4 .3-9.7 .3 12.4 .3-10.4 .3 13 .3-10.6 .3 12.4 .3-7.8 .3 7 .3-7.2 .3 9.5 .3-11.6 .3 11.6 .3-9.8 .3 14.3 .3-14.9 .3 10.7 .3-9.9 .3 9.8 .3-8.7 .3 8.4 .3-6.7 .3 8.7 .3-7.8 .3 12.6 .3-9.4 .3 9.6 .3-6.6 .3 6.5 .3-8.5 .3 11.8 .3-6.6 .3 7.8 .3-9 .3 12.5 .3-11.6 .3 10.9 .3-10.4 .3 10.9 .3-11.1 .3 9.9 .3-9.2 .3 10.3 .3-9.9 .3 10.5 .3-6.9 .3 9.8 .3-9.1 .3 10.3 .3-12.1 .3 11.3 .3-5.6 .3 10 .3-9.6 .3 10 .3-10 .3 15.4 .3-13.9 .3 14.2 .3-10.6 .3 11.7 .3-11.5 .3 12.6 .3-12.7 .3 11.5 .3-12.5 .3 13.4 .3-13.2 .3 12.3 .3-12.3 .3 9.9 .3-5.2 .3 7.7 .3-10 .3 12.3 .3-9.9 .3 11.5 .3-8.6 .3 12.4 .3-10.3 .3 9.9 .3-9 .3 9.7 .3-12.3 .3 11.4 .3-10.7 .3 11 .3-6.4 .3 13.7 .3-14.2 .3 11.2 .3-12.4 .3 11.3 .3-14 .3 15.2 .3-14.4 .3 14.8 .3-11.6 .3 13 .3-8.7 .3 12.4 .3-15.2 .3 11.7 .3-7.1 .3 13.7 .3-13.1 .3 15.2 .3-12 .3 10.7 .3-9.8 .3 10 .3-8.8 .3 13.3 .3-10.9 .3 10 .3-9.3 .3 12.2 .3-12.4 .3 13.4 .3-11.9 .3 8.3 .3-9.1 .3 14.6 .3-12.6 .3 10.7 .3-15.1 .3 12.8 .3-10.5 .3 9 .3-8.7 .3 12.1 .3-9.5 .3 8.8 .3-11.8 .3 10.6 .3-10.6 .3 17.5 .3-13.4 .3 7.4 .3-6 .3 10.5 .3-10.6 .3 12.4 .3-13.4 .3 18.3 .3-15.2 .3 10.1 .3-6.6 .3 9.1 .3-11.9 .3 13.6 .3-11.2 .3 11.3 .3-9.8 .3 9 .3-9.2 .3 10.5 .3-9.1 .3 11.3 .3-11.6 .3 11.4 .3-9.5 .3 13.8 .3-13.4 .3 10.9 .3-10.7 .3 10.7 .3-8 .3 11.6 .3-14.1 .3 11.6 .3-10 .3 13 .3-11.7 .3 12.2 .3-14 .3 14.5 .3-7.9 .3 11.7 .3-10.3 .3 11 .3-13.3 .3 14 .3-11.1 .3 11.9 .3-10.9 .3 12.3 .3-11.7 .3 15.7 .3-14.7 .3 9.6 .3-5.8 .3 11.4 .3-12.6 .3 13 .3-10.5 .3 11.4 .3-13.4 .3 13 .3-10.3 .3 9.6 .3-13.9 .3 15.7 .3-11 .3 13.3 .3-14.4 .3 13.2 .3-10.9 .3 11.3 .3-12.8 .3 14.1 .3-12.3 .3 13.9 .3-12.3 .3 14.3 .3-11.6 .3 12.8 .3-10.7 .3 9.8 .3-12.5 .3 8.4 .3-10 .3 9.8 .3-10.2 .3 13.3 .3-17.3 .3 13.1 .3-14 .3 11.8 .3-10.7 .3 12.9 .3-13.4 .3 12.9 .3-15.5 .3 13.4 .3-12.5 .3 10.8 .3-13 .3 12.3 .3-10.7 .3 11.5 .3-12.5 .3 17.2 .3-12.1 .3 10.1 .3-12.1 .3 15.7 .3-14.3 .3 14.2 .3-8.3 .3 9.8 .3-12 .3 15.2 .3-12.5 .3 11.4 .3-9.5 .3 13.5 .3-12.3 .3 14.2 .3-13.9 .3 16.8 .3-12.6 .3 11.4 .3-12 .3 8 .3-7.5 .3 12.8 .3-13.3 .3 10.2 .3-7.4 .3 12.4 .3-11.9 .3 13.7 .3-12.6 .3 10.7 .3-12 .3 16.2 .3-15.4 .3 14.5 .3-8.6 .3 11.1 .3-13.8 .3 12.5 .3-11 .3 13.2 .3-10.4 .3 8.7 .3-5.7 .3 12.4 .3-12.8 .3 14.1 .3-13.7 .3 18.1 .3-14.5 .3 11.7 .3-13.4 .3 16.9 .3-13.1 .3 13.1 .3-12.9 .3 11.5 .3-15.5 .3 14.7 .3-15.3 .3 12.7 .3-11.3 .3 14.8 .3-12.3 .3 13.5 .3-11.3 .3 14.9 .3-14.5 .3 12.3 .3-10.5 .3 13.7 .3-14.4 .3 13.3 .3-9.5 .3 12.4 .3-13.2 .3 14 .3-12.8 .3 12.8 .3-11.4 .3 12.2 .3-12 .3 12.2 .3-10.5 .3 16.3 .3-12.3 .3 17 .3-16.9 .3 11.2 .3-14.3 .3 20.3 .3-16.7 .3 13.2 .3-14.5 .3 13.2 .3-13.3 .3 15.4 .3-15 .3 15 .3-12 .3 16.3 .3-13.4 .3 16 .3-14.6 .3 16.5 .3-16.3 .3 12.2 .3-15.2 .3 18.7 .3-13.7 .3 10.7 .3-12.5 .3 19.4 .3-19.3 .3 17 .3-17.1 .3 19.6 .3-17.3 .3 14.7 .3-10.6 .3 13.5 .3-12 .3 15.1 .3-14.7 .3 16.6 .3-14.1 .3 16.7 .3-16.4 .3 16.6 .3-10.4 .3 12.9 .3-16 .3 15.4 .3-9.6 .3 13.5 .3-14.1 .3 9.7 .3-9.5 .3 16.2 .3-12.7 .3 15.1 .3-20.3 .3 20 .3-17.6 .3 17.9 .3-15.9 .3 11 .3-16.7 .3 21.9 .3-17.1 .3 15.9 .3-11.2 .3 14.9 .3-12.4 .3 12.5 .3-14.9 .3 19.5 .3-13.3 .3 14.9 .3-15.3 .3 15.9 .3-15.2 .3 17.2 .3-10.6 .3 15.9 .3-17.1 .3 15.6 .3-10.6 .3 13.5 .3-16.9 .3 18.4 .3-14 .3 13.2 .3-11.2 .3 13.3 .3-14.8 .3 15.5 .3-11.6 .3 15.2 .3-14.2 .3 17.8 .3-14 .3 14.3 .3-15.7 .3 17.1 .3-14.5 .3 17 .3-12.9 .3 15.2 .3-13.7 .3 15 .3-12.6 .3 16.3 .3-15.6 .3 16.2 .3-14.2 .3 18.2 .3-15.8 .3 15.9 .3-10.3 .3 17.8 .3-14.9 .3 15.4 .3-10.5 .3 9.8 .3-10.3 .3 14 .3-12.7 .3 11.3 .3-7.1 .3 11.5 .3-9 .3 10 .3-6.2 .3-300 .6 307.8 .6-307.8 .7 307.8 .6-307.8 .6 307.8 .6-307.8 .6 307.8 .7-307.8 .6 307.8 .3-303.8 .2-4 0 307.8 .1-1.4 0 1.4 0-307.8 .3 9.8 .3-9.8 0 307.8 0-.3 0 .3 0-307.8 .3 12.2 .3-6.5 .3 10.4 .3-10.6 .3 11.1 .3-5.8 .3 12.4 .3-10.6 .3 12 .3-10.7 .3 12.9 .3-7 .3 9.9 .3-8.5 .3 8.7 .3-7.9 .3 10 .3-6.8 .3 11.4 .3-7.1 .3 9 .3-4.6 .3 7.4 .3-7.2 .3 9.2 .3-7.2 .3 8.9 .3-7 .3 10.3 .3-7 .3 9.5 .3-7.2 .3 9.2 .3-7.5 .3 10.2 .3-5.4 .3 9.5 .3-5 .3 8.9 .3-4.1 .3 8.6 .3-5.7 .3 8.9 .3-3.8 .3 7.3 .3-3.4 .3-2 .3-15 .3-6.5 .3-17.1 .3 1.9 .3-7.2 .3 4.7 .3-8.1 .3 5.7 .3-8.2 .3 4.5 .3-5.4 .3 6.6 .3-5.5 .3 8.1 .3-5 .3 9.7 .3-7.2 .3 8.7 .3-7 .3 9.8 .3-6.6 .3 10.9 .3-6.4 .3 8.7 .3-7.2 .3 8.9 .3-4.1 .3 8 .3-6.6 .3 11.8 .3-10.3 .3 10.1 .3-6.4 .3 12.2 .3-11.1 .3 11.2 .3-9.2 .3 13.4 .3-9.7 .3 12.3 .3-10.8 .3 12.9 .3-9.3 .3 12.5 .3-8.9 .3 10.3 .3-9.7 .3 11.1 .3-9.3 .3 10.2 .3-9.3 .3 10.9 .3-6.3 .3 9.5 .3-6.7 .3 10.2 .3-6.7 .3 9 .3-8.5 .3 10.6 .3-6.5 .3 9.4 .3-8.1 .3 10.5 .3-6.5 .3 7 .3-7.5 .3 8.5 .3-7.8 .3 10.3 .3-4.2 .3 5.9 .3-4.4 .3 8.8 .3-6.5 .3 11.1 .3-8.7 .3 9.7 .3-6.4 .3 11.7 .3-7.7 .3 8.9 .3-7.7 .3 13.4 .3-9 .3 12.5 .3-12.5 .3 13.2 .3-10 .3 12.8 .3-7.9 .3 11 .3-9.7 .3 10.6 .3-8.9 .3 14.4 .3-9.5 .3 8.1 .3-5.4 .3 7.9 .3-8.9 .3 13.3 .3-6.3 .3 8.2 .3-6.1 .3 10.1 .3-7.1 .3 10.3 .3-6 .3 10.5 .3-10.5 .3 12.8 .3-5.1 .3 7.2 .3-5.9 .3 7.2 .3-4.2 .3 8.8 .3-6.1 .3 7.5 .3-5.6 .3 9.1 .3-5.9 .3 8.7 .3-7.6 .3 6.7 .3-8.5 .3 11.2 .3-8.3 .3 10.4 .3-5.9 .3 7.4 .3-6.2 .3 8.7 .3-5.5 .3 9.4 .3-7.5 .3 10 .3-5.9 .3 8.8 .3-5.9 .3 10.9 .3-9.8 .3 10.9 .3-9 .3 7.5 .3-6.4 .3 7.6 .3-5.5 .3 11.1 .3-9.2 .3 9.1 .3-7.6 .3 11.6 .3-9.6 .3 11.1 .3-9.3 .3 11.1 .3-10.6 .3 12 .3-7.9 .3 10 .3-11.2 .3 9.7 .3-3.8 .3 9.1 .3-9 .3 10.8 .3-9.2 .3 8.7 .3-10 .3 9.2 .3-6 .3 7.3 .3-6.2 .3 10.2 .3-7.2 .3 11.5 .3-8.9 .3 8.3 .3-5.5 .3 8.8 .3-9.2 .3 7.6 .3-5.3 .3 6.5 .3-7.6 .3 8.2 .3-8.1 .3 12.7 .3-9.9 .3 8.6 .3-6.6 .3 7.8 .3-9.8 .3 12.4 .3-6.4 .3 9.5 .3-8.8 .3 8.5 .3-6 .3 10.5 .3-7.5 .3 8.6 .3-6.8 .3 11.6 .3-8.8 .3 8.4 .3-7 .3 11.5 .3-9.6 .3 8.3 .3-10.3 .3 10.4 .3-7.7 .3 8 .3-6.4 .3 9.6 .3-10.9 .3 12.6 .3-8.2 .3 8.5 .3-7.6 .3 9.9 .3-6.4 .3 11.8 .3-12.6 .3 10.6 .3-6.1 .3 8.2 .3-5.9 .3 13.6 .3-10.3 .3 11.6 .3-9.4 .3 8.5 .3-9.8 .3 9.3 .3-5.3 .3 8.6 .3-9.5 .3 10.7 .3-10 .3 10.4 .3-6.3 .3 11.5 .3-11.1 .3 12.8 .3-11.4 .3 11.9 .3-10.1 .3 12.8 .3-9.2 .3 8.5 .3-6.5 .3 13.5 .3-12.7 .3 12.1 .3-9.9 .3 12.3 .3-9.5 .3 10.4 .3-9.8 .3 8.7 .3-8.6 .3 11.2 .3-9 .3 14.1 .3-11.8 .3 11 .3-7.6 .3 10.2 0-307.8 0 1.2 0-1.2 0 307.8 .3-10.6 .5-297.2 .6 307.8 .6-307.8 .7 307.8 .6-307.8 .6 307.8 .6-307.8 .6 307.8 .7-307.8 1 6.7 .3-6.7 0 307.8 0-.8 0 .8 0-307.8 .3 8.2 .3-8.2 0 307.8 0-.1 0 .1 0-307.8 .3 12.5 .3-12.5 0 307.8 0-.1 0 .1 0-307.8 .3 14.8 .3-10.6 .3 8.8 .3-7.8 .3 9.9 .3-7.6 .3 12.9 .3-11.4 .3 9 .3-8.5 .3 10.9 .3-7.5 .3 8 .3-6.5 .3 11.8 .3-9.5 .3 14.3 .3-12.1 .3 11.9 .3-10.2 .3 11.3 .3-9.6 .3 11.8 .3-10.8 .3 11.9 .3-10.1 .3 9.9 .3-8.3 .3 9.3 .3-6.4 .3 11.9 .3-10.9 .3 10.7 .3-10.7 .3 9.1 .3-7.3 .3 7.1 .3-8.1 .3 8.3 .3-7.2 .3 12.3 .3-9.4 .3 9.2 .3-7.1 .3 6.2 .3-5.4 .3 10 .3-9.2 .3 7.3 .3-9.5 .3 10.9 .3-6.3 .3 9 .3-9.6 .3 10 .3-7.5 .3 8.6 .3-11.2 .3 8.7 .3-8.8 .3 13.3 .3-10 .3 11.4 .3-10.2 .3 11.5 .3-10.3 .3 10 .3-9.1 .3 12.3 .3-9.9 .3 7.6 .3-8.1 .3 12.5 .3-7.1 .3 6.6 .3-7.9 .3 8.9 .3-10.1 .3 10.1 .3-10.2 .3 12.3 .3-8.1 .3 8.3 .3-6.5 .3 9.1 .3-8.7 .3 7.7 .3-8.7 .3 10.4 .3-7.3 .3 7.9 .3-8.4 .3 10.8 .3-10.2 .3 8.8 .3-3.9 .3 7.4 .3-8.5 .3 9.9 .3-9.1 .3 8.7 .3-9.8 .3 8.2 .3-7.5 .3 9.2 .3-6.1 .3 7.5 .3-8.3 .3 9.2 .3-6.6 .3 11 .3-10.3 .3 10.6 .3-7.2 .3 9.1 .3-8.7 .3 9.8 .3-10.8 .3 9 .3-5.1 .3 8.2 .3-8.5 .3 9.3 .3-7.6 .3 9.1 .3-7.3 .3 7.4 .3-7 .3 9.1 .3-5.6 .3 9.6 .3-11 .3 11.8 .3-7.1 .3 8.5 .3-5.8 .3 7.9 .3-9.6 .3 10 .3-9.9 .3 10.4 .3-9.4 .3 11.6 .3-12 .3 10.5 .3-5.8 .3 8 .3-7.5 .3 11 .3-8.9 .3 8.9 .3-6.3 .3 5.3 .3-8.7 .3 9.3 .3-8.7 .3 9.9 .3-8.4 .3 9.4 .3-8.6 .3 11.2 .3-9.5 .3 7.7 .3-6.2 .3 10.9 .3-8.8 .3 8.9 .3-8.1 .3 9.3 .3-9 .3 10.1 .3-5 .3 8.7 .3-9.5 .3 9.3 .3-8.6 .3 8.8 .3-4.7 .3 5.9 .3-8.1 .3 10.5 .3-8.9 .3 11 .3-8.6 .3 6.3 .3-8.1 .3 9.2 .3-8.1 .3 10.6 .3-10 .3 8.7 .3-6.3 .3 9.7 .3-7.3 .3 11.2 .3-11.4 .3 10.6 .3-8.6 .3 7.3 .3-10.1 .3 12.5 .3-6.4 .3 7.5 .3-7.4 .3 6.9 .3-6.9 .3 9.8 .3-10.1 .3 12.9 .3-10.6 .3 10.9 .3-9.9 .3 6 .3-6.6 .3 8.2 .3-9.9 .3 10.7 .3-9.7 .3 9.1 .3-7.9 .3 9.2 .3-6.5 .3 9.3 .3-8.2 .3 10.8 .3-10.5 .3 9.4 .3-5.6 .3 8.6 .3-5 .3 11.7 .3-11.3 .3 10.5 .3-8.9 .3 9.1 .3-9.4 .3 9.2 .3-9 .3 8.7 .3-5.9 .3 9.2 .3-11 .3 15 .3-12.7 .3 11.9 .3-9.7 .3 9.6 .3-8.1 .3 7 .3-9.7 .3 11.6 .3-7.1 .3 9.8 .3-12.5 .3 7.6 .3-8.4 .3 13.1 .3-7.7 .3 8.3 .3-8.6 .3 8.3 .3-7.8 .3 10.8 .3-10 .3 8 .3-6.2 .3 6 .3-8 .3 10.8 .3-7.1 .3 10.1 .3-9.2 .3 10.5 .3-9.2 .3 8.7 .3-8.4 .3 6.9 .3-8.9 .3 10.8 .3-11 .3 11.2 .3-7.9 .3 8.1 .3-5.4 .3 9.3 .3-9.4 .3 8.2 .3-9.2 .3 10.6 .3-7.3 .3 7.7 .3-6.8 .3 9.7 .3-10.2 .3 7.8 .3-8.9 .3 10.5 .3-7.9 .3 6.9 .3-7 .3 10.4 .3-9.7 .3 9.4 .3-8.8 .3 9.9 .3-9.7 .3 10.3 .3-8.1 .3 8.8 .3-10 .3 8.3 .3-6.3 .3 11.3 .3-8.3 .3 8.9 .3-10.1 .3 7.1 .3-9.5 .3 9.7 .3-7.1 .3 8.8 .3-8.3 .3 6.5 .3-6.1 .3 7.6 .3-8.3 .3 8.9 .3-7.9 .3 6.9 .3-5.7 .3 8.2 .3-8.8 .3 8 .3-9.3 .3 12 .3-8.7 .3 13.7 .3-10.2 .3 8.8 .3-8.3 .3 7.8 .3-8.4 .3 12.7 .3-8.2 .3 7.3 .3-10.9 .3 12.1 .3-5.9 .3 7.1 .3-8.9 .3 11.1 .3-8.9 .3 9 .3-9.3 .3 8.1 .3-7.2 .3 10.5 .3-11.4 .3 11.3 .3-9.2 .3 9.2 .3-5.8 .3 7.7 .3-9.9 .3 7.7 .3-8.6 .3 10.6 .3-11.9 .3 10 .3-6.6 .3 8.5 .3-8.4 .3 7.4 .3-6.4 .3 5.8 .3-8.4 .3 9.3 .3-6.7 .3 8.5 .3-8.9 .3 10.5 .3-8 .3 8.6 .3-6 .3 10.8 .3-11.3 .3 8.9 .3-7.7 .3 11.5 .3-10.4 .3 10.4 .3-7.1 .3 8.6 .3-11.7 .3 12.4 .3-4.9 .3 8.7 .3-11.5 .3 9.4 .3-9.6 .3 10.6 .3-7.8 .3 7.4 .3-9.5 .3 11.7 .3-9.3 .3 9.5 .3-8.6 .3 9 .3-9.9 .3 9.8 .3-8.6 .3 12 .3-5.9 .3 7.7 .3-10.2 .3 11.2 .3-9.7 .3 8.1 .3-10 .3 6.7 .3-5.8 .3 8.5 .3-9.1 .3 9.3 .3-8.6 .3 7.9 .3-10.5 .3 13.4 .3-9.4 .3 7.9 .3-7.6 .3 8.7 .3-6.8 .3 6.8 .3-4.8 .3 7.5 .3-7 .3 8.4 .3-7.3 .3 8.8 .3-5.9 .3 9.4 .3-11.1 .3 10.7 .3-7.5 .3 8.5 .3-9.6 .3 7.2 .3-6 .3 6.7 .3-7.5 .3 9.1 .3-5.3 .3 6.6 .3-7.6 .3 9.8 .3-9 .3 10.2 .3-6 .3 7.5 .3-9.2 .3 8.4 .3-8 .3 9 .3-6.3 .3 7.8 .3-8.8 .3 11.8 .3-10.9 .3 11 .3-9.5 .3 9.2 .3-5.7 .3 9.5 .3-7.8 .3 7.3 .3-10.5 .3 12.9 .3-9.3 .3 8.2 .3-5.9 .3 9 .3-8.4 .3 8.5 .3-10.1 .3 10.9 .3-4.7 .3 8.6 .3-6.9 .3 6.6 .3-7.7 .3 7.6 .3-7.7 .3 5.7 .3-9.2 .3 7.9 .3-5.3 .3 5 .3-8.2 .3 7 .3-5.6 .3 6.7 .3-8.3 .3 9 .3-8.2 .3 8.7 .3-9.2 .3 8.4 .3-8.5 .3 10.1 .3-8.2 .3 11 .3-4.5 .3 6.5 .3-6.7 .3 6.2 .3-7.6 .3 9.6 .3-9.1 .3 8 .3-7.5 .3 8.6 .3-9.1 .3 6.6 .3-8.9 .3 10.1 .3-6.5 .3 8.8 .3-5.2 .3 6.1 .3-7 .3 8.9 .3-8.8 .3 6.8 .3-8.2 .3 10.3 .3-8.7 .3 7.3 .3-3.8 .3 7.1 .3-6.3 .3 7.5 .3-5.6 .3 5.8 .3-6.4 .3 10 .3-7.9 .3 6.5 .3-5.7 .3 8.5 .3-6.7 .3 5.7 .3-7.1 .3 8.5 .3-7.9 .3 7.8 .3-7.1 .3 8.1 .3-10.3 .3 10.4 .3-5.4 .3 6.3 .3-6.1 .3 5.1 .3-6.8 .3 8.2 .3-7.5 .3 7.6 .3-8.2 .3 9.1 .3-6.9 .3 6.6 .3-8.1 .3 9.3 .3-7.5 .3 7.6 .3-9.9 .3 7.3 .3-5.2 .3 8 .3-7.7 .3 5.7 .3-6 .3 6.9 .3-9.1 .3 8.8 .3-6.4 .3 6.8 .3-6.6 .3 6.4 .3-7.7 .3 8.4 .3-6.2 .3 5.9 .3-8.3 .3 5.1 .3-7.1 .3 7.4 .3-7.2 .3 5.6 .3-6.2 .3 7.6 .3-6.4 .3 7 .3-9.3 .3 8.9 .3-6.4 .3 8.1 .3-7.9 .3 8.8 .3-8.5 .3 7.4 .3-6.1 .3 5.7 .3-5.1 .3 9 .3-7.1 .3 8.5 .3-9.6 .3 8.2 .3-9.6 .3 9.4 .3-7.4 .3 6.5 .3-7.2 .3 7.8 .3-8.2 .3 6.2 .3-6.7 .3 9.8 .3-4.7 .3 7.8 .3-9.6 .3 10.3 .3-8.9 .3 10.4 .3-10.6 .3 10.7 .3-8.7 .3 9.5 .3-6.5 .3 7.5 .3-5.8 .3 8.2 .3-7.4 .3 9 .3-7.9 .3 9.7 .3-10.1 .3 10.8 .3-8.8 .3 6.5 .3-7.4 .3 10.1 .3-9.9 .3 10 .3-9 .3 8.7 .3-8.3 .3 7.2 .3-7.7 .3 8.8 .3-8.1 .3 7.5 .3-5.4 .3 8.3 .3-9.3 .3 7.2 .3-7.6 .3 9.7 .3-9.1 .3 8.4 .3-8.5 .3 9.2 .3-6.1 .3 6.1 .3-5.8 .3 7.6 .3-8.1 .3 7.5 .3-8.7 .3 9.6 .3-8.9 .3 9.1 .3-8.5 .3 8.9 .3-6.1 .3 7.9 .3-8.5 .3 7.1 .3-3.1 .3 7.5 .3-5.6 .3 6.3 .3-5.6 .3 6.3 .3-4.8 .3 5.8 .3-4.1 .3-302.2 .6 307.8 .6-307.8 .7 307.8 .6-307.8 .6 307.8 .6-307.8 .6 307.8 .7-307.8 .6 307.8 .6-307.8 .6 307.8 .6-307.8 .7 307.8 .6-307.8 .3 10.3 .3-7.9 .3 9.6 .3-9.3 .3 13.2 .3-11.8 .3 16.7 .3-12.6 .3 7.9 .3-9.8 .3 13.3 .3-16.4 .3 9.3 .3-8.5 .3 9.3 .3-12.3 .3 13.5 .3-8.3 .3 6.4 .3-6.4 .3 15.3 .3-11.5 .3 11.3 .3-13.7 .3 9.9 .3-8.6 .3 6.3 .3-6.1 .3 13.3 .3-12.5 .3 10.7 .3-7.1 .3 14.7 .3-14.8 .3 10.5 .3-7.5 .3 9.7 .3-14.5 .3 14.1 .3-12.5 .3 16.2 .3-13.4 .3 14.4 .3-9.3 .3 14.2 .3-12.9 .3 10.1 .3-12 .3 12.5 .3-12 .3 8.8 .3-9.1 .3 11.5 .3-10.9 .3 7.4 .3-11.6 .3 11.7 .3-12.1 .3 11.9 .3-11.4 .3 11.6 .3-16.1 .3 18.2 .3-11.7 .3 9 .3-12.6 .3 13.5 .3-10.7 .3 15.2 .3-9.9 .3 11.1 .3-11.3 .3 10.9 .3-13.4 .3 13.8 .3-13.3 .3 12.8 .3-9.5 .3 12.1 .3-14.2 .3 13.6 .3-15.5 .3 11.4 .3-10 .3 11.9 .3-10.9 .3 11.6 .3-15.2 .3 12.6 .3-10.3 .3 13.1 .3-9.8 .3 11.3 .3-10.9 .3 11.5 .3-15.1 .3 11.4 .3-11.8 .3 15.7 .3-15.3 .3 12 .3-13.2 .3 10.4 .3-13.3 .3 17.8 .3-15.6 .3 11.6 .3-14.5 .3 8.7 .3-11.9 .3 11.3 .3-10.3 .3 5.7 .3-13 .3 18.8 .3-13.3 .3 14.5 .3-10 .3 11.3 .3-11.2 .3 10.6 .3-12.1 .3 10.4 .3-10.4 .3 11.9 .3-9.4 .3 7.7 .3-10.6 .3 7.7 .3-5.1 .3 7.5 .3-10.8 .3 8.8 .3-10.6 .3 11.2 .3-9.5 .3 9.6 .3-8.6 .3 8.4 .3-12.9 .3 12.9 .3-14.8 .3 12.1 .3-12.5 .3 14.2 .3-9.6 .3 11.1 .3-10.3 .3 7.5 .3-9.9 .3 10.4 .3-12.9 .3 14.4 .3-14.4 .3 9 .3-10.3 .3 7.3 .3-10.4 .3 11.4 .3-10.7 .3 11.9 .3-10.7 .3 12.2 .3-11.8 .3 9 .3-6.8 .3 6.3 .3-9.2 .3 10.6 .3-13 .3 14.1 .3-10.6 .3 13 .3-13.3 .3 11.9 .3-14.9 .3 13.3 .3-7.3 .3 12.1 .3-20.3 .3 16.5 .3-12.3 .3 17.1 .3-19 .3 21.6 .3-17.5 .3 17.6 .3-14.2 .3 17.6 .3-19.6 .3 15.6 .3-17.8 .3 18.2 .3-17 .3 19.7 .3-16.1 .3 15.3 .3-12.5 .3 21 .3-19.2 .3 16.3 .3-15.2 .3 11.1 .3-12.9 .3 16.4 .3-16.6 .3 17.8 .3-14.5 .3 14.4 .3-9.9 .3 17 .3-15.9 .3 11.8 .3-15.2 .3 15.2 .3-13.6 .3 18.1 .3-18.1 .3 17.4 .3-18.4 .3 13.2 .3-14.7 .3 13.8 .3-8 .3 14 .3-16 .3 13.9 .3-13.3 .3 13.7 .3-18.1 .3 10 .3-9.3 .3 14.6 .3-18.4 .3 9.9 .3-14.3 .3 17.3 .3-12.4 .3 16.8 .3-15.1 .3 19.8 .3-14.5 .3 11.4 .3-9 .3 10.5 .3-15.1 .3 15.9 .3-13.5 .3 12.5 .3-16.3 .3 15.9 .3-15.9 .3 11 .3-10.2 .3 16.4 .3-18 .3 13.6 .3-13.4 .3 13.1 .3-16.4 .3 15.5 .3-12.9 .3 14.8 .3-16 .3 25.2 .3-16.4 .3 13.8 .3-19.3 .3 15.4 .3-12 .3 13.9 .3-17.4 .3 19.4 .3-15.1 .3 11.8 .3-10.4 .3 11.5 .3-16.7 .3 14.7 .3-10.9 .3 16.4 .3-24.3 .3 17.4 .3-16.4 .3 11.3 .3-13.5 .3 13.1 .3-11.7 .3 14.7 .3-15.1 .3 18.4 .3-15.7 .3 16.3 .3-16.8 .3 15.5 .3-22.9 .3 17.5 .3-12 .3 14.9 .3-13.3 .3 17.7 .3-20.1 .3 16.7 .3-14.3 .3 14.9 .3-20.1 .3 22.1 .3-17.2 .3 18.8 .3-12.9 .3 11.7 .3-15.3 .3 12.8 .3-11.9 .3 11.3 .3-12.9 .3 12.2 .3-12.7 .3 11.9 .3-10.2 .3 10.2 .3-11.6 .3 11 .3-19.3 .3 17.7 .3-21 .3 16.9 .3-13.7 .3 13.6 .3-12.3 .3 15.2 .3-16 .3 15.2 .3-16.4 .3 16.5 .3-14.7 .3 12.2 .3-19 .3 17.7 .3-15.6 .3 19.9 .3-15.2 .3 12.6 .3-16.9 .3 10 .3-14.4 .3 14.3 .3-14.4 .3 14.2 .3-13.7 .3 12.2 .3-15.9 .3 11.2 .3-10.8 .3 18 .3-20 .3 16.7 .3-12.7 .3 18.7 .3-19.9 .3 17.7 .3-18 .3 10.2 .3-9.6 .3 9.5 .3-12.9 .3 11.8 .3-12.6 .3 15.3 .3-13 .3 14.1 .3-15 .3 10.7 .3-11.8 .3 19.6 .3-13.8 .3 13.3 .3-16 .3 15.3 .3-14.2 .3 15 .3-13.7 .3 14.2 .3-15.3 .3 10.1 .3-10.8 .3 21.1 .3-22.4 .3 15 .3-11.3 .3 14.1 .3-15.4 .3 15.5 .3-14.2 .3 13.5 .3-16 .3 18.2 .3-22.1 .6 307.8 .6-307.8 .6 307.8 .7-307.8 .6 307.8 .6-307.8 .6 307.8 .6-307.8 .7 307.8 .6-307.8 .6 307.8 .6-307.8 .6 307.8 .7-307.8 .6 307.8 .6-307.8 .6 307.8 .6-307.8 .7 307.8 .6-307.8 .6 307.8 .6-307.8 .6 307.8 .7-307.8 .4 3.5 .1-3.5 0 307.8 .2-13.9 .3 12.6 .3-15.4 .3 9.7 .3-15.7 .3 9.1 .3-16.3 .3 14.8 .3-15.3 .3 13.5 .3-11.6 .3 10.8 .3-19.3 .3 15 .3-18 .3 12.6 .3-17.6 .3 15.7 .3-21.1 .3 16.4 .3-19.3 .3 12.7 .3-15.7 .3 20.8 .3-20.6 .3 16.3 .3-17.8 .3 16 .3-21.5 .3 18.9 .3-15.7 .3 10.6 .3-14.5 .3 15.7 .3-16.6 .3 18.3 .3-19.5 .3 17.2 .3-25.4 .3 19.5 .3-12.1 .3 14.9 .3-20.1 .3 17.4 .3-19 .3 13.4 .3-12.7 .3 11.5 .3-15.4 .3 14.5 .3-15.8 .3 8.6 .3-16.9 .3 19.1 .3-18.3 .3 25.9 .3-23.3 .3 20.5 .3-21.2 .3 23 .3-25.6 .3 22.3 .3-25.7 .3 23 .3-22.1 .3 15.7 .3-16.1 .3 15.5 .3-21.9 .3 20.5 .3-22.3 .3 17.5 .3-15 .3 16.5 .3-26.3 .3 12.4 .3-12.2 .3 15 .3-19.8 .3 17.7 .3-19.3 .3 18.8 .3-16.2 .3 17.4 .3-23 .3 21.3 .3-15.6 .3 13.4 .3-15.3 .3 16.8 .3-22.9 .3 17.3 .3-17.8 .3 21 .3-20 .3 14.6 .3-21.4 .3 25.9 .3-28.9 .3 18.1 .3-21.1 .3 23.8 .3-20.8 .3 17.2 .3-16.7 .3 11.9 .3-15.7 .3 11.2 .3-17.3 .3 22.7 .3-21.1 .3 16.6 .3-21.5 .3 13.4 .3-23.9 .3 22.7 .3-15.9 .3 15.8 .3-23.7 .3 23.4 .3-15.7 .3 13.4 .3-18 .3 15.7 .3-24.4 .3 21.6 .3-17.1 .3 19 .3-22.9 .3 17.9 .3-22.6 .3 19.1 .3-14.7 .3 13.1 .3-17 .3 13 .3-16.4 .3 18.6 .3-21.1 .3 10.5 .3-15.7 .3 14.1 .3-12.3 .3 17.1 .3-23.3 .3 13.3 .3-14.2 .3 12.7 .3-18 .3 17.7 .3-17.5 .3 14.7 .3-15.5 .3 12.8 .3-19 .3 12.7 .3-19.1 .3 18.8 .3-15.8 .3 17.9 .3-24.6 .3 22.6 .3-20.3 .3 15.9 .3-16.3 .3 7.9 .3-14.8 .3 19.4 .3-21.2 .3 16.9 .3-15.6 .3 14.2 .3-16 .3 19 .3-24 .3 17.6 .3-17.6 .3 19.6 .3-21.1 .3 16.8 .3-23.4 .3 14.7 .3-24.1 .3 24.6 .3-19.7 .3 11.9 .3-15 .3 14.3 .3-20.8 .3 16 .3-17.7 .3 15.3 .3-20.8 .3 21.4 .3-22.8 .3 18.2 .3-24.5 .3 22.9 .3-22.2 .3 11 .3-15.3 .3 18.8 .3-23 .3 13.9 .3-17.7 .3 20 .3-16.2 .3 17.6 .3-20.8 .3 14.3 .3-20.9 .3 18.5 .3-20.2 .3 17.5 .3-15.6 .3 18.6 .3-21.1 .3 21.8 .3-20 .3 18.6 .3-26 .3 25.4 .3-22.2 .3 14.2 .3-17.5 .3 23.6 .3-26.4 .3 20.6 .3-18.7 .3 15.5 .3-15.6 .3 23.6 .3-20.2 .3 15 .3-14.9 .3 15.3 .3-17.6 .3 16.2 .3-13.7 .3 20.7 .3-20.7 .3 18.1 .3-25.3 .3 27.3 .3-22.8 .3 17.1 .3-14.1 .3 17.8 .3-19.1 .3 15 .3-19.1 .3 25.6 .3-21.6 .3 18.4 .3-21.1 .3 20.8 .3-17.3 .3 14.8 .3-19.1 .3 23.4 .3-23 .3 16.4 .3-16.6 .3 19.2 .3-19.4 .3 20.8 .3-18 .3 16.3 .3-13.4 .3 17.7 .3-21.5 .3 16.3 .3-13.7 .3 15.1 .3-18 .3 20.5 .3-17.8 .3 19.8 .3-16.9 .3 16.3 .3-16.8 .3 21.3 .3-20.7 .3 15.3 .3-16.4 .3 20.9 .3-18.1 .3 16.1 .3-16 .3 22.3 .3-15 .3 13.8 .3-17.6 .3 14 .3-12.3 .3 12.8 .3-11.6 .3 14.2 .3-16.6 .3 18.5 .3-15.4 .3 18.6 .3-14.3 .3 16.7 .3-19.8 .3 17.8 .3-16.3 .3 14.8 .3-18.2 .3 21.1 .3-22.1 .3 22.5 .3-19.2 .3 19 .3-16.9 .3 14.9 .3-14.7 .3 18.4 .3-13.8 .3 13.9 .3-16.7 .3 18 .3-14.3 .3 12.6 .3-15.9 .3 17.6 .3-17.9 .3 15.7 .3-11.3 .3 13.7 .3-12.8 .3 18.4 .3-19.4 .3 12.7 .3-9.7 .3 9.5 .3-9 .3 9.7 .3-12.4 .3 18.4 .3-12.4 .3 10.8 .3-12.9 .3 18.1 .3-16.7 .3 15.2 .3-17.2 .3 16.9 .3-9.8 .3 15.2 .3-15.1 .3 8 .3-14.9 .3 14.7 .3-12.3 .3 13.5 .3-15.1 .3 11.6 .3-10.5 .3 15.4 .3-12.9 .3 12.9 .3-16 .3 11.6 .3-11 .3 13.1 .3-13.9 .3 15.8 .3-11.6 .3 13.8 .3-12.3 .3 12.2 .3-19.4 .3 15.7 .3-11 .3 15.9 .3-16.3 .3 16.9 .3-16.8 .3 19.7 .3-13.2 .3 11.7 .3-14 .3 12.8 .3-14.1 .3 14.4 .3-12.9 .3 15.6 .3-11.4 .3 10.3 .3-10.7 .3 10.8 .3-15.6 .3 15.7 .3-10 .3 10 .3-12.5 .3 11.4 .3-11.6 .3 14 .3-15.9 .3 11.6 .3-13.5 .3 12.8 .3-10.2 .3 11.2 .3-9.6 .3 13.3 .3-11.6 .3 11.2 .3-11.9 .3 12.9 .3-11.5 .3 12.6 .3-16.3 .3 13.9 .3-12.4 .3 14.6 .3-13.5 .3 11.8 .3-10.9 .3 12.4 .3-13.7 .3 11.7 .3-9.6 .3 11.9 .3-13.8 .3 14 .3-10.6 .3 11.5 .3-12.3 .3 12.2 .3-8.4 .3 9.9 .3-12.6 .3 15.2 .3-11.9 .3 13.1 .3-17.2 .3 11.5 .3-9.5 .3 11.3 .3-9.5 .3 10.1 .3-12 .3 12.2 .3-10.4 .3 10 .3-8.4 .3 12.4 .3-13.2 .3 15.9 .3-18.1 .3 16.5 .3-13.3 .3 13.2 .3-15.3 .3 17.1 .3-15 .3 15.3 .3-11.7 .3 10.2 .3-13.8 .3 15.5 .3-13.5 .3 14.7 .3-11.2 .3 8.4 .3-13.5 .3 13.1 .3-12.9 .3 10.5 .3-11.6 .3 15.9 .3-13.6 .3 11.4 .3-12.4 .3 12.1 .3-9.7 .3 12.5 .3-10.7 .3 9 .3-9.2 .3 10.9 .3-17.6 .3 12.8 .3-12.2 .3 12 .3-12.1 .3 11 .3-8.4 .3 7.2 .3-9.1 .3 11.4 .3-14.4 .3 17.4 .3-15.7 .3 13.7 .3-13.6 .3 16 .3-8.3 .3 11.5 .3-16.8 .3 12.9 .3-6.5 .3 9.2 .3-10.8 .3 12.3 .3-14.4 .3 16.7 .3-13 .3 14.5 .3-11.6 .3 11.3 .3-16.1 .3 10.8 .3-14.6 .3 12 .3-9.3 .3 11.1 .3-10.7 .3 12.5 .3-9.3 .3 7.3 .3-7.6 .3 9.2 .3-10.4 .3 12.6 .3-14.6 .3 12.5 .3-11.4 .3 13.6 .3-12.7 .3 11.4 .3-12.1 .3 14 .3-12.5 .3 10.7 .3-11.7 .3 18 .3-12.1 .3 5.9 .3-11.8 .3 14.2 .3-12.8 .3 11.5 .3-10 .3 11.3 .3-10 .3 10.4 .3-8.3 .3 12.8 .3-15.8 .3 11.9 .3-8.7 .3 11.8 .3-11.6 .3 11.9 .3-13.2 .3 17.2 .3-14.1 .3 10 .3-8.8 .3 9.7 .3-10.1 .3 7.6 .3-9 .3 12.9 .3-12.9 .3 14 .3-10 .3 11.9 .3-10.1 .3 8.8 .3-14.8 .3 11.4 .3-7.1 .3 8.8 .3-12.4 .3 11.9 .3-13.3 .3 13.7 .3-9.3 .3 8.1 .3-8.4 .3 8.9 .3-13.7 .3 14.2 .3-14.6 .3 15.9 .3-10.9 .3 12.4 .3-12.5 .3 9.8 .3-10 .3 10.4 .3-11.5 .3 12 .3-11.5 .3 8.5 .3-7.7 .3 12.5 .3-11.6 .3 9 .3-10.7 .3 11.4 .3-9.1 .3 12.4 .3-10.5 .3 8.7 .3-13.1 .3 8.5 .3-11 .3 13.6 .3-9.9 .3 9.8 .3-8.8 .3 9.9 .3-10.7 .3 10.1 .3-8.7 .3 14 .3-9.6 .3 5.6 .3-12.1 .3 13.4 .3-7.8 .3 9.1 .3-9.4 .3 8.3 .3-12.2 .3 10.6 .3-9.2 .3 10.8 .3-9.4 .3 7.8 .3-6.7 .3 12.8 .3-10.5 .3 7.6 .3-7.2 .3 12.3 .3-13.8 .3 12 .3-13.6 .3 10.9 .3-9.1 .3 10.3 .3-13.5 .3 11.4 .3-11 .3 13 .3-8.9 .3 6.3 .3-8.3 .3 12.9 .3-9.2 .3 7.5 .3-10.5 .3 13.1 .3-11.4 .3 10.3 .3-9.9 .3 9.6 .3-8.8 .3 9.7 .3-7.5 .3 8.1 .3-10 .3 10.3 .3-10.4 .3 13.2 .3-11.8 .3 9.9 .3-11.7 .3 12.4 .3-8 .3 9.7 .3-11.7 .3 7.9 .3-12.1 .3 13 .3-9.9 .3 9.2 .3-7.2 .3 9.2 .3-10 .3 9.7 .3-6.5 .3 8.5 .3-10.5 .3 11.2 .3-12.7 .3 10.8 .3-9.8 .3 11.1 .3-11.3 .3 10 .3-8.7 .3 9.7 .3-10 .3 9.1 .3-10.3 .3 8.3 .3-8.9 .3 9.9 .3-8.8 .3 9.2 .3-10.5 .3 11.2 .3-8.9 .3 10.2 .3-8.5 .3 11.1 .3-14.9 .3 14.5 .3-11 .3 9.6 .3-11.2 .3 9.3 .3-9.6 .3 11.2 .3-10.4 .3 12 .3-8.9 .3 9.4 .3-12 .3 11.2 .3-9.8 .3 12.8 .3-10.8 .3 11.3 .3-9.8 .3 9.8 .3-8.2 .3 8 .3-12.3 .3 9.6 .3-12.3 .3 13.3 .3-10.5 .3 9.1 .3-12.2 .3 13.1 .3-9.4 .3 11.7 .3-11.4 .3 9 .3-7.1 .3 9.3 .3-11.8 .3 11.3 .3-8 .3 10.3 .3-9.4 .3 11.1 .3-9.9 .3 10.8 .3-11 .3 10.4 .3-7.3 .3 8.5 .3-12 .3 9.6 .3-8 .3 8.9 .3-8.7 .3 7.3 .3-7.5 .3 8.9 .3-9.3 .3 11.7 .3-10.4 .3 7.9 .3-7.4 .3 11 .3-11.2 .3 10.9 .3-12.5 .3 9.7 .3-7.4 .3 8.6 .3-4.6 .3 9.5 .3-12.8 .3 11.5 .3-10.6 .3 10.9 .3-11.9 .3 11 .3-8.8 .3 8.8 .3-8.6 .3 11 .3-12.6 .3 13.7 .3-9 .3 7.6 .3-9.7 .3 10.7 .3-9.7 .3 12.5 .3-13.9 .3 8.6 .3-9.2 .3 8.1 .3-8.8 .3 8.5 .3-4.9 .3 10.4 .3-9.3 .3 8.3 .3-10.6 .3 10.2 .3-9.2 .3 8.3 .3-10 .3 10.6 .3-9 .3 10.6 .3-10.3 .3 7.5 .3-9.6 .3 10.9 .3-7.6 .3 10.2 .3-8.6 .3 8.8 .3-8.1 .3 8.9 .3-10 .3 8.7 .3-8.6 .3 10.4 .3-8.9 .3 11.3 .3-9.7 .3 8.8 .3-8.4 .3 8.7 .3-6.3 .3 7.1 .3-6.9 .3 9.3 .3-10.1 .3 9.3 .3-8.9 .3 7.3 .3-8.2 .3 9.9 .3-10 .3 9.9 .3-9 .3 10.7 .3-8.1 .3 7.5 .3-9.3 .3 9.9 .3-8 .3 7 .3-8.3 .3 6.9 .3-9.4 .3 9 .3-8.9 .3 7.4 .3-8.6 .3 5.8 .3-6.3 .3 5.2 .3-6.9 .3 3.2 .3-5.2 .3 4.2 .3-7.1 .3 5.6 .3-5.7 .3 4.4 .3-6.4 .3 7.2 .3-4.8 .3 4.8 .3-4.2 .3 5.4 .3-4.9 .3 5.8 .3-5.8 .3 7 .3-4.2 .3 4.5 .3-3.3 .3 4 .3-4.4 .3 6.1 .3-4.4 .3 5.2 .3-3.7 .3-17.2 .3-26.9 .3-15.8 .3-25.1 .3-16.4 .3-5.8 .3 3.5 .3-4.4 .3 2.7 .3-5.5 .3 2.4 .3-3.5 .3 1.7 .3-4.9 .3 2.6 .3-4.5 .3 3.5 .3-1.8 .3 5 .3-1.6 .3 5.1 .3-3.2 .3 6.1 .3-1.7 .3 5.2 .3-2.8 .3 5.5 .3-2.9 .3 6.3 .3-4.3 .3 6.7 .3-2.8 .3 5.5 .3-2.8 .3 6.6 .3-3 .3 4.3 .3-.3 .3 5.9 .3-4.6 .3 6.5 .3-4.1 .3 6.9 .3-4.1 .3 8.8 .3-5 .3 8 .3-5.7 .3 6.7 .3-3.1 .3 5.4 .3-4.3 .3 7.8 .3-4.6 .3 5.7 .3-4.3 .3 5.6 .3-3.8 .3 6.8 .3-2.5 .3 5.2 .3-3.2 .3 7.6 .3-4.1 .3 5.3 .3-3.2 .3 5.7 .3-4.3 .3 5.7 .3-3.3 .3 7 .3-4.5 .3 6.1 .3-3.8 .3 5.6 .3-3.4 .3 7.1 .3-3.9 .3 5 .3-3.7 .3 6.3 .3-3.8 .3 6.9 .3-5.4 .3 7.1 .3-4.1 .3 6.5 .3-5.4 .3 6.1 .3-4 .3 6.7 .3-3.2 .3 4.1 .3-3.9 .3 6.8 .3-5.6 .3 7.7 .3-5.7 .3 7.3 .3-4.8 .3 5.1 .3-4 .3 6.9 .3-7 .3 10.3 .3-7.5 .3 7.3 .3-3.2 .3 6.7 .3-4.6 .3 4.8 .3-4.8 .3 7.4 .3-7.7 .3 7.7 .3-4.8 .3 7.3 .3-6.3 .3 7.6 .3-7.5 .3 8.9 .3-7.1 .3 6.4 .3-6.7 .3 9.1 .3-5.6 .3 5.2 .3-5.2 .3 10 .3-8.5 .3 7.2 .3-5.7 .3 6.7 .3-7.2 .3 9.8 .3-8.8 .3 9.1 .3-9 .3 7.4 .3-5.6 .3 5.1 .3-6.5 .3 7.2 .3-8.8 .3 7.4 .3-6 .3 4.6 .3-6.7 .3 7.5 .3-9.6 .3 11 .3-10.2 .3 9.5 .3-10.5 .3 6.9 .3-6.9 .3 8.4 .3-11 .3 8.4 .3-8.1 .3 7.7 .3-7.1 .3 9.8 .3-10.4 .3 7.2 .3-7.3 .3 6.4 .3-7.8 .3 8.1 .3-10.7 .3 6.6 .3-5.5 .3 5.1 .3-6.7 .3 6.3 .3-8.2 .3 4.7 .3-8.1 .3 5.4 .3-7.9 .3 7.4 .3-8.8 .3 6.3 .3-6.6 .3 6.2 .3-3 .3 4.3 .3-5.6 .3 8.2 .3-7.3 .3 7.7 .3-5.1 .3 4.4 .3-4.3 .3 8 .3-7.3 .3 7.8 .3-7.7 .3 6.8 .3-5.2 .3 8.1 .3-9 .3 9 .3-6.6 .3 7.8 .3-7.5 .3 8 .3-4.6 .3 5.3 .3-6.3 .3 8.8 .3-5.6 .3 7 .3-5.6 .3 5.2 .3-3.8 .3 6.1 .3-6.2 .3 6.8 .3-4.5 .3 5.8 .3-3.7 .3 6.4 .3-6 .3 7.9 .3-5.3 .3 5.2 .3-6.3 .3 8.6 .3-5.9 .3 5.7 .3-4.1 .3 6.3 .3-5.2 .3 6 .3-6.1 .3 9 .3-7.2 .3 7.6 .3-5.2 .3 7.4 .3-6.1 .3 6.6 .3-6.5 .3 8.8 .3-8.1 .3 7.6 .3-6 .3 8.2 .3-6.8 .3 9.3 .3-7.1 .3 8.3 .3-7 .3 6.3 .3-5 .3 9.9 .3-8.2 .3 7.5 .3-6.9 .3 9.7 .3-8.3 .3 7 .3-4.7 .3 6.7 .3-5.6 .3 9.2 .3-7.3 .3 8.2 .3-5.9 .3 7.7 .3-8.8 .3 9 .3-6.5 .3 7.1 .3-5.5 .3 11 .3-7.7 .3 5.7 .3-4.7 .3 5.9 .3-6.5 .3 9.3 .3-7 .3 6.9 .3-6.3 .3 9.5 .3-8 .3 7.7 .3-7.7 .3 9.9 .3-9.4 .3 9.6 .3-7.1 .3 8.7 .3-7.3 .3 7.5 .3-7.4 .3 8.9 .3-7.8 .3 7.7 .3-4.8 .3 6.7 .3-5.5 .3 7.7 .3-8.4 .3 9.4 .3-7.3 .3 8.8 .3-6.4 .3 7.2 .3-8.3 .3 11.2 .3-7.9 .3 8.8 .3-9 .3 7.7 .3-7.9 .3 10.3 .3-8.2 .3 8 .3-7.1 .3 9.2 .3-9.7 .3 7.7 .3-7.4 .3 8.9 .3-6 .3 8.1 .3-8 .3 8.7 .3-8 .3 6.6 .3-5.4 .3 6.3 .3-4.5 .3 7.7 .3-8.7 .3 8.3 .3-8.1 .3 9.6 .3-8.1 .3 7.1 .3-7.3 .3 7.5 .3-6.4 .3 7.2 .3-6.1 .3 9.5 .3-8.5 .3 6.6 .3-5.6 .3 6.9 .3-5.6 .3 9.3 .3-7.7 .3 7.5 .3-8.9 .3 7.2 .3-6.1 .3 7.3 .3-5.1 .3 6.8 .3-5.3 .3 7.5 .3-7.3 .3 8.9 .3-8.2 .3 8 .3-8.6 .3 10 .3-7.3 .3 7 .3-5.4 .3 5.7 .3-7.4 .3 9.8 .3-6.5 .3 9.1 .3-9 .3 7.4 .3-8.8 .3 7.8 .3-7.9 .3 8.7 .3-7.7 .3 7.7 .3-7 .3 8 .3-8.4 .3 7.4 .3-6.5 .3 7.6 .3-6.4 .3 5.6 .3-7.4 .3 7.1 .3-6.5 .3 8.1 .3-7.6 .3 7.9"/>
<rect class="ax" x="70.5" y="1287.5" width="1050.3" height="342"/>
<path class="tk" d="M333.1 1629.5v-10.5M333.1 1287.5v10.5M595.6 1629.5v-10.5M595.6 1287.5v10.5M858.2 1629.5v-10.5M858.2 1287.5v10.5M70.5 1458.5h10.5M1120.8 1458.5h-10.5M70.5 1287.5h10.5M70.5 1629.5h10.5M1120.8 1287.5h-10.5M1120.8 1629.5h-10.5M70.5 1287.5v10.5M70.5 1629.5v-10.5M1120.8 1287.5v10.5M1120.8 1629.5v-10.5"/>
</g>
<g id="ax-NOISE">
<path class="d" clip-path="url(#c7)" d="M1237.5 1304.6l.6 307.8 .6-307.8 .7 307.8 .6-307.8 .6 307.8 .6-307.8 .6 307.8 .7-307.8 .6 307.8 .6-307.8 .6 307.8 .6-307.8 .7 307.8 .6-307.8 .6 307.8 .6-166.2 .3 37 .3-30 .3-20.1 .3-65.5 .3 23.7 .3-40.3 .3-46.4 .3 2.5 .3 70.8 .3 128.9 .3-107.6 .3-31.7 .3-62.9 .3 0 .3 48.8 .3 48.1 .3 47.7 .3-12.7 .3 40.5 .3-65.5 .3-11.4 .3-95.5 .3 71.5 .3 64.2 .3 43.6 .3-37.5 .3 51.9 .3-116.9 .3-2.4 .3 58.6 .3-19.8 .3-13.3 .3-70.4 .3 47.3 .3-76.8 .3 0 .3 0 .3 23.5 .3 40.3 .3-36.5 .3-27.3 .3 0 .3 0 .3 0 .3 0 .3 0 .3 0 .3 0 .3 0 .3 0 .3 0 .3 18.1 .3 33.8 .3-23.1 .3 81.2 .3 20.9 .3-55.2 .3 187 .3-11 .3-77.4 .3 133.5 .3 0 .3 0 .3 0 .3 0 .3-32.5 .3 32.5 .3-9.4 .3-298.4 0 307.8 .3 0 .3 0 .3-10.3 .3 1.8 .3 8.5 .3-80.5 .3 80.5 0-307.8 .3 307.8 .3-84.3 .3 35.6 .3 41.5 .3 7.2 .3 0 .3-307.8 0 307.8 .3 0 .3 0 .3 0 .3-61.7 .3 61.7 .3-307.8 0 307.8 .3-10 .3-120.9 .3 39.1 .3-41.8 .3-40 .3-83 .3-10.4 .3 17.7 .3-22.5 .3 64 .3 41.5 .3 39.8 .3-45.9 .3 128.5 .3 43.9 0-307.8 .3 121.1 .3 98.7 .3 10.1 .3-42.6 .3-7.1 .3-31.6 .3-148.6 0 307.8 .3-159.2 .3-37.2 .3-13.4 .3-90 .3 33.7 .3-8.2 .3-.4 .3 17.1 .3-50.2 .3 79.4 .3 60.7 .3 40.8 .3 6.4 .3 29.8 .3 62.3 .3 28.4 0-307.8 .3 307.8 .3-66 .3-48.8 .3-16 .3 84.9 .3-7.9 .3 19.9 .3-10.1 .3 11.8 .3 32.2 .3 0 .3 0 .3-307.8 0 307.8 .3 0 .3 0 .3 0 .3 0 .3 0 .3 0 .3 0 .3-128.4 .3 13.4 .3-40 .3 155 0-307.8 .3 189 .3-85.2 .3 42 .3 48.6 .3 50.8 .3-65.9 .3-43.7 .3-28.3 .3 68.9 .3-52.7 .3-8.8 .3-40 .3-17.4 .3-15.9 .3-12.2 .3 21.1 .3 8.5 .3 23.6 .3-9.1 .3 6.8 .3-17.9 .3-17.2 .3 37.4 .3-19.8 .3 27.4 .3 55.8 .3 58.1 .3-28.8 .3 73.3 .3-248.4 .6 307.8 .7-307.8 .6 307.8 .6-307.8 .6 307.8 .6-307.8 .7 307.8 .6-307.8 .6 307.8 .6-307.8 .6 238.8 .3 5.6 .3 11.7 .3 6.3 .3-35.2 .3-6.8 .3 4.3 .3-21.1 .3 36.7 .3-8.1 .3 39.3 .3-9.5 .3-16.7 .3 19.3 .3 20.4 .3-11.3 .3-2.2 .3-6.5 .3-1.5 .3 9.5 .3 2.3 .3 .7 .3 2.1 .3-38.9 .3-8.5 .3 12.5 .3-5.6 .3-36.1 .3 31.2 .3 11.4 .3 8.9 .3-10.4 .3 65.2 .3 0 .3 0 .3 0 .3 0 .3-63.6 .3 6.3 .3-68.4 .3-3.7 .3 25.8 .3-97.4 .3 97 .3-39.8 .3-26.8 .3 81.7 .3-57.5 .3 79.1 .3-39.9 .3 14 .3-31 .3 2.1 .3-17.2 .3 13.2 .3-5.2 .3-3.1 .3-15.3 .3 17.4 .3-7.9 .3-1.5 .3-.1 .3-2.1 .3-19.7 .3 1.3 .3-16.5 .3 18 .3-4.1 .3 2.1 .3-15.3 .3 5.8 .3-15.3 .3 15.4 .3-6.9 .3 2.3 .3-5.1 .3 4.9 .3-25.5 .3 19.8 .3-7.9 .3 4.7 .3-13.4 .3 18.2 .3-9.2 .3 16.2 .3-8.1 .3 7.3 .3-6.2 .3 9.2 .3-26.3 .3 2.3 .3 6.9 .3 0 .3-30.7 .3 11.4 .3-11.4 .3 10.8 .3-13.8 .3 11.5 .3-8.2 .3 9.1 .3-7.6 .3 8.6 .3-16.6 .3 5 .3 1.3 .3 8.4 .3-20.8 .3 20 .3-9.1 .3-1.9 .3-12 .3 9.6 .3-4.1 .3 9.6 .3-24.9 .3 6.6 .3-7.2 .3 18.8 .3-15.1 .3 9 .3-7.3 .3 8.2 .3-12.8 .3-3.3 .3-7 .3 4 .3-4.3 .3 8.6 .3-12.6 .3 21.6 .3-3.9 .3 2 .3-4.5 .3 16.2 .3-10.9 .3 3.1 .3 1.6 .3 5.3 .3-10.5 .3 6.3 .3-10.9 .3 8.5 .3-10.9 .3 1.1 .3-28.7 .3 6.5 .3-3.5 .3 7.9 .3-30.2 .3 16.7 .3-12.2 .3-4.8 .3-14.4 .3 0 .3 0 .3 0 .3 0 .3 0 .3 89.9 .3 217.9 0-307.8 .3 122.1 .3 21.2 .3 22.4 .3-13.9 .3 11 .3 8.2 .3-171 0 307.8 .3-156.5 .3 16 .3 140.5 .3 0 .3 0 .3 0 .3 0 .3 0 .3-54.3 .3 54.3 .3 0 .3 0 .3-10.2 .3-78.8 .3 35 .3-25.1 .3-37.4 .3-15.7 .3 62.9 .3 17.3 .3 26.8 .3-28 .3 23.1 .3-51.9 .3-5.3 .3 2.3 .3 80 .3-58.6 .3-.2 .3-19.2 .3 83 .3-27.6 .3-65.3 .3 13.1 .3 38.1 .3 40.1 .3 1.6 .3-32.4 .3-94.6 .3-9.9 .3 28.2 .3 108.7 0-307.8 .3 189.4 .3 40.2 .3 9.1 .3-21.2 .3-18 .3 13.6 .3 18 .3 35.5 .3-48.5 .3-20.9 .3 8.8 .3 4.9 .3-91.9 .3-24.9 .3-4.5 .3 54.8 .3-44.8 .3 22.4 .3-9.4 .3-8 .3 41.1 .3 39.1 .3-13.7 .3-10 .3 64.8 .3 46.2 .3-44.1 .3-25.3 .3-58.6 .3-31 .3-53.6 .3 23.7 .3 224.6 0-307.8 .3 128.9 .3 49.7 .3-49.4 .3-7.7 .3 4.2 .3-2.8 .3-59.3 .3 3.9 .3 5.3 .3 122.9 .3-19.2 .3 33.3 .3-55.6 .3 15.9 .3-44.8 .3 48.5 .3-62.7 .3-15.5 .3 24.4 .3 2.9 .3 28.4 .3-.5 .3-28.3 .3 47.8 .3 20 .3-64.9 .3-31.6 .3 20.5 .3-81.8 .3-23 .3 37.1 .3 54.7 .3-48.8 .3 68.2 .3 6.1 .3 18.9 .3-12.5 .3 24.5 .3 12.5 .3-30.8 .3 57.2 .3 25.8 .3-48.3 .3-6.5 .3-35.4 .3-53.1 .3-4 .3 4.6 .3-21.9 .3 9.8 .3-58 .3 21.5 .3 6.8 .3 11.2 .3-27 .3 7.3 .3 42 .3 18 .3 61.4 .3 35 .3 24.6 .3 22.7 .3 61.8 .3-22.9 .3-16.2 .3-2.2 .3 54.2 .3 0 .3 0 .3 0 .3-22.7 .3-53.3 .3-17.1 .3 49 .3-14.1 .3 16.7 .3 18.5 .3-42.2 .3-97.2 .3-38.1 .3 51.7 .3-56.9 .3-26.4 .3 44.2 .3 109.8 .3-15.3 .3-79.6 .3-12 .3-40.8 .3 52.3 .3-21.7 .3 26.9 .3 3.4 .3-45 .3 31.7 .3-39.4 .3 156.6 .3 43 .3-12.8 .3-.3 .3 29.4 .3-52.5 .3-30.7 .3-32.2 .3-35.2 .3-37.9 .3 23.2 .3 46.9 .3 46.4 .3 14 .3-29.7 .3-46.5 .3 10.4 .3 18.8 .3-38.5 .3-2.2 .3 76.5 .3-21.5 .3-71.7 .3-16.4 .3 31.1 .3 21.8 .3 17.7 .3 29.9 .3-53.3 .3 44 .3-24.3 .3 113.6 0-307.8 .3 152.9 .3 20.5 .3-8.4 .3-39.4 .3-12.5 .3-71.7 .3 2.3 .3 94.3 .3 67.7 .3-34.1 .3 43.2 .3-214.8 0 307.8 .3-39.7 .3 39.7 .3 0 .3 0 .3 0 0-307.8 .3 307.8 .3-88.4 .3-5.3 .3 2.2 .3-35.1 .3 2.7 .3-52.8 .3 10.4 .3-21 .3 29.4 .3-85.2 .3-30 .3 34.5 .3-17.8 .3 256.4 0-307.8 .3 28.4 .3 84.1 .3-83.7 .3-28.8 .3 63.6 .3 77.9 .3 50.3 .3 116 0-307.8 .3 203.1 .3 36 .3 12.2 .3-89.8 .3 8.4 .3-169.9 0 307.8 .3-166.8 .3 86.7 .3-128.3 .3 45.9 .3 12.3 .3 58.8 .3 59.3 .3 32.1 0-307.8 .3 307.8 .3-8.4 .3-55.7 .3-17 .3 33.2 .3 47.9 0-307.8 .3 232.7 .3 27.2 .3-6.9 .3-11.3 .3-14.7 .3-79.4 .3 22.4 .3 15.2 .3-69.5 .3 .1 .3-16.3 .3-32 .3-67.5 0 307.8 .3-133.9 .3 60.8 .3-62.6 .3 46 .3-40.5 .3-177.6 0 307.8 .3-140.1 .3-107.2 .3 15.6 .3 75.8 .3 20.1 .3-157.7 .3-14.3 .3 14.6 .3 28.2 .3-42.8 0 307.8 .3-272.3 .3 12 .3-11.1 .3 117.9 .3 103.5 .3-9.4 .3 59.4 .3 0 .3 0 .3-112.7 .3 40 .3 39.2 .3-33.1 .3-28 .3-30 .3-37.2 .3 24.1 .3 33.8 .3-58.7 .3 21.6 .3 3 .3-2.4 .3 56.6 .3-36.7 .3 40 .3 5.3 .3 23.8 .3 15.3 .3-22.9 .3-100.8 .3 6.3 .3 6.1 .3-22.8 .3-105.3 .3-26.2 .3 11.3 .3 12.2 .3 68.7 .3 41.4 .3-4.7 .3-17 .3-22.7 .3-27.1 .3 40.5 .3-18.1 .3 46.8 .3 17.4 .3 2.6 .3-52.2 .3 7.5 .3-71.2 .3 16.5 .3-53.4 .3 108.7 .3-23.6 .3 3.3 .3-8.4 .3 28.4 .3-41.5 .3-4.5 .3-4.4 .3 48.7 .3 20 .3 46.4 .3-.7 .3-49.2 .3-18.4 .3 21.1 .3-5 .3 23.7 .3 28 .3 13.8 .3-22.9 .3 24.4 .3-1.2 .3-47.8 .3 18.9 .3 13.4 .3 24.1 .3-47.3 .3-12.9 .3-29.1 .3 21.9 .3-2.2 .3-43.6 .3 221.1 .7-307.8 .6 307.8 .6-307.8 .6 307.8 .6-307.8 .7 307.8 .6-307.8 .6 307.8 .6-307.8 .6 307.8 .7-307.8 .6 307.8 .6-307.8 .6 307.8 .6-307.8 .7 307.8 .6-307.8 .6 307.8 .6-307.8 .6 307.8 .7-307.8 .6 307.8 .6-307.8 .6 307.8 .6-307.8 .7 307.8 .6-307.8 .6 307.8 .6-307.8 .6 307.8 .7-307.8 .6 307.8 .6-307.8 .6 307.8 .6-307.8 .7 307.8 .6-307.8 .6 307.8 .6-307.8 .6 307.8 .7-307.8 .6 307.8 .6-307.8 .6 257.8 .3-90.5 .3-13.9 .3 24.6 .3-75.9 .3-53.9 .3 47.1 .3 76.5 .3 6.6 .3-14.9 .3-32.7 .3 74.8 .3 6.4 .3 31.8 .3-40.6 .3 19 .3 62.7 .3-69.1 .3 10.7 .3-73.6 .3-12.5 .3 13.1 .3-36 .3 46.4 .3-15.9 .3 52.5 .3-30.3 .3-18.2 .3-15.8 .3-44 .3 0 .3-82.4 .3 47.2 .3 30.4 .3 16.4 .3-62.1 .3-41.7 .3 8.9 .3 30.9 .3-39.8 .3 19 .3 62.2 .3 35.5 .3-42.8 .3-3 .3 38.4 .3 10.7 .3 33.8 .3 22.2 .3-41 .3 40.2 .3 29 .3 45.1 .3-2.6 .3-49.9 .3-4.1 .3-45.2 .3 28.2 .3 54.9 .3-26.9 .3-6.3 .3 37.1 .3 3.9 .3 4.2 .3-99 .3-27.2 .3 34.1 .3-37 .3 17.2 .3-42 .3 20.8 .3 46.9 .3 16.2 .3-66.8 .3 32.3 .3-8.1 .3 37.1 .3 40.4 .3-57 .3 15.5 .3-74.9 .3 26.7 .3-13.4 .3-19.8 .3 27.6 .3-63.7 .3 2.7 .3-25 .3 40.3 .3-16.1 .3 20.8 .3 94.8 .3-2.3 .3 33.3 .3 31.1 .3-33.4 .3-6.7 .3-90.9 .3 23.8 .3-58 .3 30.9 .3 77.3 .3 31.6 .3 4.7 .3 30.1 .3-39.3 .3 10.9 .3-34.7 .3 18.4 .3-62.3 .3 31.5 .3-36.5 .3-34.3 .3-19.7 .3 59.5 .3 3.6 .3 12 .3-8.2 .3-138.4 0 307.8 .3-155.6 .3 8.6 .3 4.1 .3-59.8 .3 30.3 .3 11.1 .3-146.5 0 307.8 .3-163.7 .3-2.4 .3 47.2 .3-37.2 .3-13.4 .3-21.7 .3-5.3 .3 34.2 .3-17.6 .3-13.9 .3 94.3 .3-35.9 .3 8.5 .3 40 .3 46.2 .3 40.7 .3 0 .3 0 .3 0 .3 0 .3-54.9 .3-88.3 .3 10.1 .3 15.2 .3-60.1 .3 13.1 .3 29.6 .3-20.1 .3-60.9 .3-25.3 .3 16.9 .3 4.3 .3 41.9 .3-22.7 .3 83.7 .3-65.1 .3 21.6 .3-29.4 .3 55.2 .3-29 .3 70.6 .3-22.3 .3-4.1 .3-28.2 .3 .2 .3-9.9 .3 39.1 .3 20.3 .3 24.5 .3-39.4 .3 5.2 .3-16.6 .3 22.3 .3-11 .3 7.4 .3-7.1 .3-5.3 .3-14.1 .3 10.7 .3-3.5 .3 12.4 .3-8.6 .3 8.4 .3 6.9 .3 19 .3-30.2 .3 2.6 .3-15.6 .3-13 .3-21 .3 11.1 .3 1.6 .3 16.7 .3-8.5 .3 12.4 .3-12.9 .3 11.4 .3-21.8 .3 14 .3-5.1 .3 19.9 .3-3.3 .3 14.9 .3-10.2 .3-5.8 .3-8.2 .3 3.9 .3-4.1 .3-.9 .3-8.5 .3 4.7 .3-17.8 .3-1.2 .3-17.9 .3 14.8 .3-8.3 .3-7.8 .3 6.4 .3 17.1 .3 1.3 .3-8.5 .3-22.6 .3 5.7 .3-7.2 .3 .4 .3-9.3 .3 10.7 .3-20.2 .3 20.4 .3-10.5 .3 2.8 .3-4.2 .3 12.4 .3-23.1 .3 21.5 .3-14 .3 2.2 .3-21.8 .3 6.7 .3 5 .3-12.3 .3-7.4 .3 17.4 .3-18.8 .3 11.7 .3-15.1 .3-.4 .3 2.3 .3 8.9 .3-25.9 .3 4.8 .3 0 .3 9.5 .3-18.2 .3-2.1 .3-17.5 .3 9.4 .3-2 .3 11.4 .3-23.3 .3 17.6 .3-15.1 .3 21.7 .3 7.3 .3 6.8 .3-10.4 .3 3.5 .3-10 .3 17 .3-26.8 .3-4.1 .3-6.8 .3 18.7 .3-18.8 .3 41.2 .3-9.4 .3 7.6 .3-7.1 .3 7.1 .3-11.3 .3 2.9 .3-19.6 .3 5.3 .3-17.1 .3 11.5 .3-8 .3 11.3 .3-16.7 .3-11.6 .3-9.2 .3 124.2 .3-93 .3 91.4 .3-130.1 0 307.8 .3-297.6 .3 39 .3-49.2 .3 77.7 .3-61.6 .3 82.5 .3-49 .3 40.6 .3-90.2 .3 67.2 .3-67.2 .3 0 0 307.8 .3-227.9 .3-71 .3 65.4 .3-45.3 .3 72.3 .3-69.3 .3 54.5 .3-86.5 .3 49.6 .3-49.6 0 307.8 .3-307.8 .3 41.4 .3-41.4 .3 102 .3-102 .3 92 .3-92 .3 92.6 .3-87.3 .3 41.3 .3-46.6 0 307.8 .3-307.8 .3 66.7 .3-66.7 .3 63.8 .3-63.8 .3 307.8 0-307.8 .3 9.6 .3-9.6 .3 24 .3-24 .3 28.9 .3-28.9 .3 43.7 .3-43.7 .3 20.9 .3-20.9 .3 34.7 .3 273.1 0-307.8 .3 0 .3 42 .3-42 .3 48.8 .3-48.8 .3 0 0 307.8 .3-229.8 .3-78 .3 72.5 .3-66.3 .3 61.3 .3-38.3 .3-29.2 0 307.8 .3-200.2 .3-79.4 .3 76.2 .3-104.4 .3 72.8 .3-42.8 .3 60.6 .3-90.6 .3 87.1 .3-87.1 .3 84.7 .3-77 .3 300.1 0-307.8 .3 101.2 .3-80.5 .3 82.5 .3-69.3 .3 132.5 .3-115.4 .3 99.6 .3 157.2 0-307.8 .3 105.3 .3 37.1 .3-94.5 .3 75.1 .3-93 .3 70.7 .3-68.3 .3-32.4 0 307.8 .3-173.3 .3-85.8 .3 88.9 .3-97.1 .3 114.3 .3-154.8 0 307.8 .3-214.2 .3 69.9 .3-42.6 .3 37.8 .3 149.1 0-307.8 .3 70 .3 38.2 .3-46.9 .3 56.3 .3-81.9 .3 95.1 .3-80.8 .3 95 .3-114.4 .3 74.4 .3-59.8 .3 49.2 .3-94.4 0 307.8 .3-293.1 .3 101 .3-75.2 .3 52.9 .3 214.4 0-307.8 .3 74.8 .3 100.2 .3-74.1 .3 84.3 .3-67.5 .3 88.9 .3-113.8 .3 215 0-307.8 .3 186.7 .3-83.6 .3 54.2 .3-44.2 .3 50.6 .3 144.1 0-307.8 .3 45.1 .3 98.5 .3-71.2 .3 106.1 .3-64.9 .3 89.9 .3-90.9 .3 40 .3-152.6 0 307.8 .3-230.3 .3 88.7 .3-98.7 .3 108.5 .3-81.4 .3 49.2 .3-82.3 .3-61.5 0 307.8 .3-150.3 .3-102.7 .3 61.6 .3-99.5 .3 53.2 .3-69.3 .3 81.5 .3 225.5 0-307.8 .3 27.5 .3 97 .3-68.4 .3 95 .3-71.5 .3 44.7 .3-60 .3 73.4 .3-112.6 .3 69 .3-87.1 .3 300.8 0-307.8 .3 40.4 .3-40.4 .3 78.4 .3-75.7 .3 102.4 .3-105.1 .3 108 .3-83.4 .3 110.1 .3-90.6 .3 76.5 .3-102.5 .3-18.1 0 307.8 .3-209.5 .3-83.1 .3 85.9 .3-101.1 .3 112 .3-112 .3 48.3 .3-48.3 .3 59.7 .3-59.7 .3 110.6 .3-92.1 .3 115.1 .3-133.6 0 307.8 .3-236.1 .3 66.5 .3-104.3 .3 106 .3-31.8 .3 10.6 .3 59.6 .3 9 .3-31.4 .3 23.9 .3-95.2 .3 10.2 .3-31.3 .3 4.7 .3-1.3 .3 .1 .3 39 .3-19.8 .3 20.8 .3-7.4 .3 17.2 .3 48.6 .3-52.1 .3-70.9 .3 35.6 .3 24.7 .3-9.7 .3 11.2 .3 .6 .3 43.6 .3-21.9 .3-72.7 .3 35.9 .3-25.5 .3-19 .3 8.8 .3 19.6 .3 16.7 .3-53.6 .3-26.5 .3 .6 .3 35 .3-45.8 .3 0 .3 6.3 .3 55.1 .3 34.5 .3 69 .3-42.1 .3 24.4 .3 57.7 .3 57.3 .3 18.1 .3-7.4 .3 15.6 .3-8.9 .3 28.2 .3 0 .3-4.8 .3-303 0 307.8 .3-81 .3 .1 .3-41.6 .3-43.3 .3 61.4 .3-86.2 .3 79.4 .3-54.7 .3 105.8 .3-9.7 .3-15.8 .3 30.7 .3-76.7 .3 58 .3 9.4 .3-7.4 .3 32.4 .3-37.5 .3 28.9 .3-9.5 .3-3.5 .3 60.8 .3 0 .3 0 .3 0 .3 0 .3 0 .3 0 .3 0 .3-34.5 .3-4.5 .3 30.8 .3-46.1 .3-30.7 .3 85 .3 0 .3-4.4 .3-53.9 .3-4.4 .3 1.3 .3 16.5 .3-49.6 .3 94.5 .3-54.5 .3-50.1 .3 33.1 .3 9.1 .3 29.9 .3-5 .3 .6 .3-21.6 .3-30.6 .3 63.7 .3 25.4 .3-40.4 .3 40.4 .3 0 .3-77.9 .3 49.9 .3 28 .3-10.6 .3 10.6 .3 0 .3 0 .3-28.9 .3-81 .3 30.8 .3-8.7 .3 29.2 .3-67.2 .3 28.3 .3 30.1 .3 28.5 .3-11.2 .3-44.2 .3-22.2 .3 68.4 .3-39.4 .3-31.4 .3-188.9 .6 307.8 .7-307.8 .6 307.8 .6-307.8 .6 307.8 .6-307.8 .7 307.8 .6-307.8 .6 307.8 .6-307.8 .6 307.8 .7-307.8 .6 307.8 .6-307.8 .6 307.8 .6-307.8 .7 307.8 .6-307.8 .6 307.8 .6-307.8 .6 227 .3-38.2 .3 13.5 .3-34.3 .3 19.3 .3 47.2 .3-1.7 .3-17.4 .3-12.2 .3 38.7 .3-2.9 .3-20.7 .3 14.8 .3 13.2 .3-.9 .3-19.4 .3 13.3 .3 18.1 .3-5.7 .3-25.2 .3 5.8 .3 1.3 .3-5.8 .3-19.2 .3-.8 .3-27.3 .3 26.2 .3 19.6 .3 12.7 .3-10 .3 78.8 .7-307.8 .6 307.8 .6-307.8 .6 307.8 .6-307.8 .7 307.8 .6-307.8 .6 307.8 .6-307.8 .6 307.8 .7-307.8 .6 307.8 .6-307.8 .6 307.8 .6-307.8 .7 307.8 .6-307.8 .6 307.8 .6-307.8 .6 307.8 .7-171 .3 36.2 .3 13.2 .3 3.6 .3-6.1 .3 34.7 .3-14.2 .3 9.4 .3-6.6 .3 64 .3 30.4 .3-49 .3-15.2 .3-25.8 .3-75.6 .3 69.9 .3-25.1 .3-21.9 .3-26.7 .3 24.1 .3-53.7 .3 18.6 .3-67.6 .3 86.8 .3-12.5 .3 2.7 .3 15 .3 26.1 .3-20.9 .3 69.9 .3-74.8 .3-94.7 .3 89 .3-16.8 .3-20.4 .3 19.2 .3 81.2 .3 21.1 .3-68.5 .3 7 .3 3.2 .3-33.9 .3-57.6 .3-29.8 .3 51.9 .3 .1 .3 61.6 .3-26.4 .3 32.3 .3 86.8 .3-21.8 .3 17.6 .3-3 .3 15.8 .3 36.5 .3-71.2 .3 29.3 .3-46.6 .3 17.3 .3-9 .3-21.6 .3-14.8 .3-30.7 .3-13.9 .3-134.9 .6 307.8 .6-307.8 .6 307.8 .6-307.8 .7 307.8 .6-307.8 .6 307.8 .6-307.8 .6 307.8 .7-307.8 .6 281 .3 17.3 .3 9.5 .3 0 .3 0 .3 0 .3 0 .3 0 .3 0 .3-25.7 .3 .3 .3 25.4 .3 0 .3 0 .3 0 .3 0 .3 0 .3 0 .3 0 0-307.8 .3 261 .3 8.4 .3 4.4 .3 34 .3 0 .3-11.4 .3-2.2 .3-74 .3-62.1 .3 142.4 .3 7.3 .3-60.4 .3 60.4 .3 0 .3-68.8 .3-19.1 .3 14.9 .3 9.1 .3-60.1 .3-65.1 .3 44.4 .3-46.8 .3 39.9 .3-82.5 .3-54.4 .3 63.5 .3 44.5 .3-23 .3 60.8 .3-18 .3 70.4 .3-217.5 0 307.8 .3-104.7 .3 69.9 .3-75.7 .3 74 .3 24.5 .3 12 .3-307.8 0 307.8 .3-140.2 .3 51.7 .3 47.7 .3-25.5 .3-40 .3 17.2 .3-65.1 .3-19.8 .3 33.8 .3 57.5 .3 66.1 .3-90.2 .3 47.9 .3 55.7 .3 .7 .3-54.2 .3-154.2 .3 15.3 .3-8.1 .3 5.9 .3-44.7 .3 47.8 .3-40.6 .3 22.2 .3 2.8 .3-27.2 .3-28.3 .3 49.2 .3 37.1 .3 28.1 .3-7.2 .3 11 .3-86.2 .3 13.5 .3 34.3 .3-8.5 .3-12.5 .3 3.5 .3 .7 .3-11.1 .3-19.7 .3-8.5 .3 22.8 .3 19.8 .3 27.4 .3-7.1 .3-27.6 .3 20.6 .3-16.3 .3-13.7 .3-29.6 .3-52.7 .3-9.3 .3 0 .3 29.5 .3 4.2 .3-5.4 .3 7.5 .3 19.2 .3-52 .3 5.9 .3 18 .3-4.1 .3 14.9 .3 46.3 .3 34.7 .3-40.1 .3-15.9 .3-62.7 .3 32.8 .3 32.8 .3-45.5 .3 51.1 .3-38.5 .3 13.9 .3 45 .3 53.3 .3-7 .3-48.3 .3 19.6 .3 26.5 .3 44 .3 24 .3-35.2 .3-74.6 .3-23.3 .3 18.1 .3-51.3 .3 50.3 .3 43.1 .3-30.6 .3-5.5 .3-22.1 .3 43.4 .3-59.9 .3 43 .3-38.7 .3-10.2 .3-32.2 .3 39 .3 1.8 .3 57.3 .3 25.9 .3 6.8 .3 38.8 .3-10.9 .3-4.7 .3-60.5 .3-14.6 .3 7.9 .3-52.7 .3 37.1 .3-31.8 .3-23.7 .3 70.6 .3-9.5 .3 54.4 .3 74.5 .3-67.9 .3 37.6 .3-26.9 .3 29.5 .3 18.5 .3-15.7 .3-51.5 .3 8.2 .3 51.6 .3-19.8 .3-35.5 .3 17.1 .3-38.2 .3-12.3 .3 14 .3 42 .3-3.7 .3 31.7 .3 7.7 .3-22.3 .3-73.3 .3 13.6 .3-3 .3 84.9 .3-23.5 .3 34.2 .3-53.4 .3-45.9 .3-75.2 .3 38.2 .3 14 .3-37.4 .3-22.6 .3-1.3 .3-11.8 .3 75.6 .3 17 .3-26.9 .3 1.9 .3-24.3 .3-14.1 .3 84.6 .3-21.1 .3 43.4 .3 44.8 .3-26.5 .3-87.2 .3 23.3 .3 50.5 .3-14 .3-72.2 .3 47.1 .3 11.3 .3 22.4 .3 37.4 .3-7.4 .3-42.9 .3-3.2 .3 21.7 .3-35.6 .3-16.8 .3-87 .3 35 .3-9.4 .3-52.7 .3 28 .3 39.5 .3-1.9 .3-34.2 .3 40.5 .3 4.1 .3-33.5 .3 9.4 .3-21.1 .3 45.5 .3 9.8 .3-36.1 .3 19.5 .3-11.6 .3 53.3 .3-45.9 .3-.9 .3 29.2 .3 30.7 .3 10.2 .3-9.1 .3 7.5 .3 36.7 .3 10.4 .3 27.3 .3 10.3 .3-26.2 .3-68 .3 23.5 .3 12.9 .3 4.9 .3 44.1 .3-.1 .3 19.1 .3-7.4 .3-82.4 .3 23.6 .3 37.5 .3 1.3 .3-36.4 .3 46.9 .3-2.8 .3-49.2 .3-60.8 .3 46.9 .3 48.8 .3-68 .3 62.7 .3 28 .3-7 .3 41.4 .3-69.7 .3 11 .3-57 .3-.9 .3-41.7 .3-14.1 .3 27.5 .3-13.6 .3 47.8 .3 57.6 .3-20.3 .3-5.7 .3-60.1 .3 95.7 .3 6.5 .3-16 .3 17.7 .3 17.6 .3-13.6 .3-17.8 .3-63.8 .3-30.4 .3 5.9 .3-19.2 .3-42.3 .3 57.8 .3 5.3 .3-32 .3-53.8 .3 38 .3 46.8 .3 46.3 .3-44.5 .3 53.7 .3 29.1 .3-21.2 .3-22.5 .3-26.8 .3-10.1 .3 19.1 .3-17.6 .3-4.5 .3-22.1 .3 13 .3 59.5 .3 27.5 .3 47.4 .3-26.3 .3-30.2 .3-1.1 .3-28.4 .3 25.2 .3-31.9 .3 160.1 0-307.8 .3 119.2 .3-16.8 .3 26.6 .3-6.5 .3 17.5 .3-10.2 .3-129.8 0 307.8 .3-206.3 .3-14.9 .3 34.5 .3 1.3 .3 47 .3 4.3 .3-51.7 .3-68.9 .3-30.3 .3-22.8 .3 0 .3 0 .3 0 .3 0 .3 0 .3 0 .3 119.9 .3-60.5 .3 31 .3 25.7 .3-71.5 .3-16.7 .3 17.9 .3-10.6 .3-10.1 .3 1.7 .3 43.1 .3 77.7 .3-12.8 .3 74.7 .3 34.4 .3-81.3 .3 26.3 .3-24.9 .3 57.5 .3 37.9 .3-13.3 .3-40.6 .3 7.6 .3-60.4 .3 23.3 .3-40.4 .3-48 .3 27.2 .3 6 .3-15.6 .3-47.7 .3-18.9 .3 50.2 .3-18.1 .3-12.4 .3 27.9 .3 24.1 .3 93.3 .3-9.1 .3-35.5 .3-35.8 .3 35.4 .3-8.3 .3 10.5 .3-26.4 .3-27.2 .3-10.2 .3-4.8 .3 31.5 .3-57.4 .3 13 .3-79.3 .6 307.8 .6-307.8 .6 307.8 .7-307.8 .6 307.8 .6-307.8 .6 307.8 .6-307.8 .7 307.8 .6-307.8 .6 307.8 .6-307.8 .6 307.8 .7-307.8 .6 307.8 .6-307.8 .6 307.8 .6-307.8 .7 307.8 .6-307.8 .6 259 .3-69.3 .3 16.9 .3 72.1 .3 29.1 .3 0 .3 0 .3 0 .3 0 .3 0 .3 0 .3 0 .3 0 .3 0 0-307.8 .3 307.8 .3 0 .3-53.5 .3-35.3 .3 88.8 0-307.8 .3 162.3 .3 9.3 .3-118.3 .3 27.1 .3 67.1 .3-12.6 .3-15.4 .3-58.7 .3-60.8 .3 0 .3 27 .3 40.2 .3 95.1 .3 10.3 .3-9.5 .3-34 .3 33.9 .3 103 .3 41.8 .3-12.1 .3-31.8 .3-6.6 .3-10.5 .3 46.2 .3 14.8 0-307.8 .3 224 .3-17.8 .3 62.8 .3 29.8 .3 9 .3 0 .3-57.5 .3-5.8 .3-49.5 .3-5.4 .3-20.3 .3 50.6 .3-4.3 .3-18.1 .3 21 .3 3.5 .3 37.1 .3 48.7 0-307.8 .3 197.8 .3-15.2 .3 15.6 .3 20.8 .3 88.8 .3-95.2 .3-173 .3-39.6 .3 134.2 .3 77.1 .3-38 .3 2.9 .3 9 .3 3.7 .3 43.8 .3 17 .3-34.9 .3-43.2 .3-79.4 .3 28 .3 187.6 0-307.8 .3 143.8 .3 36.3 .3-32.2 .3-104.3 .3-3.5 .3-21.2 .3 50.9 .3-69.8 .3 77.6 .3-77.6 0 307.8 .3-114.1 .3-9.8 .3 17.2 .3-77 .3 18.7 .3-92.8 .3-36.3 .3 43 .3 95.1 .3 14.9 .3 .9 .3-66.9 .3-15.2 .3 5.4 .3 64.7 .3 99.6 .3-58.7 .3-196.5 0 307.8 .3-95.8 .3-16 .3 86.9 .3 7.5 .3-9 .3 18.2 .3 8.2 .3 0 .3-55.4 .3-164.2 .3 77.4 .3 58.6 .3 8.5 .3-33.6 .3-100.1 .3-27.3 .3-71.7 .3 0 .3 0 0 307.8 .3-258.6 .3-3.7 .3 5.7 .3-51.2 .3 0 .3 0 .3 0 .3 0 .3 57.5 .3 39.7 .3 83.1 .3-125.8 .3-15 .3 21.5 .3 16.7 .3 57.6 .3 9.3 .3-144.6 0 307.8 .3-191.3 .3-9.2 .3-31.1 .3 85.3 .3 88.8 .3 39.4 .3 13.2 .3 4.9 .3 0 .3-2.6 .3-15.5 .3 18.1 .3 0 .3-81.8 .3-69 .3 46.6 .3-55.2 .3 15 .3-39.2 .3-78.4 .3 5.5 .3-51.3 0 307.8 .3-299.4 .3-8.4 .3 53.9 .3-53.9 .3 18.5 .3 48.7 .3-67.2 .3 44.7 .3 101.6 .3-95.8 .3 7.5 .3 84.8 .3-13.8 .3-10 .3-44.9 .3 96.8 .3-73.3 .3 16.5 .3 24 .3-53.5 .3 109.6 .3-54.3 .3 39.2 .3 128.7 0-307.8 .3 174.5 .3 25.2 .3-1.2 .3-35.9 .3 2.2 .3 40.9 .3 2.9 .3-14.4 .3-99.7 .3 23.4 .3 67.5 .3-1.1 .3-106.3 .3 40.7 .3 18.5 .3 3.4 .3 58.4 .3 36.8 .3-26.2 .3 51.7 .3-261.3 0 307.8 .3-109.4 .3-20.1 .3-25.6 .3 70.1 .3 85 0-307.8 .3 184.3 .3 71.1 .3-44.4 .3 10.4 .3 20.2 .3-66.1 .3 21.9 .3 110.4 0-307.8 .3 296.5 .3-44.9 .3 56.2 .3-47.7 .3-44.4 .3-22.1 .3 33.4 .3-11.6 .3 24.4 .3 60.8 .3-30.2 .3-84.8 .3 29.3 .3 28.6 .3 64.3 0-307.8 .3 233 .3-77.5 .3-17.1 .3 7.3 .3 24.1 .3 62 .3-48.5 .3 21 .3-8.1 .3 21.5 .3-63.8 .3-45.6 .3-31.3 .3 43.8 .3 44 .3 42.7 .3 67.4 .3-83.8 .3-69.1 .3 75.7 .3 110.1 0-307.8 .3 292.8 .3-9.7 .3 24.7 .3-11.7 .3 11.7 .3-223.1 .3 223.1 0-307.8 .3 88.6 .3-50.5 .3-5.1 .3 7.6 .3 31.3 .3 40.8 .3-10.2 .3-102.5 0 307.8 .3-242.2 .3 34.2 .3 73.2 .3-10.3 .3 80 .3 65.1 .3 0 .3 0 .3 0 .3-307.8 0 307.8 .3 0 .3 0 .3-43 .3 22.6 .3 2.5 .3 17.9 0-307.8 .3 269.7 .3-56.6 .3 5.8 .3-38.3 .3 20.9 .3-13 .3-136 .3 82.8 .3-34 .3 57 .3-142.5 .3 1.9 .3 53 .3 237.1 0-307.8 .3 151.7 .3 3.2 .3-34.7 .3 52.4 .3 55.3 .3 79.9 .3 0 .3-84.7 .3 25.9 .3 38.1 .3 13.2 .3-97.8 .3 13.3 .3-1.1 .3 4.5 .3 54.7 .3 33.9 .3 0 .3 0 .3-19.1 .3-25.3 .3 44.4 0-307.8 .3 298.6 .3-12.7 .3-87.1 .3 33.9 .3 49.3 .3 25.8 .3 0 .3 0 .3 0 .3 0 .3 0 .3 0 .3 0 .3 0 .3 0 .3 0 .3 0 .3 0 .3 0 .3 0 0-307.8 .3 307.8 .3-31.1 .3-11.8 .3 42.9 .3-55.1 .3-12.2 .3 65.7 .3-110 .3 89.9 .3 20.9 .3 .8 .3 0 .3 0 .3 0 .3 0 .3 0 .3-10.7 .3-40.7 .3-152.1 .3 74 .3 129.5 0-307.8 .3 193.3 .3-59.6 .3 57 .3-65.9 .3 173.5 .3-78 .3 87.5 .3 0 .3-47.2 .3-55.3 .3 15.9 .3 66.4 .3-35.6 .3-112.8 .3 168.6 0-307.8 .3 117.9 .3 63.8 .3-93.1 .3-57.3 .3 90 .3 27 .3-51.7 .3-64.2 .3 188.2 .3-64.5 .3-35.2 .3-120.9 0 307.8 .3-174 .3-51.9 .3 4.4 .3-51.9 .3 21.5 .3-20.8 .3-35.1 .3 63.9 .3 243.9 0-307.8 .3 153.2 .3 123.6 .3-41 .3 6 .3-57.5 .3 105.8 .3 17.7 .3-77 .3 14 .3 54 .3 9 .3-56.9 .3 32.1 .3 24.8 .3-15 .3 15 .3 0 .3-12.9 .3-10.8 .3-54.8 .3-23.3 .3 25 .3-60.4 .3 3.3 .3 9.6 .3 47.5 .3-75.8 .3 1.4 .3 12.5 .3-27.6 .3-24.1 .3 18.2 .3 6 .3-11.3 .3 67.5 .3 16.5 .3 30.3 .3 41.1 .3-40.9 .3-8.8 .3 11.5 .3-37.1 .3 40.3 .3 20 .3-33.4 .3-5.2 .3 7.7 .3 33.6 .3-77.5 .3 81 .3-96.7 .3 63.2 .3-5.8 .3-2.4 .3-43.8 .3 7.4 .3-198.8 .6 307.8 .6-307.8 .7 307.8 .6-307.8 .6 307.8 .6-307.8 .6 307.8 .7-307.8 .6 307.8 .6-307.8 .6 307.8 .6-307.8 .7 307.8 .6-307.8 .6 155.4 .3 97.5 .3-39.1 .3 16.5 .3 33.5 .3-5.4 .3 7.5 .3-8 .3-32.2 .3-59.5 .3 9.2 .3 23.9 .3 24.7 .3-20.5 .3-42.7 .3-53 .3 8.8 .3 10.6 .3 14.3 .3-70.3 .3 73.5 .3-39.4 .3 77.7 .3-7.2 .3-76.6 .3-5.2 .3-3.8 .3 37 .3-47.9 .3 7 .3 8.5 .3 34.6 .3 30 .3-73.5 .3 5.7 .3 19.8 .3 11.5 .3-94.6 .3-3.9 .3 38.5 .3 33.8 .3-47.1 .3 258.2 .6-307.8 .6 307.8 .7-307.8 .6 307.8 .6-307.8 .6 307.8 .6-307.8 .7 307.8 .6-307.8 .6 307.8 .6-307.8 .6 307.8 .7-307.8 .6 307.8 .6-307.8 .6 307.8 .6-307.8 .7 54.8 .3-39.1 .3 58 .3-73.7 .3 0 .3 0 .3 0 .3 31.4 .3 58.9 .3-90.3 .3 33.9 .3-33.9 .3 4.9 .3 111.7 .3 92.4 .3-30.8 .3 75.5 .3-163.3 .3 59.8 .3 131.5 .3-69 .3-7.7 .3 22.3 .3-27.4 .3-45.1 .3-.6 .3 14.6 .3-47.3 .3-58.4 .3-18.8 .3 79.1 .3-2.1 .3-6 .3 7.7 .3 67.7 .3-14.8 .3-23.2 .3-26.7 .3 32.4 .3-70.9 .3 102.7 .3-26.7 .3 26.1 .3 41.1 .3 70.6 .3-3.8 .3-115.2 .3 16.7 .3-103.4 .3 .2 .3 30.1 .3-125.9 0 307.8 .3-172.7 .3 51.1 .3-41.8 .3 25.5 .3 16.3 .3-51.1 .3-10.3 .3 51 .3 13 .3-188.8 0 307.8 .3-45.8 .3 4.3 .3-68.2 .3 4.6 .3 60.2 .3 .3 .3-20.9 .3-3.7 .3 2.1 .3-95.9 .3-9.5 .3-135.3 0 307.8 .3-270.8 .3 57.4 .3 10.6 .3 92.2 .3 110.6 0-307.8 .3 99.2 .3 11.5 .3-9.1 .3-69.9 .3 7.3 .3 40.8 .3 4.5 .3 23.2 .3-21 .3-25.2 .3-61.3 .3 0 0 307.8 .3-147 .3-35 .3 48.9 .3-52 .3-66.1 .3-35.2 .3 55.8 .3 73 .3 71.1 .3-61.3 .3 23.8 .3 39.7 .3-38.2 .3 25.8 .3 40.5 .3 5.9 .3-.6 .3-8.9 .3 22.2 .3-53.4 .3 28.4 .3-119.6 .3-12.4 .3-14.9 .3 22.4 .3 9.9 .3-12.4 .3-38.3 .3 10 .3 40.5 .3-1.8 .3-35 .3 24.7 .3 23.8 .3 9.8 .3 36.1 .3-40.5 .3-2.2 .3-7.9 .3-38.7 .3 58.6 .3-23.2 .3 55.5 .3-.6 .3 12.6 .3-48.6 .3 23.7 .3 28.1 .3 44.4 .3-27.4 .3 3 .3 .2 .3-34 .3-43.1 .3 85.3 .3-1.4 .3-14.4 .3 73.9 .3-76.5 .3 19.2 .3-31.3 .3 12.9 .3-3.2 .3 26.3 .3-29.9 .3-37.4 .3 3.5 .3-58.1 .3-30.8 .3-31.2 .3 9.6 .3 24.3 .3-19.5 .3-36.8 .3 49.2 .3-9.5 .3 2.8 .3-13.8 .3 .2 .3 61.1 .3 65.4 .3 2.1 .3 20.6 .3-23.1 .3-2.9 .3-38.3 .3-5.9 .3-21.9 .3 27.2 .3 6.9 .3 44.9 .3-51.5 .3-18.4 .3 16.8 .3 13.2 .3-45.9 .3 7.9 .3 24.9 .3-20.7 .3 15.5 .3-51.8 .3-5.2 .3 10.6 .3-83.9 .3 8.6 .3-17.5 .3 0 .3 0 0 307.8 .3-307.8 .3 0 .3 17.6 .3 19.2 .3 59.2 .3 7.3 .3 27.1 .3 45.7 .3 37.7 .3 94 0-307.8 .3 219.7 .3 44.3 .3-18.2 .3 41.4 .3 20.6 .3 0 .3 0 .3-3.9 .3-303.9 0 307.8 .3-142.6 .3 58.7 .3 70.1 .3-34 .3 47.8 .3-138 .3-17.1 .3 47.8 .3 49.3 .3-84.4 .3-165.4 0 307.8 .3-110.3 .3-23.4 .3-6.2 .3 21.7 .3 62.5 .3-12.3 .3-26.3 .3 30 .3-165.3 .3 13.1 .3 39.4 .3 19.6 .3 31.2 .3-78.1 .3 32 .3 114.9 .3-90.2 .3-30.3 .3-45.4 .3 223.4 0-307.8 .3 134.9 .3 27.1 .3 27.3 .3-31.7 .3-15.5 .3-65.1 .3 43.4 .3 45.2 .3-23.7 .3 6.8 .3 8.4 .3-18 .3 25.7 .3 38.4 .3 48.2 .3 2.6 .3-29.2 .3-4.4 .3-51 .3-13.5 .3 6 .3 1.3 .3 20.9 .3 15.8 .3 43.6 .3 18.2 .3-95.8 .3-76.5 .3 25.4 .3 12.6 .3-93.4 .3-4.6 .3 28.3 .3 85.6 .3-21.4 .3-3 .3 14.3 .3 174.6 0-307.8 .3 222.2 .3 56 .3-24.1 .3-43.7 .3 20.6 .3-11.3 .3 24.1 .3-1.7 .3-145.7 .3 211.4 0-307.8 .3 141 .3-45.8 .3 35.6 .3-93.1 .3 63 .3-28.1 .3-52.1 .3 103.9 .3 22.6 .3 48.7 .3 33.5 .3-229.2 0 307.8 .3-246.8 .3-29 .3 42.8 .3 3.9 .3 21.8 .3 2.9 .3 38.9 .3-10.1 .3-6.3 .3-45.9 .3 44.9 .3-11.2 .3 45.9 .3-31.3 .3-40.2 .3 126.1 .3-52.4 .3-30.9 .3 9.2 .3-115.2 .3 27.2 .3-15.9 .3-35.4 .3-.8 .3 43.1 .3 5.9 .3-1.6 .3-29.6 .3 12.1 .3 38.2 .3 2 .3-8.3 .3-39.7 .3 33.5 .3 88.3 .3-30.3 .3 55.6 .3-67.1 .3-13.1 .3-29 .3-1.7 .3-31.5 .3-15.7 .3-11.1 .3 307.8 .6-307.8 .6 307.8 .6-307.8 .6 307.8 .7-307.8 .6 307.8 .6-307.8 .6 307.8 .6-307.8 .7 307.8 .6-307.8 .6 307.8 .6-307.8 .6 307.8 .7-307.8 .6 307.8 .6-307.8 .6 307.8 .6-307.8 .7 307.8 .6-307.8 .6 307.8 .6-307.8 .6 307.8 .7-307.8 .6 307.8 .6-307.8 .6 307.8 .6-307.8 .7 307.8 .6-307.8 .6 307.8 .6-307.8 .6 307.8 .7-307.8 .6 307.8 .6-307.8 .6 307.8 .6-307.8 .7 307.8 .6-307.8 .6 266.5 .3 32.9 .3-10.4 .3-81.8 .3 1.4 .3-9.3 .3-35.2 .3-8.6 .3 17.5 .3 46.6 .3 45.2 .3-.7 .3-24 .3-15 .3 34.9 .3-7.1 .3-19.4 .3 19.1 .3 25.2 .3 12.9 .3 6.6 .3-16.4 .3-3.7 .3-3.6 .3 34.2 .3 0 .3 0 .3 0 .3-50.7 .3 11.8 .3 23 .3-12.3 .3 9.2 .3 3.8 .3-1.4 .3-58.7 .3 70.5 .3-16.7 .3-13.1 .3-15.6 .3 4 .3-29.4 .3 26.6 .3-22.3 .3 18 .3-58.4 .3-1.5 .3 1.7 .3-43.1 .3-23.1 .3 62.2 .3-15.2 .3 28.4 .3 53.8 .3 29.3 .3-44.5 .3-88.1 .3 10.6 .3 27 .3-193.6 0 307.8 .3-134.5 .3-32.9 .3 8.4 .3-17.2 .3 11.9 .3 41.1 .3 2.7 .3 120.5 0-307.8 .3 183.5 .3-64.6 .3 20.7 .3-18.5 .3 31 .3-15.2 .3 40.7 .3 3.3 .3 11.8 .3-.6 .3 33.4 .3 11.4 .3 3.8 .3 1 .3-31.7 .3 20.3 .3-22.5 .3-60.2 .3-17 .3-23.8 .3 68.9 .3 6.2 .3-20 .3-51.8 .3 30.3 .3-11.2 .3-5.1 .3 18.8 .3-8.9 .3-14 .3 2.3 .3 12.5 .3 20.5 .3 6.6 .3 25.9 .3-38.7 .3-21.8 .3-56.1 .3 45.5 .3-28.5 .3-27.7 .3-16 .3 21.8 .3-28.1 .3 55.4 .3-1.3 .3-7.5 .3-25.6 .3 24.1 .3 31.5 .3 86.8 .3-68.3 .3 15.4 .3 35.9 .3 28 .3-30.7 .3 50.5 .3 13.4 .3-35.4 .3-7.9 .3-14.6 .3-29.4 .3 1.3 .3-46.9 .3 25.2 .3 13.9 .3-152 0 307.8 .3-140.5 .3-12 .3 13.8 .3-143.4 .3 29.6 .3-28.8 .3 19.9 .3-21.5 .3 29.2 .3-18.4 .3 17.8 .3-27.2 .3 33 .3-25 .3 28.3 .3-22.5 .3 28.5 .3-24.3 .3 28.5 .3-28.5 .3 31.2 .3-27.8 .3 32.6 .3-27.3 .3 32.6 .3-38.6 .3 31.7 .3-25.9 .3 19.6 .3-12.9 .3 22.8 .3-26.6 .3 24.9 .3-25.5 .3 28.3 .3-23.8 .3 23 .3-9.5 .3 13.6 .3-17.7 .3 26.1 .3-30.8 .3 28.6 .3-23.5 .3 24.6 .3-30.8 .3 36.7 .3-33.8 .3 34.9 .3-23.9 .3 31.5 .3-23.5 .3 23.3 .3-20.6 .3 19.6 .3-18.1 .3 30.3 .3-26.9 .3 22.5 .3-28.9 .3 26.5 .3-19.4 .3 25.4 .3-14.3 .3 21.8 .3-32.3 .3 30.3 .3-24 .3 19.1 .3-18.3 .3 24.5 .3-23.7 .3 28.9 .3-25.1 .3 27.8 .3-31.4 .3 35.3 .3-31.1 .3 29.4 .3-26.6 .3 28.1 .3-27.5 .3 19.2 .3-17.2 .3 21.6 .3-25.4 .3 30.3 .3-27.5 .3 30.3 .3-21.5 .3 20.9 .3-13.6 .3 34.3 .3-33.7 .3 30 .3-21.4 .3 18.4 .3-30.4 .3 23.9 .3-17 .3 25.6 .3-21.5 .3 30.4 .3-32.4 .3 174.8 0-307.8 .3 172.5 .3-25.4 .3 21.6 .3-16.6 .3 24.9 .3-24 .3 12.8 .3-21.4 .3 32.9 .3-15.3 .3 22.4 .3-27 .3 28.6 .3-20.6 .3 23.9 .3-17.4 .3 16.9 .3-24.3 .3 21.8 .3-18.3 .3 25.8 .3 114 0-307.8 .3 162.8 .3 25.5 .3-21 .3 20.4 .3-29.5 .3 31.3 .3-15.7 .3 31 .3-30 .3 31.8 .3-30.6 .3 29.4 .3-29.4 .3 33.7 .3-21.8 .3 34.1 .3-28.5 .3 24.7 .3-25.7 .3 27.8 .3-31.4 .3 28.6 .3-32.2 .3 25.3 .3-18 .3 29.1 .3-23.5 .3 25 .3-28.2 .3 27.2 .3-22.7 .3 28.2 .3-25.9 .3 26 .3 80 0-307.8 .3 213.7 .3 19.7 .3-16.9 .3 14.2 .3-16.6 .3 20.5 .3-19.4 .3 27.1 .3-23.7 .3 31.1 .3-30.4"/>
<rect class="ax" x="1237.5" y="1287.5" width="1049.9" height="342"/>
<path class="tk" d="M1500 1629.5v-10.5M1500 1287.5v10.5M1762.5 1629.5v-10.5M1762.5 1287.5v10.5M2024.9 1629.5v-10.5M2024.9 1287.5v10.5M1237.5 1458.5h10.5M2287.4 1458.5h-10.5M1237.5 1287.5h10.5M1237.5 1629.5h10.5M2287.4 1287.5h-10.5M2287.4 1629.5h-10.5M1237.5 1287.5v10.5M1237.5 1629.5v-10.5M2287.4 1287.5v10.5M2287.4 1629.5v-10.5"/>
</g>
<g filter="url(#g)">
<text class="tl" x="10.5" y="408.9" textLength="120.1" lengthAdjust="spacingAndGlyphs">00:00</text>
<text class="tl" x="273" y="408.9" textLength="120.1" lengthAdjust="spacingAndGlyphs">06:00</text>
<text class="tl" x="535.6" y="408.9" textLength="120.1" lengthAdjust="spacingAndGlyphs">12:00</text>
<text class="tl" x="798.2" y="408.9" textLength="120.1" lengthAdjust="spacingAndGlyphs">18:00</text>
<text class="tl" x="1060.8" y="408.9" textLength="120.1" lengthAdjust="spacingAndGlyphs">00:00</text>
<text class="tl" x="-29" y="23.8" textLength="79.5" lengthAdjust="spacingAndGlyphs">200</text>
<text class="tl" x="25" y="194.9" textLength="26.5" lengthAdjust="spacingAndGlyphs">0</text>
<text class="tl" x="-40.8" y="365.9" textLength="94.6" lengthAdjust="spacingAndGlyphs">-200</text>
<text class="lb" x="122.5" y="334.8" textLength="91.1" lengthAdjust="spacingAndGlyphs">IND</text>
<text class="lb" x="230.7" y="334.8" textLength="165.5" lengthAdjust="spacingAndGlyphs">Phase:</text>
<text class="lb" x="413.6" y="334.8" textLength="319.5" lengthAdjust="spacingAndGlyphs">08-Dec-2025</text>
<text class="tl" x="1177.5" y="408.9" textLength="120.1" lengthAdjust="spacingAndGlyphs">00:00</text>
<text class="tl" x="1439.9" y="408.9" textLength="120.1" lengthAdjust="spacingAndGlyphs">06:00</text>
<text class="tl" x="1702.4" y="408.9" textLength="120.1" lengthAdjust="spacingAndGlyphs">12:00</text>
<text class="tl" x="1964.9" y="408.9" textLength="120.1" lengthAdjust="spacingAndGlyphs">18:00</text>
<text class="tl" x="2227.3" y="408.9" textLength="120.1" lengthAdjust="spacingAndGlyphs">00:00</text>
<text class="tl" x="1138" y="23.8" textLength="79.5" lengthAdjust="spacingAndGlyphs">200</text>
<text class="tl" x="1192" y="194.9" textLength="26.5" lengthAdjust="spacingAndGlyphs">0</text>
<text class="tl" x="1126.2" y="365.9" textLength="94.6" lengthAdjust="spacingAndGlyphs">-200</text>
<text class="lb" x="1289.5" y="334.8" textLength="98.5" lengthAdjust="spacingAndGlyphs">NLK</text>
<text class="lb" x="1405" y="334.8" textLength="165.5" lengthAdjust="spacingAndGlyphs">Phase:</text>
<text class="lb" x="1588" y="334.8" textLength="319.5" lengthAdjust="spacingAndGlyphs">08-Dec-2025</text>
<text class="tl" x="10.5" y="853.7" textLength="120.1" lengthAdjust="spacingAndGlyphs">00:00</text>
<text class="tl" x="273" y="853.7" textLength="120.1" lengthAdjust="spacingAndGlyphs">06:00</text>
<text class="tl" x="535.6" y="853.7" textLength="120.1" lengthAdjust="spacingAndGlyphs">12:00</text>
<text class="tl" x="798.2" y="853.7" textLength="120.1" lengthAdjust="spacingAndGlyphs">18:00</text>
<text class="tl" x="1060.8" y="853.7" textLength="120.1" lengthAdjust="spacingAndGlyphs">00:00</text>
<text class="tl" x="-29" y="470" textLength="79.5" lengthAdjust="spacingAndGlyphs">200</text>
<text class="tl" x="25" y="640.3" textLength="26.5" lengthAdjust="spacingAndGlyphs">0</text>
<text class="tl" x="-40.8" y="810.7" textLength="94.6" lengthAdjust="spacingAndGlyphs">-200</text>
<text class="lb" x="122.5" y="779.6" textLength="122.2" lengthAdjust="spacingAndGlyphs">NWC</text>
<text class="lb" x="261.8" y="779.6" textLength="165.5" lengthAdjust="spacingAndGlyphs">Phase:</text>
<text class="lb" x="444.8" y="779.6" textLength="319.5" lengthAdjust="spacingAndGlyphs">08-Dec-2025</text>
<text class="tl" x="1177.5" y="853.7" textLength="120.1" lengthAdjust="spacingAndGlyphs">00:00</text>
<text class="tl" x="1439.9" y="853.7" textLength="120.1" lengthAdjust="spacingAndGlyphs">06:00</text>
<text class="tl" x="1702.4" y="853.7" textLength="120.1" lengthAdjust="spacingAndGlyphs">12:00</text>
<text class="tl" x="1964.9" y="853.7" textLength="120.1" lengthAdjust="spacingAndGlyphs">18:00</text>
<text class="tl" x="2227.3" y="853.7" textLength="120.1" lengthAdjust="spacingAndGlyphs">00:00</text>
<text class="tl" x="1138" y="470" textLength="79.5" lengthAdjust="spacingAndGlyphs">200</text>
<text class="tl" x="1192" y="640.3" textLength="26.5" lengthAdjust="spacingAndGlyphs">0</text>
<text class="tl" x="1126.2" y="810.7" textLength="94.6" lengthAdjust="spacingAndGlyphs">-200</text>
<text class="lb" x="1289.5" y="779.6" textLength="109.1" lengthAdjust="spacingAndGlyphs">NDK</text>
<text class="lb" x="1415.7" y="779.6" textLength="165.5" lengthAdjust="spacingAndGlyphs">Phase:</text>
<text class="lb" x="1598.7" y="779.6" textLength="319.5" lengthAdjust="spacingAndGlyphs">08-Dec-2025</text>
<text class="tl" x="10.5" y="1274.6" textLength="120.1" lengthAdjust="spacingAndGlyphs">00:00</text>
<text class="tl" x="273" y="1274.6" textLength="120.1" lengthAdjust="spacingAndGlyphs">06:00</text>
<text class="tl" x="535.6" y="1274.6" textLength="120.1" lengthAdjust="spacingAndGlyphs">12:00</text>
<text class="tl" x="798.2" y="1274.6" textLength="120.1" lengthAdjust="spacingAndGlyphs">18:00</text>
<text class="tl" x="1060.8" y="1274.6" textLength="120.1" lengthAdjust="spacingAndGlyphs">00:00</text>
<text class="tl" x="-29" y="890.8" textLength="79.5" lengthAdjust="spacingAndGlyphs">200</text>
<text class="tl" x="25" y="1061.2" textLength="26.5" lengthAdjust="spacingAndGlyphs">0</text>
<text class="tl" x="-40.8" y="1231.6" textLength="94.6" lengthAdjust="spacingAndGlyphs">-200</text>
<text class="lb" x="122.5" y="1200.5" textLength="78.6" lengthAdjust="spacingAndGlyphs">JAP</text>
<text class="lb" x="218.2" y="1200.5" textLength="165.5" lengthAdjust="spacingAndGlyphs">Phase:</text>
<text class="lb" x="401.2" y="1200.5" textLength="319.5" lengthAdjust="spacingAndGlyphs">08-Dec-2025</text>
<text class="tl" x="1177.5" y="1274.6" textLength="120.1" lengthAdjust="spacingAndGlyphs">00:00</text>
<text class="tl" x="1439.9" y="1274.6" textLength="120.1" lengthAdjust="spacingAndGlyphs">06:00</text>
<text class="tl" x="1702.4" y="1274.6" textLength="120.1" lengthAdjust="spacingAndGlyphs">12:00</text>
<text class="tl" x="1964.9" y="1274.6" textLength="120.1" lengthAdjust="spacingAndGlyphs">18:00</text>
<text class="tl" x="2227.3" y="1274.6" textLength="120.1" lengthAdjust="spacingAndGlyphs">00:00</text>
<text class="tl" x="1138" y="890.8" textLength="79.5" lengthAdjust="spacingAndGlyphs">200</text>
<text class="tl" x="1192" y="1061.2" textLength="26.5" lengthAdjust="spacingAndGlyphs">0</text>
<text class="tl" x="1126.2" y="1231.6" textLength="94.6" lengthAdjust="spacingAndGlyphs">-200</text>
<text class="lb" x="1289.5" y="1200.5" textLength="107.6" lengthAdjust="spacingAndGlyphs">NAA</text>
<text class="lb" x="1414.2" y="1200.5" textLength="165.5" lengthAdjust="spacingAndGlyphs">Phase:</text>
<text class="lb" x="1597.2" y="1200.5" textLength="319.5" lengthAdjust="spacingAndGlyphs">08-Dec-2025</text>
<text class="tl" x="10.5" y="1687.8" textLength="120.1" lengthAdjust="spacingAndGlyphs">00:00</text>
<text class="tl" x="273" y="1687.8" textLength="120.1" lengthAdjust="spacingAndGlyphs">06:00</text>
<text class="tl" x="535.6" y="1687.8" textLength="120.1" lengthAdjust="spacingAndGlyphs">12:00</text>
<text class="tl" x="798.2" y="1687.8" textLength="120.1" lengthAdjust="spacingAndGlyphs">18:00</text>
<text class="tl" x="1060.8" y="1687.8" textLength="120.1" lengthAdjust="spacingAndGlyphs">00:00</text>
<text class="tl" x="-29" y="1302.8" textLength="79.5" lengthAdjust="spacingAndGlyphs">200</text>
<text class="tl" x="25" y="1473.8" textLength="26.5" lengthAdjust="spacingAndGlyphs">0</text>
<text class="tl" x="-40.8" y="1644.8" textLength="94.6" lengthAdjust="spacingAndGlyphs">-200</text>
<text class="lb" x="122.5" y="1613.7" textLength="111.1" lengthAdjust="spacingAndGlyphs">NPM</text>
<text class="lb" x="250.7" y="1613.7" textLength="165.5" lengthAdjust="spacingAndGlyphs">Phase:</text>
<text class="lb" x="433.7" y="1613.7" textLength="319.5" lengthAdjust="spacingAndGlyphs">08-Dec-2025</text>
<text class="tl" x="1177.5" y="1687.8" textLength="120.1" lengthAdjust="spacingAndGlyphs">00:00</text>
<text class="tl" x="1439.9" y="1687.8" textLength="120.1" lengthAdjust="spacingAndGlyphs">06:00</text>
<text class="tl" x="1702.4" y="1687.8" textLength="120.1" lengthAdjust="spacingAndGlyphs">12:00</text>
<text class="tl" x="1964.9" y="1687.8" textLength="120.1" lengthAdjust="spacingAndGlyphs">18:00</text>
<text class="tl" x="2227.3" y="1687.8" textLength="120.1" lengthAdjust="spacingAndGlyphs">00:00</text>
<text class="tl" x="1138" y="1302.8" textLength="79.5" lengthAdjust="spacingAndGlyphs">200</text>
<text class="tl" x="1192" y="1473.8" textLength="26.5" lengthAdjust="spacingAndGlyphs">0</text>
<text class="tl" x="1126.2" y="1644.8" textLength="94.6" lengthAdjust="spacingAndGlyphs">-200</text>
<text class="lb" x="1289.5" y="1613.7" textLength="155.2" lengthAdjust="spacingAndGlyphs">NOISE</text>
<text class="lb" x="1461.8" y="1613.7" textLength="165.5" lengthAdjust="spacingAndGlyphs">Phase:</text>
<text class="lb" x="1644.8" y="1613.7" textLength="319.5" lengthAdjust="spacingAndGlyphs">08-Dec-2025</text>
</g>
</svg>
</body></html>
